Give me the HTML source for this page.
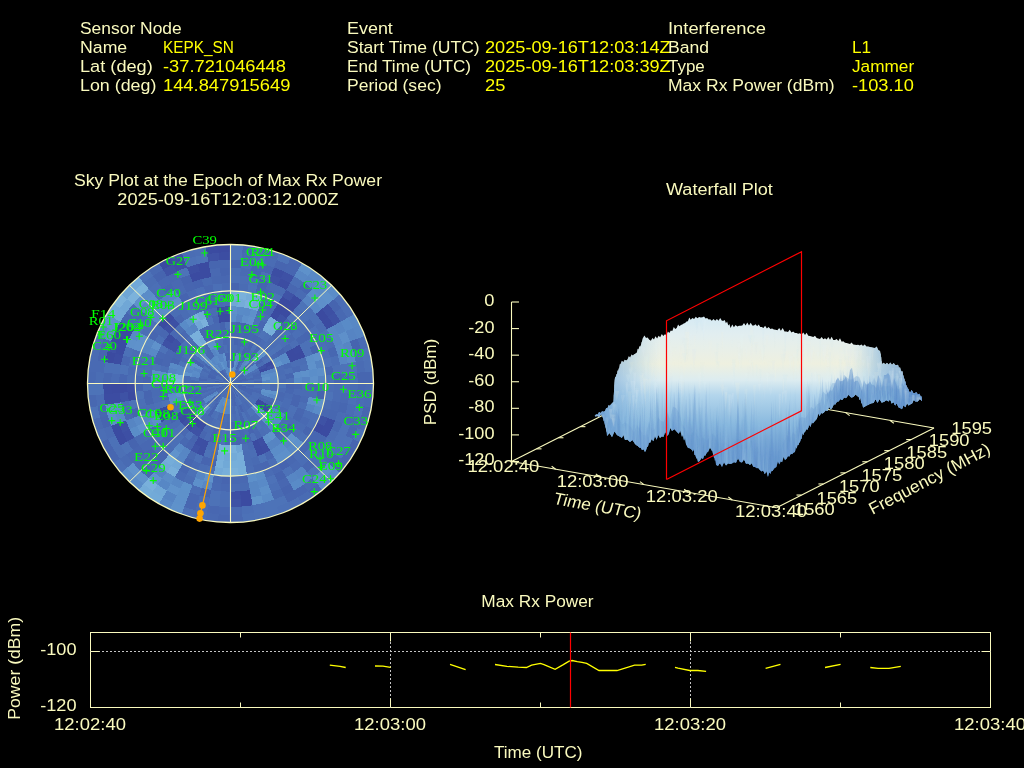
<!DOCTYPE html>
<html><head><meta charset="utf-8"><style>
html,body{margin:0;padding:0;background:#000;width:1024px;height:768px;overflow:hidden}
svg{display:block;will-change:transform}
text{font-family:"Liberation Sans",sans-serif;font-size:16.9px}
.ser{font-family:"Liberation Serif",serif;font-size:13px}
</style></head><body>
<svg width="1024" height="768" viewBox="0 0 1024 768">
<rect width="1024" height="768" fill="#000"/>
<text x="80.00" y="34.00" fill="#fafabe" textLength="101.72" lengthAdjust="spacingAndGlyphs">Sensor Node</text><text x="80.00" y="53.00" fill="#fafabe" textLength="47.22" lengthAdjust="spacingAndGlyphs">Name</text><text x="80.00" y="72.00" fill="#fafabe" textLength="72.77" lengthAdjust="spacingAndGlyphs">Lat (deg)</text><text x="80.00" y="91.00" fill="#fafabe" textLength="76.33" lengthAdjust="spacingAndGlyphs">Lon (deg)</text><text x="163.00" y="53.00" fill="#ffff00" textLength="70.89" lengthAdjust="spacingAndGlyphs">KEPK_SN</text><text x="163.00" y="72.00" fill="#ffff00" textLength="122.94" lengthAdjust="spacingAndGlyphs">-37.721046448</text><text x="163.00" y="91.00" fill="#ffff00" textLength="127.34" lengthAdjust="spacingAndGlyphs">144.847915649</text><text x="347.00" y="34.00" fill="#fafabe" textLength="45.84" lengthAdjust="spacingAndGlyphs">Event</text><text x="347.00" y="53.00" fill="#fafabe" textLength="132.72" lengthAdjust="spacingAndGlyphs">Start Time (UTC)</text><text x="347.00" y="72.00" fill="#fafabe" textLength="124.02" lengthAdjust="spacingAndGlyphs">End Time (UTC)</text><text x="347.00" y="91.00" fill="#fafabe" textLength="94.50" lengthAdjust="spacingAndGlyphs">Period (sec)</text><text x="485.00" y="53.00" fill="#ffff00" textLength="185.72" lengthAdjust="spacingAndGlyphs">2025-09-16T12:03:14Z</text><text x="485.00" y="72.00" fill="#ffff00" textLength="185.72" lengthAdjust="spacingAndGlyphs">2025-09-16T12:03:39Z</text><text x="485.00" y="91.00" fill="#ffff00" textLength="20.38" lengthAdjust="spacingAndGlyphs">25</text><text x="668.00" y="34.00" fill="#fafabe" textLength="97.91" lengthAdjust="spacingAndGlyphs">Interference</text><text x="668.00" y="53.00" fill="#fafabe" textLength="41.09" lengthAdjust="spacingAndGlyphs">Band</text><text x="668.00" y="72.00" fill="#fafabe" textLength="36.77" lengthAdjust="spacingAndGlyphs">Type</text><text x="668.00" y="91.00" fill="#fafabe" textLength="166.61" lengthAdjust="spacingAndGlyphs">Max Rx Power (dBm)</text><text x="852.00" y="53.00" fill="#ffff00" textLength="19.11" lengthAdjust="spacingAndGlyphs">L1</text><text x="852.00" y="72.00" fill="#ffff00" textLength="62.14" lengthAdjust="spacingAndGlyphs">Jammer</text><text x="852.00" y="91.00" fill="#ffff00" textLength="61.81" lengthAdjust="spacingAndGlyphs">-103.10</text><text x="73.92" y="186.00" fill="#fafabe" textLength="308.16" lengthAdjust="spacingAndGlyphs">Sky Plot at the Epoch of Max Rx Power</text><text x="117.31" y="205.00" fill="#fafabe" textLength="221.38" lengthAdjust="spacingAndGlyphs">2025-09-16T12:03:12.000Z</text><text x="665.92" y="195.00" fill="#fafabe" textLength="106.97" lengthAdjust="spacingAndGlyphs">Waterfall Plot</text><text x="481.36" y="607.00" fill="#fafabe" textLength="112.28" lengthAdjust="spacingAndGlyphs">Max Rx Power</text>
<rect x="90.5" y="632.5" width="900.0" height="75.0" fill="none" stroke="#fafabe" stroke-width="1"/><line x1="90" y1="651.5" x2="991" y2="651.5" stroke="#c4c4c4" stroke-width="1" stroke-dasharray="2 2"/><line x1="90.5" y1="651.5" x2="99.5" y2="651.5" stroke="#fafabe"/><line x1="981.5" y1="651.5" x2="990.5" y2="651.5" stroke="#fafabe"/><line x1="390.5" y1="632" x2="390.5" y2="708" stroke="#c4c4c4" stroke-width="1" stroke-dasharray="2 2" stroke-dashoffset="2"/><line x1="390.5" y1="632.5" x2="390.5" y2="641.5" stroke="#fafabe"/><line x1="390.5" y1="698.5" x2="390.5" y2="707.5" stroke="#fafabe"/><line x1="690.5" y1="632" x2="690.5" y2="708" stroke="#c4c4c4" stroke-width="1" stroke-dasharray="2 2" stroke-dashoffset="2"/><line x1="690.5" y1="632.5" x2="690.5" y2="641.5" stroke="#fafabe"/><line x1="690.5" y1="698.5" x2="690.5" y2="707.5" stroke="#fafabe"/><line x1="240.5" y1="632.5" x2="240.5" y2="637.5" stroke="#fafabe"/><line x1="240.5" y1="702.5" x2="240.5" y2="707.5" stroke="#fafabe"/><line x1="540.5" y1="632.5" x2="540.5" y2="637.5" stroke="#fafabe"/><line x1="540.5" y1="702.5" x2="540.5" y2="707.5" stroke="#fafabe"/><line x1="840.5" y1="632.5" x2="840.5" y2="637.5" stroke="#fafabe"/><line x1="840.5" y1="702.5" x2="840.5" y2="707.5" stroke="#fafabe"/><text x="40.16" y="655.00" fill="#fafabe" textLength="36.34" lengthAdjust="spacingAndGlyphs">-100</text><text x="40.16" y="711.00" fill="#fafabe" textLength="36.34" lengthAdjust="spacingAndGlyphs">-120</text><text x="54.05" y="730.00" fill="#fafabe" textLength="71.91" lengthAdjust="spacingAndGlyphs">12:02:40</text><text x="354.05" y="730.00" fill="#fafabe" textLength="71.91" lengthAdjust="spacingAndGlyphs">12:03:00</text><text x="654.05" y="730.00" fill="#fafabe" textLength="71.91" lengthAdjust="spacingAndGlyphs">12:03:20</text><text x="954.05" y="730.00" fill="#fafabe" textLength="71.91" lengthAdjust="spacingAndGlyphs">12:03:40</text><text x="494.04" y="758.00" fill="#fafabe" textLength="88.52" lengthAdjust="spacingAndGlyphs">Time (UTC)</text><text x="-31.37" y="668.30" fill="#fafabe" textLength="102.73" lengthAdjust="spacingAndGlyphs" transform="rotate(-90 20.0 668.3)">Power (dBm)</text>
<polyline points="329.8,665.1 340.0,666.3 345.7,667.5" fill="none" stroke="#ffff00" stroke-width="1.3"/><polyline points="375.0,666.0 383.0,666.2 390.5,667.3" fill="none" stroke="#ffff00" stroke-width="1.3"/><polyline points="450.0,664.3 465.6,669.6" fill="none" stroke="#ffff00" stroke-width="1.3"/><polyline points="495.0,664.5 507.0,666.4 518.2,667.2 526.4,667.5 531.6,665.2 540.4,663.4 544.0,664.6 555.1,669.3 563.3,664.6 569.1,661.1 572.1,660.5 577.3,661.7 582.0,662.3 586.7,663.4 599.0,670.5 617.0,670.5 634.6,665.2 641.6,665.2 645.7,664.3" fill="none" stroke="#ffff00" stroke-width="1.3"/><polyline points="675.0,667.3 678.0,668.2 689.7,670.5 697.9,670.5 706.1,671.4" fill="none" stroke="#ffff00" stroke-width="1.3"/><polyline points="765.6,668.4 780.5,664.4" fill="none" stroke="#ffff00" stroke-width="1.3"/><polyline points="825.0,667.5 840.6,664.4" fill="none" stroke="#ffff00" stroke-width="1.3"/><polyline points="870.3,667.5 878.1,668.4 889.0,668.4 900.8,666.3" fill="none" stroke="#ffff00" stroke-width="1.3"/><line x1="570.5" y1="632.5" x2="570.5" y2="707.5" stroke="#ff0000" stroke-width="1.2"/>
<g shape-rendering="crispEdges"><polygon points="230.5,375.8 230.7,375.8 231.0,375.8 231.2,375.8 230.5,383.5 230.5,383.5 230.5,383.5 230.5,383.5" fill="#598bc7"/><polygon points="230.5,368.1 231.0,368.1 231.4,368.1 231.9,368.1 231.2,375.8 231.0,375.8 230.7,375.8 230.5,375.8" fill="#5a8dc8"/><polygon points="230.5,360.3 231.2,360.3 231.9,360.4 232.6,360.4 231.9,368.1 231.4,368.1 231.0,368.1 230.5,368.1" fill="#4d72b8"/><polygon points="230.5,352.6 231.4,352.6 232.3,352.7 233.3,352.7 232.6,360.4 231.9,360.4 231.2,360.3 230.5,360.3" fill="#496bb3"/><polygon points="230.5,344.9 231.7,344.9 232.8,345.0 234.0,345.0 233.3,352.7 232.3,352.7 231.4,352.6 230.5,352.6" fill="#4a6cb4"/><polygon points="230.5,337.2 231.9,337.2 233.3,337.2 234.7,337.3 234.0,345.0 232.8,345.0 231.7,344.9 230.5,344.9" fill="#4a6db4"/><polygon points="230.5,329.4 232.1,329.5 233.7,329.5 235.3,329.7 234.7,337.3 233.3,337.2 231.9,337.2 230.5,337.2" fill="#4766b1"/><polygon points="230.5,321.7 232.3,321.7 234.2,321.8 236.0,322.0 235.3,329.7 233.7,329.5 232.1,329.5 230.5,329.4" fill="#4a6cb4"/><polygon points="230.5,314.0 232.6,314.0 234.7,314.1 236.7,314.3 236.0,322.0 234.2,321.8 232.3,321.7 230.5,321.7" fill="#5b8ec9"/><polygon points="230.5,306.3 232.8,306.3 235.1,306.4 237.4,306.6 236.7,314.3 234.7,314.1 232.6,314.0 230.5,314.0" fill="#5e90ca"/><polygon points="230.5,298.6 233.0,298.6 235.6,298.7 238.1,298.9 237.4,306.6 235.1,306.4 232.8,306.3 230.5,306.3" fill="#70a7d6"/><polygon points="230.5,290.8 233.3,290.9 236.0,291.0 238.8,291.2 238.1,298.9 235.6,298.7 233.0,298.6 230.5,298.6" fill="#73aad8"/><polygon points="230.5,283.1 233.5,283.2 236.5,283.3 239.5,283.5 238.8,291.2 236.0,291.0 233.3,290.9 230.5,290.8" fill="#4765b0"/><polygon points="230.5,275.4 233.7,275.4 237.0,275.6 240.2,275.8 239.5,283.5 236.5,283.3 233.5,283.2 230.5,283.1" fill="#4c70b7"/><polygon points="230.5,267.7 234.0,267.7 237.4,267.9 240.9,268.1 240.2,275.8 237.0,275.6 233.7,275.4 230.5,275.4" fill="#4b6fb5"/><polygon points="230.5,259.9 234.2,260.0 237.9,260.2 241.6,260.4 240.9,268.1 237.4,267.9 234.0,267.7 230.5,267.7" fill="#4664af"/><polygon points="230.5,252.2 234.4,252.3 238.4,252.4 242.3,252.7 241.6,260.4 237.9,260.2 234.2,260.0 230.5,259.9" fill="#4d73b8"/><polygon points="230.5,244.5 234.7,244.6 238.8,244.7 243.0,245.0 242.3,252.7 238.4,252.4 234.4,252.3 230.5,252.2" fill="#4d73b8"/><polygon points="231.2,375.8 231.4,375.8 231.7,375.9 231.9,375.9 230.5,383.5 230.5,383.5 230.5,383.5 230.5,383.5" fill="#5c8ec9"/><polygon points="231.9,368.1 232.3,368.2 232.8,368.2 233.3,368.3 231.9,375.9 231.7,375.9 231.4,375.8 231.2,375.8" fill="#5b8dc9"/><polygon points="232.6,360.4 233.3,360.5 234.0,360.6 234.6,360.7 233.3,368.3 232.8,368.2 232.3,368.2 231.9,368.1" fill="#4766b0"/><polygon points="233.3,352.7 234.2,352.8 235.1,352.9 236.0,353.1 234.6,360.7 234.0,360.6 233.3,360.5 232.6,360.4" fill="#4664af"/><polygon points="234.0,345.0 235.1,345.1 236.3,345.3 237.4,345.5 236.0,353.1 235.1,352.9 234.2,352.8 233.3,352.7" fill="#4a6cb4"/><polygon points="234.7,337.3 236.0,337.5 237.4,337.7 238.8,337.9 237.4,345.5 236.3,345.3 235.1,345.1 234.0,345.0" fill="#4664b0"/><polygon points="235.3,329.7 237.0,329.8 238.6,330.0 240.2,330.3 238.8,337.9 237.4,337.7 236.0,337.5 234.7,337.3" fill="#4767b1"/><polygon points="236.0,322.0 237.9,322.1 239.7,322.4 241.5,322.7 240.2,330.3 238.6,330.0 237.0,329.8 235.3,329.7" fill="#4867b1"/><polygon points="236.7,314.3 238.8,314.5 240.9,314.7 242.9,315.1 241.5,322.7 239.7,322.4 237.9,322.1 236.0,322.0" fill="#5684c3"/><polygon points="237.4,306.6 239.7,306.8 242.0,307.1 244.3,307.5 242.9,315.1 240.9,314.7 238.8,314.5 236.7,314.3" fill="#598bc7"/><polygon points="238.1,298.9 240.6,299.1 243.2,299.5 245.7,299.8 244.3,307.5 242.0,307.1 239.7,306.8 237.4,306.6" fill="#75acd9"/><polygon points="238.8,291.2 241.6,291.5 244.3,291.8 247.1,292.2 245.7,299.8 243.2,299.5 240.6,299.1 238.1,298.9" fill="#7ab1db"/><polygon points="239.5,283.5 242.5,283.8 245.5,284.2 248.4,284.6 247.1,292.2 244.3,291.8 241.6,291.5 238.8,291.2" fill="#4a6cb4"/><polygon points="240.2,275.8 243.4,276.1 246.6,276.5 249.8,277.0 248.4,284.6 245.5,284.2 242.5,283.8 239.5,283.5" fill="#4b6eb5"/><polygon points="240.9,268.1 244.3,268.4 247.8,268.9 251.2,269.4 249.8,277.0 246.6,276.5 243.4,276.1 240.2,275.8" fill="#496bb3"/><polygon points="241.6,260.4 245.3,260.8 248.9,261.2 252.6,261.8 251.2,269.4 247.8,268.9 244.3,268.4 240.9,268.1" fill="#4b6eb5"/><polygon points="242.3,252.7 246.2,253.1 250.1,253.6 254.0,254.2 252.6,261.8 248.9,261.2 245.3,260.8 241.6,260.4" fill="#496bb3"/><polygon points="243.0,245.0 247.1,245.4 251.2,246.0 255.3,246.6 254.0,254.2 250.1,253.6 246.2,253.1 242.3,252.7" fill="#4868b2"/><polygon points="231.9,375.9 232.1,375.9 232.3,376.0 232.6,376.0 230.5,383.5 230.5,383.5 230.5,383.5 230.5,383.5" fill="#6094cc"/><polygon points="233.3,368.3 233.7,368.4 234.2,368.5 234.6,368.6 232.6,376.0 232.3,376.0 232.1,375.9 231.9,375.9" fill="#6094cc"/><polygon points="234.6,360.7 235.3,360.8 236.0,361.0 236.7,361.1 234.6,368.6 234.2,368.5 233.7,368.4 233.3,368.3" fill="#5e91cb"/><polygon points="236.0,353.1 236.9,353.2 237.8,353.4 238.7,353.7 236.7,361.1 236.0,361.0 235.3,360.8 234.6,360.7" fill="#5c8fc9"/><polygon points="237.4,345.5 238.5,345.7 239.7,345.9 240.8,346.2 238.7,353.7 237.8,353.4 236.9,353.2 236.0,353.1" fill="#4869b2"/><polygon points="238.8,337.9 240.1,338.1 241.5,338.4 242.8,338.7 240.8,346.2 239.7,345.9 238.5,345.7 237.4,345.5" fill="#4867b1"/><polygon points="240.2,330.3 241.7,330.6 243.3,330.9 244.9,331.3 242.8,338.7 241.5,338.4 240.1,338.1 238.8,337.9" fill="#4868b2"/><polygon points="241.5,322.7 243.4,323.0 245.2,323.4 246.9,323.8 244.9,331.3 243.3,330.9 241.7,330.6 240.2,330.3" fill="#4665b0"/><polygon points="242.9,315.1 245.0,315.4 247.0,315.9 249.0,316.4 246.9,323.8 245.2,323.4 243.4,323.0 241.5,322.7" fill="#5d90ca"/><polygon points="244.3,307.5 246.6,307.9 248.8,308.4 251.1,308.9 249.0,316.4 247.0,315.9 245.0,315.4 242.9,315.1" fill="#598ac7"/><polygon points="245.7,299.8 248.2,300.3 250.7,300.8 253.1,301.4 251.1,308.9 248.8,308.4 246.6,307.9 244.3,307.5" fill="#7ab1db"/><polygon points="247.1,292.2 249.8,292.7 252.5,293.3 255.2,294.0 253.1,301.4 250.7,300.8 248.2,300.3 245.7,299.8" fill="#74acd8"/><polygon points="248.4,284.6 251.4,285.2 254.3,285.8 257.2,286.5 255.2,294.0 252.5,293.3 249.8,292.7 247.1,292.2" fill="#4d73b8"/><polygon points="249.8,277.0 253.0,277.6 256.1,278.3 259.3,279.1 257.2,286.5 254.3,285.8 251.4,285.2 248.4,284.6" fill="#4c71b7"/><polygon points="251.2,269.4 254.6,270.1 258.0,270.8 261.3,271.6 259.3,279.1 256.1,278.3 253.0,277.6 249.8,277.0" fill="#4664af"/><polygon points="252.6,261.8 256.2,262.5 259.8,263.3 263.4,264.2 261.3,271.6 258.0,270.8 254.6,270.1 251.2,269.4" fill="#4767b1"/><polygon points="254.0,254.2 257.8,254.9 261.6,255.8 265.5,256.7 263.4,264.2 259.8,263.3 256.2,262.5 252.6,261.8" fill="#4d72b8"/><polygon points="255.3,246.6 259.4,247.4 263.5,248.2 267.5,249.2 265.5,256.7 261.6,255.8 257.8,254.9 254.0,254.2" fill="#496bb3"/><polygon points="232.6,376.0 232.8,376.1 233.0,376.2 233.2,376.2 230.5,383.5 230.5,383.5 230.5,383.5 230.5,383.5" fill="#6094cc"/><polygon points="234.6,368.6 235.1,368.7 235.5,368.8 235.9,369.0 233.2,376.2 233.0,376.2 232.8,376.1 232.6,376.0" fill="#598ac6"/><polygon points="236.7,361.1 237.3,361.3 238.0,361.5 238.7,361.7 235.9,369.0 235.5,368.8 235.1,368.7 234.6,368.6" fill="#5685c3"/><polygon points="238.7,353.7 239.6,353.9 240.5,354.2 241.4,354.5 238.7,361.7 238.0,361.5 237.3,361.3 236.7,361.1" fill="#5b8ec9"/><polygon points="240.8,346.2 241.9,346.5 243.0,346.8 244.1,347.2 241.4,354.5 240.5,354.2 239.6,353.9 238.7,353.7" fill="#4c70b6"/><polygon points="242.8,338.7 244.2,339.1 245.5,339.5 246.8,340.0 244.1,347.2 243.0,346.8 241.9,346.5 240.8,346.2" fill="#4868b1"/><polygon points="244.9,331.3 246.4,331.7 248.0,332.2 249.5,332.7 246.8,340.0 245.5,339.5 244.2,339.1 242.8,338.7" fill="#4765b0"/><polygon points="246.9,323.8 248.7,324.3 250.5,324.9 252.2,325.4 249.5,332.7 248.0,332.2 246.4,331.7 244.9,331.3" fill="#4869b2"/><polygon points="249.0,316.4 251.0,316.9 253.0,317.5 255.0,318.2 252.2,325.4 250.5,324.9 248.7,324.3 246.9,323.8" fill="#6093cc"/><polygon points="251.1,308.9 253.3,309.5 255.5,310.2 257.7,310.9 255.0,318.2 253.0,317.5 251.0,316.9 249.0,316.4" fill="#5d90ca"/><polygon points="253.1,301.4 255.6,302.1 258.0,302.9 260.4,303.7 257.7,310.9 255.5,310.2 253.3,309.5 251.1,308.9" fill="#70a7d6"/><polygon points="255.2,294.0 257.8,294.7 260.5,295.5 263.1,296.4 260.4,303.7 258.0,302.9 255.6,302.1 253.1,301.4" fill="#72a9d7"/><polygon points="257.2,286.5 260.1,287.3 263.0,288.2 265.8,289.2 263.1,296.4 260.5,295.5 257.8,294.7 255.2,294.0" fill="#4765b0"/><polygon points="259.3,279.1 262.4,279.9 265.5,280.9 268.5,281.9 265.8,289.2 263.0,288.2 260.1,287.3 257.2,286.5" fill="#4664b0"/><polygon points="261.3,271.6 264.7,272.5 268.0,273.5 271.3,274.7 268.5,281.9 265.5,280.9 262.4,279.9 259.3,279.1" fill="#4c70b6"/><polygon points="263.4,264.2 267.0,265.1 270.5,266.2 274.0,267.4 271.3,274.7 268.0,273.5 264.7,272.5 261.3,271.6" fill="#4766b1"/><polygon points="265.5,256.7 269.2,257.7 273.0,258.9 276.7,260.1 274.0,267.4 270.5,266.2 267.0,265.1 263.4,264.2" fill="#4a6cb4"/><polygon points="267.5,249.2 271.5,250.3 275.5,251.6 279.4,252.9 276.7,260.1 273.0,258.9 269.2,257.7 265.5,256.7" fill="#496bb3"/><polygon points="233.2,376.2 233.4,376.3 233.6,376.4 233.9,376.5 230.5,383.5 230.5,383.5 230.5,383.5 230.5,383.5" fill="#4767b1"/><polygon points="235.9,369.0 236.4,369.1 236.8,369.3 237.2,369.5 233.9,376.5 233.6,376.4 233.4,376.3 233.2,376.2" fill="#4b6fb6"/><polygon points="238.7,361.7 239.3,362.0 239.9,362.2 240.6,362.5 237.2,369.5 236.8,369.3 236.4,369.1 235.9,369.0" fill="#4766b0"/><polygon points="241.4,354.5 242.2,354.8 243.1,355.1 243.9,355.5 240.6,362.5 239.9,362.2 239.3,362.0 238.7,361.7" fill="#4b6eb5"/><polygon points="244.1,347.2 245.2,347.6 246.2,348.0 247.3,348.5 243.9,355.5 243.1,355.1 242.2,354.8 241.4,354.5" fill="#4765b0"/><polygon points="246.8,340.0 248.1,340.4 249.4,341.0 250.6,341.5 247.3,348.5 246.2,348.0 245.2,347.6 244.1,347.2" fill="#496ab3"/><polygon points="249.5,332.7 251.0,333.3 252.5,333.9 254.0,334.5 250.6,341.5 249.4,341.0 248.1,340.4 246.8,340.0" fill="#4767b1"/><polygon points="252.2,325.4 254.0,326.1 255.7,326.8 257.4,327.5 254.0,334.5 252.5,333.9 251.0,333.3 249.5,332.7" fill="#4868b1"/><polygon points="255.0,318.2 256.9,318.9 258.8,319.7 260.7,320.5 257.4,327.5 255.7,326.8 254.0,326.1 252.2,325.4" fill="#4d73b8"/><polygon points="257.7,310.9 259.8,311.7 262.0,312.6 264.1,313.5 260.7,320.5 258.8,319.7 256.9,318.9 255.0,318.2" fill="#4c70b7"/><polygon points="260.4,303.7 262.8,304.6 265.1,305.5 267.4,306.5 264.1,313.5 262.0,312.6 259.8,311.7 257.7,310.9" fill="#4868b2"/><polygon points="263.1,296.4 265.7,297.4 268.3,298.4 270.8,299.5 267.4,306.5 265.1,305.5 262.8,304.6 260.4,303.7" fill="#4d72b7"/><polygon points="265.8,289.2 268.6,290.2 271.4,291.3 274.1,292.5 270.8,299.5 268.3,298.4 265.7,297.4 263.1,296.4" fill="#4767b1"/><polygon points="268.5,281.9 271.6,283.0 274.6,284.2 277.5,285.5 274.1,292.5 271.4,291.3 268.6,290.2 265.8,289.2" fill="#496ab3"/><polygon points="271.3,274.7 274.5,275.9 277.7,277.1 280.9,278.5 277.5,285.5 274.6,284.2 271.6,283.0 268.5,281.9" fill="#3e51a5"/><polygon points="274.0,267.4 277.4,268.7 280.8,270.0 284.2,271.5 280.9,278.5 277.7,277.1 274.5,275.9 271.3,274.7" fill="#3c4ea3"/><polygon points="276.7,260.1 280.4,261.5 284.0,263.0 287.6,264.5 284.2,271.5 280.8,270.0 277.4,268.7 274.0,267.4" fill="#4765b0"/><polygon points="279.4,252.9 283.3,254.3 287.1,255.9 290.9,257.5 287.6,264.5 284.0,263.0 280.4,261.5 276.7,260.1" fill="#4d73b8"/><polygon points="233.9,376.5 234.1,376.6 234.3,376.7 234.5,376.8 230.5,383.5 230.5,383.5 230.5,383.5 230.5,383.5" fill="#4767b1"/><polygon points="237.2,369.5 237.6,369.7 238.0,369.9 238.4,370.1 234.5,376.8 234.3,376.7 234.1,376.6 233.9,376.5" fill="#4868b1"/><polygon points="240.6,362.5 241.2,362.8 241.8,363.1 242.4,363.4 238.4,370.1 238.0,369.9 237.6,369.7 237.2,369.5" fill="#4c70b6"/><polygon points="243.9,355.5 244.8,355.9 245.6,356.3 246.4,356.7 242.4,363.4 241.8,363.1 241.2,362.8 240.6,362.5" fill="#4869b2"/><polygon points="247.3,348.5 248.3,349.0 249.4,349.5 250.4,350.1 246.4,356.7 245.6,356.3 244.8,355.9 243.9,355.5" fill="#4868b2"/><polygon points="250.6,341.5 251.9,342.1 253.1,342.7 254.3,343.4 250.4,350.1 249.4,349.5 248.3,349.0 247.3,348.5" fill="#4765b0"/><polygon points="254.0,334.5 255.5,335.2 256.9,335.9 258.3,336.7 254.3,343.4 253.1,342.7 251.9,342.1 250.6,341.5" fill="#4765b0"/><polygon points="257.4,327.5 259.0,328.3 260.7,329.1 262.3,330.0 258.3,336.7 256.9,335.9 255.5,335.2 254.0,334.5" fill="#4a6db4"/><polygon points="260.7,320.5 262.6,321.4 264.4,322.3 266.2,323.3 262.3,330.0 260.7,329.1 259.0,328.3 257.4,327.5" fill="#4867b1"/><polygon points="264.1,313.5 266.2,314.5 268.2,315.5 270.2,316.6 266.2,323.3 264.4,322.3 262.6,321.4 260.7,320.5" fill="#4a6db5"/><polygon points="267.4,306.5 269.7,307.6 272.0,308.7 274.2,309.9 270.2,316.6 268.2,315.5 266.2,314.5 264.1,313.5" fill="#4969b2"/><polygon points="270.8,299.5 273.3,300.7 275.7,301.9 278.2,303.2 274.2,309.9 272.0,308.7 269.7,307.6 267.4,306.5" fill="#496bb3"/><polygon points="274.1,292.5 276.9,293.8 279.5,295.1 282.1,296.6 278.2,303.2 275.7,301.9 273.3,300.7 270.8,299.5" fill="#4d73b8"/><polygon points="277.5,285.5 280.4,286.9 283.3,288.3 286.1,289.9 282.1,296.6 279.5,295.1 276.9,293.8 274.1,292.5" fill="#496bb3"/><polygon points="280.9,278.5 284.0,280.0 287.1,281.5 290.1,283.2 286.1,289.9 283.3,288.3 280.4,286.9 277.5,285.5" fill="#3c4da2"/><polygon points="284.2,271.5 287.5,273.1 290.8,274.7 294.1,276.5 290.1,283.2 287.1,281.5 284.0,280.0 280.9,278.5" fill="#3e51a5"/><polygon points="287.6,264.5 291.1,266.2 294.6,267.9 298.0,269.8 294.1,276.5 290.8,274.7 287.5,273.1 284.2,271.5" fill="#4766b1"/><polygon points="290.9,257.5 294.7,259.3 298.4,261.2 302.0,263.1 298.0,269.8 294.6,267.9 291.1,266.2 287.6,264.5" fill="#4766b0"/><polygon points="234.5,376.8 234.7,376.9 234.9,377.0 235.1,377.2 230.5,383.5 230.5,383.5 230.5,383.5 230.5,383.5" fill="#4d72b8"/><polygon points="238.4,370.1 238.8,370.4 239.2,370.6 239.6,370.8 235.1,377.2 234.9,377.0 234.7,376.9 234.5,376.8" fill="#4c71b7"/><polygon points="242.4,363.4 243.0,363.8 243.6,364.1 244.2,364.5 239.6,370.8 239.2,370.6 238.8,370.4 238.4,370.1" fill="#5787c5"/><polygon points="246.4,356.7 247.2,357.2 248.0,357.7 248.7,358.2 244.2,364.5 243.6,364.1 243.0,363.8 242.4,363.4" fill="#5787c4"/><polygon points="250.4,350.1 251.4,350.6 252.3,351.2 253.3,351.9 248.7,358.2 248.0,357.7 247.2,357.2 246.4,356.7" fill="#4b6fb6"/><polygon points="254.3,343.4 255.5,344.1 256.7,344.8 257.8,345.5 253.3,351.9 252.3,351.2 251.4,350.6 250.4,350.1" fill="#4d73b8"/><polygon points="258.3,336.7 259.7,337.5 261.1,338.3 262.4,339.2 257.8,345.5 256.7,344.8 255.5,344.1 254.3,343.4" fill="#4767b1"/><polygon points="262.3,330.0 263.9,330.9 265.4,331.9 267.0,332.9 262.4,339.2 261.1,338.3 259.7,337.5 258.3,336.7" fill="#4d73b8"/><polygon points="266.2,323.3 268.0,324.3 269.8,325.4 271.5,326.6 267.0,332.9 265.4,331.9 263.9,330.9 262.3,330.0" fill="#7ab1db"/><polygon points="270.2,316.6 272.2,317.8 274.2,319.0 276.1,320.2 271.5,326.6 269.8,325.4 268.0,324.3 266.2,323.3" fill="#77aeda"/><polygon points="274.2,309.9 276.4,311.2 278.5,312.5 280.6,313.9 276.1,320.2 274.2,319.0 272.2,317.8 270.2,316.6" fill="#3b4ba1"/><polygon points="278.2,303.2 280.5,304.6 282.9,306.1 285.2,307.6 280.6,313.9 278.5,312.5 276.4,311.2 274.2,309.9" fill="#3b4aa0"/><polygon points="282.1,296.6 284.7,298.1 287.3,299.6 289.7,301.3 285.2,307.6 282.9,306.1 280.5,304.6 278.2,303.2" fill="#3b4aa0"/><polygon points="286.1,289.9 288.9,291.5 291.6,293.2 294.3,294.9 289.7,301.3 287.3,299.6 284.7,298.1 282.1,296.6" fill="#3f53a6"/><polygon points="290.1,283.2 293.1,284.9 296.0,286.7 298.9,288.6 294.3,294.9 291.6,293.2 288.9,291.5 286.1,289.9" fill="#4867b1"/><polygon points="294.1,276.5 297.2,278.3 300.3,280.3 303.4,282.3 298.9,288.6 296.0,286.7 293.1,284.9 290.1,283.2" fill="#4b6fb6"/><polygon points="298.0,269.8 301.4,271.8 304.7,273.8 308.0,276.0 303.4,282.3 300.3,280.3 297.2,278.3 294.1,276.5" fill="#5888c5"/><polygon points="302.0,263.1 305.6,265.2 309.1,267.4 312.5,269.6 308.0,276.0 304.7,273.8 301.4,271.8 298.0,269.8" fill="#5e91ca"/><polygon points="235.1,377.2 235.2,377.3 235.4,377.4 235.6,377.6 230.5,383.5 230.5,383.5 230.5,383.5 230.5,383.5" fill="#4a6db4"/><polygon points="239.6,370.8 240.0,371.1 240.4,371.4 240.7,371.7 235.6,377.6 235.4,377.4 235.2,377.3 235.1,377.2" fill="#4868b2"/><polygon points="244.2,364.5 244.7,364.9 245.3,365.3 245.8,365.8 240.7,371.7 240.4,371.4 240.0,371.1 239.6,370.8" fill="#5786c4"/><polygon points="248.7,358.2 249.5,358.7 250.2,359.3 250.9,359.8 245.8,365.8 245.3,365.3 244.7,364.9 244.2,364.5" fill="#5d8fc9"/><polygon points="253.3,351.9 254.2,352.5 255.1,353.2 256.0,353.9 250.9,359.8 250.2,359.3 249.5,358.7 248.7,358.2" fill="#4665b0"/><polygon points="257.8,345.5 259.0,346.3 260.1,347.2 261.1,348.0 256.0,353.9 255.1,353.2 254.2,352.5 253.3,351.9" fill="#4867b1"/><polygon points="262.4,339.2 263.7,340.1 265.0,341.1 266.2,342.1 261.1,348.0 260.1,347.2 259.0,346.3 257.8,345.5" fill="#4a6cb4"/><polygon points="267.0,332.9 268.5,333.9 269.9,335.0 271.4,336.2 266.2,342.1 265.0,341.1 263.7,340.1 262.4,339.2" fill="#4c71b7"/><polygon points="271.5,326.6 273.2,327.8 274.8,329.0 276.5,330.3 271.4,336.2 269.9,335.0 268.5,333.9 267.0,332.9" fill="#77afda"/><polygon points="276.1,320.2 277.9,321.6 279.8,322.9 281.6,324.3 276.5,330.3 274.8,329.0 273.2,327.8 271.5,326.6" fill="#72aad8"/><polygon points="280.6,313.9 282.7,315.4 284.7,316.9 286.7,318.4 281.6,324.3 279.8,322.9 277.9,321.6 276.1,320.2" fill="#3e52a5"/><polygon points="285.2,307.6 287.4,309.2 289.6,310.8 291.8,312.5 286.7,318.4 284.7,316.9 282.7,315.4 280.6,313.9" fill="#3b4ba1"/><polygon points="289.7,301.3 292.2,303.0 294.6,304.8 296.9,306.6 291.8,312.5 289.6,310.8 287.4,309.2 285.2,307.6" fill="#3b4aa0"/><polygon points="294.3,294.9 296.9,296.8 299.5,298.7 302.0,300.7 296.9,306.6 294.6,304.8 292.2,303.0 289.7,301.3" fill="#3b4ba1"/><polygon points="298.9,288.6 301.7,290.6 304.4,292.6 307.1,294.8 302.0,300.7 299.5,298.7 296.9,296.8 294.3,294.9" fill="#496bb3"/><polygon points="303.4,282.3 306.4,284.4 309.3,286.6 312.2,288.9 307.1,294.8 304.4,292.6 301.7,290.6 298.9,288.6" fill="#4664b0"/><polygon points="308.0,276.0 311.1,278.2 314.3,280.5 317.3,282.9 312.2,288.9 309.3,286.6 306.4,284.4 303.4,282.3" fill="#5786c4"/><polygon points="312.5,269.6 315.9,272.0 319.2,274.5 322.4,277.0 317.3,282.9 314.3,280.5 311.1,278.2 308.0,276.0" fill="#5889c6"/><polygon points="235.6,377.6 235.8,377.7 236.0,377.9 236.1,378.0 230.5,383.5 230.5,383.5 230.5,383.5 230.5,383.5" fill="#4a6db4"/><polygon points="240.7,371.7 241.1,372.0 241.4,372.3 241.7,372.6 236.1,378.0 236.0,377.9 235.8,377.7 235.6,377.6" fill="#4766b0"/><polygon points="245.8,365.8 246.3,366.2 246.9,366.6 247.4,367.1 241.7,372.6 241.4,372.3 241.1,372.0 240.7,371.7" fill="#4969b2"/><polygon points="250.9,359.8 251.6,360.4 252.3,361.0 253.0,361.7 247.4,367.1 246.9,366.6 246.3,366.2 245.8,365.8" fill="#4d72b7"/><polygon points="256.0,353.9 256.9,354.7 257.8,355.4 258.6,356.2 253.0,361.7 252.3,361.0 251.6,360.4 250.9,359.8" fill="#6094cc"/><polygon points="261.1,348.0 262.2,348.9 263.2,349.8 264.2,350.7 258.6,356.2 257.8,355.4 256.9,354.7 256.0,353.9" fill="#5c8ec9"/><polygon points="266.2,342.1 267.5,343.1 268.7,344.2 269.8,345.3 264.2,350.7 263.2,349.8 262.2,348.9 261.1,348.0" fill="#4b6fb5"/><polygon points="271.4,336.2 272.8,337.4 274.1,338.6 275.4,339.8 269.8,345.3 268.7,344.2 267.5,343.1 266.2,342.1" fill="#4a6db4"/><polygon points="276.5,330.3 278.0,331.6 279.6,332.9 281.1,334.4 275.4,339.8 274.1,338.6 272.8,337.4 271.4,336.2" fill="#4766b0"/><polygon points="281.6,324.3 283.3,325.8 285.0,327.3 286.7,328.9 281.1,334.4 279.6,332.9 278.0,331.6 276.5,330.3" fill="#4664af"/><polygon points="286.7,318.4 288.6,320.0 290.5,321.7 292.3,323.4 286.7,328.9 285.0,327.3 283.3,325.8 281.6,324.3" fill="#4664af"/><polygon points="291.8,312.5 293.9,314.3 295.9,316.1 297.9,318.0 292.3,323.4 290.5,321.7 288.6,320.0 286.7,318.4" fill="#4d72b8"/><polygon points="296.9,306.6 299.2,308.5 301.4,310.5 303.5,312.5 297.9,318.0 295.9,316.1 293.9,314.3 291.8,312.5" fill="#4b6fb6"/><polygon points="302.0,300.7 304.4,302.7 306.8,304.9 309.1,307.1 303.5,312.5 301.4,310.5 299.2,308.5 296.9,306.6" fill="#4d73b8"/><polygon points="307.1,294.8 309.7,297.0 312.3,299.2 314.8,301.6 309.1,307.1 306.8,304.9 304.4,302.7 302.0,300.7" fill="#5684c3"/><polygon points="312.2,288.9 315.0,291.2 317.7,293.6 320.4,296.1 314.8,301.6 312.3,299.2 309.7,297.0 307.1,294.8" fill="#5b8ec9"/><polygon points="317.3,282.9 320.3,285.4 323.2,288.0 326.0,290.7 320.4,296.1 317.7,293.6 315.0,291.2 312.2,288.9" fill="#598bc7"/><polygon points="322.4,277.0 325.6,279.7 328.6,282.4 331.6,285.2 326.0,290.7 323.2,288.0 320.3,285.4 317.3,282.9" fill="#5d8fca"/><polygon points="236.1,378.0 236.3,378.2 236.4,378.4 236.6,378.5 230.5,383.5 230.5,383.5 230.5,383.5 230.5,383.5" fill="#4869b2"/><polygon points="241.7,372.6 242.1,372.9 242.4,373.2 242.7,373.6 236.6,378.5 236.4,378.4 236.3,378.2 236.1,378.0" fill="#4d73b8"/><polygon points="247.4,367.1 247.8,367.6 248.3,368.1 248.8,368.6 242.7,373.6 242.4,373.2 242.1,372.9 241.7,372.6" fill="#4765b0"/><polygon points="253.0,361.7 253.6,362.3 254.2,363.0 254.8,363.6 248.8,368.6 248.3,368.1 247.8,367.6 247.4,367.1" fill="#4a6cb4"/><polygon points="258.6,356.2 259.4,357.0 260.2,357.8 260.9,358.7 254.8,363.6 254.2,363.0 253.6,362.3 253.0,361.7" fill="#5d90ca"/><polygon points="264.2,350.7 265.2,351.7 266.1,352.7 267.0,353.7 260.9,358.7 260.2,357.8 259.4,357.0 258.6,356.2" fill="#5f92cb"/><polygon points="269.8,345.3 271.0,346.4 272.0,347.6 273.1,348.8 267.0,353.7 266.1,352.7 265.2,351.7 264.2,350.7" fill="#4b6fb6"/><polygon points="275.4,339.8 276.7,341.1 278.0,342.4 279.2,343.8 273.1,348.8 272.0,347.6 271.0,346.4 269.8,345.3" fill="#4b6fb6"/><polygon points="281.1,334.4 282.5,335.8 283.9,337.3 285.3,338.8 279.2,343.8 278.0,342.4 276.7,341.1 275.4,339.8" fill="#4c70b6"/><polygon points="286.7,328.9 288.3,330.5 289.8,332.2 291.4,333.9 285.3,338.8 283.9,337.3 282.5,335.8 281.1,334.4" fill="#4d72b8"/><polygon points="292.3,323.4 294.1,325.2 295.8,327.0 297.4,328.9 291.4,333.9 289.8,332.2 288.3,330.5 286.7,328.9" fill="#4869b2"/><polygon points="297.9,318.0 299.8,319.9 301.7,321.9 303.5,323.9 297.4,328.9 295.8,327.0 294.1,325.2 292.3,323.4" fill="#4b6eb5"/><polygon points="303.5,312.5 305.6,314.6 307.7,316.8 309.6,319.0 303.5,323.9 301.7,321.9 299.8,319.9 297.9,318.0" fill="#4d72b8"/><polygon points="309.1,307.1 311.4,309.3 313.6,311.6 315.7,314.0 309.6,319.0 307.7,316.8 305.6,314.6 303.5,312.5" fill="#4c71b7"/><polygon points="314.8,301.6 317.2,304.0 319.5,306.5 321.8,309.0 315.7,314.0 313.6,311.6 311.4,309.3 309.1,307.1" fill="#598ac7"/><polygon points="320.4,296.1 323.0,298.7 325.5,301.4 327.9,304.1 321.8,309.0 319.5,306.5 317.2,304.0 314.8,301.6" fill="#5e90ca"/><polygon points="326.0,290.7 328.7,293.4 331.4,296.2 334.0,299.1 327.9,304.1 325.5,301.4 323.0,298.7 320.4,296.1" fill="#5f92cb"/><polygon points="331.6,285.2 334.5,288.1 337.3,291.1 340.0,294.2 334.0,299.1 331.4,296.2 328.7,293.4 326.0,290.7" fill="#5b8dc8"/><polygon points="236.6,378.5 236.7,378.7 236.9,378.9 237.0,379.1 230.5,383.5 230.5,383.5 230.5,383.5 230.5,383.5" fill="#4a6db5"/><polygon points="242.7,373.6 243.0,373.9 243.2,374.3 243.5,374.6 237.0,379.1 236.9,378.9 236.7,378.7 236.6,378.5" fill="#496ab2"/><polygon points="248.8,368.6 249.2,369.1 249.6,369.7 250.0,370.2 243.5,374.6 243.2,374.3 243.0,373.9 242.7,373.6" fill="#5b8dc8"/><polygon points="254.8,363.6 255.4,364.3 256.0,365.1 256.5,365.8 250.0,370.2 249.6,369.7 249.2,369.1 248.8,368.6" fill="#5b8dc8"/><polygon points="260.9,358.7 261.7,359.6 262.4,360.4 263.0,361.4 256.5,365.8 256.0,365.1 255.4,364.3 254.8,363.6" fill="#4765b0"/><polygon points="267.0,353.7 267.9,354.8 268.7,355.8 269.5,356.9 263.0,361.4 262.4,360.4 261.7,359.6 260.9,358.7" fill="#4b6eb5"/><polygon points="273.1,348.8 274.1,350.0 275.1,351.2 276.1,352.5 269.5,356.9 268.7,355.8 267.9,354.8 267.0,353.7" fill="#4d73b8"/><polygon points="279.2,343.8 280.4,345.2 281.5,346.6 282.6,348.1 276.1,352.5 275.1,351.2 274.1,350.0 273.1,348.8" fill="#4d72b7"/><polygon points="285.3,338.8 286.6,340.4 287.9,342.0 289.1,343.6 282.6,348.1 281.5,346.6 280.4,345.2 279.2,343.8" fill="#4b6fb6"/><polygon points="291.4,333.9 292.8,335.6 294.2,337.4 295.6,339.2 289.1,343.6 287.9,342.0 286.6,340.4 285.3,338.8" fill="#496ab2"/><polygon points="297.4,328.9 299.0,330.8 300.6,332.8 302.1,334.8 295.6,339.2 294.2,337.4 292.8,335.6 291.4,333.9" fill="#4b6fb6"/><polygon points="303.5,323.9 305.3,326.0 307.0,328.2 308.6,330.3 302.1,334.8 300.6,332.8 299.0,330.8 297.4,328.9" fill="#4a6db4"/><polygon points="309.6,319.0 311.5,321.2 313.3,323.6 315.1,325.9 308.6,330.3 307.0,328.2 305.3,326.0 303.5,323.9" fill="#496bb3"/><polygon points="315.7,314.0 317.7,316.4 319.7,318.9 321.6,321.5 315.1,325.9 313.3,323.6 311.5,321.2 309.6,319.0" fill="#4c71b7"/><polygon points="321.8,309.0 324.0,311.7 326.1,314.3 328.1,317.1 321.6,321.5 319.7,318.9 317.7,316.4 315.7,314.0" fill="#3b4aa0"/><polygon points="327.9,304.1 330.2,306.9 332.5,309.7 334.6,312.6 328.1,317.1 326.1,314.3 324.0,311.7 321.8,309.0" fill="#3d50a4"/><polygon points="334.0,299.1 336.4,302.1 338.8,305.1 341.1,308.2 334.6,312.6 332.5,309.7 330.2,306.9 327.9,304.1" fill="#4664af"/><polygon points="340.0,294.2 342.7,297.3 345.2,300.5 347.6,303.8 341.1,308.2 338.8,305.1 336.4,302.1 334.0,299.1" fill="#4a6db5"/><polygon points="237.0,379.1 237.1,379.3 237.3,379.4 237.4,379.6 230.5,383.5 230.5,383.5 230.5,383.5 230.5,383.5" fill="#496bb3"/><polygon points="243.5,374.6 243.8,375.0 244.0,375.4 244.3,375.8 237.4,379.6 237.3,379.4 237.1,379.3 237.0,379.1" fill="#4867b1"/><polygon points="250.0,370.2 250.4,370.8 250.8,371.3 251.1,371.9 244.3,375.8 244.0,375.4 243.8,375.0 243.5,374.6" fill="#5c8fc9"/><polygon points="256.5,365.8 257.0,366.5 257.5,367.3 258.0,368.1 251.1,371.9 250.8,371.3 250.4,370.8 250.0,370.2" fill="#598bc7"/><polygon points="263.0,361.4 263.7,362.3 264.3,363.2 264.9,364.2 258.0,368.1 257.5,367.3 257.0,366.5 256.5,365.8" fill="#4a6db5"/><polygon points="269.5,356.9 270.3,358.0 271.1,359.2 271.8,360.3 264.9,364.2 264.3,363.2 263.7,362.3 263.0,361.4" fill="#4d72b8"/><polygon points="276.1,352.5 277.0,353.8 277.8,355.1 278.7,356.5 271.8,360.3 271.1,359.2 270.3,358.0 269.5,356.9" fill="#4868b1"/><polygon points="282.6,348.1 283.6,349.6 284.6,351.1 285.5,352.6 278.7,356.5 277.8,355.1 277.0,353.8 276.1,352.5" fill="#4664af"/><polygon points="289.1,343.6 290.2,345.3 291.4,347.0 292.4,348.8 285.5,352.6 284.6,351.1 283.6,349.6 282.6,348.1" fill="#4868b2"/><polygon points="295.6,339.2 296.9,341.1 298.1,343.0 299.3,344.9 292.4,348.8 291.4,347.0 290.2,345.3 289.1,343.6" fill="#4b6eb5"/><polygon points="302.1,334.8 303.5,336.8 304.9,338.9 306.2,341.0 299.3,344.9 298.1,343.0 296.9,341.1 295.6,339.2" fill="#4767b1"/><polygon points="308.6,330.3 310.1,332.6 311.6,334.9 313.1,337.2 306.2,341.0 304.9,338.9 303.5,336.8 302.1,334.8" fill="#4766b1"/><polygon points="315.1,325.9 316.8,328.3 318.4,330.8 319.9,333.3 313.1,337.2 311.6,334.9 310.1,332.6 308.6,330.3" fill="#4d72b8"/><polygon points="321.6,321.5 323.4,324.1 325.2,326.7 326.8,329.4 319.9,333.3 318.4,330.8 316.8,328.3 315.1,325.9" fill="#4b6eb5"/><polygon points="328.1,317.1 330.1,319.8 331.9,322.7 333.7,325.6 326.8,329.4 325.2,326.7 323.4,324.1 321.6,321.5" fill="#3b4ba1"/><polygon points="334.6,312.6 336.7,315.6 338.7,318.6 340.6,321.7 333.7,325.6 331.9,322.7 330.1,319.8 328.1,317.1" fill="#3e52a5"/><polygon points="341.1,308.2 343.3,311.4 345.4,314.6 347.5,317.9 340.6,321.7 338.7,318.6 336.7,315.6 334.6,312.6" fill="#4869b2"/><polygon points="347.6,303.8 350.0,307.1 352.2,310.5 354.3,314.0 347.5,317.9 345.4,314.6 343.3,311.4 341.1,308.2" fill="#4b6eb5"/><polygon points="237.4,379.6 237.5,379.8 237.6,380.0 237.7,380.2 230.5,383.5 230.5,383.5 230.5,383.5 230.5,383.5" fill="#4767b1"/><polygon points="244.3,375.8 244.5,376.2 244.7,376.6 244.9,377.0 237.7,380.2 237.6,380.0 237.5,379.8 237.4,379.6" fill="#496ab3"/><polygon points="251.1,371.9 251.5,372.5 251.8,373.1 252.1,373.7 244.9,377.0 244.7,376.6 244.5,376.2 244.3,375.8" fill="#4c70b7"/><polygon points="258.0,368.1 258.5,368.8 258.9,369.6 259.3,370.4 252.1,373.7 251.8,373.1 251.5,372.5 251.1,371.9" fill="#4d72b8"/><polygon points="264.9,364.2 265.5,365.2 266.0,366.2 266.5,367.2 259.3,370.4 258.9,369.6 258.5,368.8 258.0,368.1" fill="#3e52a5"/><polygon points="271.8,360.3 272.5,361.5 273.1,362.7 273.7,363.9 266.5,367.2 266.0,366.2 265.5,365.2 264.9,364.2" fill="#3b4ba1"/><polygon points="278.7,356.5 279.4,357.8 280.2,359.2 280.9,360.7 273.7,363.9 273.1,362.7 272.5,361.5 271.8,360.3" fill="#5b8dc8"/><polygon points="285.5,352.6 286.4,354.2 287.3,355.8 288.1,357.4 280.9,360.7 280.2,359.2 279.4,357.8 278.7,356.5" fill="#5889c6"/><polygon points="292.4,348.8 293.4,350.5 294.4,352.3 295.3,354.1 288.1,357.4 287.3,355.8 286.4,354.2 285.5,352.6" fill="#3b4aa0"/><polygon points="299.3,344.9 300.4,346.9 301.5,348.8 302.5,350.9 295.3,354.1 294.4,352.3 293.4,350.5 292.4,348.8" fill="#3b4ba1"/><polygon points="306.2,341.0 307.4,343.2 308.6,345.4 309.7,347.6 302.5,350.9 301.5,348.8 300.4,346.9 299.3,344.9" fill="#4c71b7"/><polygon points="313.1,337.2 314.4,339.5 315.7,341.9 316.9,344.3 309.7,347.6 308.6,345.4 307.4,343.2 306.2,341.0" fill="#4c71b7"/><polygon points="319.9,333.3 321.4,335.9 322.8,338.4 324.1,341.1 316.9,344.3 315.7,341.9 314.4,339.5 313.1,337.2" fill="#4b6fb6"/><polygon points="326.8,329.4 328.4,332.2 329.9,335.0 331.3,337.8 324.1,341.1 322.8,338.4 321.4,335.9 319.9,333.3" fill="#4d73b8"/><polygon points="333.7,325.6 335.4,328.5 337.0,331.5 338.5,334.5 331.3,337.8 329.9,335.0 328.4,332.2 326.8,329.4" fill="#5888c5"/><polygon points="340.6,321.7 342.4,324.9 344.1,328.0 345.7,331.3 338.5,334.5 337.0,331.5 335.4,328.5 333.7,325.6" fill="#5786c4"/><polygon points="347.5,317.9 349.4,321.2 351.2,324.6 352.9,328.0 345.7,331.3 344.1,328.0 342.4,324.9 340.6,321.7" fill="#598bc7"/><polygon points="354.3,314.0 356.4,317.5 358.3,321.1 360.1,324.8 352.9,328.0 351.2,324.6 349.4,321.2 347.5,317.9" fill="#5888c5"/><polygon points="237.7,380.2 237.8,380.4 237.9,380.6 238.0,380.9 230.5,383.5 230.5,383.5 230.5,383.5 230.5,383.5" fill="#4767b1"/><polygon points="244.9,377.0 245.1,377.4 245.3,377.8 245.4,378.2 238.0,380.9 237.9,380.6 237.8,380.4 237.7,380.2" fill="#496ab3"/><polygon points="252.1,373.7 252.4,374.3 252.6,374.9 252.9,375.6 245.4,378.2 245.3,377.8 245.1,377.4 244.9,377.0" fill="#4b6eb5"/><polygon points="259.3,370.4 259.7,371.3 260.0,372.1 260.4,372.9 252.9,375.6 252.6,374.9 252.4,374.3 252.1,373.7" fill="#496bb3"/><polygon points="266.5,367.2 267.0,368.2 267.4,369.2 267.8,370.3 260.4,372.9 260.0,372.1 259.7,371.3 259.3,370.4" fill="#3b4ba1"/><polygon points="273.7,363.9 274.3,365.1 274.8,366.4 275.3,367.7 267.8,370.3 267.4,369.2 267.0,368.2 266.5,367.2" fill="#3e51a5"/><polygon points="280.9,360.7 281.6,362.1 282.2,363.5 282.8,365.0 275.3,367.7 274.8,366.4 274.3,365.1 273.7,363.9" fill="#6094cc"/><polygon points="288.1,357.4 288.9,359.0 289.6,360.7 290.2,362.4 282.8,365.0 282.2,363.5 281.6,362.1 280.9,360.7" fill="#598bc7"/><polygon points="295.3,354.1 296.2,356.0 296.9,357.8 297.7,359.7 290.2,362.4 289.6,360.7 288.9,359.0 288.1,357.4" fill="#3b4aa0"/><polygon points="302.5,350.9 303.4,352.9 304.3,355.0 305.2,357.1 297.7,359.7 296.9,357.8 296.2,356.0 295.3,354.1" fill="#3b4aa0"/><polygon points="309.7,347.6 310.7,349.9 311.7,352.1 312.6,354.4 305.2,357.1 304.3,355.0 303.4,352.9 302.5,350.9" fill="#4c71b7"/><polygon points="316.9,344.3 318.0,346.8 319.1,349.3 320.1,351.8 312.6,354.4 311.7,352.1 310.7,349.9 309.7,347.6" fill="#4664af"/><polygon points="324.1,341.1 325.3,343.7 326.5,346.4 327.5,349.2 320.1,351.8 319.1,349.3 318.0,346.8 316.9,344.3" fill="#4b6fb6"/><polygon points="331.3,337.8 332.6,340.7 333.9,343.6 335.0,346.5 327.5,349.2 326.5,346.4 325.3,343.7 324.1,341.1" fill="#4a6db4"/><polygon points="338.5,334.5 339.9,337.6 341.2,340.7 342.5,343.9 335.0,346.5 333.9,343.6 332.6,340.7 331.3,337.8" fill="#5888c6"/><polygon points="345.7,331.3 347.2,334.6 348.6,337.9 349.9,341.2 342.5,343.9 341.2,340.7 339.9,337.6 338.5,334.5" fill="#5e90ca"/><polygon points="352.9,328.0 354.5,331.5 356.0,335.0 357.4,338.6 349.9,341.2 348.6,337.9 347.2,334.6 345.7,331.3" fill="#5684c3"/><polygon points="360.1,324.8 361.8,328.4 363.4,332.2 364.9,336.0 357.4,338.6 356.0,335.0 354.5,331.5 352.9,328.0" fill="#5786c4"/><polygon points="238.0,380.9 238.0,381.1 238.1,381.3 238.2,381.5 230.5,383.5 230.5,383.5 230.5,383.5 230.5,383.5" fill="#496bb3"/><polygon points="245.4,378.2 245.6,378.6 245.7,379.1 245.8,379.5 238.2,381.5 238.1,381.3 238.0,381.1 238.0,380.9" fill="#4664af"/><polygon points="252.9,375.6 253.1,376.2 253.3,376.9 253.5,377.5 245.8,379.5 245.7,379.1 245.6,378.6 245.4,378.2" fill="#4c71b7"/><polygon points="260.4,372.9 260.7,373.8 260.9,374.6 261.2,375.5 253.5,377.5 253.3,376.9 253.1,376.2 252.9,375.6" fill="#4867b1"/><polygon points="267.8,370.3 268.2,371.4 268.6,372.4 268.9,373.5 261.2,375.5 260.9,374.6 260.7,373.8 260.4,372.9" fill="#5786c4"/><polygon points="275.3,367.7 275.7,368.9 276.2,370.2 276.5,371.5 268.9,373.5 268.6,372.4 268.2,371.4 267.8,370.3" fill="#5684c3"/><polygon points="282.8,365.0 283.3,366.5 283.8,368.0 284.2,369.5 276.5,371.5 276.2,370.2 275.7,368.9 275.3,367.7" fill="#4b6eb5"/><polygon points="290.2,362.4 290.8,364.1 291.4,365.8 291.9,367.5 284.2,369.5 283.8,368.0 283.3,366.5 282.8,365.0" fill="#496bb3"/><polygon points="297.7,359.7 298.4,361.6 299.0,363.6 299.6,365.5 291.9,367.5 291.4,365.8 290.8,364.1 290.2,362.4" fill="#4b6eb5"/><polygon points="305.2,357.1 305.9,359.2 306.6,361.4 307.2,363.5 299.6,365.5 299.0,363.6 298.4,361.6 297.7,359.7" fill="#4b6eb5"/><polygon points="312.6,354.4 313.5,356.8 314.2,359.1 314.9,361.5 307.2,363.5 306.6,361.4 305.9,359.2 305.2,357.1" fill="#5e91ca"/><polygon points="320.1,351.8 321.0,354.4 321.8,356.9 322.6,359.5 314.9,361.5 314.2,359.1 313.5,356.8 312.6,354.4" fill="#6093cc"/><polygon points="327.5,349.2 328.5,351.9 329.4,354.7 330.3,357.5 322.6,359.5 321.8,356.9 321.0,354.4 320.1,351.8" fill="#4b6eb5"/><polygon points="335.0,346.5 336.1,349.5 337.0,352.5 337.9,355.5 330.3,357.5 329.4,354.7 328.5,351.9 327.5,349.2" fill="#4767b1"/><polygon points="342.5,343.9 343.6,347.1 344.7,350.3 345.6,353.5 337.9,355.5 337.0,352.5 336.1,349.5 335.0,346.5" fill="#598bc7"/><polygon points="349.9,341.2 351.2,344.6 352.3,348.1 353.3,351.5 345.6,353.5 344.7,350.3 343.6,347.1 342.5,343.9" fill="#5786c4"/><polygon points="357.4,338.6 358.7,342.2 359.9,345.8 361.0,349.5 353.3,351.5 352.3,348.1 351.2,344.6 349.9,341.2" fill="#4664af"/><polygon points="364.9,336.0 366.2,339.8 367.5,343.6 368.6,347.5 361.0,349.5 359.9,345.8 358.7,342.2 357.4,338.6" fill="#496bb3"/><polygon points="238.2,381.5 238.2,381.7 238.3,381.9 238.3,382.2 230.5,383.5 230.5,383.5 230.5,383.5 230.5,383.5" fill="#4b6fb6"/><polygon points="245.8,379.5 246.0,379.9 246.1,380.4 246.1,380.8 238.3,382.2 238.3,381.9 238.2,381.7 238.2,381.5" fill="#4766b1"/><polygon points="253.5,377.5 253.7,378.2 253.8,378.8 254.0,379.5 246.1,380.8 246.1,380.4 246.0,379.9 245.8,379.5" fill="#4868b1"/><polygon points="261.2,375.5 261.4,376.4 261.6,377.3 261.8,378.1 254.0,379.5 253.8,378.8 253.7,378.2 253.5,377.5" fill="#4869b2"/><polygon points="268.9,373.5 269.2,374.6 269.4,375.7 269.6,376.8 261.8,378.1 261.6,377.3 261.4,376.4 261.2,375.5" fill="#5c8fc9"/><polygon points="276.5,371.5 276.9,372.8 277.2,374.1 277.4,375.5 269.6,376.8 269.4,375.7 269.2,374.6 268.9,373.5" fill="#5a8cc8"/><polygon points="284.2,369.5 284.6,371.0 285.0,372.6 285.3,374.1 277.4,375.5 277.2,374.1 276.9,372.8 276.5,371.5" fill="#4a6db5"/><polygon points="291.9,367.5 292.3,369.3 292.7,371.0 293.1,372.8 285.3,374.1 285.0,372.6 284.6,371.0 284.2,369.5" fill="#4c70b6"/><polygon points="299.6,365.5 300.1,367.5 300.5,369.4 300.9,371.4 293.1,372.8 292.7,371.0 292.3,369.3 291.9,367.5" fill="#496ab3"/><polygon points="307.2,363.5 307.8,365.7 308.3,367.9 308.7,370.1 300.9,371.4 300.5,369.4 300.1,367.5 299.6,365.5" fill="#4c70b6"/><polygon points="314.9,361.5 315.5,363.9 316.1,366.3 316.6,368.7 308.7,370.1 308.3,367.9 307.8,365.7 307.2,363.5" fill="#5f92cb"/><polygon points="322.6,359.5 323.3,362.1 323.9,364.8 324.4,367.4 316.6,368.7 316.1,366.3 315.5,363.9 314.9,361.5" fill="#5685c3"/><polygon points="330.3,357.5 331.0,360.3 331.6,363.2 332.2,366.1 324.4,367.4 323.9,364.8 323.3,362.1 322.6,359.5" fill="#4d72b8"/><polygon points="337.9,355.5 338.7,358.6 339.4,361.6 340.0,364.7 332.2,366.1 331.6,363.2 331.0,360.3 330.3,357.5" fill="#4b6fb6"/><polygon points="345.6,353.5 346.5,356.8 347.2,360.1 347.9,363.4 340.0,364.7 339.4,361.6 338.7,358.6 337.9,355.5" fill="#5786c4"/><polygon points="353.3,351.5 354.2,355.0 355.0,358.5 355.7,362.0 347.9,363.4 347.2,360.1 346.5,356.8 345.6,353.5" fill="#598bc7"/><polygon points="361.0,349.5 361.9,353.2 362.8,357.0 363.5,360.7 355.7,362.0 355.0,358.5 354.2,355.0 353.3,351.5" fill="#4b6eb5"/><polygon points="368.6,347.5 369.6,351.4 370.5,355.4 371.3,359.4 363.5,360.7 362.8,357.0 361.9,353.2 361.0,349.5" fill="#4d72b8"/><polygon points="238.3,382.2 238.4,382.4 238.4,382.6 238.4,382.8 230.5,383.5 230.5,383.5 230.5,383.5 230.5,383.5" fill="#496ab2"/><polygon points="246.1,380.8 246.2,381.3 246.3,381.7 246.3,382.2 238.4,382.8 238.4,382.6 238.4,382.4 238.3,382.2" fill="#4a6db4"/><polygon points="254.0,379.5 254.1,380.1 254.2,380.8 254.2,381.5 246.3,382.2 246.3,381.7 246.2,381.3 246.1,380.8" fill="#4d72b7"/><polygon points="261.8,378.1 261.9,379.0 262.1,379.9 262.2,380.8 254.2,381.5 254.2,380.8 254.1,380.1 254.0,379.5" fill="#4c70b6"/><polygon points="269.6,376.8 269.8,377.9 270.0,379.0 270.1,380.1 262.2,380.8 262.1,379.9 261.9,379.0 261.8,378.1" fill="#6093cb"/><polygon points="277.4,375.5 277.7,376.8 277.8,378.1 278.0,379.5 270.1,380.1 270.0,379.0 269.8,377.9 269.6,376.8" fill="#598bc7"/><polygon points="285.3,374.1 285.5,375.7 285.7,377.2 285.9,378.8 278.0,379.5 277.8,378.1 277.7,376.8 277.4,375.5" fill="#4b6eb5"/><polygon points="293.1,372.8 293.4,374.5 293.6,376.3 293.8,378.1 285.9,378.8 285.7,377.2 285.5,375.7 285.3,374.1" fill="#4767b1"/><polygon points="300.9,371.4 301.2,373.4 301.5,375.4 301.7,377.4 293.8,378.1 293.6,376.3 293.4,374.5 293.1,372.8" fill="#5d8fc9"/><polygon points="308.7,370.1 309.1,372.3 309.4,374.5 309.6,376.8 301.7,377.4 301.5,375.4 301.2,373.4 300.9,371.4" fill="#5e91ca"/><polygon points="316.6,368.7 317.0,371.2 317.3,373.6 317.6,376.1 309.6,376.8 309.4,374.5 309.1,372.3 308.7,370.1" fill="#5b8ec9"/><polygon points="324.4,367.4 324.8,370.1 325.2,372.7 325.5,375.4 317.6,376.1 317.3,373.6 317.0,371.2 316.6,368.7" fill="#5d8fc9"/><polygon points="332.2,366.1 332.7,369.0 333.1,371.8 333.4,374.8 325.5,375.4 325.2,372.7 324.8,370.1 324.4,367.4" fill="#4767b1"/><polygon points="340.0,364.7 340.5,367.8 341.0,370.9 341.3,374.1 333.4,374.8 333.1,371.8 332.7,369.0 332.2,366.1" fill="#4d72b7"/><polygon points="347.9,363.4 348.4,366.7 348.9,370.1 349.2,373.4 341.3,374.1 341.0,370.9 340.5,367.8 340.0,364.7" fill="#4d73b8"/><polygon points="355.7,362.0 356.3,365.6 356.8,369.2 357.1,372.7 349.2,373.4 348.9,370.1 348.4,366.7 347.9,363.4" fill="#4d73b8"/><polygon points="363.5,360.7 364.1,364.5 364.6,368.3 365.0,372.1 357.1,372.7 356.8,369.2 356.3,365.6 355.7,362.0" fill="#4a6cb4"/><polygon points="371.3,359.4 372.0,363.4 372.5,367.4 373.0,371.4 365.0,372.1 364.6,368.3 364.1,364.5 363.5,360.7" fill="#4c70b6"/><polygon points="238.4,382.8 238.4,383.1 238.4,383.3 238.4,383.5 230.5,383.5 230.5,383.5 230.5,383.5 230.5,383.5" fill="#4869b2"/><polygon points="246.3,382.2 246.4,382.6 246.4,383.1 246.4,383.5 238.4,383.5 238.4,383.3 238.4,383.1 238.4,382.8" fill="#4d72b8"/><polygon points="254.2,381.5 254.3,382.2 254.3,382.8 254.3,383.5 246.4,383.5 246.4,383.1 246.4,382.6 246.3,382.2" fill="#4c71b7"/><polygon points="262.2,380.8 262.2,381.7 262.3,382.6 262.3,383.5 254.3,383.5 254.3,382.8 254.3,382.2 254.2,381.5" fill="#4869b2"/><polygon points="270.1,380.1 270.2,381.3 270.2,382.4 270.2,383.5 262.3,383.5 262.3,382.6 262.2,381.7 262.2,380.8" fill="#5685c3"/><polygon points="278.0,379.5 278.1,380.8 278.1,382.2 278.2,383.5 270.2,383.5 270.2,382.4 270.2,381.3 270.1,380.1" fill="#598bc7"/><polygon points="285.9,378.8 286.0,380.4 286.1,381.9 286.1,383.5 278.2,383.5 278.1,382.2 278.1,380.8 278.0,379.5" fill="#4a6cb4"/><polygon points="293.8,378.1 293.9,379.9 294.0,381.7 294.1,383.5 286.1,383.5 286.1,381.9 286.0,380.4 285.9,378.8" fill="#4c70b6"/><polygon points="301.7,377.4 301.9,379.5 302.0,381.5 302.0,383.5 294.1,383.5 294.0,381.7 293.9,379.9 293.8,378.1" fill="#598bc7"/><polygon points="309.6,376.8 309.8,379.0 309.9,381.3 309.9,383.5 302.0,383.5 302.0,381.5 301.9,379.5 301.7,377.4" fill="#5684c3"/><polygon points="317.6,376.1 317.7,378.6 317.9,381.0 317.9,383.5 309.9,383.5 309.9,381.3 309.8,379.0 309.6,376.8" fill="#5e91ca"/><polygon points="325.5,375.4 325.7,378.1 325.8,380.8 325.8,383.5 317.9,383.5 317.9,381.0 317.7,378.6 317.6,376.1" fill="#5685c3"/><polygon points="333.4,374.8 333.6,377.7 333.7,380.6 333.8,383.5 325.8,383.5 325.8,380.8 325.7,378.1 325.5,375.4" fill="#4c70b6"/><polygon points="341.3,374.1 341.5,377.2 341.7,380.4 341.7,383.5 333.8,383.5 333.7,380.6 333.6,377.7 333.4,374.8" fill="#4766b1"/><polygon points="349.2,373.4 349.5,376.8 349.6,380.1 349.7,383.5 341.7,383.5 341.7,380.4 341.5,377.2 341.3,374.1" fill="#4869b2"/><polygon points="357.1,372.7 357.4,376.3 357.6,379.9 357.6,383.5 349.7,383.5 349.6,380.1 349.5,376.8 349.2,373.4" fill="#4c70b6"/><polygon points="365.0,372.1 365.3,375.9 365.5,379.7 365.6,383.5 357.6,383.5 357.6,379.9 357.4,376.3 357.1,372.7" fill="#4766b0"/><polygon points="373.0,371.4 373.3,375.4 373.4,379.5 373.5,383.5 365.6,383.5 365.5,379.7 365.3,375.9 365.0,372.1" fill="#4766b0"/><polygon points="238.4,383.5 238.4,383.7 238.4,383.9 238.4,384.2 230.5,383.5 230.5,383.5 230.5,383.5 230.5,383.5" fill="#4a6cb4"/><polygon points="246.4,383.5 246.4,383.9 246.4,384.4 246.3,384.8 238.4,384.2 238.4,383.9 238.4,383.7 238.4,383.5" fill="#4b6fb6"/><polygon points="254.3,383.5 254.3,384.2 254.3,384.8 254.2,385.5 246.3,384.8 246.4,384.4 246.4,383.9 246.4,383.5" fill="#4c71b7"/><polygon points="262.3,383.5 262.3,384.4 262.2,385.3 262.2,386.2 254.2,385.5 254.3,384.8 254.3,384.2 254.3,383.5" fill="#4b6fb5"/><polygon points="270.2,383.5 270.2,384.6 270.2,385.7 270.1,386.9 262.2,386.2 262.2,385.3 262.3,384.4 262.3,383.5" fill="#4d73b8"/><polygon points="278.2,383.5 278.1,384.8 278.1,386.2 278.0,387.5 270.1,386.9 270.2,385.7 270.2,384.6 270.2,383.5" fill="#496bb3"/><polygon points="286.1,383.5 286.1,385.1 286.0,386.6 285.9,388.2 278.0,387.5 278.1,386.2 278.1,384.8 278.2,383.5" fill="#4d73b8"/><polygon points="294.1,383.5 294.0,385.3 293.9,387.1 293.8,388.9 285.9,388.2 286.0,386.6 286.1,385.1 286.1,383.5" fill="#4765b0"/><polygon points="302.0,383.5 302.0,385.5 301.9,387.5 301.7,389.6 293.8,388.9 293.9,387.1 294.0,385.3 294.1,383.5" fill="#4867b1"/><polygon points="309.9,383.5 309.9,385.7 309.8,388.0 309.6,390.2 301.7,389.6 301.9,387.5 302.0,385.5 302.0,383.5" fill="#4a6cb4"/><polygon points="317.9,383.5 317.9,386.0 317.7,388.4 317.6,390.9 309.6,390.2 309.8,388.0 309.9,385.7 309.9,383.5" fill="#4868b2"/><polygon points="325.8,383.5 325.8,386.2 325.7,388.9 325.5,391.6 317.6,390.9 317.7,388.4 317.9,386.0 317.9,383.5" fill="#4b6fb6"/><polygon points="333.8,383.5 333.7,386.4 333.6,389.3 333.4,392.2 325.5,391.6 325.7,388.9 325.8,386.2 325.8,383.5" fill="#4b6eb5"/><polygon points="341.7,383.5 341.7,386.6 341.5,389.8 341.3,392.9 333.4,392.2 333.6,389.3 333.7,386.4 333.8,383.5" fill="#4a6cb4"/><polygon points="349.7,383.5 349.6,386.9 349.5,390.2 349.2,393.6 341.3,392.9 341.5,389.8 341.7,386.6 341.7,383.5" fill="#4c71b7"/><polygon points="357.6,383.5 357.6,387.1 357.4,390.7 357.1,394.3 349.2,393.6 349.5,390.2 349.6,386.9 349.7,383.5" fill="#4a6cb4"/><polygon points="365.6,383.5 365.5,387.3 365.3,391.1 365.0,394.9 357.1,394.3 357.4,390.7 357.6,387.1 357.6,383.5" fill="#4868b2"/><polygon points="373.5,383.5 373.4,387.5 373.3,391.6 373.0,395.6 365.0,394.9 365.3,391.1 365.5,387.3 365.6,383.5" fill="#496ab2"/><polygon points="238.4,384.2 238.4,384.4 238.4,384.6 238.3,384.8 230.5,383.5 230.5,383.5 230.5,383.5 230.5,383.5" fill="#4c71b7"/><polygon points="246.3,384.8 246.3,385.3 246.2,385.7 246.1,386.2 238.3,384.8 238.4,384.6 238.4,384.4 238.4,384.2" fill="#4d72b8"/><polygon points="254.2,385.5 254.2,386.2 254.1,386.9 254.0,387.5 246.1,386.2 246.2,385.7 246.3,385.3 246.3,384.8" fill="#4767b1"/><polygon points="262.2,386.2 262.1,387.1 261.9,388.0 261.8,388.9 254.0,387.5 254.1,386.9 254.2,386.2 254.2,385.5" fill="#4c71b7"/><polygon points="270.1,386.9 270.0,388.0 269.8,389.1 269.6,390.2 261.8,388.9 261.9,388.0 262.1,387.1 262.2,386.2" fill="#4d73b8"/><polygon points="278.0,387.5 277.8,388.9 277.7,390.2 277.4,391.5 269.6,390.2 269.8,389.1 270.0,388.0 270.1,386.9" fill="#4a6cb4"/><polygon points="285.9,388.2 285.7,389.8 285.5,391.3 285.3,392.9 277.4,391.5 277.7,390.2 277.8,388.9 278.0,387.5" fill="#4a6db4"/><polygon points="293.8,388.9 293.6,390.7 293.4,392.5 293.1,394.2 285.3,392.9 285.5,391.3 285.7,389.8 285.9,388.2" fill="#4767b1"/><polygon points="301.7,389.6 301.5,391.6 301.2,393.6 300.9,395.6 293.1,394.2 293.4,392.5 293.6,390.7 293.8,388.9" fill="#4a6cb4"/><polygon points="309.6,390.2 309.4,392.5 309.1,394.7 308.7,396.9 300.9,395.6 301.2,393.6 301.5,391.6 301.7,389.6" fill="#4a6cb4"/><polygon points="317.6,390.9 317.3,393.4 317.0,395.8 316.6,398.3 308.7,396.9 309.1,394.7 309.4,392.5 309.6,390.2" fill="#4a6db5"/><polygon points="325.5,391.6 325.2,394.3 324.8,396.9 324.4,399.6 316.6,398.3 317.0,395.8 317.3,393.4 317.6,390.9" fill="#4664af"/><polygon points="333.4,392.2 333.1,395.2 332.7,398.0 332.2,400.9 324.4,399.6 324.8,396.9 325.2,394.3 325.5,391.6" fill="#4d73b8"/><polygon points="341.3,392.9 341.0,396.1 340.5,399.2 340.0,402.3 332.2,400.9 332.7,398.0 333.1,395.2 333.4,392.2" fill="#4a6cb4"/><polygon points="349.2,393.6 348.9,396.9 348.4,400.3 347.9,403.6 340.0,402.3 340.5,399.2 341.0,396.1 341.3,392.9" fill="#496ab3"/><polygon points="357.1,394.3 356.8,397.8 356.3,401.4 355.7,405.0 347.9,403.6 348.4,400.3 348.9,396.9 349.2,393.6" fill="#4c70b7"/><polygon points="365.0,394.9 364.6,398.7 364.1,402.5 363.5,406.3 355.7,405.0 356.3,401.4 356.8,397.8 357.1,394.3" fill="#4a6db4"/><polygon points="373.0,395.6 372.5,399.6 372.0,403.6 371.3,407.6 363.5,406.3 364.1,402.5 364.6,398.7 365.0,394.9" fill="#496bb3"/><polygon points="238.3,384.8 238.3,385.1 238.2,385.3 238.2,385.5 230.5,383.5 230.5,383.5 230.5,383.5 230.5,383.5" fill="#4b6fb5"/><polygon points="246.1,386.2 246.1,386.6 246.0,387.1 245.8,387.5 238.2,385.5 238.2,385.3 238.3,385.1 238.3,384.8" fill="#4665b0"/><polygon points="254.0,387.5 253.8,388.2 253.7,388.8 253.5,389.5 245.8,387.5 246.0,387.1 246.1,386.6 246.1,386.2" fill="#4a6cb4"/><polygon points="261.8,388.9 261.6,389.7 261.4,390.6 261.2,391.5 253.5,389.5 253.7,388.8 253.8,388.2 254.0,387.5" fill="#496ab3"/><polygon points="269.6,390.2 269.4,391.3 269.2,392.4 268.9,393.5 261.2,391.5 261.4,390.6 261.6,389.7 261.8,388.9" fill="#6093cc"/><polygon points="277.4,391.5 277.2,392.9 276.9,394.2 276.5,395.5 268.9,393.5 269.2,392.4 269.4,391.3 269.6,390.2" fill="#5f93cb"/><polygon points="285.3,392.9 285.0,394.4 284.6,396.0 284.2,397.5 276.5,395.5 276.9,394.2 277.2,392.9 277.4,391.5" fill="#4868b1"/><polygon points="293.1,394.2 292.7,396.0 292.3,397.7 291.9,399.5 284.2,397.5 284.6,396.0 285.0,394.4 285.3,392.9" fill="#496bb3"/><polygon points="300.9,395.6 300.5,397.6 300.1,399.5 299.6,401.5 291.9,399.5 292.3,397.7 292.7,396.0 293.1,394.2" fill="#4766b0"/><polygon points="308.7,396.9 308.3,399.1 307.8,401.3 307.2,403.5 299.6,401.5 300.1,399.5 300.5,397.6 300.9,395.6" fill="#496ab3"/><polygon points="316.6,398.3 316.1,400.7 315.5,403.1 314.9,405.5 307.2,403.5 307.8,401.3 308.3,399.1 308.7,396.9" fill="#5e91ca"/><polygon points="324.4,399.6 323.9,402.2 323.3,404.9 322.6,407.5 314.9,405.5 315.5,403.1 316.1,400.7 316.6,398.3" fill="#5f92cb"/><polygon points="332.2,400.9 331.6,403.8 331.0,406.7 330.3,409.5 322.6,407.5 323.3,404.9 323.9,402.2 324.4,399.6" fill="#496bb3"/><polygon points="340.0,402.3 339.4,405.4 338.7,408.4 337.9,411.5 330.3,409.5 331.0,406.7 331.6,403.8 332.2,400.9" fill="#4869b2"/><polygon points="347.9,403.6 347.2,406.9 346.5,410.2 345.6,413.5 337.9,411.5 338.7,408.4 339.4,405.4 340.0,402.3" fill="#4767b1"/><polygon points="355.7,405.0 355.0,408.5 354.2,412.0 353.3,415.5 345.6,413.5 346.5,410.2 347.2,406.9 347.9,403.6" fill="#4a6db5"/><polygon points="363.5,406.3 362.8,410.0 361.9,413.8 361.0,417.5 353.3,415.5 354.2,412.0 355.0,408.5 355.7,405.0" fill="#4d72b8"/><polygon points="371.3,407.6 370.5,411.6 369.6,415.6 368.6,419.5 361.0,417.5 361.9,413.8 362.8,410.0 363.5,406.3" fill="#4766b0"/><polygon points="238.2,385.5 238.1,385.7 238.0,385.9 238.0,386.1 230.5,383.5 230.5,383.5 230.5,383.5 230.5,383.5" fill="#4c70b6"/><polygon points="245.8,387.5 245.7,387.9 245.6,388.4 245.4,388.8 238.0,386.1 238.0,385.9 238.1,385.7 238.2,385.5" fill="#4664af"/><polygon points="253.5,389.5 253.3,390.1 253.1,390.8 252.9,391.4 245.4,388.8 245.6,388.4 245.7,387.9 245.8,387.5" fill="#4767b1"/><polygon points="261.2,391.5 260.9,392.4 260.7,393.2 260.4,394.1 252.9,391.4 253.1,390.8 253.3,390.1 253.5,389.5" fill="#4867b1"/><polygon points="268.9,393.5 268.6,394.6 268.2,395.6 267.8,396.7 260.4,394.1 260.7,393.2 260.9,392.4 261.2,391.5" fill="#5c8fc9"/><polygon points="276.5,395.5 276.2,396.8 275.7,398.1 275.3,399.3 267.8,396.7 268.2,395.6 268.6,394.6 268.9,393.5" fill="#5889c6"/><polygon points="284.2,397.5 283.8,399.0 283.3,400.5 282.8,402.0 275.3,399.3 275.7,398.1 276.2,396.8 276.5,395.5" fill="#4869b2"/><polygon points="291.9,399.5 291.4,401.2 290.8,402.9 290.2,404.6 282.8,402.0 283.3,400.5 283.8,399.0 284.2,397.5" fill="#4a6db5"/><polygon points="299.6,401.5 299.0,403.4 298.4,405.4 297.7,407.3 290.2,404.6 290.8,402.9 291.4,401.2 291.9,399.5" fill="#4765b0"/><polygon points="307.2,403.5 306.6,405.6 305.9,407.8 305.2,409.9 297.7,407.3 298.4,405.4 299.0,403.4 299.6,401.5" fill="#4b6fb6"/><polygon points="314.9,405.5 314.2,407.9 313.5,410.2 312.6,412.6 305.2,409.9 305.9,407.8 306.6,405.6 307.2,403.5" fill="#5685c4"/><polygon points="322.6,407.5 321.8,410.1 321.0,412.6 320.1,415.2 312.6,412.6 313.5,410.2 314.2,407.9 314.9,405.5" fill="#5a8cc8"/><polygon points="330.3,409.5 329.4,412.3 328.5,415.1 327.5,417.8 320.1,415.2 321.0,412.6 321.8,410.1 322.6,407.5" fill="#4868b1"/><polygon points="337.9,411.5 337.0,414.5 336.1,417.5 335.0,420.5 327.5,417.8 328.5,415.1 329.4,412.3 330.3,409.5" fill="#4767b1"/><polygon points="345.6,413.5 344.7,416.7 343.6,419.9 342.5,423.1 335.0,420.5 336.1,417.5 337.0,414.5 337.9,411.5" fill="#4a6cb4"/><polygon points="353.3,415.5 352.3,418.9 351.2,422.4 349.9,425.8 342.5,423.1 343.6,419.9 344.7,416.7 345.6,413.5" fill="#496ab3"/><polygon points="361.0,417.5 359.9,421.2 358.7,424.8 357.4,428.4 349.9,425.8 351.2,422.4 352.3,418.9 353.3,415.5" fill="#496ab2"/><polygon points="368.6,419.5 367.5,423.4 366.2,427.2 364.9,431.0 357.4,428.4 358.7,424.8 359.9,421.2 361.0,417.5" fill="#496ab3"/><polygon points="238.0,386.1 237.9,386.4 237.8,386.6 237.7,386.8 230.5,383.5 230.5,383.5 230.5,383.5 230.5,383.5" fill="#4a6cb4"/><polygon points="245.4,388.8 245.3,389.2 245.1,389.6 244.9,390.0 237.7,386.8 237.8,386.6 237.9,386.4 238.0,386.1" fill="#4766b0"/><polygon points="252.9,391.4 252.6,392.1 252.4,392.7 252.1,393.3 244.9,390.0 245.1,389.6 245.3,389.2 245.4,388.8" fill="#4767b1"/><polygon points="260.4,394.1 260.0,394.9 259.7,395.7 259.3,396.6 252.1,393.3 252.4,392.7 252.6,392.1 252.9,391.4" fill="#4b6eb5"/><polygon points="267.8,396.7 267.4,397.8 267.0,398.8 266.5,399.8 259.3,396.6 259.7,395.7 260.0,394.9 260.4,394.1" fill="#4b6eb5"/><polygon points="275.3,399.3 274.8,400.6 274.3,401.9 273.7,403.1 266.5,399.8 267.0,398.8 267.4,397.8 267.8,396.7" fill="#4a6cb4"/><polygon points="282.8,402.0 282.2,403.5 281.6,404.9 280.9,406.3 273.7,403.1 274.3,401.9 274.8,400.6 275.3,399.3" fill="#4c71b7"/><polygon points="290.2,404.6 289.6,406.3 288.9,408.0 288.1,409.6 280.9,406.3 281.6,404.9 282.2,403.5 282.8,402.0" fill="#4a6db5"/><polygon points="297.7,407.3 296.9,409.2 296.2,411.0 295.3,412.9 288.1,409.6 288.9,408.0 289.6,406.3 290.2,404.6" fill="#4c71b7"/><polygon points="305.2,409.9 304.3,412.0 303.4,414.1 302.5,416.1 295.3,412.9 296.2,411.0 296.9,409.2 297.7,407.3" fill="#4867b1"/><polygon points="312.6,412.6 311.7,414.9 310.7,417.1 309.7,419.4 302.5,416.1 303.4,414.1 304.3,412.0 305.2,409.9" fill="#4b6fb6"/><polygon points="320.1,415.2 319.1,417.7 318.0,420.2 316.9,422.7 309.7,419.4 310.7,417.1 311.7,414.9 312.6,412.6" fill="#4c70b7"/><polygon points="327.5,417.8 326.5,420.6 325.3,423.3 324.1,425.9 316.9,422.7 318.0,420.2 319.1,417.7 320.1,415.2" fill="#3e52a5"/><polygon points="335.0,420.5 333.9,423.4 332.6,426.3 331.3,429.2 324.1,425.9 325.3,423.3 326.5,420.6 327.5,417.8" fill="#3b4ba1"/><polygon points="342.5,423.1 341.2,426.3 339.9,429.4 338.5,432.5 331.3,429.2 332.6,426.3 333.9,423.4 335.0,420.5" fill="#4869b2"/><polygon points="349.9,425.8 348.6,429.1 347.2,432.4 345.7,435.7 338.5,432.5 339.9,429.4 341.2,426.3 342.5,423.1" fill="#4d72b8"/><polygon points="357.4,428.4 356.0,432.0 354.5,435.5 352.9,439.0 345.7,435.7 347.2,432.4 348.6,429.1 349.9,425.8" fill="#4867b1"/><polygon points="364.9,431.0 363.4,434.8 361.8,438.6 360.1,442.2 352.9,439.0 354.5,435.5 356.0,432.0 357.4,428.4" fill="#4d73b8"/><polygon points="237.7,386.8 237.6,387.0 237.5,387.2 237.4,387.4 230.5,383.5 230.5,383.5 230.5,383.5 230.5,383.5" fill="#4d72b7"/><polygon points="244.9,390.0 244.7,390.4 244.5,390.8 244.3,391.2 237.4,387.4 237.5,387.2 237.6,387.0 237.7,386.8" fill="#4766b0"/><polygon points="252.1,393.3 251.8,393.9 251.5,394.5 251.1,395.1 244.3,391.2 244.5,390.8 244.7,390.4 244.9,390.0" fill="#4867b1"/><polygon points="259.3,396.6 258.9,397.4 258.5,398.2 258.0,398.9 251.1,395.1 251.5,394.5 251.8,393.9 252.1,393.3" fill="#4b6fb6"/><polygon points="266.5,399.8 266.0,400.8 265.5,401.8 264.9,402.8 258.0,398.9 258.5,398.2 258.9,397.4 259.3,396.6" fill="#4868b1"/><polygon points="273.7,403.1 273.1,404.3 272.5,405.5 271.8,406.7 264.9,402.8 265.5,401.8 266.0,400.8 266.5,399.8" fill="#4765b0"/><polygon points="280.9,406.3 280.2,407.8 279.4,409.2 278.7,410.5 271.8,406.7 272.5,405.5 273.1,404.3 273.7,403.1" fill="#4c71b7"/><polygon points="288.1,409.6 287.3,411.2 286.4,412.8 285.5,414.4 278.7,410.5 279.4,409.2 280.2,407.8 280.9,406.3" fill="#496ab3"/><polygon points="295.3,412.9 294.4,414.7 293.4,416.5 292.4,418.2 285.5,414.4 286.4,412.8 287.3,411.2 288.1,409.6" fill="#4c70b6"/><polygon points="302.5,416.1 301.5,418.2 300.4,420.1 299.3,422.1 292.4,418.2 293.4,416.5 294.4,414.7 295.3,412.9" fill="#4766b0"/><polygon points="309.7,419.4 308.6,421.6 307.4,423.8 306.2,426.0 299.3,422.1 300.4,420.1 301.5,418.2 302.5,416.1" fill="#496ab3"/><polygon points="316.9,422.7 315.7,425.1 314.4,427.5 313.1,429.8 306.2,426.0 307.4,423.8 308.6,421.6 309.7,419.4" fill="#4b6eb5"/><polygon points="324.1,425.9 322.8,428.6 321.4,431.1 319.9,433.7 313.1,429.8 314.4,427.5 315.7,425.1 316.9,422.7" fill="#3b4aa0"/><polygon points="331.3,429.2 329.9,432.0 328.4,434.8 326.8,437.6 319.9,433.7 321.4,431.1 322.8,428.6 324.1,425.9" fill="#3b4ba1"/><polygon points="338.5,432.5 337.0,435.5 335.4,438.5 333.7,441.4 326.8,437.6 328.4,434.8 329.9,432.0 331.3,429.2" fill="#4b6eb5"/><polygon points="345.7,435.7 344.1,439.0 342.4,442.1 340.6,445.3 333.7,441.4 335.4,438.5 337.0,435.5 338.5,432.5" fill="#4d72b8"/><polygon points="352.9,439.0 351.2,442.4 349.4,445.8 347.5,449.1 340.6,445.3 342.4,442.1 344.1,439.0 345.7,435.7" fill="#4d73b8"/><polygon points="360.1,442.2 358.3,445.9 356.4,449.5 354.3,453.0 347.5,449.1 349.4,445.8 351.2,442.4 352.9,439.0" fill="#4765b0"/><polygon points="237.4,387.4 237.3,387.6 237.1,387.7 237.0,387.9 230.5,383.5 230.5,383.5 230.5,383.5 230.5,383.5" fill="#4a6cb4"/><polygon points="244.3,391.2 244.0,391.6 243.8,392.0 243.5,392.4 237.0,387.9 237.1,387.7 237.3,387.6 237.4,387.4" fill="#4c70b6"/><polygon points="251.1,395.1 250.8,395.7 250.4,396.2 250.0,396.8 243.5,392.4 243.8,392.0 244.0,391.6 244.3,391.2" fill="#4a6cb4"/><polygon points="258.0,398.9 257.5,399.7 257.0,400.5 256.5,401.2 250.0,396.8 250.4,396.2 250.8,395.7 251.1,395.1" fill="#4b6eb5"/><polygon points="264.9,402.8 264.3,403.8 263.7,404.7 263.0,405.6 256.5,401.2 257.0,400.5 257.5,399.7 258.0,398.9" fill="#3b4ba1"/><polygon points="271.8,406.7 271.1,407.8 270.3,409.0 269.5,410.1 263.0,405.6 263.7,404.7 264.3,403.8 264.9,402.8" fill="#3b4aa0"/><polygon points="278.7,410.5 277.8,411.9 277.0,413.2 276.1,414.5 269.5,410.1 270.3,409.0 271.1,407.8 271.8,406.7" fill="#5685c4"/><polygon points="285.5,414.4 284.6,415.9 283.6,417.4 282.6,418.9 276.1,414.5 277.0,413.2 277.8,411.9 278.7,410.5" fill="#5684c3"/><polygon points="292.4,418.2 291.4,420.0 290.2,421.7 289.1,423.4 282.6,418.9 283.6,417.4 284.6,415.9 285.5,414.4" fill="#4a6cb4"/><polygon points="299.3,422.1 298.1,424.0 296.9,425.9 295.6,427.8 289.1,423.4 290.2,421.7 291.4,420.0 292.4,418.2" fill="#4a6cb4"/><polygon points="306.2,426.0 304.9,428.1 303.5,430.2 302.1,432.2 295.6,427.8 296.9,425.9 298.1,424.0 299.3,422.1" fill="#4a6db4"/><polygon points="313.1,429.8 311.6,432.1 310.1,434.4 308.6,436.7 302.1,432.2 303.5,430.2 304.9,428.1 306.2,426.0" fill="#4766b0"/><polygon points="319.9,433.7 318.4,436.2 316.8,438.7 315.1,441.1 308.6,436.7 310.1,434.4 311.6,432.1 313.1,429.8" fill="#4766b1"/><polygon points="326.8,437.6 325.2,440.3 323.4,442.9 321.6,445.5 315.1,441.1 316.8,438.7 318.4,436.2 319.9,433.7" fill="#4767b1"/><polygon points="333.7,441.4 331.9,444.3 330.1,447.2 328.1,449.9 321.6,445.5 323.4,442.9 325.2,440.3 326.8,437.6" fill="#4c71b7"/><polygon points="340.6,445.3 338.7,448.4 336.7,451.4 334.6,454.4 328.1,449.9 330.1,447.2 331.9,444.3 333.7,441.4" fill="#4d73b8"/><polygon points="347.5,449.1 345.4,452.4 343.3,455.6 341.1,458.8 334.6,454.4 336.7,451.4 338.7,448.4 340.6,445.3" fill="#4d72b8"/><polygon points="354.3,453.0 352.2,456.5 350.0,459.9 347.6,463.2 341.1,458.8 343.3,455.6 345.4,452.4 347.5,449.1" fill="#4765b0"/><polygon points="237.0,387.9 236.9,388.1 236.7,388.3 236.6,388.5 230.5,383.5 230.5,383.5 230.5,383.5 230.5,383.5" fill="#4664b0"/><polygon points="243.5,392.4 243.2,392.7 243.0,393.1 242.7,393.4 236.6,388.5 236.7,388.3 236.9,388.1 237.0,387.9" fill="#4d73b8"/><polygon points="250.0,396.8 249.6,397.3 249.2,397.9 248.8,398.4 242.7,393.4 243.0,393.1 243.2,392.7 243.5,392.4" fill="#496bb3"/><polygon points="256.5,401.2 256.0,401.9 255.4,402.7 254.8,403.4 248.8,398.4 249.2,397.9 249.6,397.3 250.0,396.8" fill="#4c70b6"/><polygon points="263.0,405.6 262.4,406.6 261.7,407.4 260.9,408.3 254.8,403.4 255.4,402.7 256.0,401.9 256.5,401.2" fill="#3b4ba1"/><polygon points="269.5,410.1 268.7,411.2 267.9,412.2 267.0,413.3 260.9,408.3 261.7,407.4 262.4,406.6 263.0,405.6" fill="#3b4ba1"/><polygon points="276.1,414.5 275.1,415.8 274.1,417.0 273.1,418.2 267.0,413.3 267.9,412.2 268.7,411.2 269.5,410.1" fill="#5a8cc8"/><polygon points="282.6,418.9 281.5,420.4 280.4,421.8 279.2,423.2 273.1,418.2 274.1,417.0 275.1,415.8 276.1,414.5" fill="#598ac7"/><polygon points="289.1,423.4 287.9,425.0 286.6,426.6 285.3,428.2 279.2,423.2 280.4,421.8 281.5,420.4 282.6,418.9" fill="#4a6db5"/><polygon points="295.6,427.8 294.2,429.6 292.8,431.4 291.4,433.1 285.3,428.2 286.6,426.6 287.9,425.0 289.1,423.4" fill="#4664af"/><polygon points="302.1,432.2 300.6,434.2 299.0,436.2 297.4,438.1 291.4,433.1 292.8,431.4 294.2,429.6 295.6,427.8" fill="#4b6fb6"/><polygon points="308.6,436.7 307.0,438.8 305.3,441.0 303.5,443.1 297.4,438.1 299.0,436.2 300.6,434.2 302.1,432.2" fill="#4c71b7"/><polygon points="315.1,441.1 313.3,443.4 311.5,445.8 309.6,448.0 303.5,443.1 305.3,441.0 307.0,438.8 308.6,436.7" fill="#4766b1"/><polygon points="321.6,445.5 319.7,448.1 317.7,450.6 315.7,453.0 309.6,448.0 311.5,445.8 313.3,443.4 315.1,441.1" fill="#496bb3"/><polygon points="328.1,449.9 326.1,452.7 324.0,455.3 321.8,458.0 315.7,453.0 317.7,450.6 319.7,448.1 321.6,445.5" fill="#4b6fb6"/><polygon points="334.6,454.4 332.5,457.3 330.2,460.1 327.9,462.9 321.8,458.0 324.0,455.3 326.1,452.7 328.1,449.9" fill="#496ab3"/><polygon points="341.1,458.8 338.8,461.9 336.4,464.9 334.0,467.9 327.9,462.9 330.2,460.1 332.5,457.3 334.6,454.4" fill="#4767b1"/><polygon points="347.6,463.2 345.2,466.5 342.7,469.7 340.0,472.8 334.0,467.9 336.4,464.9 338.8,461.9 341.1,458.8" fill="#4766b0"/><polygon points="236.6,388.5 236.4,388.6 236.3,388.8 236.1,389.0 230.5,383.5 230.5,383.5 230.5,383.5 230.5,383.5" fill="#4a6cb4"/><polygon points="242.7,393.4 242.4,393.8 242.1,394.1 241.7,394.4 236.1,389.0 236.3,388.8 236.4,388.6 236.6,388.5" fill="#4664af"/><polygon points="248.8,398.4 248.3,398.9 247.8,399.4 247.4,399.9 241.7,394.4 242.1,394.1 242.4,393.8 242.7,393.4" fill="#4d72b7"/><polygon points="254.8,403.4 254.2,404.0 253.6,404.7 253.0,405.3 247.4,399.9 247.8,399.4 248.3,398.9 248.8,398.4" fill="#4c70b7"/><polygon points="260.9,408.3 260.2,409.2 259.4,410.0 258.6,410.8 253.0,405.3 253.6,404.7 254.2,404.0 254.8,403.4" fill="#5c8fc9"/><polygon points="267.0,413.3 266.1,414.3 265.2,415.3 264.2,416.3 258.6,410.8 259.4,410.0 260.2,409.2 260.9,408.3" fill="#5f92cb"/><polygon points="273.1,418.2 272.0,419.4 271.0,420.6 269.8,421.7 264.2,416.3 265.2,415.3 266.1,414.3 267.0,413.3" fill="#5b8ec9"/><polygon points="279.2,423.2 278.0,424.6 276.7,425.9 275.4,427.2 269.8,421.7 271.0,420.6 272.0,419.4 273.1,418.2" fill="#598ac7"/><polygon points="285.3,428.2 283.9,429.7 282.5,431.2 281.1,432.6 275.4,427.2 276.7,425.9 278.0,424.6 279.2,423.2" fill="#4a6db4"/><polygon points="291.4,433.1 289.8,434.8 288.3,436.5 286.7,438.1 281.1,432.6 282.5,431.2 283.9,429.7 285.3,428.2" fill="#4a6cb4"/><polygon points="297.4,438.1 295.8,440.0 294.1,441.8 292.3,443.6 286.7,438.1 288.3,436.5 289.8,434.8 291.4,433.1" fill="#6094cc"/><polygon points="303.5,443.1 301.7,445.1 299.8,447.1 297.9,449.0 292.3,443.6 294.1,441.8 295.8,440.0 297.4,438.1" fill="#5e91ca"/><polygon points="309.6,448.0 307.7,450.2 305.6,452.4 303.5,454.5 297.9,449.0 299.8,447.1 301.7,445.1 303.5,443.1" fill="#4868b1"/><polygon points="315.7,453.0 313.6,455.4 311.4,457.7 309.1,459.9 303.5,454.5 305.6,452.4 307.7,450.2 309.6,448.0" fill="#4d72b8"/><polygon points="321.8,458.0 319.5,460.5 317.2,463.0 314.8,465.4 309.1,459.9 311.4,457.7 313.6,455.4 315.7,453.0" fill="#4b6fb6"/><polygon points="327.9,462.9 325.5,465.6 323.0,468.3 320.4,470.9 314.8,465.4 317.2,463.0 319.5,460.5 321.8,458.0" fill="#4c70b6"/><polygon points="334.0,467.9 331.4,470.8 328.7,473.6 326.0,476.3 320.4,470.9 323.0,468.3 325.5,465.6 327.9,462.9" fill="#5e91ca"/><polygon points="340.0,472.8 337.3,475.9 334.5,478.9 331.6,481.8 326.0,476.3 328.7,473.6 331.4,470.8 334.0,467.9" fill="#598ac7"/><polygon points="236.1,389.0 236.0,389.1 235.8,389.3 235.6,389.4 230.5,383.5 230.5,383.5 230.5,383.5 230.5,383.5" fill="#4d72b7"/><polygon points="241.7,394.4 241.4,394.7 241.1,395.0 240.7,395.3 235.6,389.4 235.8,389.3 236.0,389.1 236.1,389.0" fill="#4d72b7"/><polygon points="247.4,399.9 246.9,400.4 246.3,400.8 245.8,401.2 240.7,395.3 241.1,395.0 241.4,394.7 241.7,394.4" fill="#4b6fb5"/><polygon points="253.0,405.3 252.3,406.0 251.6,406.6 250.9,407.2 245.8,401.2 246.3,400.8 246.9,400.4 247.4,399.9" fill="#4c70b6"/><polygon points="258.6,410.8 257.8,411.6 256.9,412.3 256.0,413.1 250.9,407.2 251.6,406.6 252.3,406.0 253.0,405.3" fill="#5d90ca"/><polygon points="264.2,416.3 263.2,417.2 262.2,418.1 261.1,419.0 256.0,413.1 256.9,412.3 257.8,411.6 258.6,410.8" fill="#598ac7"/><polygon points="269.8,421.7 268.7,422.8 267.5,423.9 266.2,424.9 261.1,419.0 262.2,418.1 263.2,417.2 264.2,416.3" fill="#5d8fca"/><polygon points="275.4,427.2 274.1,428.4 272.8,429.6 271.4,430.8 266.2,424.9 267.5,423.9 268.7,422.8 269.8,421.7" fill="#5685c3"/><polygon points="281.1,432.6 279.6,434.1 278.0,435.4 276.5,436.7 271.4,430.8 272.8,429.6 274.1,428.4 275.4,427.2" fill="#4869b2"/><polygon points="286.7,438.1 285.0,439.7 283.3,441.2 281.6,442.7 276.5,436.7 278.0,435.4 279.6,434.1 281.1,432.6" fill="#496bb3"/><polygon points="292.3,443.6 290.5,445.3 288.6,447.0 286.7,448.6 281.6,442.7 283.3,441.2 285.0,439.7 286.7,438.1" fill="#5684c3"/><polygon points="297.9,449.0 295.9,450.9 293.9,452.7 291.8,454.5 286.7,448.6 288.6,447.0 290.5,445.3 292.3,443.6" fill="#5889c6"/><polygon points="303.5,454.5 301.4,456.5 299.2,458.5 296.9,460.4 291.8,454.5 293.9,452.7 295.9,450.9 297.9,449.0" fill="#4b6eb5"/><polygon points="309.1,459.9 306.8,462.1 304.4,464.3 302.0,466.3 296.9,460.4 299.2,458.5 301.4,456.5 303.5,454.5" fill="#4a6db5"/><polygon points="314.8,465.4 312.3,467.8 309.7,470.0 307.1,472.2 302.0,466.3 304.4,464.3 306.8,462.1 309.1,459.9" fill="#4867b1"/><polygon points="320.4,470.9 317.7,473.4 315.0,475.8 312.2,478.1 307.1,472.2 309.7,470.0 312.3,467.8 314.8,465.4" fill="#4d73b8"/><polygon points="326.0,476.3 323.2,479.0 320.3,481.6 317.3,484.1 312.2,478.1 315.0,475.8 317.7,473.4 320.4,470.9" fill="#5c8ec9"/><polygon points="331.6,481.8 328.6,484.6 325.6,487.3 322.4,490.0 317.3,484.1 320.3,481.6 323.2,479.0 326.0,476.3" fill="#5889c6"/><polygon points="235.6,389.4 235.4,389.6 235.2,389.7 235.1,389.8 230.5,383.5 230.5,383.5 230.5,383.5 230.5,383.5" fill="#4b6eb5"/><polygon points="240.7,395.3 240.4,395.6 240.0,395.9 239.6,396.2 235.1,389.8 235.2,389.7 235.4,389.6 235.6,389.4" fill="#4a6db4"/><polygon points="245.8,401.2 245.3,401.7 244.7,402.1 244.2,402.5 239.6,396.2 240.0,395.9 240.4,395.6 240.7,395.3" fill="#4a6cb4"/><polygon points="250.9,407.2 250.2,407.7 249.5,408.3 248.7,408.8 244.2,402.5 244.7,402.1 245.3,401.7 245.8,401.2" fill="#496ab3"/><polygon points="256.0,413.1 255.1,413.8 254.2,414.5 253.3,415.1 248.7,408.8 249.5,408.3 250.2,407.7 250.9,407.2" fill="#4d73b8"/><polygon points="261.1,419.0 260.1,419.8 259.0,420.7 257.8,421.5 253.3,415.1 254.2,414.5 255.1,413.8 256.0,413.1" fill="#4b6eb5"/><polygon points="266.2,424.9 265.0,425.9 263.7,426.9 262.4,427.8 257.8,421.5 259.0,420.7 260.1,419.8 261.1,419.0" fill="#4b6fb6"/><polygon points="271.4,430.8 269.9,432.0 268.5,433.1 267.0,434.1 262.4,427.8 263.7,426.9 265.0,425.9 266.2,424.9" fill="#4c70b6"/><polygon points="276.5,436.7 274.8,438.0 273.2,439.2 271.5,440.4 267.0,434.1 268.5,433.1 269.9,432.0 271.4,430.8" fill="#6094cc"/><polygon points="281.6,442.7 279.8,444.1 277.9,445.4 276.1,446.8 271.5,440.4 273.2,439.2 274.8,438.0 276.5,436.7" fill="#5684c3"/><polygon points="286.7,448.6 284.7,450.1 282.7,451.6 280.6,453.1 276.1,446.8 277.9,445.4 279.8,444.1 281.6,442.7" fill="#5b8dc9"/><polygon points="291.8,454.5 289.6,456.2 287.4,457.8 285.2,459.4 280.6,453.1 282.7,451.6 284.7,450.1 286.7,448.6" fill="#5d90ca"/><polygon points="296.9,460.4 294.6,462.2 292.2,464.0 289.7,465.7 285.2,459.4 287.4,457.8 289.6,456.2 291.8,454.5" fill="#4868b1"/><polygon points="302.0,466.3 299.5,468.3 296.9,470.2 294.3,472.1 289.7,465.7 292.2,464.0 294.6,462.2 296.9,460.4" fill="#496ab3"/><polygon points="307.1,472.2 304.4,474.4 301.7,476.4 298.9,478.4 294.3,472.1 296.9,470.2 299.5,468.3 302.0,466.3" fill="#5684c3"/><polygon points="312.2,478.1 309.3,480.4 306.4,482.6 303.4,484.7 298.9,478.4 301.7,476.4 304.4,474.4 307.1,472.2" fill="#5787c4"/><polygon points="317.3,484.1 314.3,486.5 311.1,488.8 308.0,491.0 303.4,484.7 306.4,482.6 309.3,480.4 312.2,478.1" fill="#496ab2"/><polygon points="322.4,490.0 319.2,492.5 315.9,495.0 312.5,497.4 308.0,491.0 311.1,488.8 314.3,486.5 317.3,484.1" fill="#4765b0"/><polygon points="235.1,389.8 234.9,390.0 234.7,390.1 234.5,390.2 230.5,383.5 230.5,383.5 230.5,383.5 230.5,383.5" fill="#4868b1"/><polygon points="239.6,396.2 239.2,396.4 238.8,396.6 238.4,396.9 234.5,390.2 234.7,390.1 234.9,390.0 235.1,389.8" fill="#4d72b8"/><polygon points="244.2,402.5 243.6,402.9 243.0,403.2 242.4,403.6 238.4,396.9 238.8,396.6 239.2,396.4 239.6,396.2" fill="#4a6cb4"/><polygon points="248.7,408.8 248.0,409.3 247.2,409.8 246.4,410.3 242.4,403.6 243.0,403.2 243.6,402.9 244.2,402.5" fill="#4a6cb4"/><polygon points="253.3,415.1 252.3,415.8 251.4,416.4 250.4,416.9 246.4,410.3 247.2,409.8 248.0,409.3 248.7,408.8" fill="#4d73b8"/><polygon points="257.8,421.5 256.7,422.2 255.5,422.9 254.3,423.6 250.4,416.9 251.4,416.4 252.3,415.8 253.3,415.1" fill="#4a6db4"/><polygon points="262.4,427.8 261.1,428.7 259.7,429.5 258.3,430.3 254.3,423.6 255.5,422.9 256.7,422.2 257.8,421.5" fill="#4d73b8"/><polygon points="267.0,434.1 265.4,435.1 263.9,436.1 262.3,437.0 258.3,430.3 259.7,429.5 261.1,428.7 262.4,427.8" fill="#4b6eb5"/><polygon points="271.5,440.4 269.8,441.6 268.0,442.7 266.2,443.7 262.3,437.0 263.9,436.1 265.4,435.1 267.0,434.1" fill="#5e91ca"/><polygon points="276.1,446.8 274.2,448.0 272.2,449.2 270.2,450.4 266.2,443.7 268.0,442.7 269.8,441.6 271.5,440.4" fill="#5685c3"/><polygon points="280.6,453.1 278.5,454.5 276.4,455.8 274.2,457.1 270.2,450.4 272.2,449.2 274.2,448.0 276.1,446.8" fill="#5b8dc8"/><polygon points="285.2,459.4 282.9,460.9 280.5,462.4 278.2,463.8 274.2,457.1 276.4,455.8 278.5,454.5 280.6,453.1" fill="#5d90ca"/><polygon points="289.7,465.7 287.3,467.4 284.7,468.9 282.1,470.4 278.2,463.8 280.5,462.4 282.9,460.9 285.2,459.4" fill="#4664af"/><polygon points="294.3,472.1 291.6,473.8 288.9,475.5 286.1,477.1 282.1,470.4 284.7,468.9 287.3,467.4 289.7,465.7" fill="#4d72b8"/><polygon points="298.9,478.4 296.0,480.3 293.1,482.1 290.1,483.8 286.1,477.1 288.9,475.5 291.6,473.8 294.3,472.1" fill="#5786c4"/><polygon points="303.4,484.7 300.3,486.7 297.2,488.7 294.1,490.5 290.1,483.8 293.1,482.1 296.0,480.3 298.9,478.4" fill="#598bc7"/><polygon points="308.0,491.0 304.7,493.2 301.4,495.2 298.0,497.2 294.1,490.5 297.2,488.7 300.3,486.7 303.4,484.7" fill="#4766b1"/><polygon points="312.5,497.4 309.1,499.6 305.6,501.8 302.0,503.9 298.0,497.2 301.4,495.2 304.7,493.2 308.0,491.0" fill="#496bb3"/><polygon points="234.5,390.2 234.3,390.3 234.1,390.4 233.9,390.5 230.5,383.5 230.5,383.5 230.5,383.5 230.5,383.5" fill="#4a6db5"/><polygon points="238.4,396.9 238.0,397.1 237.6,397.3 237.2,397.5 233.9,390.5 234.1,390.4 234.3,390.3 234.5,390.2" fill="#4664b0"/><polygon points="242.4,403.6 241.8,403.9 241.2,404.2 240.6,404.5 237.2,397.5 237.6,397.3 238.0,397.1 238.4,396.9" fill="#4d73b8"/><polygon points="246.4,410.3 245.6,410.7 244.8,411.1 243.9,411.5 240.6,404.5 241.2,404.2 241.8,403.9 242.4,403.6" fill="#496ab3"/><polygon points="250.4,416.9 249.4,417.5 248.3,418.0 247.3,418.5 243.9,411.5 244.8,411.1 245.6,410.7 246.4,410.3" fill="#4a6cb4"/><polygon points="254.3,423.6 253.1,424.3 251.9,424.9 250.6,425.5 247.3,418.5 248.3,418.0 249.4,417.5 250.4,416.9" fill="#4a6db4"/><polygon points="258.3,430.3 256.9,431.1 255.5,431.8 254.0,432.5 250.6,425.5 251.9,424.9 253.1,424.3 254.3,423.6" fill="#4969b2"/><polygon points="262.3,437.0 260.7,437.9 259.0,438.7 257.4,439.5 254.0,432.5 255.5,431.8 256.9,431.1 258.3,430.3" fill="#4868b2"/><polygon points="266.2,443.7 264.4,444.7 262.6,445.6 260.7,446.5 257.4,439.5 259.0,438.7 260.7,437.9 262.3,437.0" fill="#3d4ea3"/><polygon points="270.2,450.4 268.2,451.5 266.2,452.5 264.1,453.5 260.7,446.5 262.6,445.6 264.4,444.7 266.2,443.7" fill="#3c4ca2"/><polygon points="274.2,457.1 272.0,458.3 269.7,459.4 267.4,460.5 264.1,453.5 266.2,452.5 268.2,451.5 270.2,450.4" fill="#4868b2"/><polygon points="278.2,463.8 275.7,465.1 273.3,466.3 270.8,467.5 267.4,460.5 269.7,459.4 272.0,458.3 274.2,457.1" fill="#4b6fb6"/><polygon points="282.1,470.4 279.5,471.9 276.9,473.2 274.1,474.5 270.8,467.5 273.3,466.3 275.7,465.1 278.2,463.8" fill="#4868b2"/><polygon points="286.1,477.1 283.3,478.7 280.4,480.1 277.5,481.5 274.1,474.5 276.9,473.2 279.5,471.9 282.1,470.4" fill="#4664af"/><polygon points="290.1,483.8 287.1,485.5 284.0,487.0 280.9,488.5 277.5,481.5 280.4,480.1 283.3,478.7 286.1,477.1" fill="#4867b1"/><polygon points="294.1,490.5 290.8,492.3 287.5,493.9 284.2,495.5 280.9,488.5 284.0,487.0 287.1,485.5 290.1,483.8" fill="#4664af"/><polygon points="298.0,497.2 294.6,499.1 291.1,500.8 287.6,502.5 284.2,495.5 287.5,493.9 290.8,492.3 294.1,490.5" fill="#4766b0"/><polygon points="302.0,503.9 298.4,505.8 294.7,507.7 290.9,509.5 287.6,502.5 291.1,500.8 294.6,499.1 298.0,497.2" fill="#4c70b6"/><polygon points="233.9,390.5 233.6,390.6 233.4,390.7 233.2,390.8 230.5,383.5 230.5,383.5 230.5,383.5 230.5,383.5" fill="#496ab3"/><polygon points="237.2,397.5 236.8,397.7 236.4,397.9 235.9,398.0 233.2,390.8 233.4,390.7 233.6,390.6 233.9,390.5" fill="#4d72b7"/><polygon points="240.6,404.5 239.9,404.8 239.3,405.0 238.7,405.3 235.9,398.0 236.4,397.9 236.8,397.7 237.2,397.5" fill="#4b6fb6"/><polygon points="243.9,411.5 243.1,411.9 242.2,412.2 241.4,412.5 238.7,405.3 239.3,405.0 239.9,404.8 240.6,404.5" fill="#4664af"/><polygon points="247.3,418.5 246.2,419.0 245.2,419.4 244.1,419.8 241.4,412.5 242.2,412.2 243.1,411.9 243.9,411.5" fill="#4d73b8"/><polygon points="250.6,425.5 249.4,426.0 248.1,426.6 246.8,427.0 244.1,419.8 245.2,419.4 246.2,419.0 247.3,418.5" fill="#4d73b8"/><polygon points="254.0,432.5 252.5,433.1 251.0,433.7 249.5,434.3 246.8,427.0 248.1,426.6 249.4,426.0 250.6,425.5" fill="#4765b0"/><polygon points="257.4,439.5 255.7,440.2 254.0,440.9 252.2,441.6 249.5,434.3 251.0,433.7 252.5,433.1 254.0,432.5" fill="#4d72b8"/><polygon points="260.7,446.5 258.8,447.3 256.9,448.1 255.0,448.8 252.2,441.6 254.0,440.9 255.7,440.2 257.4,439.5" fill="#3b4ba1"/><polygon points="264.1,453.5 262.0,454.4 259.8,455.3 257.7,456.1 255.0,448.8 256.9,448.1 258.8,447.3 260.7,446.5" fill="#3b4ba1"/><polygon points="267.4,460.5 265.1,461.5 262.8,462.4 260.4,463.3 257.7,456.1 259.8,455.3 262.0,454.4 264.1,453.5" fill="#4d73b8"/><polygon points="270.8,467.5 268.3,468.6 265.7,469.6 263.1,470.6 260.4,463.3 262.8,462.4 265.1,461.5 267.4,460.5" fill="#4867b1"/><polygon points="274.1,474.5 271.4,475.7 268.6,476.8 265.8,477.8 263.1,470.6 265.7,469.6 268.3,468.6 270.8,467.5" fill="#4a6cb4"/><polygon points="277.5,481.5 274.6,482.8 271.6,484.0 268.5,485.1 265.8,477.8 268.6,476.8 271.4,475.7 274.1,474.5" fill="#4d72b8"/><polygon points="280.9,488.5 277.7,489.9 274.5,491.1 271.3,492.3 268.5,485.1 271.6,484.0 274.6,482.8 277.5,481.5" fill="#4b6fb6"/><polygon points="284.2,495.5 280.8,497.0 277.4,498.3 274.0,499.6 271.3,492.3 274.5,491.1 277.7,489.9 280.9,488.5" fill="#496bb3"/><polygon points="287.6,502.5 284.0,504.0 280.4,505.5 276.7,506.9 274.0,499.6 277.4,498.3 280.8,497.0 284.2,495.5" fill="#4d73b8"/><polygon points="290.9,509.5 287.1,511.1 283.3,512.7 279.4,514.1 276.7,506.9 280.4,505.5 284.0,504.0 287.6,502.5" fill="#4c71b7"/><polygon points="233.2,390.8 233.0,390.8 232.8,390.9 232.6,391.0 230.5,383.5 230.5,383.5 230.5,383.5 230.5,383.5" fill="#4a6db5"/><polygon points="235.9,398.0 235.5,398.2 235.1,398.3 234.6,398.4 232.6,391.0 232.8,390.9 233.0,390.8 233.2,390.8" fill="#4765b0"/><polygon points="238.7,405.3 238.0,405.5 237.3,405.7 236.7,405.9 234.6,398.4 235.1,398.3 235.5,398.2 235.9,398.0" fill="#4a6db5"/><polygon points="241.4,412.5 240.5,412.8 239.6,413.1 238.7,413.3 236.7,405.9 237.3,405.7 238.0,405.5 238.7,405.3" fill="#496bb3"/><polygon points="244.1,419.8 243.0,420.2 241.9,420.5 240.8,420.8 238.7,413.3 239.6,413.1 240.5,412.8 241.4,412.5" fill="#4767b1"/><polygon points="246.8,427.0 245.5,427.5 244.2,427.9 242.8,428.3 240.8,420.8 241.9,420.5 243.0,420.2 244.1,419.8" fill="#4664af"/><polygon points="249.5,434.3 248.0,434.8 246.4,435.3 244.9,435.7 242.8,428.3 244.2,427.9 245.5,427.5 246.8,427.0" fill="#4a6cb4"/><polygon points="252.2,441.6 250.5,442.1 248.7,442.7 246.9,443.2 244.9,435.7 246.4,435.3 248.0,434.8 249.5,434.3" fill="#4765b0"/><polygon points="255.0,448.8 253.0,449.5 251.0,450.1 249.0,450.6 246.9,443.2 248.7,442.7 250.5,442.1 252.2,441.6" fill="#496bb3"/><polygon points="257.7,456.1 255.5,456.8 253.3,457.5 251.1,458.1 249.0,450.6 251.0,450.1 253.0,449.5 255.0,448.8" fill="#4b6eb5"/><polygon points="260.4,463.3 258.0,464.1 255.6,464.9 253.1,465.6 251.1,458.1 253.3,457.5 255.5,456.8 257.7,456.1" fill="#496bb3"/><polygon points="263.1,470.6 260.5,471.5 257.8,472.3 255.2,473.0 253.1,465.6 255.6,464.9 258.0,464.1 260.4,463.3" fill="#4868b1"/><polygon points="265.8,477.8 263.0,478.8 260.1,479.7 257.2,480.5 255.2,473.0 257.8,472.3 260.5,471.5 263.1,470.6" fill="#5b8dc8"/><polygon points="268.5,485.1 265.5,486.1 262.4,487.1 259.3,487.9 257.2,480.5 260.1,479.7 263.0,478.8 265.8,477.8" fill="#598ac7"/><polygon points="271.3,492.3 268.0,493.5 264.7,494.5 261.3,495.4 259.3,487.9 262.4,487.1 265.5,486.1 268.5,485.1" fill="#5d90ca"/><polygon points="274.0,499.6 270.5,500.8 267.0,501.9 263.4,502.8 261.3,495.4 264.7,494.5 268.0,493.5 271.3,492.3" fill="#5a8cc8"/><polygon points="276.7,506.9 273.0,508.1 269.2,509.3 265.5,510.3 263.4,502.8 267.0,501.9 270.5,500.8 274.0,499.6" fill="#4d73b8"/><polygon points="279.4,514.1 275.5,515.4 271.5,516.7 267.5,517.8 265.5,510.3 269.2,509.3 273.0,508.1 276.7,506.9" fill="#4d73b8"/><polygon points="232.6,391.0 232.3,391.0 232.1,391.1 231.9,391.1 230.5,383.5 230.5,383.5 230.5,383.5 230.5,383.5" fill="#4b6fb6"/><polygon points="234.6,398.4 234.2,398.5 233.7,398.6 233.3,398.7 231.9,391.1 232.1,391.1 232.3,391.0 232.6,391.0" fill="#4867b1"/><polygon points="236.7,405.9 236.0,406.0 235.3,406.2 234.6,406.3 233.3,398.7 233.7,398.6 234.2,398.5 234.6,398.4" fill="#4765b0"/><polygon points="238.7,413.3 237.8,413.6 236.9,413.8 236.0,413.9 234.6,406.3 235.3,406.2 236.0,406.0 236.7,405.9" fill="#4d72b7"/><polygon points="240.8,420.8 239.7,421.1 238.5,421.3 237.4,421.5 236.0,413.9 236.9,413.8 237.8,413.6 238.7,413.3" fill="#4c70b6"/><polygon points="242.8,428.3 241.5,428.6 240.1,428.9 238.8,429.1 237.4,421.5 238.5,421.3 239.7,421.1 240.8,420.8" fill="#4a6db5"/><polygon points="244.9,435.7 243.3,436.1 241.7,436.4 240.2,436.7 238.8,429.1 240.1,428.9 241.5,428.6 242.8,428.3" fill="#4969b2"/><polygon points="246.9,443.2 245.2,443.6 243.4,444.0 241.5,444.3 240.2,436.7 241.7,436.4 243.3,436.1 244.9,435.7" fill="#4868b1"/><polygon points="249.0,450.6 247.0,451.1 245.0,451.6 242.9,451.9 241.5,444.3 243.4,444.0 245.2,443.6 246.9,443.2" fill="#4b6eb5"/><polygon points="251.1,458.1 248.8,458.6 246.6,459.1 244.3,459.5 242.9,451.9 245.0,451.6 247.0,451.1 249.0,450.6" fill="#4a6db4"/><polygon points="253.1,465.6 250.7,466.2 248.2,466.7 245.7,467.2 244.3,459.5 246.6,459.1 248.8,458.6 251.1,458.1" fill="#4a6db4"/><polygon points="255.2,473.0 252.5,473.7 249.8,474.3 247.1,474.8 245.7,467.2 248.2,466.7 250.7,466.2 253.1,465.6" fill="#4b6eb5"/><polygon points="257.2,480.5 254.3,481.2 251.4,481.8 248.4,482.4 247.1,474.8 249.8,474.3 252.5,473.7 255.2,473.0" fill="#5d90ca"/><polygon points="259.3,487.9 256.1,488.7 253.0,489.4 249.8,490.0 248.4,482.4 251.4,481.8 254.3,481.2 257.2,480.5" fill="#5787c4"/><polygon points="261.3,495.4 258.0,496.2 254.6,496.9 251.2,497.6 249.8,490.0 253.0,489.4 256.1,488.7 259.3,487.9" fill="#5787c5"/><polygon points="263.4,502.8 259.8,503.7 256.2,504.5 252.6,505.2 251.2,497.6 254.6,496.9 258.0,496.2 261.3,495.4" fill="#6094cc"/><polygon points="265.5,510.3 261.6,511.2 257.8,512.1 254.0,512.8 252.6,505.2 256.2,504.5 259.8,503.7 263.4,502.8" fill="#4d72b8"/><polygon points="267.5,517.8 263.5,518.8 259.4,519.6 255.3,520.4 254.0,512.8 257.8,512.1 261.6,511.2 265.5,510.3" fill="#4d72b7"/><polygon points="231.9,391.1 231.7,391.1 231.4,391.2 231.2,391.2 230.5,383.5 230.5,383.5 230.5,383.5 230.5,383.5" fill="#4664af"/><polygon points="233.3,398.7 232.8,398.8 232.3,398.8 231.9,398.9 231.2,391.2 231.4,391.2 231.7,391.1 231.9,391.1" fill="#4664b0"/><polygon points="234.6,406.3 234.0,406.4 233.3,406.5 232.6,406.6 231.9,398.9 232.3,398.8 232.8,398.8 233.3,398.7" fill="#4868b1"/><polygon points="236.0,413.9 235.1,414.1 234.2,414.2 233.3,414.3 232.6,406.6 233.3,406.5 234.0,406.4 234.6,406.3" fill="#496ab3"/><polygon points="237.4,421.5 236.3,421.7 235.1,421.9 234.0,422.0 233.3,414.3 234.2,414.2 235.1,414.1 236.0,413.9" fill="#4a6db5"/><polygon points="238.8,429.1 237.4,429.3 236.0,429.5 234.7,429.7 234.0,422.0 235.1,421.9 236.3,421.7 237.4,421.5" fill="#4765b0"/><polygon points="240.2,436.7 238.6,437.0 237.0,437.2 235.3,437.3 234.7,429.7 236.0,429.5 237.4,429.3 238.8,429.1" fill="#4a6cb4"/><polygon points="241.5,444.3 239.7,444.6 237.9,444.9 236.0,445.0 235.3,437.3 237.0,437.2 238.6,437.0 240.2,436.7" fill="#4765b0"/><polygon points="242.9,451.9 240.9,452.3 238.8,452.5 236.7,452.7 236.0,445.0 237.9,444.9 239.7,444.6 241.5,444.3" fill="#70a6d6"/><polygon points="244.3,459.5 242.0,459.9 239.7,460.2 237.4,460.4 236.7,452.7 238.8,452.5 240.9,452.3 242.9,451.9" fill="#78afda"/><polygon points="245.7,467.2 243.2,467.5 240.6,467.9 238.1,468.1 237.4,460.4 239.7,460.2 242.0,459.9 244.3,459.5" fill="#76aeda"/><polygon points="247.1,474.8 244.3,475.2 241.6,475.5 238.8,475.8 238.1,468.1 240.6,467.9 243.2,467.5 245.7,467.2" fill="#77afda"/><polygon points="248.4,482.4 245.5,482.8 242.5,483.2 239.5,483.5 238.8,475.8 241.6,475.5 244.3,475.2 247.1,474.8" fill="#4969b2"/><polygon points="249.8,490.0 246.6,490.5 243.4,490.9 240.2,491.2 239.5,483.5 242.5,483.2 245.5,482.8 248.4,482.4" fill="#496bb3"/><polygon points="251.2,497.6 247.8,498.1 244.3,498.6 240.9,498.9 240.2,491.2 243.4,490.9 246.6,490.5 249.8,490.0" fill="#3b4ba1"/><polygon points="252.6,505.2 248.9,505.8 245.3,506.2 241.6,506.6 240.9,498.9 244.3,498.6 247.8,498.1 251.2,497.6" fill="#3b4ba1"/><polygon points="254.0,512.8 250.1,513.4 246.2,513.9 242.3,514.3 241.6,506.6 245.3,506.2 248.9,505.8 252.6,505.2" fill="#4b6fb6"/><polygon points="255.3,520.4 251.2,521.0 247.1,521.6 243.0,522.0 242.3,514.3 246.2,513.9 250.1,513.4 254.0,512.8" fill="#4c71b7"/><polygon points="231.2,391.2 231.0,391.2 230.7,391.2 230.5,391.2 230.5,383.5 230.5,383.5 230.5,383.5 230.5,383.5" fill="#4765b0"/><polygon points="231.9,398.9 231.4,398.9 231.0,398.9 230.5,398.9 230.5,391.2 230.7,391.2 231.0,391.2 231.2,391.2" fill="#4765b0"/><polygon points="232.6,406.6 231.9,406.6 231.2,406.7 230.5,406.7 230.5,398.9 231.0,398.9 231.4,398.9 231.9,398.9" fill="#4c70b7"/><polygon points="233.3,414.3 232.3,414.3 231.4,414.4 230.5,414.4 230.5,406.7 231.2,406.7 231.9,406.6 232.6,406.6" fill="#4a6db5"/><polygon points="234.0,422.0 232.8,422.0 231.7,422.1 230.5,422.1 230.5,414.4 231.4,414.4 232.3,414.3 233.3,414.3" fill="#4c70b6"/><polygon points="234.7,429.7 233.3,429.8 231.9,429.8 230.5,429.8 230.5,422.1 231.7,422.1 232.8,422.0 234.0,422.0" fill="#4767b1"/><polygon points="235.3,437.3 233.7,437.5 232.1,437.5 230.5,437.6 230.5,429.8 231.9,429.8 233.3,429.8 234.7,429.7" fill="#496ab3"/><polygon points="236.0,445.0 234.2,445.2 232.3,445.3 230.5,445.3 230.5,437.6 232.1,437.5 233.7,437.5 235.3,437.3" fill="#4868b1"/><polygon points="236.7,452.7 234.7,452.9 232.6,453.0 230.5,453.0 230.5,445.3 232.3,445.3 234.2,445.2 236.0,445.0" fill="#7ab0db"/><polygon points="237.4,460.4 235.1,460.6 232.8,460.7 230.5,460.7 230.5,453.0 232.6,453.0 234.7,452.9 236.7,452.7" fill="#74abd8"/><polygon points="238.1,468.1 235.6,468.3 233.0,468.4 230.5,468.4 230.5,460.7 232.8,460.7 235.1,460.6 237.4,460.4" fill="#77afda"/><polygon points="238.8,475.8 236.0,476.0 233.3,476.1 230.5,476.2 230.5,468.4 233.0,468.4 235.6,468.3 238.1,468.1" fill="#7cb2db"/><polygon points="239.5,483.5 236.5,483.7 233.5,483.8 230.5,483.9 230.5,476.2 233.3,476.1 236.0,476.0 238.8,475.8" fill="#4869b2"/><polygon points="240.2,491.2 237.0,491.4 233.7,491.6 230.5,491.6 230.5,483.9 233.5,483.8 236.5,483.7 239.5,483.5" fill="#4a6cb4"/><polygon points="240.9,498.9 237.4,499.1 234.0,499.3 230.5,499.3 230.5,491.6 233.7,491.6 237.0,491.4 240.2,491.2" fill="#3d4fa4"/><polygon points="241.6,506.6 237.9,506.8 234.2,507.0 230.5,507.1 230.5,499.3 234.0,499.3 237.4,499.1 240.9,498.9" fill="#3e52a5"/><polygon points="242.3,514.3 238.4,514.6 234.4,514.7 230.5,514.8 230.5,507.1 234.2,507.0 237.9,506.8 241.6,506.6" fill="#496ab3"/><polygon points="243.0,522.0 238.8,522.3 234.7,522.4 230.5,522.5 230.5,514.8 234.4,514.7 238.4,514.6 242.3,514.3" fill="#4969b2"/><polygon points="230.5,391.2 230.3,391.2 230.0,391.2 229.8,391.2 230.5,383.5 230.5,383.5 230.5,383.5 230.5,383.5" fill="#4765b0"/><polygon points="230.5,398.9 230.0,398.9 229.6,398.9 229.1,398.9 229.8,391.2 230.0,391.2 230.3,391.2 230.5,391.2" fill="#4d72b7"/><polygon points="230.5,406.7 229.8,406.7 229.1,406.6 228.4,406.6 229.1,398.9 229.6,398.9 230.0,398.9 230.5,398.9" fill="#5685c3"/><polygon points="230.5,414.4 229.6,414.4 228.7,414.3 227.7,414.3 228.4,406.6 229.1,406.6 229.8,406.7 230.5,406.7" fill="#5685c3"/><polygon points="230.5,422.1 229.3,422.1 228.2,422.0 227.0,422.0 227.7,414.3 228.7,414.3 229.6,414.4 230.5,414.4" fill="#4a6db4"/><polygon points="230.5,429.8 229.1,429.8 227.7,429.8 226.3,429.7 227.0,422.0 228.2,422.0 229.3,422.1 230.5,422.1" fill="#496bb3"/><polygon points="230.5,437.6 228.9,437.5 227.3,437.5 225.7,437.3 226.3,429.7 227.7,429.8 229.1,429.8 230.5,429.8" fill="#4b6eb5"/><polygon points="230.5,445.3 228.7,445.3 226.8,445.2 225.0,445.0 225.7,437.3 227.3,437.5 228.9,437.5 230.5,437.6" fill="#4868b2"/><polygon points="230.5,453.0 228.4,453.0 226.3,452.9 224.3,452.7 225.0,445.0 226.8,445.2 228.7,445.3 230.5,445.3" fill="#79b0db"/><polygon points="230.5,460.7 228.2,460.7 225.9,460.6 223.6,460.4 224.3,452.7 226.3,452.9 228.4,453.0 230.5,453.0" fill="#70a6d6"/><polygon points="230.5,468.4 228.0,468.4 225.4,468.3 222.9,468.1 223.6,460.4 225.9,460.6 228.2,460.7 230.5,460.7" fill="#71a9d7"/><polygon points="230.5,476.2 227.7,476.1 225.0,476.0 222.2,475.8 222.9,468.1 225.4,468.3 228.0,468.4 230.5,468.4" fill="#78afda"/><polygon points="230.5,483.9 227.5,483.8 224.5,483.7 221.5,483.5 222.2,475.8 225.0,476.0 227.7,476.1 230.5,476.2" fill="#4765b0"/><polygon points="230.5,491.6 227.3,491.6 224.0,491.4 220.8,491.2 221.5,483.5 224.5,483.7 227.5,483.8 230.5,483.9" fill="#4868b2"/><polygon points="230.5,499.3 227.0,499.3 223.6,499.1 220.1,498.9 220.8,491.2 224.0,491.4 227.3,491.6 230.5,491.6" fill="#4b6fb6"/><polygon points="230.5,507.1 226.8,507.0 223.1,506.8 219.4,506.6 220.1,498.9 223.6,499.1 227.0,499.3 230.5,499.3" fill="#4b6fb5"/><polygon points="230.5,514.8 226.6,514.7 222.6,514.6 218.7,514.3 219.4,506.6 223.1,506.8 226.8,507.0 230.5,507.1" fill="#4868b2"/><polygon points="230.5,522.5 226.3,522.4 222.2,522.3 218.0,522.0 218.7,514.3 222.6,514.6 226.6,514.7 230.5,514.8" fill="#4766b0"/><polygon points="229.8,391.2 229.6,391.2 229.3,391.1 229.1,391.1 230.5,383.5 230.5,383.5 230.5,383.5 230.5,383.5" fill="#4969b2"/><polygon points="229.1,398.9 228.7,398.8 228.2,398.8 227.7,398.7 229.1,391.1 229.3,391.1 229.6,391.2 229.8,391.2" fill="#4b6fb6"/><polygon points="228.4,406.6 227.7,406.5 227.0,406.4 226.4,406.3 227.7,398.7 228.2,398.8 228.7,398.8 229.1,398.9" fill="#5889c6"/><polygon points="227.7,414.3 226.8,414.2 225.9,414.1 225.0,413.9 226.4,406.3 227.0,406.4 227.7,406.5 228.4,406.6" fill="#5685c4"/><polygon points="227.0,422.0 225.9,421.9 224.7,421.7 223.6,421.5 225.0,413.9 225.9,414.1 226.8,414.2 227.7,414.3" fill="#4b6fb6"/><polygon points="226.3,429.7 225.0,429.5 223.6,429.3 222.2,429.1 223.6,421.5 224.7,421.7 225.9,421.9 227.0,422.0" fill="#4a6db4"/><polygon points="225.7,437.3 224.0,437.2 222.4,437.0 220.8,436.7 222.2,429.1 223.6,429.3 225.0,429.5 226.3,429.7" fill="#4d72b8"/><polygon points="225.0,445.0 223.1,444.9 221.3,444.6 219.5,444.3 220.8,436.7 222.4,437.0 224.0,437.2 225.7,437.3" fill="#4d73b8"/><polygon points="224.3,452.7 222.2,452.5 220.1,452.3 218.1,451.9 219.5,444.3 221.3,444.6 223.1,444.9 225.0,445.0" fill="#7bb1db"/><polygon points="223.6,460.4 221.3,460.2 219.0,459.9 216.7,459.5 218.1,451.9 220.1,452.3 222.2,452.5 224.3,452.7" fill="#75acd9"/><polygon points="222.9,468.1 220.4,467.9 217.8,467.5 215.3,467.2 216.7,459.5 219.0,459.9 221.3,460.2 223.6,460.4" fill="#79b0db"/><polygon points="222.2,475.8 219.4,475.5 216.7,475.2 213.9,474.8 215.3,467.2 217.8,467.5 220.4,467.9 222.9,468.1" fill="#73aad8"/><polygon points="221.5,483.5 218.5,483.2 215.5,482.8 212.6,482.4 213.9,474.8 216.7,475.2 219.4,475.5 222.2,475.8" fill="#4869b2"/><polygon points="220.8,491.2 217.6,490.9 214.4,490.5 211.2,490.0 212.6,482.4 215.5,482.8 218.5,483.2 221.5,483.5" fill="#496ab3"/><polygon points="220.1,498.9 216.7,498.6 213.2,498.1 209.8,497.6 211.2,490.0 214.4,490.5 217.6,490.9 220.8,491.2" fill="#4d72b8"/><polygon points="219.4,506.6 215.7,506.2 212.1,505.8 208.4,505.2 209.8,497.6 213.2,498.1 216.7,498.6 220.1,498.9" fill="#4d72b7"/><polygon points="218.7,514.3 214.8,513.9 210.9,513.4 207.0,512.8 208.4,505.2 212.1,505.8 215.7,506.2 219.4,506.6" fill="#4867b1"/><polygon points="218.0,522.0 213.9,521.6 209.8,521.0 205.7,520.4 207.0,512.8 210.9,513.4 214.8,513.9 218.7,514.3" fill="#4969b2"/><polygon points="229.1,391.1 228.9,391.1 228.7,391.0 228.4,391.0 230.5,383.5 230.5,383.5 230.5,383.5 230.5,383.5" fill="#4969b2"/><polygon points="227.7,398.7 227.3,398.6 226.8,398.5 226.4,398.4 228.4,391.0 228.7,391.0 228.9,391.1 229.1,391.1" fill="#4969b2"/><polygon points="226.4,406.3 225.7,406.2 225.0,406.0 224.3,405.9 226.4,398.4 226.8,398.5 227.3,398.6 227.7,398.7" fill="#598ac6"/><polygon points="225.0,413.9 224.1,413.8 223.2,413.6 222.3,413.3 224.3,405.9 225.0,406.0 225.7,406.2 226.4,406.3" fill="#598ac6"/><polygon points="223.6,421.5 222.5,421.3 221.3,421.1 220.2,420.8 222.3,413.3 223.2,413.6 224.1,413.8 225.0,413.9" fill="#4767b1"/><polygon points="222.2,429.1 220.9,428.9 219.5,428.6 218.2,428.3 220.2,420.8 221.3,421.1 222.5,421.3 223.6,421.5" fill="#4a6db4"/><polygon points="220.8,436.7 219.3,436.4 217.7,436.1 216.1,435.7 218.2,428.3 219.5,428.6 220.9,428.9 222.2,429.1" fill="#4c70b6"/><polygon points="219.5,444.3 217.6,444.0 215.8,443.6 214.1,443.2 216.1,435.7 217.7,436.1 219.3,436.4 220.8,436.7" fill="#4a6cb4"/><polygon points="218.1,451.9 216.0,451.6 214.0,451.1 212.0,450.6 214.1,443.2 215.8,443.6 217.6,444.0 219.5,444.3" fill="#4c71b7"/><polygon points="216.7,459.5 214.4,459.1 212.2,458.6 209.9,458.1 212.0,450.6 214.0,451.1 216.0,451.6 218.1,451.9" fill="#4a6db4"/><polygon points="215.3,467.2 212.8,466.7 210.3,466.2 207.9,465.6 209.9,458.1 212.2,458.6 214.4,459.1 216.7,459.5" fill="#4766b1"/><polygon points="213.9,474.8 211.2,474.3 208.5,473.7 205.8,473.0 207.9,465.6 210.3,466.2 212.8,466.7 215.3,467.2" fill="#4c70b6"/><polygon points="212.6,482.4 209.6,481.8 206.7,481.2 203.8,480.5 205.8,473.0 208.5,473.7 211.2,474.3 213.9,474.8" fill="#5f92cb"/><polygon points="211.2,490.0 208.0,489.4 204.9,488.7 201.7,487.9 203.8,480.5 206.7,481.2 209.6,481.8 212.6,482.4" fill="#5888c5"/><polygon points="209.8,497.6 206.4,496.9 203.0,496.2 199.7,495.4 201.7,487.9 204.9,488.7 208.0,489.4 211.2,490.0" fill="#4664af"/><polygon points="208.4,505.2 204.8,504.5 201.2,503.7 197.6,502.8 199.7,495.4 203.0,496.2 206.4,496.9 209.8,497.6" fill="#4a6cb4"/><polygon points="207.0,512.8 203.2,512.1 199.4,511.2 195.5,510.3 197.6,502.8 201.2,503.7 204.8,504.5 208.4,505.2" fill="#4a6cb4"/><polygon points="205.7,520.4 201.6,519.6 197.5,518.8 193.5,517.8 195.5,510.3 199.4,511.2 203.2,512.1 207.0,512.8" fill="#4a6db4"/><polygon points="228.4,391.0 228.2,390.9 228.0,390.8 227.8,390.8 230.5,383.5 230.5,383.5 230.5,383.5 230.5,383.5" fill="#4d73b8"/><polygon points="226.4,398.4 225.9,398.3 225.5,398.2 225.1,398.0 227.8,390.8 228.0,390.8 228.2,390.9 228.4,391.0" fill="#4b6eb5"/><polygon points="224.3,405.9 223.7,405.7 223.0,405.5 222.3,405.3 225.1,398.0 225.5,398.2 225.9,398.3 226.4,398.4" fill="#5e91ca"/><polygon points="222.3,413.3 221.4,413.1 220.5,412.8 219.6,412.5 222.3,405.3 223.0,405.5 223.7,405.7 224.3,405.9" fill="#5685c3"/><polygon points="220.2,420.8 219.1,420.5 218.0,420.2 216.9,419.8 219.6,412.5 220.5,412.8 221.4,413.1 222.3,413.3" fill="#4a6cb4"/><polygon points="218.2,428.3 216.8,427.9 215.5,427.5 214.2,427.0 216.9,419.8 218.0,420.2 219.1,420.5 220.2,420.8" fill="#4c70b6"/><polygon points="216.1,435.7 214.6,435.3 213.0,434.8 211.5,434.3 214.2,427.0 215.5,427.5 216.8,427.9 218.2,428.3" fill="#4765b0"/><polygon points="214.1,443.2 212.3,442.7 210.5,442.1 208.8,441.6 211.5,434.3 213.0,434.8 214.6,435.3 216.1,435.7" fill="#4765b0"/><polygon points="212.0,450.6 210.0,450.1 208.0,449.5 206.0,448.8 208.8,441.6 210.5,442.1 212.3,442.7 214.1,443.2" fill="#4b6fb6"/><polygon points="209.9,458.1 207.7,457.5 205.5,456.8 203.3,456.1 206.0,448.8 208.0,449.5 210.0,450.1 212.0,450.6" fill="#4d72b7"/><polygon points="207.9,465.6 205.4,464.9 203.0,464.1 200.6,463.3 203.3,456.1 205.5,456.8 207.7,457.5 209.9,458.1" fill="#4765b0"/><polygon points="205.8,473.0 203.2,472.3 200.5,471.5 197.9,470.6 200.6,463.3 203.0,464.1 205.4,464.9 207.9,465.6" fill="#4b6eb5"/><polygon points="203.8,480.5 200.9,479.7 198.0,478.8 195.2,477.8 197.9,470.6 200.5,471.5 203.2,472.3 205.8,473.0" fill="#5786c4"/><polygon points="201.7,487.9 198.6,487.1 195.5,486.1 192.5,485.1 195.2,477.8 198.0,478.8 200.9,479.7 203.8,480.5" fill="#5d90ca"/><polygon points="199.7,495.4 196.3,494.5 193.0,493.5 189.7,492.3 192.5,485.1 195.5,486.1 198.6,487.1 201.7,487.9" fill="#4b6eb5"/><polygon points="197.6,502.8 194.0,501.9 190.5,500.8 187.0,499.6 189.7,492.3 193.0,493.5 196.3,494.5 199.7,495.4" fill="#4867b1"/><polygon points="195.5,510.3 191.8,509.3 188.0,508.1 184.3,506.9 187.0,499.6 190.5,500.8 194.0,501.9 197.6,502.8" fill="#4867b1"/><polygon points="193.5,517.8 189.5,516.7 185.5,515.4 181.6,514.1 184.3,506.9 188.0,508.1 191.8,509.3 195.5,510.3" fill="#4c70b6"/><polygon points="227.8,390.8 227.6,390.7 227.4,390.6 227.1,390.5 230.5,383.5 230.5,383.5 230.5,383.5 230.5,383.5" fill="#4a6cb4"/><polygon points="225.1,398.0 224.6,397.9 224.2,397.7 223.8,397.5 227.1,390.5 227.4,390.6 227.6,390.7 227.8,390.8" fill="#4c70b6"/><polygon points="222.3,405.3 221.7,405.0 221.1,404.8 220.4,404.5 223.8,397.5 224.2,397.7 224.6,397.9 225.1,398.0" fill="#598ac6"/><polygon points="219.6,412.5 218.8,412.2 217.9,411.9 217.1,411.5 220.4,404.5 221.1,404.8 221.7,405.0 222.3,405.3" fill="#5889c6"/><polygon points="216.9,419.8 215.8,419.4 214.8,419.0 213.7,418.5 217.1,411.5 217.9,411.9 218.8,412.2 219.6,412.5" fill="#4d73b8"/><polygon points="214.2,427.0 212.9,426.6 211.6,426.0 210.4,425.5 213.7,418.5 214.8,419.0 215.8,419.4 216.9,419.8" fill="#4b6eb5"/><polygon points="211.5,434.3 210.0,433.7 208.5,433.1 207.0,432.5 210.4,425.5 211.6,426.0 212.9,426.6 214.2,427.0" fill="#496bb3"/><polygon points="208.8,441.6 207.0,440.9 205.3,440.2 203.6,439.5 207.0,432.5 208.5,433.1 210.0,433.7 211.5,434.3" fill="#4a6cb4"/><polygon points="206.0,448.8 204.1,448.1 202.2,447.3 200.3,446.5 203.6,439.5 205.3,440.2 207.0,440.9 208.8,441.6" fill="#3d4fa3"/><polygon points="203.3,456.1 201.2,455.3 199.0,454.4 196.9,453.5 200.3,446.5 202.2,447.3 204.1,448.1 206.0,448.8" fill="#3d4fa3"/><polygon points="200.6,463.3 198.2,462.4 195.9,461.5 193.6,460.5 196.9,453.5 199.0,454.4 201.2,455.3 203.3,456.1" fill="#4d72b8"/><polygon points="197.9,470.6 195.3,469.6 192.7,468.6 190.2,467.5 193.6,460.5 195.9,461.5 198.2,462.4 200.6,463.3" fill="#496ab3"/><polygon points="195.2,477.8 192.4,476.8 189.6,475.7 186.9,474.5 190.2,467.5 192.7,468.6 195.3,469.6 197.9,470.6" fill="#4c71b7"/><polygon points="192.5,485.1 189.4,484.0 186.4,482.8 183.5,481.5 186.9,474.5 189.6,475.7 192.4,476.8 195.2,477.8" fill="#4b6eb5"/><polygon points="189.7,492.3 186.5,491.1 183.3,489.9 180.1,488.5 183.5,481.5 186.4,482.8 189.4,484.0 192.5,485.1" fill="#5e92cb"/><polygon points="187.0,499.6 183.6,498.3 180.2,497.0 176.8,495.5 180.1,488.5 183.3,489.9 186.5,491.1 189.7,492.3" fill="#5e91ca"/><polygon points="184.3,506.9 180.6,505.5 177.0,504.0 173.4,502.5 176.8,495.5 180.2,497.0 183.6,498.3 187.0,499.6" fill="#5e91cb"/><polygon points="181.6,514.1 177.7,512.7 173.9,511.1 170.1,509.5 173.4,502.5 177.0,504.0 180.6,505.5 184.3,506.9" fill="#5f92cb"/><polygon points="227.1,390.5 226.9,390.4 226.7,390.3 226.5,390.2 230.5,383.5 230.5,383.5 230.5,383.5 230.5,383.5" fill="#4d73b8"/><polygon points="223.8,397.5 223.4,397.3 223.0,397.1 222.6,396.9 226.5,390.2 226.7,390.3 226.9,390.4 227.1,390.5" fill="#4b6eb5"/><polygon points="220.4,404.5 219.8,404.2 219.2,403.9 218.6,403.6 222.6,396.9 223.0,397.1 223.4,397.3 223.8,397.5" fill="#5a8cc8"/><polygon points="217.1,411.5 216.2,411.1 215.4,410.7 214.6,410.3 218.6,403.6 219.2,403.9 219.8,404.2 220.4,404.5" fill="#5c8fc9"/><polygon points="213.7,418.5 212.7,418.0 211.6,417.5 210.6,416.9 214.6,410.3 215.4,410.7 216.2,411.1 217.1,411.5" fill="#4c70b7"/><polygon points="210.4,425.5 209.1,424.9 207.9,424.3 206.7,423.6 210.6,416.9 211.6,417.5 212.7,418.0 213.7,418.5" fill="#496ab3"/><polygon points="207.0,432.5 205.5,431.8 204.1,431.1 202.7,430.3 206.7,423.6 207.9,424.3 209.1,424.9 210.4,425.5" fill="#496ab3"/><polygon points="203.6,439.5 202.0,438.7 200.3,437.9 198.7,437.0 202.7,430.3 204.1,431.1 205.5,431.8 207.0,432.5" fill="#4766b0"/><polygon points="200.3,446.5 198.4,445.6 196.6,444.7 194.8,443.7 198.7,437.0 200.3,437.9 202.0,438.7 203.6,439.5" fill="#3d4fa4"/><polygon points="196.9,453.5 194.8,452.5 192.8,451.5 190.8,450.4 194.8,443.7 196.6,444.7 198.4,445.6 200.3,446.5" fill="#3f53a6"/><polygon points="193.6,460.5 191.3,459.4 189.0,458.3 186.8,457.1 190.8,450.4 192.8,451.5 194.8,452.5 196.9,453.5" fill="#496ab2"/><polygon points="190.2,467.5 187.7,466.3 185.3,465.1 182.8,463.8 186.8,457.1 189.0,458.3 191.3,459.4 193.6,460.5" fill="#4766b1"/><polygon points="186.9,474.5 184.1,473.2 181.5,471.9 178.9,470.4 182.8,463.8 185.3,465.1 187.7,466.3 190.2,467.5" fill="#4767b1"/><polygon points="183.5,481.5 180.6,480.1 177.7,478.7 174.9,477.1 178.9,470.4 181.5,471.9 184.1,473.2 186.9,474.5" fill="#496ab3"/><polygon points="180.1,488.5 177.0,487.0 173.9,485.5 170.9,483.8 174.9,477.1 177.7,478.7 180.6,480.1 183.5,481.5" fill="#5888c5"/><polygon points="176.8,495.5 173.5,493.9 170.2,492.3 166.9,490.5 170.9,483.8 173.9,485.5 177.0,487.0 180.1,488.5" fill="#6093cc"/><polygon points="173.4,502.5 169.9,500.8 166.4,499.1 163.0,497.2 166.9,490.5 170.2,492.3 173.5,493.9 176.8,495.5" fill="#5684c3"/><polygon points="170.1,509.5 166.3,507.7 162.6,505.8 159.0,503.9 163.0,497.2 166.4,499.1 169.9,500.8 173.4,502.5" fill="#5888c6"/><polygon points="226.5,390.2 226.3,390.1 226.1,390.0 225.9,389.8 230.5,383.5 230.5,383.5 230.5,383.5 230.5,383.5" fill="#4765b0"/><polygon points="222.6,396.9 222.2,396.6 221.8,396.4 221.4,396.2 225.9,389.8 226.1,390.0 226.3,390.1 226.5,390.2" fill="#4b6eb5"/><polygon points="218.6,403.6 218.0,403.2 217.4,402.9 216.8,402.5 221.4,396.2 221.8,396.4 222.2,396.6 222.6,396.9" fill="#4c70b6"/><polygon points="214.6,410.3 213.8,409.8 213.0,409.3 212.3,408.8 216.8,402.5 217.4,402.9 218.0,403.2 218.6,403.6" fill="#4766b1"/><polygon points="210.6,416.9 209.6,416.4 208.7,415.8 207.7,415.1 212.3,408.8 213.0,409.3 213.8,409.8 214.6,410.3" fill="#4664b0"/><polygon points="206.7,423.6 205.5,422.9 204.3,422.2 203.2,421.5 207.7,415.1 208.7,415.8 209.6,416.4 210.6,416.9" fill="#496bb3"/><polygon points="202.7,430.3 201.3,429.5 199.9,428.7 198.6,427.8 203.2,421.5 204.3,422.2 205.5,422.9 206.7,423.6" fill="#3c4da2"/><polygon points="198.7,437.0 197.1,436.1 195.6,435.1 194.0,434.1 198.6,427.8 199.9,428.7 201.3,429.5 202.7,430.3" fill="#3e52a5"/><polygon points="194.8,443.7 193.0,442.7 191.2,441.6 189.5,440.4 194.0,434.1 195.6,435.1 197.1,436.1 198.7,437.0" fill="#4664af"/><polygon points="190.8,450.4 188.8,449.2 186.8,448.0 184.9,446.8 189.5,440.4 191.2,441.6 193.0,442.7 194.8,443.7" fill="#4765b0"/><polygon points="186.8,457.1 184.6,455.8 182.5,454.5 180.4,453.1 184.9,446.8 186.8,448.0 188.8,449.2 190.8,450.4" fill="#5786c4"/><polygon points="182.8,463.8 180.5,462.4 178.1,460.9 175.8,459.4 180.4,453.1 182.5,454.5 184.6,455.8 186.8,457.1" fill="#5787c5"/><polygon points="178.9,470.4 176.3,468.9 173.7,467.4 171.3,465.7 175.8,459.4 178.1,460.9 180.5,462.4 182.8,463.8" fill="#72a9d7"/><polygon points="174.9,477.1 172.1,475.5 169.4,473.8 166.7,472.1 171.3,465.7 173.7,467.4 176.3,468.9 178.9,470.4" fill="#78afda"/><polygon points="170.9,483.8 167.9,482.1 165.0,480.3 162.1,478.4 166.7,472.1 169.4,473.8 172.1,475.5 174.9,477.1" fill="#5b8dc8"/><polygon points="166.9,490.5 163.8,488.7 160.7,486.7 157.6,484.7 162.1,478.4 165.0,480.3 167.9,482.1 170.9,483.8" fill="#5787c5"/><polygon points="163.0,497.2 159.6,495.2 156.3,493.2 153.0,491.0 157.6,484.7 160.7,486.7 163.8,488.7 166.9,490.5" fill="#71a8d7"/><polygon points="159.0,503.9 155.4,501.8 151.9,499.6 148.5,497.4 153.0,491.0 156.3,493.2 159.6,495.2 163.0,497.2" fill="#72aad8"/><polygon points="225.9,389.8 225.8,389.7 225.6,389.6 225.4,389.4 230.5,383.5 230.5,383.5 230.5,383.5 230.5,383.5" fill="#4766b1"/><polygon points="221.4,396.2 221.0,395.9 220.6,395.6 220.3,395.3 225.4,389.4 225.6,389.6 225.8,389.7 225.9,389.8" fill="#4c70b6"/><polygon points="216.8,402.5 216.3,402.1 215.7,401.7 215.2,401.2 220.3,395.3 220.6,395.6 221.0,395.9 221.4,396.2" fill="#4868b2"/><polygon points="212.3,408.8 211.5,408.3 210.8,407.7 210.1,407.2 215.2,401.2 215.7,401.7 216.3,402.1 216.8,402.5" fill="#4a6cb4"/><polygon points="207.7,415.1 206.8,414.5 205.9,413.8 205.0,413.1 210.1,407.2 210.8,407.7 211.5,408.3 212.3,408.8" fill="#4c71b7"/><polygon points="203.2,421.5 202.0,420.7 200.9,419.8 199.9,419.0 205.0,413.1 205.9,413.8 206.8,414.5 207.7,415.1" fill="#496bb3"/><polygon points="198.6,427.8 197.3,426.9 196.0,425.9 194.8,424.9 199.9,419.0 200.9,419.8 202.0,420.7 203.2,421.5" fill="#3b4ba1"/><polygon points="194.0,434.1 192.5,433.1 191.1,432.0 189.6,430.8 194.8,424.9 196.0,425.9 197.3,426.9 198.6,427.8" fill="#3e52a5"/><polygon points="189.5,440.4 187.8,439.2 186.2,438.0 184.5,436.7 189.6,430.8 191.1,432.0 192.5,433.1 194.0,434.1" fill="#4d72b8"/><polygon points="184.9,446.8 183.1,445.4 181.2,444.1 179.4,442.7 184.5,436.7 186.2,438.0 187.8,439.2 189.5,440.4" fill="#4869b2"/><polygon points="180.4,453.1 178.3,451.6 176.3,450.1 174.3,448.6 179.4,442.7 181.2,444.1 183.1,445.4 184.9,446.8" fill="#5a8cc8"/><polygon points="175.8,459.4 173.6,457.8 171.4,456.2 169.2,454.5 174.3,448.6 176.3,450.1 178.3,451.6 180.4,453.1" fill="#6093cc"/><polygon points="171.3,465.7 168.8,464.0 166.4,462.2 164.1,460.4 169.2,454.5 171.4,456.2 173.6,457.8 175.8,459.4" fill="#75add9"/><polygon points="166.7,472.1 164.1,470.2 161.5,468.3 159.0,466.3 164.1,460.4 166.4,462.2 168.8,464.0 171.3,465.7" fill="#72a9d7"/><polygon points="162.1,478.4 159.3,476.4 156.6,474.4 153.9,472.2 159.0,466.3 161.5,468.3 164.1,470.2 166.7,472.1" fill="#5684c3"/><polygon points="157.6,484.7 154.6,482.6 151.7,480.4 148.8,478.1 153.9,472.2 156.6,474.4 159.3,476.4 162.1,478.4" fill="#6093cc"/><polygon points="153.0,491.0 149.9,488.8 146.7,486.5 143.7,484.1 148.8,478.1 151.7,480.4 154.6,482.6 157.6,484.7" fill="#79b0db"/><polygon points="148.5,497.4 145.1,495.0 141.8,492.5 138.6,490.0 143.7,484.1 146.7,486.5 149.9,488.8 153.0,491.0" fill="#74acd8"/><polygon points="225.4,389.4 225.2,389.3 225.0,389.1 224.9,389.0 230.5,383.5 230.5,383.5 230.5,383.5 230.5,383.5" fill="#4a6cb4"/><polygon points="220.3,395.3 219.9,395.0 219.6,394.7 219.3,394.4 224.9,389.0 225.0,389.1 225.2,389.3 225.4,389.4" fill="#4a6cb4"/><polygon points="215.2,401.2 214.7,400.8 214.1,400.4 213.6,399.9 219.3,394.4 219.6,394.7 219.9,395.0 220.3,395.3" fill="#4868b1"/><polygon points="210.1,407.2 209.4,406.6 208.7,406.0 208.0,405.3 213.6,399.9 214.1,400.4 214.7,400.8 215.2,401.2" fill="#4d73b8"/><polygon points="205.0,413.1 204.1,412.3 203.2,411.6 202.4,410.8 208.0,405.3 208.7,406.0 209.4,406.6 210.1,407.2" fill="#5c8ec9"/><polygon points="199.9,419.0 198.8,418.1 197.8,417.2 196.8,416.3 202.4,410.8 203.2,411.6 204.1,412.3 205.0,413.1" fill="#5787c5"/><polygon points="194.8,424.9 193.5,423.9 192.3,422.8 191.2,421.7 196.8,416.3 197.8,417.2 198.8,418.1 199.9,419.0" fill="#3b4aa0"/><polygon points="189.6,430.8 188.2,429.6 186.9,428.4 185.6,427.2 191.2,421.7 192.3,422.8 193.5,423.9 194.8,424.9" fill="#3b4ba1"/><polygon points="184.5,436.7 183.0,435.4 181.4,434.1 179.9,432.6 185.6,427.2 186.9,428.4 188.2,429.6 189.6,430.8" fill="#4969b2"/><polygon points="179.4,442.7 177.7,441.2 176.0,439.7 174.3,438.1 179.9,432.6 181.4,434.1 183.0,435.4 184.5,436.7" fill="#4c70b6"/><polygon points="174.3,448.6 172.4,447.0 170.5,445.3 168.7,443.6 174.3,438.1 176.0,439.7 177.7,441.2 179.4,442.7" fill="#4b6fb6"/><polygon points="169.2,454.5 167.1,452.7 165.1,450.9 163.1,449.0 168.7,443.6 170.5,445.3 172.4,447.0 174.3,448.6" fill="#4a6db5"/><polygon points="164.1,460.4 161.8,458.5 159.6,456.5 157.5,454.5 163.1,449.0 165.1,450.9 167.1,452.7 169.2,454.5" fill="#4766b0"/><polygon points="159.0,466.3 156.6,464.3 154.2,462.1 151.9,459.9 157.5,454.5 159.6,456.5 161.8,458.5 164.1,460.4" fill="#4766b0"/><polygon points="153.9,472.2 151.3,470.0 148.7,467.8 146.2,465.4 151.9,459.9 154.2,462.1 156.6,464.3 159.0,466.3" fill="#4869b2"/><polygon points="148.8,478.1 146.0,475.8 143.3,473.4 140.6,470.9 146.2,465.4 148.7,467.8 151.3,470.0 153.9,472.2" fill="#4868b1"/><polygon points="143.7,484.1 140.7,481.6 137.8,479.0 135.0,476.3 140.6,470.9 143.3,473.4 146.0,475.8 148.8,478.1" fill="#5f92cb"/><polygon points="138.6,490.0 135.4,487.3 132.4,484.6 129.4,481.8 135.0,476.3 137.8,479.0 140.7,481.6 143.7,484.1" fill="#5a8cc8"/><polygon points="224.9,389.0 224.7,388.8 224.6,388.6 224.4,388.5 230.5,383.5 230.5,383.5 230.5,383.5 230.5,383.5" fill="#4b6eb5"/><polygon points="219.3,394.4 218.9,394.1 218.6,393.8 218.3,393.4 224.4,388.5 224.6,388.6 224.7,388.8 224.9,389.0" fill="#4d73b8"/><polygon points="213.6,399.9 213.2,399.4 212.7,398.9 212.2,398.4 218.3,393.4 218.6,393.8 218.9,394.1 219.3,394.4" fill="#4868b1"/><polygon points="208.0,405.3 207.4,404.7 206.8,404.0 206.2,403.4 212.2,398.4 212.7,398.9 213.2,399.4 213.6,399.9" fill="#4a6cb4"/><polygon points="202.4,410.8 201.6,410.0 200.8,409.2 200.1,408.3 206.2,403.4 206.8,404.0 207.4,404.7 208.0,405.3" fill="#5786c4"/><polygon points="196.8,416.3 195.8,415.3 194.9,414.3 194.0,413.3 200.1,408.3 200.8,409.2 201.6,410.0 202.4,410.8" fill="#5d90ca"/><polygon points="191.2,421.7 190.0,420.6 189.0,419.4 187.9,418.2 194.0,413.3 194.9,414.3 195.8,415.3 196.8,416.3" fill="#3b4aa0"/><polygon points="185.6,427.2 184.3,425.9 183.0,424.6 181.8,423.2 187.9,418.2 189.0,419.4 190.0,420.6 191.2,421.7" fill="#3e51a4"/><polygon points="179.9,432.6 178.5,431.2 177.1,429.7 175.7,428.2 181.8,423.2 183.0,424.6 184.3,425.9 185.6,427.2" fill="#4c71b7"/><polygon points="174.3,438.1 172.7,436.5 171.2,434.8 169.6,433.1 175.7,428.2 177.1,429.7 178.5,431.2 179.9,432.6" fill="#4c71b7"/><polygon points="168.7,443.6 166.9,441.8 165.2,440.0 163.6,438.1 169.6,433.1 171.2,434.8 172.7,436.5 174.3,438.1" fill="#4765b0"/><polygon points="163.1,449.0 161.2,447.1 159.3,445.1 157.5,443.1 163.6,438.1 165.2,440.0 166.9,441.8 168.7,443.6" fill="#4868b1"/><polygon points="157.5,454.5 155.4,452.4 153.3,450.2 151.4,448.0 157.5,443.1 159.3,445.1 161.2,447.1 163.1,449.0" fill="#4b6fb6"/><polygon points="151.9,459.9 149.6,457.7 147.4,455.4 145.3,453.0 151.4,448.0 153.3,450.2 155.4,452.4 157.5,454.5" fill="#4765b0"/><polygon points="146.2,465.4 143.8,463.0 141.5,460.5 139.2,458.0 145.3,453.0 147.4,455.4 149.6,457.7 151.9,459.9" fill="#496bb3"/><polygon points="140.6,470.9 138.0,468.3 135.5,465.6 133.1,462.9 139.2,458.0 141.5,460.5 143.8,463.0 146.2,465.4" fill="#496bb3"/><polygon points="135.0,476.3 132.3,473.6 129.6,470.8 127.0,467.9 133.1,462.9 135.5,465.6 138.0,468.3 140.6,470.9" fill="#6093cc"/><polygon points="129.4,481.8 126.5,478.9 123.7,475.9 121.0,472.8 127.0,467.9 129.6,470.8 132.3,473.6 135.0,476.3" fill="#5b8dc8"/><polygon points="224.4,388.5 224.3,388.3 224.1,388.1 224.0,387.9 230.5,383.5 230.5,383.5 230.5,383.5 230.5,383.5" fill="#4c71b7"/><polygon points="218.3,393.4 218.0,393.1 217.8,392.7 217.5,392.4 224.0,387.9 224.1,388.1 224.3,388.3 224.4,388.5" fill="#4868b2"/><polygon points="212.2,398.4 211.8,397.9 211.4,397.3 211.0,396.8 217.5,392.4 217.8,392.7 218.0,393.1 218.3,393.4" fill="#5e90ca"/><polygon points="206.2,403.4 205.6,402.7 205.0,401.9 204.5,401.2 211.0,396.8 211.4,397.3 211.8,397.9 212.2,398.4" fill="#598ac7"/><polygon points="200.1,408.3 199.3,407.4 198.6,406.6 198.0,405.6 204.5,401.2 205.0,401.9 205.6,402.7 206.2,403.4" fill="#4d72b8"/><polygon points="194.0,413.3 193.1,412.2 192.3,411.2 191.5,410.1 198.0,405.6 198.6,406.6 199.3,407.4 200.1,408.3" fill="#4765b0"/><polygon points="187.9,418.2 186.9,417.0 185.9,415.8 184.9,414.5 191.5,410.1 192.3,411.2 193.1,412.2 194.0,413.3" fill="#3e51a4"/><polygon points="181.8,423.2 180.6,421.8 179.5,420.4 178.4,418.9 184.9,414.5 185.9,415.8 186.9,417.0 187.9,418.2" fill="#3b4ba1"/><polygon points="175.7,428.2 174.4,426.6 173.1,425.0 171.9,423.4 178.4,418.9 179.5,420.4 180.6,421.8 181.8,423.2" fill="#4a6cb4"/><polygon points="169.6,433.1 168.2,431.4 166.8,429.6 165.4,427.8 171.9,423.4 173.1,425.0 174.4,426.6 175.7,428.2" fill="#4a6cb4"/><polygon points="163.6,438.1 162.0,436.2 160.4,434.2 158.9,432.2 165.4,427.8 166.8,429.6 168.2,431.4 169.6,433.1" fill="#4766b0"/><polygon points="157.5,443.1 155.7,441.0 154.0,438.8 152.4,436.7 158.9,432.2 160.4,434.2 162.0,436.2 163.6,438.1" fill="#4c71b7"/><polygon points="151.4,448.0 149.5,445.8 147.7,443.4 145.9,441.1 152.4,436.7 154.0,438.8 155.7,441.0 157.5,443.1" fill="#4868b2"/><polygon points="145.3,453.0 143.3,450.6 141.3,448.1 139.4,445.5 145.9,441.1 147.7,443.4 149.5,445.8 151.4,448.0" fill="#4868b2"/><polygon points="139.2,458.0 137.0,455.3 134.9,452.7 132.9,449.9 139.4,445.5 141.3,448.1 143.3,450.6 145.3,453.0" fill="#4765b0"/><polygon points="133.1,462.9 130.8,460.1 128.5,457.3 126.4,454.4 132.9,449.9 134.9,452.7 137.0,455.3 139.2,458.0" fill="#4868b2"/><polygon points="127.0,467.9 124.6,464.9 122.2,461.9 119.9,458.8 126.4,454.4 128.5,457.3 130.8,460.1 133.1,462.9" fill="#496bb3"/><polygon points="121.0,472.8 118.3,469.7 115.8,466.5 113.4,463.2 119.9,458.8 122.2,461.9 124.6,464.9 127.0,467.9" fill="#4b6fb6"/><polygon points="224.0,387.9 223.9,387.7 223.7,387.6 223.6,387.4 230.5,383.5 230.5,383.5 230.5,383.5 230.5,383.5" fill="#4969b2"/><polygon points="217.5,392.4 217.2,392.0 217.0,391.6 216.7,391.2 223.6,387.4 223.7,387.6 223.9,387.7 224.0,387.9" fill="#4b6eb5"/><polygon points="211.0,396.8 210.6,396.2 210.2,395.7 209.9,395.1 216.7,391.2 217.0,391.6 217.2,392.0 217.5,392.4" fill="#5685c4"/><polygon points="204.5,401.2 204.0,400.5 203.5,399.7 203.0,398.9 209.9,395.1 210.2,395.7 210.6,396.2 211.0,396.8" fill="#598ac6"/><polygon points="198.0,405.6 197.3,404.7 196.7,403.8 196.1,402.8 203.0,398.9 203.5,399.7 204.0,400.5 204.5,401.2" fill="#496bb3"/><polygon points="191.5,410.1 190.7,409.0 189.9,407.8 189.2,406.7 196.1,402.8 196.7,403.8 197.3,404.7 198.0,405.6" fill="#4d73b8"/><polygon points="184.9,414.5 184.0,413.2 183.2,411.9 182.3,410.5 189.2,406.7 189.9,407.8 190.7,409.0 191.5,410.1" fill="#3e51a4"/><polygon points="178.4,418.9 177.4,417.4 176.4,415.9 175.5,414.4 182.3,410.5 183.2,411.9 184.0,413.2 184.9,414.5" fill="#3d4ea3"/><polygon points="171.9,423.4 170.8,421.7 169.6,420.0 168.6,418.2 175.5,414.4 176.4,415.9 177.4,417.4 178.4,418.9" fill="#4664af"/><polygon points="165.4,427.8 164.1,425.9 162.9,424.0 161.7,422.1 168.6,418.2 169.6,420.0 170.8,421.7 171.9,423.4" fill="#496ab2"/><polygon points="158.9,432.2 157.5,430.2 156.1,428.1 154.8,426.0 161.7,422.1 162.9,424.0 164.1,425.9 165.4,427.8" fill="#4b6fb6"/><polygon points="152.4,436.7 150.9,434.4 149.4,432.1 147.9,429.8 154.8,426.0 156.1,428.1 157.5,430.2 158.9,432.2" fill="#4867b1"/><polygon points="145.9,441.1 144.2,438.7 142.6,436.2 141.1,433.7 147.9,429.8 149.4,432.1 150.9,434.4 152.4,436.7" fill="#4a6db4"/><polygon points="139.4,445.5 137.6,442.9 135.8,440.3 134.2,437.6 141.1,433.7 142.6,436.2 144.2,438.7 145.9,441.1" fill="#496bb3"/><polygon points="132.9,449.9 130.9,447.2 129.1,444.3 127.3,441.4 134.2,437.6 135.8,440.3 137.6,442.9 139.4,445.5" fill="#4664af"/><polygon points="126.4,454.4 124.3,451.4 122.3,448.4 120.4,445.3 127.3,441.4 129.1,444.3 130.9,447.2 132.9,449.9" fill="#4d73b8"/><polygon points="119.9,458.8 117.7,455.6 115.6,452.4 113.5,449.1 120.4,445.3 122.3,448.4 124.3,451.4 126.4,454.4" fill="#4c70b6"/><polygon points="113.4,463.2 111.0,459.9 108.8,456.5 106.7,453.0 113.5,449.1 115.6,452.4 117.7,455.6 119.9,458.8" fill="#4767b1"/><polygon points="223.6,387.4 223.5,387.2 223.4,387.0 223.3,386.8 230.5,383.5 230.5,383.5 230.5,383.5 230.5,383.5" fill="#4a6db5"/><polygon points="216.7,391.2 216.5,390.8 216.3,390.4 216.1,390.0 223.3,386.8 223.4,387.0 223.5,387.2 223.6,387.4" fill="#4868b2"/><polygon points="209.9,395.1 209.5,394.5 209.2,393.9 208.9,393.3 216.1,390.0 216.3,390.4 216.5,390.8 216.7,391.2" fill="#496ab2"/><polygon points="203.0,398.9 202.5,398.2 202.1,397.4 201.7,396.6 208.9,393.3 209.2,393.9 209.5,394.5 209.9,395.1" fill="#4a6cb4"/><polygon points="196.1,402.8 195.5,401.8 195.0,400.8 194.5,399.8 201.7,396.6 202.1,397.4 202.5,398.2 203.0,398.9" fill="#4868b2"/><polygon points="189.2,406.7 188.5,405.5 187.9,404.3 187.3,403.1 194.5,399.8 195.0,400.8 195.5,401.8 196.1,402.8" fill="#4869b2"/><polygon points="182.3,410.5 181.6,409.2 180.8,407.8 180.1,406.3 187.3,403.1 187.9,404.3 188.5,405.5 189.2,406.7" fill="#496ab3"/><polygon points="175.5,414.4 174.6,412.8 173.7,411.2 172.9,409.6 180.1,406.3 180.8,407.8 181.6,409.2 182.3,410.5" fill="#4b6eb5"/><polygon points="168.6,418.2 167.6,416.5 166.6,414.7 165.7,412.9 172.9,409.6 173.7,411.2 174.6,412.8 175.5,414.4" fill="#3b4ba1"/><polygon points="161.7,422.1 160.6,420.1 159.5,418.2 158.5,416.1 165.7,412.9 166.6,414.7 167.6,416.5 168.6,418.2" fill="#3b4ba1"/><polygon points="154.8,426.0 153.6,423.8 152.4,421.6 151.3,419.4 158.5,416.1 159.5,418.2 160.6,420.1 161.7,422.1" fill="#5d8fca"/><polygon points="147.9,429.8 146.6,427.5 145.3,425.1 144.1,422.7 151.3,419.4 152.4,421.6 153.6,423.8 154.8,426.0" fill="#5889c6"/><polygon points="141.1,433.7 139.6,431.1 138.2,428.6 136.9,425.9 144.1,422.7 145.3,425.1 146.6,427.5 147.9,429.8" fill="#6093cc"/><polygon points="134.2,437.6 132.6,434.8 131.1,432.0 129.7,429.2 136.9,425.9 138.2,428.6 139.6,431.1 141.1,433.7" fill="#5a8dc8"/><polygon points="127.3,441.4 125.6,438.5 124.0,435.5 122.5,432.5 129.7,429.2 131.1,432.0 132.6,434.8 134.2,437.6" fill="#3d4fa4"/><polygon points="120.4,445.3 118.6,442.1 116.9,439.0 115.3,435.7 122.5,432.5 124.0,435.5 125.6,438.5 127.3,441.4" fill="#3b4ba1"/><polygon points="113.5,449.1 111.6,445.8 109.8,442.4 108.1,439.0 115.3,435.7 116.9,439.0 118.6,442.1 120.4,445.3" fill="#4c71b7"/><polygon points="106.7,453.0 104.6,449.5 102.7,445.9 100.9,442.2 108.1,439.0 109.8,442.4 111.6,445.8 113.5,449.1" fill="#4765b0"/><polygon points="223.3,386.8 223.2,386.6 223.1,386.4 223.0,386.1 230.5,383.5 230.5,383.5 230.5,383.5 230.5,383.5" fill="#4766b0"/><polygon points="216.1,390.0 215.9,389.6 215.7,389.2 215.6,388.8 223.0,386.1 223.1,386.4 223.2,386.6 223.3,386.8" fill="#4765b0"/><polygon points="208.9,393.3 208.6,392.7 208.4,392.1 208.1,391.4 215.6,388.8 215.7,389.2 215.9,389.6 216.1,390.0" fill="#4b6eb5"/><polygon points="201.7,396.6 201.3,395.7 201.0,394.9 200.6,394.1 208.1,391.4 208.4,392.1 208.6,392.7 208.9,393.3" fill="#4b6fb6"/><polygon points="194.5,399.8 194.0,398.8 193.6,397.8 193.2,396.7 200.6,394.1 201.0,394.9 201.3,395.7 201.7,396.6" fill="#4766b1"/><polygon points="187.3,403.1 186.7,401.9 186.2,400.6 185.7,399.3 193.2,396.7 193.6,397.8 194.0,398.8 194.5,399.8" fill="#496ab3"/><polygon points="180.1,406.3 179.4,404.9 178.8,403.5 178.2,402.0 185.7,399.3 186.2,400.6 186.7,401.9 187.3,403.1" fill="#4c71b7"/><polygon points="172.9,409.6 172.1,408.0 171.4,406.3 170.8,404.6 178.2,402.0 178.8,403.5 179.4,404.9 180.1,406.3" fill="#4a6db4"/><polygon points="165.7,412.9 164.8,411.0 164.1,409.2 163.3,407.3 170.8,404.6 171.4,406.3 172.1,408.0 172.9,409.6" fill="#3b4aa0"/><polygon points="158.5,416.1 157.6,414.1 156.7,412.0 155.8,409.9 163.3,407.3 164.1,409.2 164.8,411.0 165.7,412.9" fill="#3b4ba1"/><polygon points="151.3,419.4 150.3,417.1 149.3,414.9 148.4,412.6 155.8,409.9 156.7,412.0 157.6,414.1 158.5,416.1" fill="#5786c4"/><polygon points="144.1,422.7 143.0,420.2 141.9,417.7 140.9,415.2 148.4,412.6 149.3,414.9 150.3,417.1 151.3,419.4" fill="#5685c4"/><polygon points="136.9,425.9 135.7,423.3 134.5,420.6 133.5,417.8 140.9,415.2 141.9,417.7 143.0,420.2 144.1,422.7" fill="#598ac7"/><polygon points="129.7,429.2 128.4,426.3 127.1,423.4 126.0,420.5 133.5,417.8 134.5,420.6 135.7,423.3 136.9,425.9" fill="#5685c3"/><polygon points="122.5,432.5 121.1,429.4 119.8,426.3 118.5,423.1 126.0,420.5 127.1,423.4 128.4,426.3 129.7,429.2" fill="#3e52a5"/><polygon points="115.3,435.7 113.8,432.4 112.4,429.1 111.1,425.8 118.5,423.1 119.8,426.3 121.1,429.4 122.5,432.5" fill="#3b4ba1"/><polygon points="108.1,439.0 106.5,435.5 105.0,432.0 103.6,428.4 111.1,425.8 112.4,429.1 113.8,432.4 115.3,435.7" fill="#4a6cb4"/><polygon points="100.9,442.2 99.2,438.6 97.6,434.8 96.1,431.0 103.6,428.4 105.0,432.0 106.5,435.5 108.1,439.0" fill="#4b6eb5"/><polygon points="223.0,386.1 223.0,385.9 222.9,385.7 222.8,385.5 230.5,383.5 230.5,383.5 230.5,383.5 230.5,383.5" fill="#4c70b6"/><polygon points="215.6,388.8 215.4,388.4 215.3,387.9 215.2,387.5 222.8,385.5 222.9,385.7 223.0,385.9 223.0,386.1" fill="#4c71b7"/><polygon points="208.1,391.4 207.9,390.8 207.7,390.1 207.5,389.5 215.2,387.5 215.3,387.9 215.4,388.4 215.6,388.8" fill="#496ab2"/><polygon points="200.6,394.1 200.3,393.2 200.1,392.4 199.8,391.5 207.5,389.5 207.7,390.1 207.9,390.8 208.1,391.4" fill="#4869b2"/><polygon points="193.2,396.7 192.8,395.6 192.4,394.6 192.1,393.5 199.8,391.5 200.1,392.4 200.3,393.2 200.6,394.1" fill="#496ab3"/><polygon points="185.7,399.3 185.3,398.1 184.8,396.8 184.5,395.5 192.1,393.5 192.4,394.6 192.8,395.6 193.2,396.7" fill="#4664af"/><polygon points="178.2,402.0 177.7,400.5 177.2,399.0 176.8,397.5 184.5,395.5 184.8,396.8 185.3,398.1 185.7,399.3" fill="#598ac7"/><polygon points="170.8,404.6 170.2,402.9 169.6,401.2 169.1,399.5 176.8,397.5 177.2,399.0 177.7,400.5 178.2,402.0" fill="#5c8fc9"/><polygon points="163.3,407.3 162.6,405.4 162.0,403.4 161.4,401.5 169.1,399.5 169.6,401.2 170.2,402.9 170.8,404.6" fill="#4d73b8"/><polygon points="155.8,409.9 155.1,407.8 154.4,405.6 153.8,403.5 161.4,401.5 162.0,403.4 162.6,405.4 163.3,407.3" fill="#4c70b6"/><polygon points="148.4,412.6 147.5,410.2 146.8,407.9 146.1,405.5 153.8,403.5 154.4,405.6 155.1,407.8 155.8,409.9" fill="#4b6eb5"/><polygon points="140.9,415.2 140.0,412.6 139.2,410.1 138.4,407.5 146.1,405.5 146.8,407.9 147.5,410.2 148.4,412.6" fill="#4a6db5"/><polygon points="133.5,417.8 132.5,415.1 131.6,412.3 130.7,409.5 138.4,407.5 139.2,410.1 140.0,412.6 140.9,415.2" fill="#4664af"/><polygon points="126.0,420.5 124.9,417.5 124.0,414.5 123.1,411.5 130.7,409.5 131.6,412.3 132.5,415.1 133.5,417.8" fill="#4869b2"/><polygon points="118.5,423.1 117.4,419.9 116.3,416.7 115.4,413.5 123.1,411.5 124.0,414.5 124.9,417.5 126.0,420.5" fill="#5889c6"/><polygon points="111.1,425.8 109.8,422.4 108.7,418.9 107.7,415.5 115.4,413.5 116.3,416.7 117.4,419.9 118.5,423.1" fill="#5c8ec9"/><polygon points="103.6,428.4 102.3,424.8 101.1,421.2 100.0,417.5 107.7,415.5 108.7,418.9 109.8,422.4 111.1,425.8" fill="#4765b0"/><polygon points="96.1,431.0 94.8,427.2 93.5,423.4 92.4,419.5 100.0,417.5 101.1,421.2 102.3,424.8 103.6,428.4" fill="#496ab2"/><polygon points="222.8,385.5 222.8,385.3 222.7,385.1 222.7,384.8 230.5,383.5 230.5,383.5 230.5,383.5 230.5,383.5" fill="#4a6cb4"/><polygon points="215.2,387.5 215.0,387.1 214.9,386.6 214.9,386.2 222.7,384.8 222.7,385.1 222.8,385.3 222.8,385.5" fill="#4c70b6"/><polygon points="207.5,389.5 207.3,388.8 207.2,388.2 207.0,387.5 214.9,386.2 214.9,386.6 215.0,387.1 215.2,387.5" fill="#4c71b7"/><polygon points="199.8,391.5 199.6,390.6 199.4,389.7 199.2,388.9 207.0,387.5 207.2,388.2 207.3,388.8 207.5,389.5" fill="#4a6db5"/><polygon points="192.1,393.5 191.8,392.4 191.6,391.3 191.4,390.2 199.2,388.9 199.4,389.7 199.6,390.6 199.8,391.5" fill="#4766b0"/><polygon points="184.5,395.5 184.1,394.2 183.8,392.9 183.6,391.5 191.4,390.2 191.6,391.3 191.8,392.4 192.1,393.5" fill="#4c70b6"/><polygon points="176.8,397.5 176.4,396.0 176.0,394.4 175.7,392.9 183.6,391.5 183.8,392.9 184.1,394.2 184.5,395.5" fill="#5f92cb"/><polygon points="169.1,399.5 168.7,397.7 168.3,396.0 167.9,394.2 175.7,392.9 176.0,394.4 176.4,396.0 176.8,397.5" fill="#5a8cc8"/><polygon points="161.4,401.5 160.9,399.5 160.5,397.6 160.1,395.6 167.9,394.2 168.3,396.0 168.7,397.7 169.1,399.5" fill="#4869b2"/><polygon points="153.8,403.5 153.2,401.3 152.7,399.1 152.3,396.9 160.1,395.6 160.5,397.6 160.9,399.5 161.4,401.5" fill="#4a6cb4"/><polygon points="146.1,405.5 145.5,403.1 144.9,400.7 144.4,398.3 152.3,396.9 152.7,399.1 153.2,401.3 153.8,403.5" fill="#4766b0"/><polygon points="138.4,407.5 137.7,404.9 137.1,402.2 136.6,399.6 144.4,398.3 144.9,400.7 145.5,403.1 146.1,405.5" fill="#4b6fb6"/><polygon points="130.7,409.5 130.0,406.7 129.4,403.8 128.8,400.9 136.6,399.6 137.1,402.2 137.7,404.9 138.4,407.5" fill="#4d73b8"/><polygon points="123.1,411.5 122.3,408.4 121.6,405.4 121.0,402.3 128.8,400.9 129.4,403.8 130.0,406.7 130.7,409.5" fill="#4a6cb4"/><polygon points="115.4,413.5 114.5,410.2 113.8,406.9 113.1,403.6 121.0,402.3 121.6,405.4 122.3,408.4 123.1,411.5" fill="#5d8fc9"/><polygon points="107.7,415.5 106.8,412.0 106.0,408.5 105.3,405.0 113.1,403.6 113.8,406.9 114.5,410.2 115.4,413.5" fill="#5e91cb"/><polygon points="100.0,417.5 99.1,413.8 98.2,410.0 97.5,406.3 105.3,405.0 106.0,408.5 106.8,412.0 107.7,415.5" fill="#4767b1"/><polygon points="92.4,419.5 91.4,415.6 90.5,411.6 89.7,407.6 97.5,406.3 98.2,410.0 99.1,413.8 100.0,417.5" fill="#4d73b8"/><polygon points="222.7,384.8 222.6,384.6 222.6,384.4 222.6,384.2 230.5,383.5 230.5,383.5 230.5,383.5 230.5,383.5" fill="#4b6eb5"/><polygon points="214.9,386.2 214.8,385.7 214.7,385.3 214.7,384.8 222.6,384.2 222.6,384.4 222.6,384.6 222.7,384.8" fill="#4767b1"/><polygon points="207.0,387.5 206.9,386.9 206.8,386.2 206.8,385.5 214.7,384.8 214.7,385.3 214.8,385.7 214.9,386.2" fill="#4765b0"/><polygon points="199.2,388.9 199.1,388.0 198.9,387.1 198.8,386.2 206.8,385.5 206.8,386.2 206.9,386.9 207.0,387.5" fill="#4867b1"/><polygon points="191.4,390.2 191.2,389.1 191.0,388.0 190.9,386.9 198.8,386.2 198.9,387.1 199.1,388.0 199.2,388.9" fill="#4a6db4"/><polygon points="183.6,391.5 183.3,390.2 183.2,388.9 183.0,387.5 190.9,386.9 191.0,388.0 191.2,389.1 191.4,390.2" fill="#4b6fb5"/><polygon points="175.7,392.9 175.5,391.3 175.3,389.8 175.1,388.2 183.0,387.5 183.2,388.9 183.3,390.2 183.6,391.5" fill="#4869b2"/><polygon points="167.9,394.2 167.6,392.5 167.4,390.7 167.2,388.9 175.1,388.2 175.3,389.8 175.5,391.3 175.7,392.9" fill="#4d72b8"/><polygon points="160.1,395.6 159.8,393.6 159.5,391.6 159.3,389.6 167.2,388.9 167.4,390.7 167.6,392.5 167.9,394.2" fill="#4969b2"/><polygon points="152.3,396.9 151.9,394.7 151.6,392.5 151.4,390.2 159.3,389.6 159.5,391.6 159.8,393.6 160.1,395.6" fill="#496bb3"/><polygon points="144.4,398.3 144.0,395.8 143.7,393.4 143.4,390.9 151.4,390.2 151.6,392.5 151.9,394.7 152.3,396.9" fill="#4765b0"/><polygon points="136.6,399.6 136.2,396.9 135.8,394.3 135.5,391.6 143.4,390.9 143.7,393.4 144.0,395.8 144.4,398.3" fill="#4d73b8"/><polygon points="128.8,400.9 128.3,398.0 127.9,395.2 127.6,392.2 135.5,391.6 135.8,394.3 136.2,396.9 136.6,399.6" fill="#3b4aa0"/><polygon points="121.0,402.3 120.5,399.2 120.0,396.1 119.7,392.9 127.6,392.2 127.9,395.2 128.3,398.0 128.8,400.9" fill="#3e52a5"/><polygon points="113.1,403.6 112.6,400.3 112.1,396.9 111.8,393.6 119.7,392.9 120.0,396.1 120.5,399.2 121.0,402.3" fill="#3c4ca2"/><polygon points="105.3,405.0 104.7,401.4 104.2,397.8 103.9,394.3 111.8,393.6 112.1,396.9 112.6,400.3 113.1,403.6" fill="#3c4ca2"/><polygon points="97.5,406.3 96.9,402.5 96.4,398.7 96.0,394.9 103.9,394.3 104.2,397.8 104.7,401.4 105.3,405.0" fill="#4a6cb4"/><polygon points="89.7,407.6 89.0,403.6 88.5,399.6 88.0,395.6 96.0,394.9 96.4,398.7 96.9,402.5 97.5,406.3" fill="#4868b1"/><polygon points="222.6,384.2 222.6,383.9 222.6,383.7 222.6,383.5 230.5,383.5 230.5,383.5 230.5,383.5 230.5,383.5" fill="#4d72b8"/><polygon points="214.7,384.8 214.6,384.4 214.6,383.9 214.6,383.5 222.6,383.5 222.6,383.7 222.6,383.9 222.6,384.2" fill="#4d73b8"/><polygon points="206.8,385.5 206.7,384.8 206.7,384.2 206.7,383.5 214.6,383.5 214.6,383.9 214.6,384.4 214.7,384.8" fill="#4c71b7"/><polygon points="198.8,386.2 198.8,385.3 198.7,384.4 198.7,383.5 206.7,383.5 206.7,384.2 206.7,384.8 206.8,385.5" fill="#4a6db5"/><polygon points="190.9,386.9 190.8,385.7 190.8,384.6 190.8,383.5 198.7,383.5 198.7,384.4 198.8,385.3 198.8,386.2" fill="#4765b0"/><polygon points="183.0,387.5 182.9,386.2 182.9,384.8 182.8,383.5 190.8,383.5 190.8,384.6 190.8,385.7 190.9,386.9" fill="#4c71b7"/><polygon points="175.1,388.2 175.0,386.6 174.9,385.1 174.9,383.5 182.8,383.5 182.9,384.8 182.9,386.2 183.0,387.5" fill="#4868b2"/><polygon points="167.2,388.9 167.1,387.1 167.0,385.3 166.9,383.5 174.9,383.5 174.9,385.1 175.0,386.6 175.1,388.2" fill="#4d72b7"/><polygon points="159.3,389.6 159.1,387.5 159.0,385.5 159.0,383.5 166.9,383.5 167.0,385.3 167.1,387.1 167.2,388.9" fill="#4867b1"/><polygon points="151.4,390.2 151.2,388.0 151.1,385.7 151.1,383.5 159.0,383.5 159.0,385.5 159.1,387.5 159.3,389.6" fill="#4a6db4"/><polygon points="143.4,390.9 143.3,388.4 143.1,386.0 143.1,383.5 151.1,383.5 151.1,385.7 151.2,388.0 151.4,390.2" fill="#4c71b7"/><polygon points="135.5,391.6 135.3,388.9 135.2,386.2 135.2,383.5 143.1,383.5 143.1,386.0 143.3,388.4 143.4,390.9" fill="#4766b1"/><polygon points="127.6,392.2 127.4,389.3 127.3,386.4 127.2,383.5 135.2,383.5 135.2,386.2 135.3,388.9 135.5,391.6" fill="#3c4ca2"/><polygon points="119.7,392.9 119.5,389.8 119.3,386.6 119.3,383.5 127.2,383.5 127.3,386.4 127.4,389.3 127.6,392.2" fill="#3b4aa0"/><polygon points="111.8,393.6 111.5,390.2 111.4,386.9 111.3,383.5 119.3,383.5 119.3,386.6 119.5,389.8 119.7,392.9" fill="#3b4aa0"/><polygon points="103.9,394.3 103.6,390.7 103.4,387.1 103.4,383.5 111.3,383.5 111.4,386.9 111.5,390.2 111.8,393.6" fill="#3b4ba1"/><polygon points="96.0,394.9 95.7,391.1 95.5,387.3 95.4,383.5 103.4,383.5 103.4,387.1 103.6,390.7 103.9,394.3" fill="#4d73b8"/><polygon points="88.0,395.6 87.7,391.6 87.6,387.5 87.5,383.5 95.4,383.5 95.5,387.3 95.7,391.1 96.0,394.9" fill="#4d73b8"/><polygon points="222.6,383.5 222.6,383.3 222.6,383.1 222.6,382.8 230.5,383.5 230.5,383.5 230.5,383.5 230.5,383.5" fill="#4b6eb5"/><polygon points="214.6,383.5 214.6,383.1 214.6,382.6 214.7,382.2 222.6,382.8 222.6,383.1 222.6,383.3 222.6,383.5" fill="#4868b2"/><polygon points="206.7,383.5 206.7,382.8 206.7,382.2 206.8,381.5 214.7,382.2 214.6,382.6 214.6,383.1 214.6,383.5" fill="#4b6eb5"/><polygon points="198.7,383.5 198.7,382.6 198.8,381.7 198.8,380.8 206.8,381.5 206.7,382.2 206.7,382.8 206.7,383.5" fill="#4b6fb6"/><polygon points="190.8,383.5 190.8,382.4 190.8,381.3 190.9,380.1 198.8,380.8 198.8,381.7 198.7,382.6 198.7,383.5" fill="#496ab2"/><polygon points="182.8,383.5 182.9,382.2 182.9,380.8 183.0,379.5 190.9,380.1 190.8,381.3 190.8,382.4 190.8,383.5" fill="#4a6db4"/><polygon points="174.9,383.5 174.9,381.9 175.0,380.4 175.1,378.8 183.0,379.5 182.9,380.8 182.9,382.2 182.8,383.5" fill="#79b0db"/><polygon points="166.9,383.5 167.0,381.7 167.1,379.9 167.2,378.1 175.1,378.8 175.0,380.4 174.9,381.9 174.9,383.5" fill="#6fa5d5"/><polygon points="159.0,383.5 159.0,381.5 159.1,379.5 159.3,377.4 167.2,378.1 167.1,379.9 167.0,381.7 166.9,383.5" fill="#5787c4"/><polygon points="151.1,383.5 151.1,381.3 151.2,379.0 151.4,376.8 159.3,377.4 159.1,379.5 159.0,381.5 159.0,383.5" fill="#598bc7"/><polygon points="143.1,383.5 143.1,381.0 143.3,378.6 143.4,376.1 151.4,376.8 151.2,379.0 151.1,381.3 151.1,383.5" fill="#4766b0"/><polygon points="135.2,383.5 135.2,380.8 135.3,378.1 135.5,375.4 143.4,376.1 143.3,378.6 143.1,381.0 143.1,383.5" fill="#496ab2"/><polygon points="127.2,383.5 127.3,380.6 127.4,377.7 127.6,374.8 135.5,375.4 135.3,378.1 135.2,380.8 135.2,383.5" fill="#4a6db4"/><polygon points="119.3,383.5 119.3,380.4 119.5,377.2 119.7,374.1 127.6,374.8 127.4,377.7 127.3,380.6 127.2,383.5" fill="#4766b1"/><polygon points="111.3,383.5 111.4,380.1 111.5,376.8 111.8,373.4 119.7,374.1 119.5,377.2 119.3,380.4 119.3,383.5" fill="#4a6cb4"/><polygon points="103.4,383.5 103.4,379.9 103.6,376.3 103.9,372.7 111.8,373.4 111.5,376.8 111.4,380.1 111.3,383.5" fill="#4868b1"/><polygon points="95.4,383.5 95.5,379.7 95.7,375.9 96.0,372.1 103.9,372.7 103.6,376.3 103.4,379.9 103.4,383.5" fill="#4a6db4"/><polygon points="87.5,383.5 87.6,379.5 87.7,375.4 88.0,371.4 96.0,372.1 95.7,375.9 95.5,379.7 95.4,383.5" fill="#4869b2"/><polygon points="222.6,382.8 222.6,382.6 222.6,382.4 222.7,382.2 230.5,383.5 230.5,383.5 230.5,383.5 230.5,383.5" fill="#4b6eb5"/><polygon points="214.7,382.2 214.7,381.7 214.8,381.3 214.9,380.8 222.7,382.2 222.6,382.4 222.6,382.6 222.6,382.8" fill="#4664af"/><polygon points="206.8,381.5 206.8,380.8 206.9,380.1 207.0,379.5 214.9,380.8 214.8,381.3 214.7,381.7 214.7,382.2" fill="#4b6eb5"/><polygon points="198.8,380.8 198.9,379.9 199.1,379.0 199.2,378.1 207.0,379.5 206.9,380.1 206.8,380.8 206.8,381.5" fill="#4766b0"/><polygon points="190.9,380.1 191.0,379.0 191.2,377.9 191.4,376.8 199.2,378.1 199.1,379.0 198.9,379.9 198.8,380.8" fill="#4d73b8"/><polygon points="183.0,379.5 183.2,378.1 183.3,376.8 183.6,375.5 191.4,376.8 191.2,377.9 191.0,379.0 190.9,380.1" fill="#4a6db5"/><polygon points="175.1,378.8 175.3,377.2 175.5,375.7 175.7,374.1 183.6,375.5 183.3,376.8 183.2,378.1 183.0,379.5" fill="#75add9"/><polygon points="167.2,378.1 167.4,376.3 167.6,374.5 167.9,372.8 175.7,374.1 175.5,375.7 175.3,377.2 175.1,378.8" fill="#74acd9"/><polygon points="159.3,377.4 159.5,375.4 159.8,373.4 160.1,371.4 167.9,372.8 167.6,374.5 167.4,376.3 167.2,378.1" fill="#5b8ec9"/><polygon points="151.4,376.8 151.6,374.5 151.9,372.3 152.3,370.1 160.1,371.4 159.8,373.4 159.5,375.4 159.3,377.4" fill="#5c8fc9"/><polygon points="143.4,376.1 143.7,373.6 144.0,371.2 144.4,368.7 152.3,370.1 151.9,372.3 151.6,374.5 151.4,376.8" fill="#4c70b6"/><polygon points="135.5,375.4 135.8,372.7 136.2,370.1 136.6,367.4 144.4,368.7 144.0,371.2 143.7,373.6 143.4,376.1" fill="#4c70b6"/><polygon points="127.6,374.8 127.9,371.8 128.3,369.0 128.8,366.1 136.6,367.4 136.2,370.1 135.8,372.7 135.5,375.4" fill="#496bb3"/><polygon points="119.7,374.1 120.0,370.9 120.5,367.8 121.0,364.7 128.8,366.1 128.3,369.0 127.9,371.8 127.6,374.8" fill="#4d73b8"/><polygon points="111.8,373.4 112.1,370.1 112.6,366.7 113.1,363.4 121.0,364.7 120.5,367.8 120.0,370.9 119.7,374.1" fill="#4c71b7"/><polygon points="103.9,372.7 104.2,369.2 104.7,365.6 105.3,362.0 113.1,363.4 112.6,366.7 112.1,370.1 111.8,373.4" fill="#4c71b7"/><polygon points="96.0,372.1 96.4,368.3 96.9,364.5 97.5,360.7 105.3,362.0 104.7,365.6 104.2,369.2 103.9,372.7" fill="#496ab3"/><polygon points="88.0,371.4 88.5,367.4 89.0,363.4 89.7,359.4 97.5,360.7 96.9,364.5 96.4,368.3 96.0,372.1" fill="#496ab3"/><polygon points="222.7,382.2 222.7,381.9 222.8,381.7 222.8,381.5 230.5,383.5 230.5,383.5 230.5,383.5 230.5,383.5" fill="#4a6db4"/><polygon points="214.9,380.8 214.9,380.4 215.0,379.9 215.2,379.5 222.8,381.5 222.8,381.7 222.7,381.9 222.7,382.2" fill="#4d72b8"/><polygon points="207.0,379.5 207.2,378.8 207.3,378.2 207.5,377.5 215.2,379.5 215.0,379.9 214.9,380.4 214.9,380.8" fill="#4a6cb4"/><polygon points="199.2,378.1 199.4,377.3 199.6,376.4 199.8,375.5 207.5,377.5 207.3,378.2 207.2,378.8 207.0,379.5" fill="#4a6cb4"/><polygon points="191.4,376.8 191.6,375.7 191.8,374.6 192.1,373.5 199.8,375.5 199.6,376.4 199.4,377.3 199.2,378.1" fill="#598ac7"/><polygon points="183.6,375.5 183.8,374.1 184.1,372.8 184.5,371.5 192.1,373.5 191.8,374.6 191.6,375.7 191.4,376.8" fill="#5f92cb"/><polygon points="175.7,374.1 176.0,372.6 176.4,371.0 176.8,369.5 184.5,371.5 184.1,372.8 183.8,374.1 183.6,375.5" fill="#5889c6"/><polygon points="167.9,372.8 168.3,371.0 168.7,369.3 169.1,367.5 176.8,369.5 176.4,371.0 176.0,372.6 175.7,374.1" fill="#5684c3"/><polygon points="160.1,371.4 160.5,369.4 160.9,367.5 161.4,365.5 169.1,367.5 168.7,369.3 168.3,371.0 167.9,372.8" fill="#4b6fb6"/><polygon points="152.3,370.1 152.7,367.9 153.2,365.7 153.8,363.5 161.4,365.5 160.9,367.5 160.5,369.4 160.1,371.4" fill="#4d72b8"/><polygon points="144.4,368.7 144.9,366.3 145.5,363.9 146.1,361.5 153.8,363.5 153.2,365.7 152.7,367.9 152.3,370.1" fill="#4b6fb6"/><polygon points="136.6,367.4 137.1,364.8 137.7,362.1 138.4,359.5 146.1,361.5 145.5,363.9 144.9,366.3 144.4,368.7" fill="#4a6db4"/><polygon points="128.8,366.1 129.4,363.2 130.0,360.3 130.7,357.5 138.4,359.5 137.7,362.1 137.1,364.8 136.6,367.4" fill="#4c70b6"/><polygon points="121.0,364.7 121.6,361.6 122.3,358.6 123.1,355.5 130.7,357.5 130.0,360.3 129.4,363.2 128.8,366.1" fill="#4868b2"/><polygon points="113.1,363.4 113.8,360.1 114.5,356.8 115.4,353.5 123.1,355.5 122.3,358.6 121.6,361.6 121.0,364.7" fill="#3c4da2"/><polygon points="105.3,362.0 106.0,358.5 106.8,355.0 107.7,351.5 115.4,353.5 114.5,356.8 113.8,360.1 113.1,363.4" fill="#3b4aa0"/><polygon points="97.5,360.7 98.2,357.0 99.1,353.2 100.0,349.5 107.7,351.5 106.8,355.0 106.0,358.5 105.3,362.0" fill="#4765b0"/><polygon points="89.7,359.4 90.5,355.4 91.4,351.4 92.4,347.5 100.0,349.5 99.1,353.2 98.2,357.0 97.5,360.7" fill="#496bb3"/><polygon points="222.8,381.5 222.9,381.3 223.0,381.1 223.0,380.9 230.5,383.5 230.5,383.5 230.5,383.5 230.5,383.5" fill="#4a6cb4"/><polygon points="215.2,379.5 215.3,379.1 215.4,378.6 215.6,378.2 223.0,380.9 223.0,381.1 222.9,381.3 222.8,381.5" fill="#496ab3"/><polygon points="207.5,377.5 207.7,376.9 207.9,376.2 208.1,375.6 215.6,378.2 215.4,378.6 215.3,379.1 215.2,379.5" fill="#4664af"/><polygon points="199.8,375.5 200.1,374.6 200.3,373.8 200.6,372.9 208.1,375.6 207.9,376.2 207.7,376.9 207.5,377.5" fill="#4b6fb5"/><polygon points="192.1,373.5 192.4,372.4 192.8,371.4 193.2,370.3 200.6,372.9 200.3,373.8 200.1,374.6 199.8,375.5" fill="#5a8cc8"/><polygon points="184.5,371.5 184.8,370.2 185.3,368.9 185.7,367.7 193.2,370.3 192.8,371.4 192.4,372.4 192.1,373.5" fill="#5787c5"/><polygon points="176.8,369.5 177.2,368.0 177.7,366.5 178.2,365.0 185.7,367.7 185.3,368.9 184.8,370.2 184.5,371.5" fill="#5888c6"/><polygon points="169.1,367.5 169.6,365.8 170.2,364.1 170.8,362.4 178.2,365.0 177.7,366.5 177.2,368.0 176.8,369.5" fill="#598ac6"/><polygon points="161.4,365.5 162.0,363.6 162.6,361.6 163.3,359.7 170.8,362.4 170.2,364.1 169.6,365.8 169.1,367.5" fill="#4867b1"/><polygon points="153.8,363.5 154.4,361.4 155.1,359.2 155.8,357.1 163.3,359.7 162.6,361.6 162.0,363.6 161.4,365.5" fill="#4665b0"/><polygon points="146.1,361.5 146.8,359.1 147.5,356.8 148.4,354.4 155.8,357.1 155.1,359.2 154.4,361.4 153.8,363.5" fill="#4d72b8"/><polygon points="138.4,359.5 139.2,356.9 140.0,354.4 140.9,351.8 148.4,354.4 147.5,356.8 146.8,359.1 146.1,361.5" fill="#4d73b8"/><polygon points="130.7,357.5 131.6,354.7 132.5,351.9 133.5,349.2 140.9,351.8 140.0,354.4 139.2,356.9 138.4,359.5" fill="#4b6eb5"/><polygon points="123.1,355.5 124.0,352.5 124.9,349.5 126.0,346.5 133.5,349.2 132.5,351.9 131.6,354.7 130.7,357.5" fill="#4c71b7"/><polygon points="115.4,353.5 116.3,350.3 117.4,347.1 118.5,343.9 126.0,346.5 124.9,349.5 124.0,352.5 123.1,355.5" fill="#3b4ba1"/><polygon points="107.7,351.5 108.7,348.1 109.8,344.6 111.1,341.2 118.5,343.9 117.4,347.1 116.3,350.3 115.4,353.5" fill="#3e50a4"/><polygon points="100.0,349.5 101.1,345.8 102.3,342.2 103.6,338.6 111.1,341.2 109.8,344.6 108.7,348.1 107.7,351.5" fill="#4867b1"/><polygon points="92.4,347.5 93.5,343.6 94.8,339.8 96.1,336.0 103.6,338.6 102.3,342.2 101.1,345.8 100.0,349.5" fill="#4b6fb6"/><polygon points="223.0,380.9 223.1,380.6 223.2,380.4 223.3,380.2 230.5,383.5 230.5,383.5 230.5,383.5 230.5,383.5" fill="#4a6db4"/><polygon points="215.6,378.2 215.7,377.8 215.9,377.4 216.1,377.0 223.3,380.2 223.2,380.4 223.1,380.6 223.0,380.9" fill="#4d72b8"/><polygon points="208.1,375.6 208.4,374.9 208.6,374.3 208.9,373.7 216.1,377.0 215.9,377.4 215.7,377.8 215.6,378.2" fill="#4765b0"/><polygon points="200.6,372.9 201.0,372.1 201.3,371.3 201.7,370.4 208.9,373.7 208.6,374.3 208.4,374.9 208.1,375.6" fill="#4c70b6"/><polygon points="193.2,370.3 193.6,369.2 194.0,368.2 194.5,367.2 201.7,370.4 201.3,371.3 201.0,372.1 200.6,372.9" fill="#5685c4"/><polygon points="185.7,367.7 186.2,366.4 186.7,365.1 187.3,363.9 194.5,367.2 194.0,368.2 193.6,369.2 193.2,370.3" fill="#5a8cc8"/><polygon points="178.2,365.0 178.8,363.5 179.4,362.1 180.1,360.7 187.3,363.9 186.7,365.1 186.2,366.4 185.7,367.7" fill="#4d73b8"/><polygon points="170.8,362.4 171.4,360.7 172.1,359.0 172.9,357.4 180.1,360.7 179.4,362.1 178.8,363.5 178.2,365.0" fill="#4664af"/><polygon points="163.3,359.7 164.1,357.8 164.8,356.0 165.7,354.1 172.9,357.4 172.1,359.0 171.4,360.7 170.8,362.4" fill="#4867b1"/><polygon points="155.8,357.1 156.7,355.0 157.6,352.9 158.5,350.9 165.7,354.1 164.8,356.0 164.1,357.8 163.3,359.7" fill="#4868b2"/><polygon points="148.4,354.4 149.3,352.1 150.3,349.9 151.3,347.6 158.5,350.9 157.6,352.9 156.7,355.0 155.8,357.1" fill="#5889c6"/><polygon points="140.9,351.8 141.9,349.3 143.0,346.8 144.1,344.3 151.3,347.6 150.3,349.9 149.3,352.1 148.4,354.4" fill="#5685c3"/><polygon points="133.5,349.2 134.5,346.4 135.7,343.7 136.9,341.1 144.1,344.3 143.0,346.8 141.9,349.3 140.9,351.8" fill="#5f92cb"/><polygon points="126.0,346.5 127.1,343.6 128.4,340.7 129.7,337.8 136.9,341.1 135.7,343.7 134.5,346.4 133.5,349.2" fill="#5e91ca"/><polygon points="118.5,343.9 119.8,340.7 121.1,337.6 122.5,334.5 129.7,337.8 128.4,340.7 127.1,343.6 126.0,346.5" fill="#3b4ba1"/><polygon points="111.1,341.2 112.4,337.9 113.8,334.6 115.3,331.3 122.5,334.5 121.1,337.6 119.8,340.7 118.5,343.9" fill="#3b4ba1"/><polygon points="103.6,338.6 105.0,335.0 106.5,331.5 108.1,328.0 115.3,331.3 113.8,334.6 112.4,337.9 111.1,341.2" fill="#5b8dc8"/><polygon points="96.1,336.0 97.6,332.2 99.2,328.4 100.9,324.8 108.1,328.0 106.5,331.5 105.0,335.0 103.6,338.6" fill="#5684c3"/><polygon points="223.3,380.2 223.4,380.0 223.5,379.8 223.6,379.6 230.5,383.5 230.5,383.5 230.5,383.5 230.5,383.5" fill="#4664af"/><polygon points="216.1,377.0 216.3,376.6 216.5,376.2 216.7,375.8 223.6,379.6 223.5,379.8 223.4,380.0 223.3,380.2" fill="#4d72b7"/><polygon points="208.9,373.7 209.2,373.1 209.5,372.5 209.9,371.9 216.7,375.8 216.5,376.2 216.3,376.6 216.1,377.0" fill="#4868b2"/><polygon points="201.7,370.4 202.1,369.6 202.5,368.8 203.0,368.1 209.9,371.9 209.5,372.5 209.2,373.1 208.9,373.7" fill="#496bb3"/><polygon points="194.5,367.2 195.0,366.2 195.5,365.2 196.1,364.2 203.0,368.1 202.5,368.8 202.1,369.6 201.7,370.4" fill="#6093cb"/><polygon points="187.3,363.9 187.9,362.7 188.5,361.5 189.2,360.3 196.1,364.2 195.5,365.2 195.0,366.2 194.5,367.2" fill="#6094cc"/><polygon points="180.1,360.7 180.8,359.2 181.6,357.8 182.3,356.5 189.2,360.3 188.5,361.5 187.9,362.7 187.3,363.9" fill="#496bb3"/><polygon points="172.9,357.4 173.7,355.8 174.6,354.2 175.5,352.6 182.3,356.5 181.6,357.8 180.8,359.2 180.1,360.7" fill="#4767b1"/><polygon points="165.7,354.1 166.6,352.3 167.6,350.5 168.6,348.8 175.5,352.6 174.6,354.2 173.7,355.8 172.9,357.4" fill="#4868b2"/><polygon points="158.5,350.9 159.5,348.8 160.6,346.9 161.7,344.9 168.6,348.8 167.6,350.5 166.6,352.3 165.7,354.1" fill="#4d72b8"/><polygon points="151.3,347.6 152.4,345.4 153.6,343.2 154.8,341.0 161.7,344.9 160.6,346.9 159.5,348.8 158.5,350.9" fill="#5f92cb"/><polygon points="144.1,344.3 145.3,341.9 146.6,339.5 147.9,337.2 154.8,341.0 153.6,343.2 152.4,345.4 151.3,347.6" fill="#5787c4"/><polygon points="136.9,341.1 138.2,338.4 139.6,335.9 141.1,333.3 147.9,337.2 146.6,339.5 145.3,341.9 144.1,344.3" fill="#5e91cb"/><polygon points="129.7,337.8 131.1,335.0 132.6,332.2 134.2,329.4 141.1,333.3 139.6,335.9 138.2,338.4 136.9,341.1" fill="#5889c6"/><polygon points="122.5,334.5 124.0,331.5 125.6,328.5 127.3,325.6 134.2,329.4 132.6,332.2 131.1,335.0 129.7,337.8" fill="#3b4ba1"/><polygon points="115.3,331.3 116.9,328.0 118.6,324.9 120.4,321.7 127.3,325.6 125.6,328.5 124.0,331.5 122.5,334.5" fill="#3b4ba1"/><polygon points="108.1,328.0 109.8,324.6 111.6,321.2 113.5,317.9 120.4,321.7 118.6,324.9 116.9,328.0 115.3,331.3" fill="#5f92cb"/><polygon points="100.9,324.8 102.7,321.1 104.6,317.5 106.7,314.0 113.5,317.9 111.6,321.2 109.8,324.6 108.1,328.0" fill="#6094cc"/><polygon points="223.6,379.6 223.7,379.4 223.9,379.3 224.0,379.1 230.5,383.5 230.5,383.5 230.5,383.5 230.5,383.5" fill="#4767b1"/><polygon points="216.7,375.8 217.0,375.4 217.2,375.0 217.5,374.6 224.0,379.1 223.9,379.3 223.7,379.4 223.6,379.6" fill="#4b6eb5"/><polygon points="209.9,371.9 210.2,371.3 210.6,370.8 211.0,370.2 217.5,374.6 217.2,375.0 217.0,375.4 216.7,375.8" fill="#4767b1"/><polygon points="203.0,368.1 203.5,367.3 204.0,366.5 204.5,365.8 211.0,370.2 210.6,370.8 210.2,371.3 209.9,371.9" fill="#4d72b7"/><polygon points="196.1,364.2 196.7,363.2 197.3,362.3 198.0,361.4 204.5,365.8 204.0,366.5 203.5,367.3 203.0,368.1" fill="#4664af"/><polygon points="189.2,360.3 189.9,359.2 190.7,358.0 191.5,356.9 198.0,361.4 197.3,362.3 196.7,363.2 196.1,364.2" fill="#4765b0"/><polygon points="182.3,356.5 183.2,355.1 184.0,353.8 184.9,352.5 191.5,356.9 190.7,358.0 189.9,359.2 189.2,360.3" fill="#4b6fb6"/><polygon points="175.5,352.6 176.4,351.1 177.4,349.6 178.4,348.1 184.9,352.5 184.0,353.8 183.2,355.1 182.3,356.5" fill="#4869b2"/><polygon points="168.6,348.8 169.6,347.0 170.8,345.3 171.9,343.6 178.4,348.1 177.4,349.6 176.4,351.1 175.5,352.6" fill="#3e52a5"/><polygon points="161.7,344.9 162.9,343.0 164.1,341.1 165.4,339.2 171.9,343.6 170.8,345.3 169.6,347.0 168.6,348.8" fill="#3e51a5"/><polygon points="154.8,341.0 156.1,338.9 157.5,336.8 158.9,334.8 165.4,339.2 164.1,341.1 162.9,343.0 161.7,344.9" fill="#4b6fb6"/><polygon points="147.9,337.2 149.4,334.9 150.9,332.6 152.4,330.3 158.9,334.8 157.5,336.8 156.1,338.9 154.8,341.0" fill="#4766b0"/><polygon points="141.1,333.3 142.6,330.8 144.2,328.3 145.9,325.9 152.4,330.3 150.9,332.6 149.4,334.9 147.9,337.2" fill="#4b6fb5"/><polygon points="134.2,329.4 135.8,326.7 137.6,324.1 139.4,321.5 145.9,325.9 144.2,328.3 142.6,330.8 141.1,333.3" fill="#4d73b8"/><polygon points="127.3,325.6 129.1,322.7 130.9,319.8 132.9,317.1 139.4,321.5 137.6,324.1 135.8,326.7 134.2,329.4" fill="#496bb3"/><polygon points="120.4,321.7 122.3,318.6 124.3,315.6 126.4,312.6 132.9,317.1 130.9,319.8 129.1,322.7 127.3,325.6" fill="#4765b0"/><polygon points="113.5,317.9 115.6,314.6 117.7,311.4 119.9,308.2 126.4,312.6 124.3,315.6 122.3,318.6 120.4,321.7" fill="#72a9d7"/><polygon points="106.7,314.0 108.8,310.5 111.0,307.1 113.4,303.8 119.9,308.2 117.7,311.4 115.6,314.6 113.5,317.9" fill="#73aad8"/><polygon points="224.0,379.1 224.1,378.9 224.3,378.7 224.4,378.5 230.5,383.5 230.5,383.5 230.5,383.5 230.5,383.5" fill="#4b6fb6"/><polygon points="217.5,374.6 217.8,374.3 218.0,373.9 218.3,373.6 224.4,378.5 224.3,378.7 224.1,378.9 224.0,379.1" fill="#4767b1"/><polygon points="211.0,370.2 211.4,369.7 211.8,369.1 212.2,368.6 218.3,373.6 218.0,373.9 217.8,374.3 217.5,374.6" fill="#4766b1"/><polygon points="204.5,365.8 205.0,365.1 205.6,364.3 206.2,363.6 212.2,368.6 211.8,369.1 211.4,369.7 211.0,370.2" fill="#4867b1"/><polygon points="198.0,361.4 198.6,360.4 199.3,359.6 200.1,358.7 206.2,363.6 205.6,364.3 205.0,365.1 204.5,365.8" fill="#4b6eb5"/><polygon points="191.5,356.9 192.3,355.8 193.1,354.8 194.0,353.7 200.1,358.7 199.3,359.6 198.6,360.4 198.0,361.4" fill="#4c70b6"/><polygon points="184.9,352.5 185.9,351.2 186.9,350.0 187.9,348.8 194.0,353.7 193.1,354.8 192.3,355.8 191.5,356.9" fill="#4969b2"/><polygon points="178.4,348.1 179.5,346.6 180.6,345.2 181.8,343.8 187.9,348.8 186.9,350.0 185.9,351.2 184.9,352.5" fill="#4b6eb5"/><polygon points="171.9,343.6 173.1,342.0 174.4,340.4 175.7,338.8 181.8,343.8 180.6,345.2 179.5,346.6 178.4,348.1" fill="#3e52a5"/><polygon points="165.4,339.2 166.8,337.4 168.2,335.6 169.6,333.9 175.7,338.8 174.4,340.4 173.1,342.0 171.9,343.6" fill="#3c4da2"/><polygon points="158.9,334.8 160.4,332.8 162.0,330.8 163.6,328.9 169.6,333.9 168.2,335.6 166.8,337.4 165.4,339.2" fill="#4867b1"/><polygon points="152.4,330.3 154.0,328.2 155.7,326.0 157.5,323.9 163.6,328.9 162.0,330.8 160.4,332.8 158.9,334.8" fill="#4868b2"/><polygon points="145.9,325.9 147.7,323.6 149.5,321.2 151.4,319.0 157.5,323.9 155.7,326.0 154.0,328.2 152.4,330.3" fill="#4d72b8"/><polygon points="139.4,321.5 141.3,318.9 143.3,316.4 145.3,314.0 151.4,319.0 149.5,321.2 147.7,323.6 145.9,325.9" fill="#4b6eb5"/><polygon points="132.9,317.1 134.9,314.3 137.0,311.7 139.2,309.0 145.3,314.0 143.3,316.4 141.3,318.9 139.4,321.5" fill="#4868b1"/><polygon points="126.4,312.6 128.5,309.7 130.8,306.9 133.1,304.1 139.2,309.0 137.0,311.7 134.9,314.3 132.9,317.1" fill="#4b6eb5"/><polygon points="119.9,308.2 122.2,305.1 124.6,302.1 127.0,299.1 133.1,304.1 130.8,306.9 128.5,309.7 126.4,312.6" fill="#70a7d6"/><polygon points="113.4,303.8 115.8,300.5 118.3,297.3 121.0,294.2 127.0,299.1 124.6,302.1 122.2,305.1 119.9,308.2" fill="#7cb2db"/><polygon points="224.4,378.5 224.6,378.4 224.7,378.2 224.9,378.0 230.5,383.5 230.5,383.5 230.5,383.5 230.5,383.5" fill="#496bb3"/><polygon points="218.3,373.6 218.6,373.2 218.9,372.9 219.3,372.6 224.9,378.0 224.7,378.2 224.6,378.4 224.4,378.5" fill="#4a6cb4"/><polygon points="212.2,368.6 212.7,368.1 213.2,367.6 213.6,367.1 219.3,372.6 218.9,372.9 218.6,373.2 218.3,373.6" fill="#5a8cc8"/><polygon points="206.2,363.6 206.8,363.0 207.4,362.3 208.0,361.7 213.6,367.1 213.2,367.6 212.7,368.1 212.2,368.6" fill="#5684c3"/><polygon points="200.1,358.7 200.8,357.8 201.6,357.0 202.4,356.2 208.0,361.7 207.4,362.3 206.8,363.0 206.2,363.6" fill="#5b8dc8"/><polygon points="194.0,353.7 194.9,352.7 195.8,351.7 196.8,350.7 202.4,356.2 201.6,357.0 200.8,357.8 200.1,358.7" fill="#5888c5"/><polygon points="187.9,348.8 189.0,347.6 190.0,346.4 191.2,345.3 196.8,350.7 195.8,351.7 194.9,352.7 194.0,353.7" fill="#4868b1"/><polygon points="181.8,343.8 183.0,342.4 184.3,341.1 185.6,339.8 191.2,345.3 190.0,346.4 189.0,347.6 187.9,348.8" fill="#4c70b7"/><polygon points="175.7,338.8 177.1,337.3 178.5,335.8 179.9,334.4 185.6,339.8 184.3,341.1 183.0,342.4 181.8,343.8" fill="#4765b0"/><polygon points="169.6,333.9 171.2,332.2 172.7,330.5 174.3,328.9 179.9,334.4 178.5,335.8 177.1,337.3 175.7,338.8" fill="#4868b2"/><polygon points="163.6,328.9 165.2,327.0 166.9,325.2 168.7,323.4 174.3,328.9 172.7,330.5 171.2,332.2 169.6,333.9" fill="#3d50a4"/><polygon points="157.5,323.9 159.3,321.9 161.2,319.9 163.1,318.0 168.7,323.4 166.9,325.2 165.2,327.0 163.6,328.9" fill="#3b4ba1"/><polygon points="151.4,319.0 153.3,316.8 155.4,314.6 157.5,312.5 163.1,318.0 161.2,319.9 159.3,321.9 157.5,323.9" fill="#5888c5"/><polygon points="145.3,314.0 147.4,311.6 149.6,309.3 151.9,307.1 157.5,312.5 155.4,314.6 153.3,316.8 151.4,319.0" fill="#5a8cc8"/><polygon points="139.2,309.0 141.5,306.5 143.8,304.0 146.2,301.6 151.9,307.1 149.6,309.3 147.4,311.6 145.3,314.0" fill="#5786c4"/><polygon points="133.1,304.1 135.5,301.4 138.0,298.7 140.6,296.1 146.2,301.6 143.8,304.0 141.5,306.5 139.2,309.0" fill="#5f92cb"/><polygon points="127.0,299.1 129.6,296.2 132.3,293.4 135.0,290.7 140.6,296.1 138.0,298.7 135.5,301.4 133.1,304.1" fill="#7cb2db"/><polygon points="121.0,294.2 123.7,291.1 126.5,288.1 129.4,285.2 135.0,290.7 132.3,293.4 129.6,296.2 127.0,299.1" fill="#6fa6d5"/><polygon points="224.9,378.0 225.0,377.9 225.2,377.7 225.4,377.6 230.5,383.5 230.5,383.5 230.5,383.5 230.5,383.5" fill="#496bb3"/><polygon points="219.3,372.6 219.6,372.3 219.9,372.0 220.3,371.7 225.4,377.6 225.2,377.7 225.0,377.9 224.9,378.0" fill="#4c70b6"/><polygon points="213.6,367.1 214.1,366.6 214.7,366.2 215.2,365.8 220.3,371.7 219.9,372.0 219.6,372.3 219.3,372.6" fill="#598ac6"/><polygon points="208.0,361.7 208.7,361.0 209.4,360.4 210.1,359.8 215.2,365.8 214.7,366.2 214.1,366.6 213.6,367.1" fill="#6093cb"/><polygon points="202.4,356.2 203.2,355.4 204.1,354.7 205.0,353.9 210.1,359.8 209.4,360.4 208.7,361.0 208.0,361.7" fill="#598bc7"/><polygon points="196.8,350.7 197.8,349.8 198.8,348.9 199.9,348.0 205.0,353.9 204.1,354.7 203.2,355.4 202.4,356.2" fill="#5786c4"/><polygon points="191.2,345.3 192.3,344.2 193.5,343.1 194.8,342.1 199.9,348.0 198.8,348.9 197.8,349.8 196.8,350.7" fill="#4a6cb4"/><polygon points="185.6,339.8 186.9,338.6 188.2,337.4 189.6,336.2 194.8,342.1 193.5,343.1 192.3,344.2 191.2,345.3" fill="#4b6eb5"/><polygon points="179.9,334.4 181.4,332.9 183.0,331.6 184.5,330.3 189.6,336.2 188.2,337.4 186.9,338.6 185.6,339.8" fill="#4969b2"/><polygon points="174.3,328.9 176.0,327.3 177.7,325.8 179.4,324.3 184.5,330.3 183.0,331.6 181.4,332.9 179.9,334.4" fill="#4b6eb5"/><polygon points="168.7,323.4 170.5,321.7 172.4,320.0 174.3,318.4 179.4,324.3 177.7,325.8 176.0,327.3 174.3,328.9" fill="#3d50a4"/><polygon points="163.1,318.0 165.1,316.1 167.1,314.3 169.2,312.5 174.3,318.4 172.4,320.0 170.5,321.7 168.7,323.4" fill="#3c4ca2"/><polygon points="157.5,312.5 159.6,310.5 161.8,308.5 164.1,306.6 169.2,312.5 167.1,314.3 165.1,316.1 163.1,318.0" fill="#5a8cc8"/><polygon points="151.9,307.1 154.2,304.9 156.6,302.7 159.0,300.7 164.1,306.6 161.8,308.5 159.6,310.5 157.5,312.5" fill="#5e91cb"/><polygon points="146.2,301.6 148.7,299.2 151.3,297.0 153.9,294.8 159.0,300.7 156.6,302.7 154.2,304.9 151.9,307.1" fill="#5c8fc9"/><polygon points="140.6,296.1 143.3,293.6 146.0,291.2 148.8,288.9 153.9,294.8 151.3,297.0 148.7,299.2 146.2,301.6" fill="#5a8cc8"/><polygon points="135.0,290.7 137.8,288.0 140.7,285.4 143.7,282.9 148.8,288.9 146.0,291.2 143.3,293.6 140.6,296.1" fill="#7bb2db"/><polygon points="129.4,285.2 132.4,282.4 135.4,279.7 138.6,277.0 143.7,282.9 140.7,285.4 137.8,288.0 135.0,290.7" fill="#71a8d7"/><polygon points="225.4,377.6 225.6,377.4 225.8,377.3 225.9,377.2 230.5,383.5 230.5,383.5 230.5,383.5 230.5,383.5" fill="#4c70b6"/><polygon points="220.3,371.7 220.6,371.4 221.0,371.1 221.4,370.8 225.9,377.2 225.8,377.3 225.6,377.4 225.4,377.6" fill="#4766b0"/><polygon points="215.2,365.8 215.7,365.3 216.3,364.9 216.8,364.5 221.4,370.8 221.0,371.1 220.6,371.4 220.3,371.7" fill="#5b8dc8"/><polygon points="210.1,359.8 210.8,359.3 211.5,358.7 212.3,358.2 216.8,364.5 216.3,364.9 215.7,365.3 215.2,365.8" fill="#5787c5"/><polygon points="205.0,353.9 205.9,353.2 206.8,352.5 207.7,351.9 212.3,358.2 211.5,358.7 210.8,359.3 210.1,359.8" fill="#496bb3"/><polygon points="199.9,348.0 200.9,347.2 202.0,346.3 203.2,345.5 207.7,351.9 206.8,352.5 205.9,353.2 205.0,353.9" fill="#4c70b6"/><polygon points="194.8,342.1 196.0,341.1 197.3,340.1 198.6,339.2 203.2,345.5 202.0,346.3 200.9,347.2 199.9,348.0" fill="#79b0db"/><polygon points="189.6,336.2 191.1,335.0 192.5,333.9 194.0,332.9 198.6,339.2 197.3,340.1 196.0,341.1 194.8,342.1" fill="#79b0db"/><polygon points="184.5,330.3 186.2,329.0 187.8,327.8 189.5,326.6 194.0,332.9 192.5,333.9 191.1,335.0 189.6,336.2" fill="#5787c5"/><polygon points="179.4,324.3 181.2,322.9 183.1,321.6 184.9,320.2 189.5,326.6 187.8,327.8 186.2,329.0 184.5,330.3" fill="#598bc7"/><polygon points="174.3,318.4 176.3,316.9 178.3,315.4 180.4,313.9 184.9,320.2 183.1,321.6 181.2,322.9 179.4,324.3" fill="#4867b1"/><polygon points="169.2,312.5 171.4,310.8 173.6,309.2 175.8,307.6 180.4,313.9 178.3,315.4 176.3,316.9 174.3,318.4" fill="#4a6db4"/><polygon points="164.1,306.6 166.4,304.8 168.8,303.0 171.3,301.3 175.8,307.6 173.6,309.2 171.4,310.8 169.2,312.5" fill="#598bc7"/><polygon points="159.0,300.7 161.5,298.7 164.1,296.8 166.7,294.9 171.3,301.3 168.8,303.0 166.4,304.8 164.1,306.6" fill="#5684c3"/><polygon points="153.9,294.8 156.6,292.6 159.3,290.6 162.1,288.6 166.7,294.9 164.1,296.8 161.5,298.7 159.0,300.7" fill="#4a6db4"/><polygon points="148.8,288.9 151.7,286.6 154.6,284.4 157.6,282.3 162.1,288.6 159.3,290.6 156.6,292.6 153.9,294.8" fill="#4b6fb6"/><polygon points="143.7,282.9 146.7,280.5 149.9,278.2 153.0,276.0 157.6,282.3 154.6,284.4 151.7,286.6 148.8,288.9" fill="#4a6db4"/><polygon points="138.6,277.0 141.8,274.5 145.1,272.0 148.5,269.6 153.0,276.0 149.9,278.2 146.7,280.5 143.7,282.9" fill="#4c71b7"/><polygon points="225.9,377.2 226.1,377.0 226.3,376.9 226.5,376.8 230.5,383.5 230.5,383.5 230.5,383.5 230.5,383.5" fill="#4766b1"/><polygon points="221.4,370.8 221.8,370.6 222.2,370.4 222.6,370.1 226.5,376.8 226.3,376.9 226.1,377.0 225.9,377.2" fill="#4766b0"/><polygon points="216.8,364.5 217.4,364.1 218.0,363.8 218.6,363.4 222.6,370.1 222.2,370.4 221.8,370.6 221.4,370.8" fill="#5684c3"/><polygon points="212.3,358.2 213.0,357.7 213.8,357.2 214.6,356.7 218.6,363.4 218.0,363.8 217.4,364.1 216.8,364.5" fill="#598bc7"/><polygon points="207.7,351.9 208.7,351.2 209.6,350.6 210.6,350.1 214.6,356.7 213.8,357.2 213.0,357.7 212.3,358.2" fill="#496ab3"/><polygon points="203.2,345.5 204.3,344.8 205.5,344.1 206.7,343.4 210.6,350.1 209.6,350.6 208.7,351.2 207.7,351.9" fill="#496bb3"/><polygon points="198.6,339.2 199.9,338.3 201.3,337.5 202.7,336.7 206.7,343.4 205.5,344.1 204.3,344.8 203.2,345.5" fill="#72a9d7"/><polygon points="194.0,332.9 195.6,331.9 197.1,330.9 198.7,330.0 202.7,336.7 201.3,337.5 199.9,338.3 198.6,339.2" fill="#79b0db"/><polygon points="189.5,326.6 191.2,325.4 193.0,324.3 194.7,323.3 198.7,330.0 197.1,330.9 195.6,331.9 194.0,332.9" fill="#5685c3"/><polygon points="184.9,320.2 186.8,319.0 188.8,317.8 190.8,316.6 194.7,323.3 193.0,324.3 191.2,325.4 189.5,326.6" fill="#5f92cb"/><polygon points="180.4,313.9 182.5,312.5 184.6,311.2 186.8,309.9 190.8,316.6 188.8,317.8 186.8,319.0 184.9,320.2" fill="#4a6db4"/><polygon points="175.8,307.6 178.1,306.1 180.5,304.6 182.8,303.2 186.8,309.9 184.6,311.2 182.5,312.5 180.4,313.9" fill="#4a6cb4"/><polygon points="171.3,301.3 173.7,299.6 176.3,298.1 178.9,296.6 182.8,303.2 180.5,304.6 178.1,306.1 175.8,307.6" fill="#5e90ca"/><polygon points="166.7,294.9 169.4,293.2 172.1,291.5 174.9,289.9 178.9,296.6 176.3,298.1 173.7,299.6 171.3,301.3" fill="#5787c5"/><polygon points="162.1,288.6 165.0,286.7 167.9,284.9 170.9,283.2 174.9,289.9 172.1,291.5 169.4,293.2 166.7,294.9" fill="#4766b0"/><polygon points="157.6,282.3 160.7,280.3 163.8,278.3 166.9,276.5 170.9,283.2 167.9,284.9 165.0,286.7 162.1,288.6" fill="#4868b2"/><polygon points="153.0,276.0 156.3,273.8 159.6,271.8 163.0,269.8 166.9,276.5 163.8,278.3 160.7,280.3 157.6,282.3" fill="#4664af"/><polygon points="148.5,269.6 151.9,267.4 155.4,265.2 159.0,263.1 163.0,269.8 159.6,271.8 156.3,273.8 153.0,276.0" fill="#4869b2"/><polygon points="226.5,376.8 226.7,376.7 226.9,376.6 227.1,376.5 230.5,383.5 230.5,383.5 230.5,383.5 230.5,383.5" fill="#4a6db5"/><polygon points="222.6,370.1 223.0,369.9 223.4,369.7 223.8,369.5 227.1,376.5 226.9,376.6 226.7,376.7 226.5,376.8" fill="#4a6cb4"/><polygon points="218.6,363.4 219.2,363.1 219.8,362.8 220.4,362.5 223.8,369.5 223.4,369.7 223.0,369.9 222.6,370.1" fill="#5888c5"/><polygon points="214.6,356.7 215.4,356.3 216.2,355.9 217.1,355.5 220.4,362.5 219.8,362.8 219.2,363.1 218.6,363.4" fill="#5b8dc8"/><polygon points="210.6,350.1 211.6,349.5 212.7,349.0 213.7,348.5 217.1,355.5 216.2,355.9 215.4,356.3 214.6,356.7" fill="#5685c3"/><polygon points="206.7,343.4 207.9,342.7 209.1,342.1 210.4,341.5 213.7,348.5 212.7,349.0 211.6,349.5 210.6,350.1" fill="#5e91ca"/><polygon points="202.7,336.7 204.1,335.9 205.5,335.2 207.0,334.5 210.4,341.5 209.1,342.1 207.9,342.7 206.7,343.4" fill="#4766b1"/><polygon points="198.7,330.0 200.3,329.1 202.0,328.3 203.6,327.5 207.0,334.5 205.5,335.2 204.1,335.9 202.7,336.7" fill="#4868b1"/><polygon points="194.7,323.3 196.6,322.3 198.4,321.4 200.3,320.5 203.6,327.5 202.0,328.3 200.3,329.1 198.7,330.0" fill="#71a8d6"/><polygon points="190.8,316.6 192.8,315.5 194.8,314.5 196.9,313.5 200.3,320.5 198.4,321.4 196.6,322.3 194.7,323.3" fill="#78afda"/><polygon points="186.8,309.9 189.0,308.7 191.3,307.6 193.6,306.5 196.9,313.5 194.8,314.5 192.8,315.5 190.8,316.6" fill="#4c71b7"/><polygon points="182.8,303.2 185.3,301.9 187.7,300.7 190.2,299.5 193.6,306.5 191.3,307.6 189.0,308.7 186.8,309.9" fill="#4c70b6"/><polygon points="178.9,296.6 181.5,295.1 184.1,293.8 186.9,292.5 190.2,299.5 187.7,300.7 185.3,301.9 182.8,303.2" fill="#4664b0"/><polygon points="174.9,289.9 177.7,288.3 180.6,286.9 183.5,285.5 186.9,292.5 184.1,293.8 181.5,295.1 178.9,296.6" fill="#496ab3"/><polygon points="170.9,283.2 173.9,281.5 177.0,280.0 180.1,278.5 183.5,285.5 180.6,286.9 177.7,288.3 174.9,289.9" fill="#4969b2"/><polygon points="166.9,276.5 170.2,274.7 173.5,273.1 176.8,271.5 180.1,278.5 177.0,280.0 173.9,281.5 170.9,283.2" fill="#4867b1"/><polygon points="163.0,269.8 166.4,267.9 169.9,266.2 173.4,264.5 176.8,271.5 173.5,273.1 170.2,274.7 166.9,276.5" fill="#3f53a6"/><polygon points="159.0,263.1 162.6,261.2 166.3,259.3 170.1,257.5 173.4,264.5 169.9,266.2 166.4,267.9 163.0,269.8" fill="#3b4aa0"/><polygon points="227.1,376.5 227.4,376.4 227.6,376.3 227.8,376.2 230.5,383.5 230.5,383.5 230.5,383.5 230.5,383.5" fill="#496bb3"/><polygon points="223.8,369.5 224.2,369.3 224.6,369.1 225.1,369.0 227.8,376.2 227.6,376.3 227.4,376.4 227.1,376.5" fill="#4c70b6"/><polygon points="220.4,362.5 221.1,362.2 221.7,362.0 222.3,361.7 225.1,369.0 224.6,369.1 224.2,369.3 223.8,369.5" fill="#6094cc"/><polygon points="217.1,355.5 217.9,355.1 218.8,354.8 219.6,354.5 222.3,361.7 221.7,362.0 221.1,362.2 220.4,362.5" fill="#5786c4"/><polygon points="213.7,348.5 214.8,348.0 215.8,347.6 216.9,347.2 219.6,354.5 218.8,354.8 217.9,355.1 217.1,355.5" fill="#598bc7"/><polygon points="210.4,341.5 211.6,341.0 212.9,340.4 214.2,340.0 216.9,347.2 215.8,347.6 214.8,348.0 213.7,348.5" fill="#5d90ca"/><polygon points="207.0,334.5 208.5,333.9 210.0,333.3 211.5,332.7 214.2,340.0 212.9,340.4 211.6,341.0 210.4,341.5" fill="#4664af"/><polygon points="203.6,327.5 205.3,326.8 207.0,326.1 208.8,325.4 211.5,332.7 210.0,333.3 208.5,333.9 207.0,334.5" fill="#4867b1"/><polygon points="200.3,320.5 202.2,319.7 204.1,318.9 206.0,318.2 208.8,325.4 207.0,326.1 205.3,326.8 203.6,327.5" fill="#7bb1db"/><polygon points="196.9,313.5 199.0,312.6 201.2,311.7 203.3,310.9 206.0,318.2 204.1,318.9 202.2,319.7 200.3,320.5" fill="#70a7d6"/><polygon points="193.6,306.5 195.9,305.5 198.2,304.6 200.6,303.7 203.3,310.9 201.2,311.7 199.0,312.6 196.9,313.5" fill="#496ab3"/><polygon points="190.2,299.5 192.7,298.4 195.3,297.4 197.9,296.4 200.6,303.7 198.2,304.6 195.9,305.5 193.6,306.5" fill="#4868b2"/><polygon points="186.9,292.5 189.6,291.3 192.4,290.2 195.2,289.2 197.9,296.4 195.3,297.4 192.7,298.4 190.2,299.5" fill="#496ab3"/><polygon points="183.5,285.5 186.4,284.2 189.4,283.0 192.5,281.9 195.2,289.2 192.4,290.2 189.6,291.3 186.9,292.5" fill="#4765b0"/><polygon points="180.1,278.5 183.3,277.1 186.5,275.9 189.7,274.7 192.5,281.9 189.4,283.0 186.4,284.2 183.5,285.5" fill="#4664af"/><polygon points="176.8,271.5 180.2,270.0 183.6,268.7 187.0,267.4 189.7,274.7 186.5,275.9 183.3,277.1 180.1,278.5" fill="#4d73b8"/><polygon points="173.4,264.5 177.0,263.0 180.6,261.5 184.3,260.1 187.0,267.4 183.6,268.7 180.2,270.0 176.8,271.5" fill="#3d50a4"/><polygon points="170.1,257.5 173.9,255.9 177.7,254.3 181.6,252.9 184.3,260.1 180.6,261.5 177.0,263.0 173.4,264.5" fill="#3d4fa4"/><polygon points="227.8,376.2 228.0,376.2 228.2,376.1 228.4,376.0 230.5,383.5 230.5,383.5 230.5,383.5 230.5,383.5" fill="#5787c5"/><polygon points="225.1,369.0 225.5,368.8 225.9,368.7 226.4,368.6 228.4,376.0 228.2,376.1 228.0,376.2 227.8,376.2" fill="#5888c5"/><polygon points="222.3,361.7 223.0,361.5 223.7,361.3 224.3,361.1 226.4,368.6 225.9,368.7 225.5,368.8 225.1,369.0" fill="#5a8cc8"/><polygon points="219.6,354.5 220.5,354.2 221.4,353.9 222.3,353.7 224.3,361.1 223.7,361.3 223.0,361.5 222.3,361.7" fill="#5787c5"/><polygon points="216.9,347.2 218.0,346.8 219.1,346.5 220.2,346.2 222.3,353.7 221.4,353.9 220.5,354.2 219.6,354.5" fill="#496bb3"/><polygon points="214.2,340.0 215.5,339.5 216.8,339.1 218.2,338.7 220.2,346.2 219.1,346.5 218.0,346.8 216.9,347.2" fill="#4d72b8"/><polygon points="211.5,332.7 213.0,332.2 214.6,331.7 216.1,331.3 218.2,338.7 216.8,339.1 215.5,339.5 214.2,340.0" fill="#4969b2"/><polygon points="208.8,325.4 210.5,324.9 212.3,324.3 214.1,323.8 216.1,331.3 214.6,331.7 213.0,332.2 211.5,332.7" fill="#4869b2"/><polygon points="206.0,318.2 208.0,317.5 210.0,316.9 212.0,316.4 214.1,323.8 212.3,324.3 210.5,324.9 208.8,325.4" fill="#4d73b8"/><polygon points="203.3,310.9 205.5,310.2 207.7,309.5 209.9,308.9 212.0,316.4 210.0,316.9 208.0,317.5 206.0,318.2" fill="#4a6db5"/><polygon points="200.6,303.7 203.0,302.9 205.4,302.1 207.9,301.4 209.9,308.9 207.7,309.5 205.5,310.2 203.3,310.9" fill="#4664af"/><polygon points="197.9,296.4 200.5,295.5 203.2,294.7 205.8,294.0 207.9,301.4 205.4,302.1 203.0,302.9 200.6,303.7" fill="#496ab3"/><polygon points="195.2,289.2 198.0,288.2 200.9,287.3 203.8,286.5 205.8,294.0 203.2,294.7 200.5,295.5 197.9,296.4" fill="#4b6eb5"/><polygon points="192.5,281.9 195.5,280.9 198.6,279.9 201.7,279.1 203.8,286.5 200.9,287.3 198.0,288.2 195.2,289.2" fill="#4664b0"/><polygon points="189.7,274.7 193.0,273.5 196.3,272.5 199.7,271.6 201.7,279.1 198.6,279.9 195.5,280.9 192.5,281.9" fill="#3b4ba1"/><polygon points="187.0,267.4 190.5,266.2 194.0,265.1 197.6,264.2 199.7,271.6 196.3,272.5 193.0,273.5 189.7,274.7" fill="#3d4fa3"/><polygon points="184.3,260.1 188.0,258.9 191.8,257.7 195.5,256.7 197.6,264.2 194.0,265.1 190.5,266.2 187.0,267.4" fill="#4c71b7"/><polygon points="181.6,252.9 185.5,251.6 189.5,250.3 193.5,249.2 195.5,256.7 191.8,257.7 188.0,258.9 184.3,260.1" fill="#4a6db4"/><polygon points="228.4,376.0 228.7,376.0 228.9,375.9 229.1,375.9 230.5,383.5 230.5,383.5 230.5,383.5 230.5,383.5" fill="#5f92cb"/><polygon points="226.4,368.6 226.8,368.5 227.3,368.4 227.7,368.3 229.1,375.9 228.9,375.9 228.7,376.0 228.4,376.0" fill="#598bc7"/><polygon points="224.3,361.1 225.0,361.0 225.7,360.8 226.4,360.7 227.7,368.3 227.3,368.4 226.8,368.5 226.4,368.6" fill="#598ac6"/><polygon points="222.3,353.7 223.2,353.4 224.1,353.2 225.0,353.1 226.4,360.7 225.7,360.8 225.0,361.0 224.3,361.1" fill="#5e91cb"/><polygon points="220.2,346.2 221.3,345.9 222.5,345.7 223.6,345.5 225.0,353.1 224.1,353.2 223.2,353.4 222.3,353.7" fill="#496ab2"/><polygon points="218.2,338.7 219.5,338.4 220.9,338.1 222.2,337.9 223.6,345.5 222.5,345.7 221.3,345.9 220.2,346.2" fill="#4c70b6"/><polygon points="216.1,331.3 217.7,330.9 219.3,330.6 220.8,330.3 222.2,337.9 220.9,338.1 219.5,338.4 218.2,338.7" fill="#4867b1"/><polygon points="214.1,323.8 215.8,323.4 217.6,323.0 219.5,322.7 220.8,330.3 219.3,330.6 217.7,330.9 216.1,331.3" fill="#4869b2"/><polygon points="212.0,316.4 214.0,315.9 216.0,315.4 218.1,315.1 219.5,322.7 217.6,323.0 215.8,323.4 214.1,323.8" fill="#4766b1"/><polygon points="209.9,308.9 212.2,308.4 214.4,307.9 216.7,307.5 218.1,315.1 216.0,315.4 214.0,315.9 212.0,316.4" fill="#4a6cb4"/><polygon points="207.9,301.4 210.3,300.8 212.8,300.3 215.3,299.8 216.7,307.5 214.4,307.9 212.2,308.4 209.9,308.9" fill="#4766b0"/><polygon points="205.8,294.0 208.5,293.3 211.2,292.7 213.9,292.2 215.3,299.8 212.8,300.3 210.3,300.8 207.9,301.4" fill="#4767b1"/><polygon points="203.8,286.5 206.7,285.8 209.6,285.2 212.6,284.6 213.9,292.2 211.2,292.7 208.5,293.3 205.8,294.0" fill="#4867b1"/><polygon points="201.7,279.1 204.9,278.3 208.0,277.6 211.2,277.0 212.6,284.6 209.6,285.2 206.7,285.8 203.8,286.5" fill="#496bb3"/><polygon points="199.7,271.6 203.0,270.8 206.4,270.1 209.8,269.4 211.2,277.0 208.0,277.6 204.9,278.3 201.7,279.1" fill="#3b4ba1"/><polygon points="197.6,264.2 201.2,263.3 204.8,262.5 208.4,261.8 209.8,269.4 206.4,270.1 203.0,270.8 199.7,271.6" fill="#3b4ba1"/><polygon points="195.5,256.7 199.4,255.8 203.2,254.9 207.0,254.2 208.4,261.8 204.8,262.5 201.2,263.3 197.6,264.2" fill="#4d73b8"/><polygon points="193.5,249.2 197.5,248.2 201.6,247.4 205.7,246.6 207.0,254.2 203.2,254.9 199.4,255.8 195.5,256.7" fill="#4b6eb5"/><polygon points="229.1,375.9 229.3,375.9 229.6,375.8 229.8,375.8 230.5,383.5 230.5,383.5 230.5,383.5 230.5,383.5" fill="#5f92cb"/><polygon points="227.7,368.3 228.2,368.2 228.7,368.2 229.1,368.1 229.8,375.8 229.6,375.8 229.3,375.9 229.1,375.9" fill="#5787c5"/><polygon points="226.4,360.7 227.0,360.6 227.7,360.5 228.4,360.4 229.1,368.1 228.7,368.2 228.2,368.2 227.7,368.3" fill="#496ab2"/><polygon points="225.0,353.1 225.9,352.9 226.8,352.8 227.7,352.7 228.4,360.4 227.7,360.5 227.0,360.6 226.4,360.7" fill="#4765b0"/><polygon points="223.6,345.5 224.7,345.3 225.9,345.1 227.0,345.0 227.7,352.7 226.8,352.8 225.9,352.9 225.0,353.1" fill="#4b6fb5"/><polygon points="222.2,337.9 223.6,337.7 225.0,337.5 226.3,337.3 227.0,345.0 225.9,345.1 224.7,345.3 223.6,345.5" fill="#4969b2"/><polygon points="220.8,330.3 222.4,330.0 224.0,329.8 225.7,329.7 226.3,337.3 225.0,337.5 223.6,337.7 222.2,337.9" fill="#4868b1"/><polygon points="219.5,322.7 221.3,322.4 223.1,322.1 225.0,322.0 225.7,329.7 224.0,329.8 222.4,330.0 220.8,330.3" fill="#4664af"/><polygon points="218.1,315.1 220.1,314.7 222.2,314.5 224.3,314.3 225.0,322.0 223.1,322.1 221.3,322.4 219.5,322.7" fill="#3b4ba1"/><polygon points="216.7,307.5 219.0,307.1 221.3,306.8 223.6,306.6 224.3,314.3 222.2,314.5 220.1,314.7 218.1,315.1" fill="#3b4ba1"/><polygon points="215.3,299.8 217.8,299.5 220.4,299.1 222.9,298.9 223.6,306.6 221.3,306.8 219.0,307.1 216.7,307.5" fill="#496ab3"/><polygon points="213.9,292.2 216.7,291.8 219.4,291.5 222.2,291.2 222.9,298.9 220.4,299.1 217.8,299.5 215.3,299.8" fill="#4d72b8"/><polygon points="212.6,284.6 215.5,284.2 218.5,283.8 221.5,283.5 222.2,291.2 219.4,291.5 216.7,291.8 213.9,292.2" fill="#4b6fb6"/><polygon points="211.2,277.0 214.4,276.5 217.6,276.1 220.8,275.8 221.5,283.5 218.5,283.8 215.5,284.2 212.6,284.6" fill="#4868b1"/><polygon points="209.8,269.4 213.2,268.9 216.7,268.4 220.1,268.1 220.8,275.8 217.6,276.1 214.4,276.5 211.2,277.0" fill="#4969b2"/><polygon points="208.4,261.8 212.1,261.2 215.7,260.8 219.4,260.4 220.1,268.1 216.7,268.4 213.2,268.9 209.8,269.4" fill="#4766b0"/><polygon points="207.0,254.2 210.9,253.6 214.8,253.1 218.7,252.7 219.4,260.4 215.7,260.8 212.1,261.2 208.4,261.8" fill="#3f52a5"/><polygon points="205.7,246.6 209.8,246.0 213.9,245.4 218.0,245.0 218.7,252.7 214.8,253.1 210.9,253.6 207.0,254.2" fill="#3b4ba1"/><polygon points="229.8,375.8 230.0,375.8 230.3,375.8 230.5,375.8 230.5,383.5 230.5,383.5 230.5,383.5 230.5,383.5" fill="#5d90ca"/><polygon points="229.1,368.1 229.6,368.1 230.0,368.1 230.5,368.1 230.5,375.8 230.3,375.8 230.0,375.8 229.8,375.8" fill="#5d8fca"/><polygon points="228.4,360.4 229.1,360.4 229.8,360.3 230.5,360.3 230.5,368.1 230.0,368.1 229.6,368.1 229.1,368.1" fill="#4d72b8"/><polygon points="227.7,352.7 228.7,352.7 229.6,352.6 230.5,352.6 230.5,360.3 229.8,360.3 229.1,360.4 228.4,360.4" fill="#4664af"/><polygon points="227.0,345.0 228.2,345.0 229.3,344.9 230.5,344.9 230.5,352.6 229.6,352.6 228.7,352.7 227.7,352.7" fill="#4869b2"/><polygon points="226.3,337.3 227.7,337.2 229.1,337.2 230.5,337.2 230.5,344.9 229.3,344.9 228.2,345.0 227.0,345.0" fill="#496ab2"/><polygon points="225.7,329.7 227.3,329.5 228.9,329.5 230.5,329.4 230.5,337.2 229.1,337.2 227.7,337.2 226.3,337.3" fill="#4765b0"/><polygon points="225.0,322.0 226.8,321.8 228.7,321.7 230.5,321.7 230.5,329.4 228.9,329.5 227.3,329.5 225.7,329.7" fill="#4d72b7"/><polygon points="224.3,314.3 226.3,314.1 228.4,314.0 230.5,314.0 230.5,321.7 228.7,321.7 226.8,321.8 225.0,322.0" fill="#3b4ba1"/><polygon points="223.6,306.6 225.9,306.4 228.2,306.3 230.5,306.3 230.5,314.0 228.4,314.0 226.3,314.1 224.3,314.3" fill="#3d50a4"/><polygon points="222.9,298.9 225.4,298.7 228.0,298.6 230.5,298.6 230.5,306.3 228.2,306.3 225.9,306.4 223.6,306.6" fill="#4a6cb4"/><polygon points="222.2,291.2 225.0,291.0 227.7,290.9 230.5,290.8 230.5,298.6 228.0,298.6 225.4,298.7 222.9,298.9" fill="#4664af"/><polygon points="221.5,283.5 224.5,283.3 227.5,283.2 230.5,283.1 230.5,290.8 227.7,290.9 225.0,291.0 222.2,291.2" fill="#496ab3"/><polygon points="220.8,275.8 224.0,275.6 227.3,275.4 230.5,275.4 230.5,283.1 227.5,283.2 224.5,283.3 221.5,283.5" fill="#4867b1"/><polygon points="220.1,268.1 223.6,267.9 227.0,267.7 230.5,267.7 230.5,275.4 227.3,275.4 224.0,275.6 220.8,275.8" fill="#4664af"/><polygon points="219.4,260.4 223.1,260.2 226.8,260.0 230.5,259.9 230.5,267.7 227.0,267.7 223.6,267.9 220.1,268.1" fill="#4766b0"/><polygon points="218.7,252.7 222.6,252.4 226.6,252.3 230.5,252.2 230.5,259.9 226.8,260.0 223.1,260.2 219.4,260.4" fill="#3c4da2"/><polygon points="218.0,245.0 222.2,244.7 226.3,244.6 230.5,244.5 230.5,252.2 226.6,252.3 222.6,252.4 218.7,252.7" fill="#3b4aa0"/></g>
<ellipse cx="230.5" cy="383.5" rx="143" ry="139" fill="none" stroke="#fafabe" stroke-width="1.3"/><ellipse cx="230.5" cy="383.5" rx="47.67" ry="46.33" fill="none" stroke="#fafabe" stroke-width="1.1"/><ellipse cx="230.5" cy="383.5" rx="95.33" ry="92.67" fill="none" stroke="#fafabe" stroke-width="1.1"/><line x1="87.5" y1="383.5" x2="373.5" y2="383.5" stroke="#fafabe" stroke-width="1.1"/><line x1="230.5" y1="244.5" x2="230.5" y2="522.5" stroke="#fafabe" stroke-width="1.1"/><line x1="129.38" y1="285.21" x2="331.62" y2="481.79" stroke="#fafabe" stroke-width="1"/><line x1="129.38" y1="481.79" x2="331.62" y2="285.21" stroke="#fafabe" stroke-width="1"/>
<path d="M201.2 253.0h7M204.7 249.5v7M174.4 274.4h7M177.9 270.9v7M254.6 265.0h7M258.1 261.5v7M259.2 265.0h7M262.8 261.5v7M248.4 274.6h7M251.9 271.1v7M257.1 292.0h7M260.6 288.5v7M259.1 310.0h7M262.6 306.5v7M257.1 316.8h7M260.6 313.3v7M311.4 298.0h7M314.9 294.5v7M281.6 338.5h7M285.1 335.0v7M317.8 350.6h7M321.2 347.1v7M348.6 365.8h7M352.1 362.3v7M339.9 389.2h7M343.4 385.7v7M313.4 400.0h7M316.9 396.5v7M355.9 407.4h7M359.4 403.9v7M352.2 434.4h7M355.8 430.9v7M240.9 342.0h7M244.4 338.5v7M240.9 370.2h7M244.4 366.7v7M213.8 346.6h7M217.3 343.1v7M187.2 362.6h7M190.7 359.1v7M189.7 319.2h7M193.2 315.7v7M216.6 311.3h7M220.1 307.8v7M225.8 310.5h7M229.2 307.0v7M203.8 314.4h7M207.2 310.9v7M159.2 318.2h7M162.7 314.7v7M147.4 317.4h7M150.9 313.9v7M165.1 305.8h7M168.6 302.3v7M138.7 325.3h7M142.2 321.8v7M135.8 336.3h7M139.2 332.8v7M123.0 339.5h7M126.5 336.0v7M124.0 339.5h7M127.5 336.0v7M99.7 327.0h7M103.2 323.5v7M97.5 334.3h7M101.0 330.8v7M105.5 347.5h7M109.0 344.0v7M101.0 359.3h7M104.5 355.8v7M140.6 373.5h7M144.1 370.0v7M160.3 390.6h7M163.8 387.1v7M159.7 396.5h7M163.2 393.0v7M172.8 402.0h7M176.3 398.5v7M186.4 402.5h7M189.9 399.0v7M186.8 417.7h7M190.2 414.2v7M188.9 423.6h7M192.4 420.1v7M108.3 420.6h7M111.8 417.1v7M116.8 422.6h7M120.2 419.1v7M145.8 425.7h7M149.2 422.2v7M153.8 426.5h7M157.2 423.0v7M162.8 428.6h7M166.2 425.1v7M151.7 446.3h7M155.2 442.8v7M159.7 446.3h7M163.2 442.8v7M142.8 470.4h7M146.3 466.9v7M149.8 480.6h7M153.2 477.1v7M221.1 450.9h7M224.6 447.4v7M242.2 438.3h7M245.8 434.8v7M265.1 422.0h7M268.6 418.5v7M274.4 428.6h7M277.9 425.1v7M280.1 440.9h7M283.6 437.4v7M316.6 458.8h7M320.1 455.3v7M317.9 467.4h7M321.4 463.9v7M335.1 463.5h7M338.6 460.0v7M327.1 478.7h7M330.6 475.2v7M310.8 491.6h7M314.2 488.1v7" stroke="#00ff00" stroke-width="1.1" fill="none"/><text class="ser" x="192.4" y="244.0" fill="#00ff00" textLength="24.5" lengthAdjust="spacingAndGlyphs">C39</text><text class="ser" x="165.7" y="265.4" fill="#00ff00" textLength="24.5" lengthAdjust="spacingAndGlyphs">G27</text><text class="ser" x="245.9" y="256.0" fill="#00ff00" textLength="24.5" lengthAdjust="spacingAndGlyphs">C22</text><text class="ser" x="250.5" y="256.0" fill="#00ff00" textLength="24.5" lengthAdjust="spacingAndGlyphs">R21</text><text class="ser" x="239.7" y="265.6" fill="#00ff00" textLength="24.5" lengthAdjust="spacingAndGlyphs">E04</text><text class="ser" x="248.4" y="283.0" fill="#00ff00" textLength="24.5" lengthAdjust="spacingAndGlyphs">G31</text><text class="ser" x="250.4" y="301.0" fill="#00ff00" textLength="24.5" lengthAdjust="spacingAndGlyphs">E02</text><text class="ser" x="248.4" y="307.8" fill="#00ff00" textLength="24.5" lengthAdjust="spacingAndGlyphs">C04</text><text class="ser" x="302.7" y="289.0" fill="#00ff00" textLength="24.5" lengthAdjust="spacingAndGlyphs">C23</text><text class="ser" x="272.9" y="329.5" fill="#00ff00" textLength="24.5" lengthAdjust="spacingAndGlyphs">G28</text><text class="ser" x="309.0" y="341.6" fill="#00ff00" textLength="24.5" lengthAdjust="spacingAndGlyphs">E05</text><text class="ser" x="339.9" y="356.8" fill="#00ff00" textLength="24.5" lengthAdjust="spacingAndGlyphs">R09</text><text class="ser" x="331.1" y="380.2" fill="#00ff00" textLength="24.5" lengthAdjust="spacingAndGlyphs">C25</text><text class="ser" x="304.7" y="391.0" fill="#00ff00" textLength="24.5" lengthAdjust="spacingAndGlyphs">G10</text><text class="ser" x="347.2" y="398.4" fill="#00ff00" textLength="24.5" lengthAdjust="spacingAndGlyphs">E36</text><text class="ser" x="343.5" y="425.4" fill="#00ff00" textLength="24.5" lengthAdjust="spacingAndGlyphs">C33</text><text class="ser" x="229.9" y="333.0" fill="#00ff00" textLength="29.0" lengthAdjust="spacingAndGlyphs">J195</text><text class="ser" x="229.9" y="361.2" fill="#00ff00" textLength="29.0" lengthAdjust="spacingAndGlyphs">J193</text><text class="ser" x="205.1" y="337.6" fill="#00ff00" textLength="24.5" lengthAdjust="spacingAndGlyphs">R22</text><text class="ser" x="176.2" y="353.6" fill="#00ff00" textLength="29.0" lengthAdjust="spacingAndGlyphs">J196</text><text class="ser" x="178.7" y="310.2" fill="#00ff00" textLength="29.0" lengthAdjust="spacingAndGlyphs">J199</text><text class="ser" x="207.8" y="302.3" fill="#00ff00" textLength="24.5" lengthAdjust="spacingAndGlyphs">C60</text><text class="ser" x="217.0" y="301.5" fill="#00ff00" textLength="24.5" lengthAdjust="spacingAndGlyphs">G01</text><text class="ser" x="195.0" y="305.4" fill="#00ff00" textLength="24.5" lengthAdjust="spacingAndGlyphs">C61</text><text class="ser" x="150.4" y="309.2" fill="#00ff00" textLength="24.5" lengthAdjust="spacingAndGlyphs">E03</text><text class="ser" x="138.7" y="308.4" fill="#00ff00" textLength="24.5" lengthAdjust="spacingAndGlyphs">C08</text><text class="ser" x="156.3" y="296.8" fill="#00ff00" textLength="24.5" lengthAdjust="spacingAndGlyphs">C40</text><text class="ser" x="129.9" y="316.3" fill="#00ff00" textLength="24.5" lengthAdjust="spacingAndGlyphs">G08</text><text class="ser" x="127.0" y="327.3" fill="#00ff00" textLength="24.5" lengthAdjust="spacingAndGlyphs">C10</text><text class="ser" x="112.0" y="330.5" fill="#00ff00" textLength="29.0" lengthAdjust="spacingAndGlyphs">J202</text><text class="ser" x="113.0" y="330.5" fill="#00ff00" textLength="29.0" lengthAdjust="spacingAndGlyphs">J204</text><text class="ser" x="90.9" y="318.0" fill="#00ff00" textLength="24.5" lengthAdjust="spacingAndGlyphs">F14</text><text class="ser" x="88.7" y="325.3" fill="#00ff00" textLength="24.5" lengthAdjust="spacingAndGlyphs">R01</text><text class="ser" x="96.7" y="338.5" fill="#00ff00" textLength="24.5" lengthAdjust="spacingAndGlyphs">E60</text><text class="ser" x="92.3" y="350.3" fill="#00ff00" textLength="24.5" lengthAdjust="spacingAndGlyphs">C20</text><text class="ser" x="131.8" y="364.5" fill="#00ff00" textLength="24.5" lengthAdjust="spacingAndGlyphs">E21</text><text class="ser" x="151.6" y="381.6" fill="#00ff00" textLength="24.5" lengthAdjust="spacingAndGlyphs">R08</text><text class="ser" x="150.9" y="387.5" fill="#00ff00" textLength="24.5" lengthAdjust="spacingAndGlyphs">C02</text><text class="ser" x="164.1" y="393.0" fill="#00ff00" textLength="24.5" lengthAdjust="spacingAndGlyphs">R02</text><text class="ser" x="177.7" y="393.5" fill="#00ff00" textLength="24.5" lengthAdjust="spacingAndGlyphs">C22</text><text class="ser" x="178.0" y="408.7" fill="#00ff00" textLength="24.5" lengthAdjust="spacingAndGlyphs">E33</text><text class="ser" x="180.2" y="414.6" fill="#00ff00" textLength="24.5" lengthAdjust="spacingAndGlyphs">C38</text><text class="ser" x="99.6" y="411.6" fill="#00ff00" textLength="24.5" lengthAdjust="spacingAndGlyphs">G25</text><text class="ser" x="108.0" y="413.6" fill="#00ff00" textLength="24.5" lengthAdjust="spacingAndGlyphs">G33</text><text class="ser" x="137.0" y="416.7" fill="#00ff00" textLength="24.5" lengthAdjust="spacingAndGlyphs">C10</text><text class="ser" x="145.0" y="417.5" fill="#00ff00" textLength="24.5" lengthAdjust="spacingAndGlyphs">C08</text><text class="ser" x="154.0" y="419.6" fill="#00ff00" textLength="24.5" lengthAdjust="spacingAndGlyphs">E08</text><text class="ser" x="142.9" y="437.3" fill="#00ff00" textLength="24.5" lengthAdjust="spacingAndGlyphs">C41</text><text class="ser" x="150.9" y="437.3" fill="#00ff00" textLength="24.5" lengthAdjust="spacingAndGlyphs">C01</text><text class="ser" x="134.1" y="461.4" fill="#00ff00" textLength="24.5" lengthAdjust="spacingAndGlyphs">E22</text><text class="ser" x="141.0" y="471.6" fill="#00ff00" textLength="24.5" lengthAdjust="spacingAndGlyphs">C29</text><text class="ser" x="212.3" y="441.9" fill="#00ff00" textLength="24.5" lengthAdjust="spacingAndGlyphs">E15</text><text class="ser" x="233.5" y="429.3" fill="#00ff00" textLength="24.5" lengthAdjust="spacingAndGlyphs">R07</text><text class="ser" x="256.3" y="413.0" fill="#00ff00" textLength="24.5" lengthAdjust="spacingAndGlyphs">E33</text><text class="ser" x="265.6" y="419.6" fill="#00ff00" textLength="24.5" lengthAdjust="spacingAndGlyphs">E41</text><text class="ser" x="271.3" y="431.9" fill="#00ff00" textLength="24.5" lengthAdjust="spacingAndGlyphs">E34</text><text class="ser" x="307.9" y="449.8" fill="#00ff00" textLength="24.5" lengthAdjust="spacingAndGlyphs">R08</text><text class="ser" x="309.1" y="458.4" fill="#00ff00" textLength="24.5" lengthAdjust="spacingAndGlyphs">R10</text><text class="ser" x="326.3" y="454.5" fill="#00ff00" textLength="24.5" lengthAdjust="spacingAndGlyphs">C27</text><text class="ser" x="318.4" y="469.7" fill="#00ff00" textLength="24.5" lengthAdjust="spacingAndGlyphs">E09</text><text class="ser" x="302.0" y="482.6" fill="#00ff00" textLength="24.5" lengthAdjust="spacingAndGlyphs">C24</text>
<polyline points="230.5,383.5 202.4,505.4 200.4,513.2 199.6,518.6" fill="none" stroke="#ffa500" stroke-width="1.2"/><circle cx="170.5" cy="407.3" r="3.3" fill="#ffa500"/><circle cx="232.3" cy="374.5" r="3.3" fill="#ffa500"/><circle cx="202.4" cy="505.4" r="3.3" fill="#ffa500"/><circle cx="200.4" cy="513.2" r="3.3" fill="#ffa500"/><circle cx="199.6" cy="518.6" r="3.3" fill="#ffa500"/>
<line x1="511.50" y1="461.50" x2="776.50" y2="507.70" stroke="#fafabe" stroke-width="1.1"/><line x1="776.50" y1="507.70" x2="934.00" y2="428.00" stroke="#fafabe" stroke-width="1.1"/><line x1="934.00" y1="428.00" x2="669.00" y2="381.80" stroke="#fafabe" stroke-width="1.1"/><line x1="511.50" y1="461.50" x2="669.00" y2="381.80" stroke="#fafabe" stroke-width="1.1"/><line x1="511.50" y1="302.00" x2="511.50" y2="461.50" stroke="#fafabe" stroke-width="1.1"/><line x1="511.50" y1="302.00" x2="519.00" y2="302.00" stroke="#fafabe" stroke-width="1.1"/><line x1="511.50" y1="328.58" x2="519.00" y2="328.58" stroke="#fafabe" stroke-width="1.1"/><line x1="511.50" y1="355.16" x2="519.00" y2="355.16" stroke="#fafabe" stroke-width="1.1"/><line x1="511.50" y1="381.74" x2="519.00" y2="381.74" stroke="#fafabe" stroke-width="1.1"/><line x1="511.50" y1="408.32" x2="519.00" y2="408.32" stroke="#fafabe" stroke-width="1.1"/><line x1="511.50" y1="434.90" x2="519.00" y2="434.90" stroke="#fafabe" stroke-width="1.1"/><line x1="511.50" y1="461.48" x2="519.00" y2="461.48" stroke="#fafabe" stroke-width="1.1"/><line x1="555.67" y1="469.20" x2="551.67" y2="466.20" stroke="#fafabe" stroke-width="1.1"/><line x1="713.17" y1="389.50" x2="717.17" y2="392.50" stroke="#fafabe" stroke-width="1.1"/><line x1="599.83" y1="476.90" x2="595.83" y2="473.90" stroke="#fafabe" stroke-width="1.1"/><line x1="757.33" y1="397.20" x2="761.33" y2="400.20" stroke="#fafabe" stroke-width="1.1"/><line x1="644.00" y1="484.60" x2="640.00" y2="481.60" stroke="#fafabe" stroke-width="1.1"/><line x1="801.50" y1="404.90" x2="805.50" y2="407.90" stroke="#fafabe" stroke-width="1.1"/><line x1="688.17" y1="492.30" x2="684.17" y2="489.30" stroke="#fafabe" stroke-width="1.1"/><line x1="845.67" y1="412.60" x2="849.67" y2="415.60" stroke="#fafabe" stroke-width="1.1"/><line x1="732.33" y1="500.00" x2="728.33" y2="497.00" stroke="#fafabe" stroke-width="1.1"/><line x1="889.83" y1="420.30" x2="893.83" y2="423.30" stroke="#fafabe" stroke-width="1.1"/><line x1="801.51" y1="495.05" x2="796.51" y2="495.05" stroke="#fafabe" stroke-width="1.1"/><line x1="536.51" y1="448.85" x2="541.51" y2="448.85" stroke="#fafabe" stroke-width="1.1"/><line x1="823.44" y1="483.95" x2="818.44" y2="483.95" stroke="#fafabe" stroke-width="1.1"/><line x1="558.44" y1="437.75" x2="563.44" y2="437.75" stroke="#fafabe" stroke-width="1.1"/><line x1="845.38" y1="472.85" x2="840.38" y2="472.85" stroke="#fafabe" stroke-width="1.1"/><line x1="580.38" y1="426.65" x2="585.38" y2="426.65" stroke="#fafabe" stroke-width="1.1"/><line x1="867.31" y1="461.74" x2="862.31" y2="461.74" stroke="#fafabe" stroke-width="1.1"/><line x1="602.31" y1="415.54" x2="607.31" y2="415.54" stroke="#fafabe" stroke-width="1.1"/><line x1="889.25" y1="450.64" x2="884.25" y2="450.64" stroke="#fafabe" stroke-width="1.1"/><line x1="624.25" y1="404.44" x2="629.25" y2="404.44" stroke="#fafabe" stroke-width="1.1"/><line x1="911.19" y1="439.54" x2="906.19" y2="439.54" stroke="#fafabe" stroke-width="1.1"/><line x1="646.19" y1="393.34" x2="651.19" y2="393.34" stroke="#fafabe" stroke-width="1.1"/>
<defs><linearGradient id="sg" x1="0" y1="315" x2="0" y2="478" gradientUnits="userSpaceOnUse"><stop offset="0" stop-color="#d4eaf4"/><stop offset="0.12" stop-color="#e2eef0"/><stop offset="0.3" stop-color="#eef0e0"/><stop offset="0.4" stop-color="#dcecf0"/><stop offset="0.49" stop-color="#b4d6ec"/><stop offset="0.675" stop-color="#88b8de"/><stop offset="0.86" stop-color="#6696ce"/><stop offset="1" stop-color="#5080c0"/></linearGradient><linearGradient id="lg" x1="594" y1="0" x2="660" y2="0" gradientUnits="userSpaceOnUse"><stop offset="0" stop-color="#5f92cc" stop-opacity="0.75"/><stop offset="0.5" stop-color="#80b2dc" stop-opacity="0.45"/><stop offset="1" stop-color="#a8d0ea" stop-opacity="0"/></linearGradient><linearGradient id="rg" x1="850" y1="0" x2="922" y2="0" gradientUnits="userSpaceOnUse"><stop offset="0" stop-color="#a8d0ea" stop-opacity="0"/><stop offset="0.4" stop-color="#80b2dc" stop-opacity="0.55"/><stop offset="1" stop-color="#5a8cc8" stop-opacity="0.85"/></linearGradient><clipPath id="sc"><polygon points="594.7,415.7 596.2,414.3 597.6,414.4 599.1,412.1 600.6,413.0 602.1,411.2 603.5,411.7 605.0,411.0 606.2,407.9 607.4,408.3 608.6,405.1 609.8,405.7 611.0,404.2 612.2,403.0 613.4,401.7 613.5,400.0 613.6,398.5 613.7,394.3 613.8,395.2 613.9,392.8 614.0,392.0 614.0,389.6 614.1,388.7 614.2,384.1 614.3,385.5 614.4,382.4 614.5,382.2 614.6,380.6 615.2,376.5 615.8,377.3 616.4,374.3 617.0,374.0 617.5,370.5 618.1,370.8 618.7,368.7 619.3,367.5 619.9,363.9 620.5,364.2 621.9,360.7 623.3,362.3 624.7,359.8 626.1,360.4 627.5,359.5 628.8,356.3 630.2,357.5 631.5,354.5 632.9,355.5 634.2,354.3 635.6,353.5 636.9,352.5 637.7,348.7 638.5,349.5 639.4,346.2 640.2,346.5 641.0,345.0 641.4,342.4 641.9,341.7 642.3,340.0 642.7,338.4 644.4,335.6 646.0,338.0 647.6,337.5 649.3,339.8 650.9,340.7 652.4,338.0 654.0,339.5 655.5,336.3 657.1,338.4 658.6,335.7 660.2,337.2 661.8,333.9 663.3,336.1 664.9,334.3 666.4,334.9 667.9,331.5 669.3,332.9 670.8,330.6 672.3,330.9 673.8,327.1 675.2,328.9 676.7,327.9 678.1,324.4 679.5,326.3 680.9,325.1 682.3,324.6 683.7,323.4 685.1,323.0 686.5,321.5 687.9,321.3 689.3,317.6 690.7,319.7 692.4,318.0 694.1,319.0 695.8,316.8 697.4,318.3 699.1,317.1 700.8,317.6 702.5,317.3 704.0,316.4 705.6,318.5 707.1,317.9 708.7,319.6 710.2,319.2 711.8,320.8 713.5,319.0 715.2,320.8 716.9,319.0 718.5,320.8 720.2,318.1 721.9,320.8 723.6,320.8 724.8,319.9 725.9,323.2 727.1,321.6 728.3,325.5 729.4,324.1 730.6,327.9 732.3,324.6 733.9,327.2 735.6,324.9 737.3,326.5 739.0,325.7 740.6,325.8 742.3,325.5 744.0,322.9 745.6,325.5 747.3,322.6 749.0,325.5 750.7,322.8 752.3,325.5 754.0,325.5 755.6,324.2 757.1,326.3 758.7,324.6 760.3,327.1 761.8,326.9 763.4,327.9 765.1,325.7 766.9,328.5 768.6,327.0 770.4,329.0 772.1,328.5 773.9,329.6 775.6,329.7 777.4,330.2 779.2,327.9 780.9,330.8 782.7,328.1 784.5,331.4 786.2,331.4 788.0,331.9 789.7,329.8 791.5,332.5 793.2,331.6 794.9,333.1 796.5,333.0 798.2,333.8 799.9,333.2 801.6,334.4 803.3,332.4 805.0,335.0 806.6,332.7 808.3,335.7 810.0,336.0 811.7,336.4 813.3,337.0 815.0,335.7 816.7,338.0 818.3,338.4 820.0,339.0 821.7,337.0 823.3,339.2 825.0,338.3 826.7,339.4 828.3,336.9 830.0,339.7 831.7,336.8 833.3,339.9 835.0,340.0 836.7,338.9 838.3,340.9 840.0,338.3 841.7,341.8 843.3,341.3 845.0,342.7 846.7,342.9 848.3,343.6 850.0,344.0 851.6,342.5 853.2,344.5 854.9,344.7 856.5,345.0 858.1,344.7 859.8,345.5 861.4,344.5 863.0,346.0 864.7,344.5 866.4,346.6 868.1,346.4 869.9,347.1 871.6,347.3 873.3,347.7 875.0,348.0 876.7,346.4 878.3,350.0 880.0,351.0 880.2,351.7 880.5,354.2 880.8,353.0 881.0,357.5 881.2,356.4 881.5,360.8 881.8,361.2 882.0,364.0 883.7,362.7 885.3,364.2 887.0,362.8 888.7,364.4 890.3,362.6 892.0,364.7 893.7,363.0 895.3,364.9 897.0,365.0 898.0,364.7 899.0,367.8 900.0,367.3 901.0,370.6 902.0,372.0 902.5,370.8 903.0,375.2 903.5,375.4 904.0,378.5 904.5,378.8 905.0,381.8 905.5,381.2 906.0,385.0 906.8,385.9 907.6,388.2 908.4,388.9 909.2,391.4 910.0,393.0 911.7,390.1 913.3,393.0 915.0,393.0 916.4,392.2 917.8,394.6 919.2,393.8 920.6,396.2 922.0,397.0 922.0,399.0 922.0,401.0 922.0,401.0 919.8,399.1 917.7,401.4 915.5,401.6 913.8,399.7 912.1,403.5 910.4,404.3 908.7,405.4 907.0,403.3 905.3,407.3 903.6,405.1 901.9,409.2 900.2,407.9 898.5,407.3 896.8,403.2 895.1,405.4 893.5,402.1 891.8,403.5 890.1,399.2 888.4,401.6 886.1,400.1 883.9,402.1 881.6,402.4 879.6,399.0 877.5,402.8 875.5,399.2 873.4,403.1 871.4,403.3 869.7,404.0 868.0,405.0 866.4,405.5 864.7,406.7 863.0,407.5 862.1,402.3 861.3,403.8 860.5,397.2 859.6,400.2 858.8,397.1 857.9,396.5 855.6,394.5 853.4,397.1 851.1,397.4 848.5,394.8 846.0,398.2 844.1,397.4 842.2,399.9 840.3,398.9 838.4,401.6 836.9,401.6 835.4,404.6 833.8,404.3 832.3,407.7 830.8,409.2 829.1,407.1 827.4,410.9 825.7,410.2 824.0,412.6 822.3,413.4 821.0,412.9 819.6,416.1 818.3,413.6 816.9,418.8 815.6,420.2 814.3,421.8 813.0,423.6 811.8,422.5 810.5,427.0 809.1,424.6 807.8,429.5 806.4,429.2 805.0,432.0 804.2,432.6 803.3,435.3 802.5,433.0 801.7,438.7 800.8,439.1 800.0,442.0 799.2,442.7 798.3,445.3 797.5,444.8 796.7,448.7 795.8,446.8 795.0,452.0 793.6,452.6 792.1,454.3 790.7,453.8 789.3,456.6 787.9,456.0 786.4,458.9 785.0,460.0 783.6,457.0 782.1,462.3 780.7,461.2 779.3,464.6 777.9,461.4 776.4,466.9 775.0,468.0 773.8,468.7 772.7,471.0 771.5,470.8 770.3,474.0 769.2,472.2 768.0,477.0 766.4,471.2 764.8,474.2 763.2,470.5 761.6,471.4 760.0,470.0 758.3,468.0 756.7,468.3 755.0,466.9 753.3,466.7 751.7,463.2 750.0,465.0 748.0,463.4 746.0,463.8 744.0,459.2 742.0,462.6 740.0,462.0 738.0,458.2 736.0,462.8 734.0,462.3 732.0,463.6 730.0,464.0 728.0,463.4 726.0,465.5 724.0,462.2 722.0,467.0 720.0,463.1 718.0,465.7 716.0,465.0 715.5,459.2 715.0,461.5 714.5,458.0 714.0,458.0 713.5,455.6 713.0,454.5 712.5,451.3 712.0,451.0 710.0,447.5 708.0,452.0 706.8,452.4 705.5,455.5 704.2,455.5 703.0,459.0 701.3,457.9 699.7,461.0 698.0,462.0 697.1,458.2 696.3,458.6 695.4,454.8 694.6,455.1 693.7,448.8 692.9,451.7 692.0,450.0 690.0,448.2 688.0,448.0 687.0,446.1 686.0,444.3 685.0,437.8 684.0,440.7 683.0,434.4 682.0,437.0 680.3,430.4 678.7,433.7 677.0,432.0 674.5,429.3 672.0,431.0 670.3,427.9 668.7,434.3 667.0,436.0 665.2,431.9 663.5,437.0 661.8,436.4 660.0,438.0 658.3,435.1 656.7,439.7 655.0,436.3 653.3,441.3 651.7,438.9 650.0,443.0 649.0,442.2 648.0,446.6 647.0,447.0 646.0,450.2 645.0,452.0 643.5,449.3 642.0,450.0 640.6,447.7 639.2,447.6 637.8,446.1 636.4,445.2 635.0,444.0 632.5,440.1 630.0,442.0 627.5,439.6 625.0,440.0 623.4,434.9 621.8,438.0 620.2,436.8 618.6,436.0 617.0,435.0 614.5,431.5 612.0,437.0 609.5,433.0 607.0,436.0 606.6,429.6 606.2,432.4 605.8,426.1 605.4,428.8 605.0,422.5 604.6,425.2 604.2,420.5 603.8,421.6 603.4,419.7 603.0,418.0 601.1,413.9 599.2,417.2 597.3,416.0 595.4,416.5"/></clipPath></defs><polygon points="594.7,415.7 596.2,414.3 597.6,414.4 599.1,412.1 600.6,413.0 602.1,411.2 603.5,411.7 605.0,411.0 606.2,407.9 607.4,408.3 608.6,405.1 609.8,405.7 611.0,404.2 612.2,403.0 613.4,401.7 613.5,400.0 613.6,398.5 613.7,394.3 613.8,395.2 613.9,392.8 614.0,392.0 614.0,389.6 614.1,388.7 614.2,384.1 614.3,385.5 614.4,382.4 614.5,382.2 614.6,380.6 615.2,376.5 615.8,377.3 616.4,374.3 617.0,374.0 617.5,370.5 618.1,370.8 618.7,368.7 619.3,367.5 619.9,363.9 620.5,364.2 621.9,360.7 623.3,362.3 624.7,359.8 626.1,360.4 627.5,359.5 628.8,356.3 630.2,357.5 631.5,354.5 632.9,355.5 634.2,354.3 635.6,353.5 636.9,352.5 637.7,348.7 638.5,349.5 639.4,346.2 640.2,346.5 641.0,345.0 641.4,342.4 641.9,341.7 642.3,340.0 642.7,338.4 644.4,335.6 646.0,338.0 647.6,337.5 649.3,339.8 650.9,340.7 652.4,338.0 654.0,339.5 655.5,336.3 657.1,338.4 658.6,335.7 660.2,337.2 661.8,333.9 663.3,336.1 664.9,334.3 666.4,334.9 667.9,331.5 669.3,332.9 670.8,330.6 672.3,330.9 673.8,327.1 675.2,328.9 676.7,327.9 678.1,324.4 679.5,326.3 680.9,325.1 682.3,324.6 683.7,323.4 685.1,323.0 686.5,321.5 687.9,321.3 689.3,317.6 690.7,319.7 692.4,318.0 694.1,319.0 695.8,316.8 697.4,318.3 699.1,317.1 700.8,317.6 702.5,317.3 704.0,316.4 705.6,318.5 707.1,317.9 708.7,319.6 710.2,319.2 711.8,320.8 713.5,319.0 715.2,320.8 716.9,319.0 718.5,320.8 720.2,318.1 721.9,320.8 723.6,320.8 724.8,319.9 725.9,323.2 727.1,321.6 728.3,325.5 729.4,324.1 730.6,327.9 732.3,324.6 733.9,327.2 735.6,324.9 737.3,326.5 739.0,325.7 740.6,325.8 742.3,325.5 744.0,322.9 745.6,325.5 747.3,322.6 749.0,325.5 750.7,322.8 752.3,325.5 754.0,325.5 755.6,324.2 757.1,326.3 758.7,324.6 760.3,327.1 761.8,326.9 763.4,327.9 765.1,325.7 766.9,328.5 768.6,327.0 770.4,329.0 772.1,328.5 773.9,329.6 775.6,329.7 777.4,330.2 779.2,327.9 780.9,330.8 782.7,328.1 784.5,331.4 786.2,331.4 788.0,331.9 789.7,329.8 791.5,332.5 793.2,331.6 794.9,333.1 796.5,333.0 798.2,333.8 799.9,333.2 801.6,334.4 803.3,332.4 805.0,335.0 806.6,332.7 808.3,335.7 810.0,336.0 811.7,336.4 813.3,337.0 815.0,335.7 816.7,338.0 818.3,338.4 820.0,339.0 821.7,337.0 823.3,339.2 825.0,338.3 826.7,339.4 828.3,336.9 830.0,339.7 831.7,336.8 833.3,339.9 835.0,340.0 836.7,338.9 838.3,340.9 840.0,338.3 841.7,341.8 843.3,341.3 845.0,342.7 846.7,342.9 848.3,343.6 850.0,344.0 851.6,342.5 853.2,344.5 854.9,344.7 856.5,345.0 858.1,344.7 859.8,345.5 861.4,344.5 863.0,346.0 864.7,344.5 866.4,346.6 868.1,346.4 869.9,347.1 871.6,347.3 873.3,347.7 875.0,348.0 876.7,346.4 878.3,350.0 880.0,351.0 880.2,351.7 880.5,354.2 880.8,353.0 881.0,357.5 881.2,356.4 881.5,360.8 881.8,361.2 882.0,364.0 883.7,362.7 885.3,364.2 887.0,362.8 888.7,364.4 890.3,362.6 892.0,364.7 893.7,363.0 895.3,364.9 897.0,365.0 898.0,364.7 899.0,367.8 900.0,367.3 901.0,370.6 902.0,372.0 902.5,370.8 903.0,375.2 903.5,375.4 904.0,378.5 904.5,378.8 905.0,381.8 905.5,381.2 906.0,385.0 906.8,385.9 907.6,388.2 908.4,388.9 909.2,391.4 910.0,393.0 911.7,390.1 913.3,393.0 915.0,393.0 916.4,392.2 917.8,394.6 919.2,393.8 920.6,396.2 922.0,397.0 922.0,399.0 922.0,401.0 922.0,401.0 919.8,399.1 917.7,401.4 915.5,401.6 913.8,399.7 912.1,403.5 910.4,404.3 908.7,405.4 907.0,403.3 905.3,407.3 903.6,405.1 901.9,409.2 900.2,407.9 898.5,407.3 896.8,403.2 895.1,405.4 893.5,402.1 891.8,403.5 890.1,399.2 888.4,401.6 886.1,400.1 883.9,402.1 881.6,402.4 879.6,399.0 877.5,402.8 875.5,399.2 873.4,403.1 871.4,403.3 869.7,404.0 868.0,405.0 866.4,405.5 864.7,406.7 863.0,407.5 862.1,402.3 861.3,403.8 860.5,397.2 859.6,400.2 858.8,397.1 857.9,396.5 855.6,394.5 853.4,397.1 851.1,397.4 848.5,394.8 846.0,398.2 844.1,397.4 842.2,399.9 840.3,398.9 838.4,401.6 836.9,401.6 835.4,404.6 833.8,404.3 832.3,407.7 830.8,409.2 829.1,407.1 827.4,410.9 825.7,410.2 824.0,412.6 822.3,413.4 821.0,412.9 819.6,416.1 818.3,413.6 816.9,418.8 815.6,420.2 814.3,421.8 813.0,423.6 811.8,422.5 810.5,427.0 809.1,424.6 807.8,429.5 806.4,429.2 805.0,432.0 804.2,432.6 803.3,435.3 802.5,433.0 801.7,438.7 800.8,439.1 800.0,442.0 799.2,442.7 798.3,445.3 797.5,444.8 796.7,448.7 795.8,446.8 795.0,452.0 793.6,452.6 792.1,454.3 790.7,453.8 789.3,456.6 787.9,456.0 786.4,458.9 785.0,460.0 783.6,457.0 782.1,462.3 780.7,461.2 779.3,464.6 777.9,461.4 776.4,466.9 775.0,468.0 773.8,468.7 772.7,471.0 771.5,470.8 770.3,474.0 769.2,472.2 768.0,477.0 766.4,471.2 764.8,474.2 763.2,470.5 761.6,471.4 760.0,470.0 758.3,468.0 756.7,468.3 755.0,466.9 753.3,466.7 751.7,463.2 750.0,465.0 748.0,463.4 746.0,463.8 744.0,459.2 742.0,462.6 740.0,462.0 738.0,458.2 736.0,462.8 734.0,462.3 732.0,463.6 730.0,464.0 728.0,463.4 726.0,465.5 724.0,462.2 722.0,467.0 720.0,463.1 718.0,465.7 716.0,465.0 715.5,459.2 715.0,461.5 714.5,458.0 714.0,458.0 713.5,455.6 713.0,454.5 712.5,451.3 712.0,451.0 710.0,447.5 708.0,452.0 706.8,452.4 705.5,455.5 704.2,455.5 703.0,459.0 701.3,457.9 699.7,461.0 698.0,462.0 697.1,458.2 696.3,458.6 695.4,454.8 694.6,455.1 693.7,448.8 692.9,451.7 692.0,450.0 690.0,448.2 688.0,448.0 687.0,446.1 686.0,444.3 685.0,437.8 684.0,440.7 683.0,434.4 682.0,437.0 680.3,430.4 678.7,433.7 677.0,432.0 674.5,429.3 672.0,431.0 670.3,427.9 668.7,434.3 667.0,436.0 665.2,431.9 663.5,437.0 661.8,436.4 660.0,438.0 658.3,435.1 656.7,439.7 655.0,436.3 653.3,441.3 651.7,438.9 650.0,443.0 649.0,442.2 648.0,446.6 647.0,447.0 646.0,450.2 645.0,452.0 643.5,449.3 642.0,450.0 640.6,447.7 639.2,447.6 637.8,446.1 636.4,445.2 635.0,444.0 632.5,440.1 630.0,442.0 627.5,439.6 625.0,440.0 623.4,434.9 621.8,438.0 620.2,436.8 618.6,436.0 617.0,435.0 614.5,431.5 612.0,437.0 609.5,433.0 607.0,436.0 606.6,429.6 606.2,432.4 605.8,426.1 605.4,428.8 605.0,422.5 604.6,425.2 604.2,420.5 603.8,421.6 603.4,419.7 603.0,418.0 601.1,413.9 599.2,417.2 597.3,416.0 595.4,416.5" fill="url(#sg)"/><g clip-path="url(#sc)"><rect x="590" y="300" width="75" height="190" fill="url(#lg)"/><rect x="850" y="300" width="80" height="190" fill="url(#rg)"/><polygon points="830.8,409.2 838.4,401.6 846.0,398.2 851.1,397.4 857.9,396.5 863.0,407.5 871.4,403.3 881.6,402.4 888.4,401.6 901.9,409.2 915.5,401.6 922.0,401.0 922.0,382.2 920.0,376.6 918.0,379.0 916.0,380.9 914.0,373.4 912.0,379.8 910.0,385.2 908.0,387.8 906.0,379.1 904.0,386.4 902.0,382.6 900.0,388.5 898.0,389.8 896.0,383.3 894.0,377.7 892.0,386.9 890.0,375.8 888.0,372.9 886.0,375.0 884.0,374.9 882.0,388.2 880.0,378.5 878.0,374.9 876.0,388.1 874.0,384.7 872.0,384.9 870.0,381.6 868.0,384.2 866.0,384.4 864.0,380.6 862.0,391.3 860.0,386.2 858.0,380.7 856.0,380.8 854.0,381.9 852.0,367.7 850.0,369.9 848.0,382.5 846.0,376.2 844.0,380.0 842.0,381.0 840.0,381.3 838.0,377.6 836.0,380.6 834.0,386.2 832.0,390.9 830.0,390.3 828.0,394.6 826.0,388.7" fill="#5f90cc" opacity="0.55"/><polygon points="826.5,412.6 829.5,412.6 827.8,387.7" fill="#4a7cc0" opacity="0.35"/><polygon points="829.5,411.0 832.5,411.0 830.4,397.6" fill="#4a7cc0" opacity="0.35"/><polygon points="832.5,408.0 835.5,408.0 834.2,389.3" fill="#4a7cc0" opacity="0.35"/><polygon points="835.5,405.0 838.5,405.0 836.8,378.9" fill="#4a7cc0" opacity="0.35"/><polygon points="838.5,402.9 841.5,402.9 840.2,376.5" fill="#4a7cc0" opacity="0.35"/><polygon points="841.5,401.5 844.5,401.5 842.7,381.8" fill="#4a7cc0" opacity="0.35"/><polygon points="844.5,400.2 847.5,400.2 846.4,379.3" fill="#4a7cc0" opacity="0.35"/><polygon points="847.5,399.7 850.5,399.7 849.4,380.2" fill="#4a7cc0" opacity="0.35"/><polygon points="850.5,399.3 853.5,399.3 851.5,379.0" fill="#4a7cc0" opacity="0.35"/><polygon points="853.5,398.9 856.5,398.9 855.4,377.2" fill="#4a7cc0" opacity="0.35"/><polygon points="856.5,398.7 859.5,398.7 857.8,385.4" fill="#4a7cc0" opacity="0.35"/><polygon points="859.5,405.2 862.5,405.2 861.8,385.5" fill="#4a7cc0" opacity="0.35"/><polygon points="862.5,409.0 865.5,409.0 863.7,380.1" fill="#4a7cc0" opacity="0.35"/><polygon points="865.5,407.5 868.5,407.5 867.6,379.3" fill="#4a7cc0" opacity="0.35"/><polygon points="868.5,406.0 871.5,406.0 869.9,389.3" fill="#4a7cc0" opacity="0.35"/><polygon points="871.5,405.2 874.5,405.2 873.6,390.9" fill="#4a7cc0" opacity="0.35"/><polygon points="874.5,404.9 877.5,404.9 876.8,381.0" fill="#4a7cc0" opacity="0.35"/><polygon points="877.5,404.6 880.5,404.6 879.3,378.4" fill="#4a7cc0" opacity="0.35"/><polygon points="880.5,404.4 883.5,404.4 882.1,379.1" fill="#4a7cc0" opacity="0.35"/><polygon points="883.5,404.0 886.5,404.0 885.2,390.1" fill="#4a7cc0" opacity="0.35"/><polygon points="886.5,403.6 889.5,403.6 887.3,391.6" fill="#4a7cc0" opacity="0.35"/><polygon points="889.5,405.1 892.5,405.1 890.1,379.1" fill="#4a7cc0" opacity="0.35"/><polygon points="892.5,406.8 895.5,406.8 893.2,393.1" fill="#4a7cc0" opacity="0.35"/><polygon points="895.5,408.4 898.5,408.4 896.4,380.6" fill="#4a7cc0" opacity="0.35"/><polygon points="898.5,410.1 901.5,410.1 900.7,397.7" fill="#4a7cc0" opacity="0.35"/><polygon points="901.5,410.6 904.5,410.6 903.7,396.4" fill="#4a7cc0" opacity="0.35"/><polygon points="904.5,408.9 907.5,408.9 906.7,384.8" fill="#4a7cc0" opacity="0.35"/><polygon points="907.5,407.2 910.5,407.2 909.2,378.1" fill="#4a7cc0" opacity="0.35"/><polygon points="910.5,405.6 913.5,405.6 911.1,379.2" fill="#4a7cc0" opacity="0.35"/><polygon points="913.5,403.9 916.5,403.9 915.0,378.1" fill="#4a7cc0" opacity="0.35"/><polygon points="916.5,403.4 919.5,403.4 917.2,378.5" fill="#4a7cc0" opacity="0.35"/><polygon points="919.5,403.1 922.5,403.1 921.9,377.6" fill="#4a7cc0" opacity="0.35"/><polygon points="595.4,416.5 603.0,418.0 607.0,436.0 612.0,437.0 617.0,435.0 625.0,440.0 630.0,442.0 635.0,444.0 642.0,450.0 645.0,452.0 650.0,443.0 660.0,438.0 667.0,436.0 672.0,431.0 677.0,432.0 682.0,437.0 688.0,448.0 692.0,450.0 698.0,462.0 703.0,459.0 708.0,452.0 712.0,451.0 716.0,465.0 722.0,467.0 730.0,464.0 740.0,462.0 750.0,465.0 760.0,470.0 768.0,477.0 775.0,468.0 785.0,460.0 795.0,452.0 805.0,432.0 810.5,427.0 815.6,420.2 822.3,413.4 830.8,409.2 838.4,401.6 846.0,398.2 851.1,397.4 857.9,396.5 863.0,407.5 871.4,403.3 881.6,402.4 888.4,401.6 901.9,409.2 915.5,401.6 922.0,401.0 922.0,390.0 919.0,386.1 916.0,382.5 913.0,379.7 910.0,390.8 907.0,393.5 904.0,394.0 901.0,388.8 898.0,384.9 895.0,389.0 892.0,387.7 889.0,385.6 886.0,386.3 883.0,385.5 880.0,391.2 877.0,384.8 874.0,377.5 871.0,386.9 868.0,383.0 865.0,393.9 862.0,384.3 859.0,376.8 856.0,376.0 853.0,378.9 850.0,379.8 847.0,377.8 844.0,374.7 841.0,388.0 838.0,390.5 835.0,383.0 832.0,383.3 829.0,391.8 826.0,394.5 823.0,391.6 820.0,402.8 817.0,404.5 814.0,409.1 811.0,407.0 808.0,414.2 805.0,418.3 802.0,416.9 799.0,418.7 796.0,435.3 793.0,432.3 790.0,439.4 787.0,434.7 784.0,441.4 781.0,448.9 778.0,452.1 775.0,457.6 772.0,454.2 769.0,459.6 766.0,462.5 763.0,456.9 760.0,454.8 757.0,446.1 754.0,454.7 751.0,439.6 748.0,446.7 745.0,443.9 742.0,445.1 739.0,438.8 736.0,439.7 733.0,444.5 730.0,446.3 727.0,443.6 724.0,442.5 721.0,450.3 718.0,443.9 715.0,436.1 712.0,433.5 709.0,438.1 706.0,441.0 703.0,437.5 700.0,440.0 697.0,434.7 694.0,430.3 691.0,435.6 688.0,435.0 685.0,428.4 682.0,424.0 679.0,412.7 676.0,408.1 673.0,406.8 670.0,418.9 667.0,412.2 664.0,421.8 661.0,420.9 658.0,417.3 655.0,429.1 652.0,430.5 649.0,421.5 646.0,435.5 643.0,435.0 640.0,429.0 637.0,424.9 634.0,433.5 631.0,427.0 628.0,424.2 625.0,422.2 622.0,424.8 619.0,416.9 616.0,410.1 613.0,420.3 610.0,417.9 607.0,424.1 604.0,408.1 601.0,397.0 598.0,405.2" fill="#6496ce" opacity="0.3"/><polygon points="883.4,404.1 885.3,404.1 883.9,382.8" fill="#80b0da" opacity="0.24"/><polygon points="740.4,464.7 744.3,464.7 743.7,408.1" fill="#80b0da" opacity="0.12"/><polygon points="704.3,456.8 707.7,456.8 704.7,406.5" fill="#98c4e4" opacity="0.20"/><polygon points="689.6,451.8 693.7,451.8 692.9,394.1" fill="#6a9ad2" opacity="0.14"/><polygon points="806.6,430.4 811.4,430.4 809.4,414.0" fill="#6a9ad2" opacity="0.28"/><polygon points="805.8,432.1 808.4,432.1 806.6,402.7" fill="#6a9ad2" opacity="0.19"/><polygon points="651.3,443.3 655.3,443.3 652.6,428.0" fill="#98c4e4" opacity="0.17"/><polygon points="719.7,468.5 721.5,468.5 721.4,394.7" fill="#80b0da" opacity="0.15"/><polygon points="709.6,453.2 712.6,453.2 712.1,418.6" fill="#5f90cc" opacity="0.17"/><polygon points="631.5,445.0 633.4,445.0 633.7,423.7" fill="#5f90cc" opacity="0.21"/><polygon points="630.7,445.0 634.2,445.0 633.2,406.9" fill="#98c4e4" opacity="0.26"/><polygon points="786.9,459.3 789.9,459.3 787.4,436.5" fill="#6a9ad2" opacity="0.21"/><polygon points="652.7,442.9 655.6,442.9 655.0,391.1" fill="#80b0da" opacity="0.11"/><polygon points="884.2,403.9 887.1,403.9 887.1,382.1" fill="#80b0da" opacity="0.23"/><polygon points="816.9,418.6 821.4,418.6 818.2,398.3" fill="#98c4e4" opacity="0.11"/><polygon points="800.0,439.9 804.1,439.9 802.1,422.5" fill="#6a9ad2" opacity="0.20"/><polygon points="744.0,465.7 747.4,465.7 747.0,437.9" fill="#5f90cc" opacity="0.26"/><polygon points="902.4,410.2 905.0,410.2 904.6,403.6" fill="#6a9ad2" opacity="0.13"/><polygon points="797.2,446.9 800.0,446.9 798.6,431.2" fill="#6a9ad2" opacity="0.20"/><polygon points="600.8,419.8 603.5,419.8 601.0,416.4" fill="#80b0da" opacity="0.24"/><polygon points="872.6,405.0 877.3,405.0 874.5,382.6" fill="#5f90cc" opacity="0.25"/><polygon points="855.9,399.1 860.4,399.1 857.3,370.2" fill="#98c4e4" opacity="0.24"/><polygon points="697.1,463.6 700.1,463.6 698.3,396.4" fill="#6a9ad2" opacity="0.24"/><polygon points="747.6,466.9 752.1,466.9 749.2,446.7" fill="#6a9ad2" opacity="0.23"/><polygon points="745.4,466.1 748.4,466.1 745.5,403.0" fill="#6a9ad2" opacity="0.19"/><polygon points="677.8,436.4 681.0,436.4 678.6,382.3" fill="#80b0da" opacity="0.22"/><polygon points="594.7,418.8 599.0,418.8 597.0,416.4" fill="#6a9ad2" opacity="0.27"/><polygon points="645.9,449.1 649.5,449.1 646.6,435.2" fill="#6a9ad2" opacity="0.23"/><polygon points="792.7,454.9 794.9,454.9 793.3,417.0" fill="#5f90cc" opacity="0.18"/><polygon points="605.5,436.5 607.9,436.5 605.3,423.8" fill="#5f90cc" opacity="0.18"/><polygon points="908.8,406.8 910.8,406.8 909.3,402.4" fill="#98c4e4" opacity="0.14"/><polygon points="631.9,445.5 635.6,445.5 634.6,398.2" fill="#80b0da" opacity="0.16"/><polygon points="745.9,466.2 748.6,466.2 745.8,392.1" fill="#6a9ad2" opacity="0.21"/><polygon points="704.2,457.5 706.9,457.5 706.9,380.5" fill="#5f90cc" opacity="0.24"/><polygon points="787.6,459.2 789.3,459.2 788.5,444.5" fill="#5f90cc" opacity="0.10"/><polygon points="750.9,468.3 754.3,468.3 754.0,440.2" fill="#80b0da" opacity="0.14"/><polygon points="748.6,467.5 753.3,467.5 751.7,400.9" fill="#5f90cc" opacity="0.18"/><polygon points="798.8,441.5 803.6,441.5 800.1,410.3" fill="#6a9ad2" opacity="0.27"/><polygon points="720.7,468.7 724.7,468.7 723.4,430.2" fill="#98c4e4" opacity="0.13"/><polygon points="832.8,407.5 836.3,407.5 834.3,374.3" fill="#6a9ad2" opacity="0.17"/><polygon points="668.9,434.4 672.2,434.4 670.6,387.2" fill="#80b0da" opacity="0.26"/><polygon points="838.7,402.6 842.6,402.6 839.7,370.4" fill="#98c4e4" opacity="0.11"/><polygon points="839.3,402.8 841.2,402.8 840.6,372.8" fill="#5f90cc" opacity="0.16"/><polygon points="854.6,398.7 858.3,398.7 857.6,390.2" fill="#5f90cc" opacity="0.19"/><polygon points="832.7,407.8 835.6,407.8 835.0,389.3" fill="#5f90cc" opacity="0.14"/><polygon points="892.3,406.5 894.9,406.5 894.1,394.5" fill="#98c4e4" opacity="0.12"/><polygon points="673.2,433.4 675.3,433.4 672.8,419.0" fill="#6a9ad2" opacity="0.22"/><polygon points="669.6,434.3 671.9,434.3 671.9,378.6" fill="#98c4e4" opacity="0.20"/><polygon points="697.5,463.0 701.8,463.0 698.4,389.8" fill="#98c4e4" opacity="0.14"/><polygon points="863.5,408.9 865.1,408.9 865.5,397.7" fill="#5f90cc" opacity="0.14"/><polygon points="622.7,441.3 625.1,441.3 624.7,415.4" fill="#5f90cc" opacity="0.23"/><polygon points="877.5,404.6 881.1,404.6 878.7,389.3" fill="#98c4e4" opacity="0.26"/><polygon points="901.7,410.5 904.6,410.5 903.0,398.7" fill="#5f90cc" opacity="0.21"/><polygon points="831.2,409.4 834.0,409.4 833.9,398.3" fill="#98c4e4" opacity="0.25"/><polygon points="816.9,418.7 821.2,418.7 818.2,396.1" fill="#5f90cc" opacity="0.22"/><polygon points="708.6,453.5 711.3,453.5 709.2,379.5" fill="#98c4e4" opacity="0.19"/><polygon points="699.9,462.2 702.2,462.2 702.5,397.8" fill="#6a9ad2" opacity="0.27"/><polygon points="793.2,454.0 796.7,454.0 794.0,390.3" fill="#98c4e4" opacity="0.17"/><polygon points="796.4,446.5 801.0,446.5 799.0,413.1" fill="#98c4e4" opacity="0.19"/><polygon points="606.5,438.1 608.2,438.1 606.3,421.4" fill="#5f90cc" opacity="0.11"/><polygon points="758.0,471.8 761.2,471.8 759.0,451.6" fill="#6a9ad2" opacity="0.25"/><polygon points="734.5,464.7 738.6,464.7 736.4,428.0" fill="#80b0da" opacity="0.13"/><polygon points="890.1,405.2 892.4,405.2 891.9,391.6" fill="#98c4e4" opacity="0.25"/><polygon points="911.0,404.8 915.6,404.8 913.1,397.5" fill="#80b0da" opacity="0.29"/><polygon points="899.0,411.0 904.0,411.0 902.6,397.2" fill="#6a9ad2" opacity="0.17"/><polygon points="686.4,450.3 691.0,450.3 690.0,409.0" fill="#80b0da" opacity="0.25"/><polygon points="763.0,476.3 766.7,476.3 763.9,458.7" fill="#6a9ad2" opacity="0.21"/><polygon points="610.2,438.9 614.4,438.9 613.7,430.3" fill="#98c4e4" opacity="0.17"/><polygon points="712.3,459.7 715.6,459.7 713.7,410.0" fill="#6a9ad2" opacity="0.10"/><polygon points="704.2,456.9 707.7,456.9 705.2,438.1" fill="#5f90cc" opacity="0.19"/><polygon points="812.4,423.8 816.4,423.8 814.2,394.4" fill="#80b0da" opacity="0.11"/><polygon points="797.6,444.1 802.3,444.1 800.7,398.5" fill="#6a9ad2" opacity="0.29"/><polygon points="867.4,406.3 871.5,406.3 868.8,387.9" fill="#80b0da" opacity="0.21"/><polygon points="648.9,444.6 652.7,444.6 651.3,431.6" fill="#98c4e4" opacity="0.19"/><polygon points="896.0,408.9 899.6,408.9 898.2,387.9" fill="#98c4e4" opacity="0.17"/><polygon points="690.4,451.7 692.5,451.7 691.0,432.4" fill="#5f90cc" opacity="0.18"/><polygon points="742.3,465.2 745.4,465.2 742.8,399.6" fill="#6a9ad2" opacity="0.22"/><polygon points="607.1,438.3 609.5,438.3 608.6,427.1" fill="#98c4e4" opacity="0.29"/><polygon points="604.2,433.2 607.7,433.2 606.8,423.6" fill="#98c4e4" opacity="0.13"/><polygon points="839.4,402.5 842.5,402.5 841.0,387.5" fill="#5f90cc" opacity="0.17"/><polygon points="885.2,403.8 889.0,403.8 886.6,381.8" fill="#6a9ad2" opacity="0.16"/><polygon points="807.0,430.8 810.0,430.8 809.9,380.1" fill="#5f90cc" opacity="0.15"/><polygon points="901.3,410.7 904.2,410.7 902.5,400.4" fill="#80b0da" opacity="0.11"/><polygon points="728.7,465.9 732.0,465.9 730.9,395.1" fill="#6a9ad2" opacity="0.25"/><polygon points="632.4,445.4 634.4,445.4 634.8,409.4" fill="#5f90cc" opacity="0.29"/><polygon points="818.4,416.8 823.4,416.8 821.1,392.5" fill="#98c4e4" opacity="0.15"/><polygon points="608.9,438.9 613.7,438.9 611.9,430.1" fill="#6a9ad2" opacity="0.13"/><polygon points="818.8,417.5 821.7,417.5 818.9,391.8" fill="#5f90cc" opacity="0.13"/><polygon points="841.7,401.6 843.9,401.6 841.5,389.3" fill="#6a9ad2" opacity="0.27"/><polygon points="906.8,407.7 909.7,407.7 907.3,400.1" fill="#5f90cc" opacity="0.19"/><polygon points="603.6,427.0 605.5,427.0 604.1,422.9" fill="#80b0da" opacity="0.13"/><polygon points="892.2,406.4 894.5,406.4 894.8,399.1" fill="#80b0da" opacity="0.30"/><polygon points="673.5,433.8 678.3,433.8 677.0,405.0" fill="#98c4e4" opacity="0.12"/><polygon points="747.9,466.9 751.3,466.9 749.5,404.6" fill="#98c4e4" opacity="0.21"/><polygon points="769.2,475.3 772.6,475.3 771.2,430.2" fill="#98c4e4" opacity="0.14"/><polygon points="898.1,409.7 900.3,409.7 900.2,388.6" fill="#6a9ad2" opacity="0.16"/><polygon points="637.5,448.9 639.3,448.9 636.9,410.8" fill="#6a9ad2" opacity="0.12"/><polygon points="876.2,404.7 881.2,404.7 879.5,378.7" fill="#80b0da" opacity="0.21"/><polygon points="624.5,442.4 627.6,442.4 625.2,413.0" fill="#6a9ad2" opacity="0.22"/><polygon points="742.4,465.3 746.2,465.3 745.1,414.6" fill="#80b0da" opacity="0.24"/><polygon points="829.0,411.0 833.0,411.0 832.5,391.3" fill="#80b0da" opacity="0.16"/><polygon points="682.0,442.1 685.3,442.1 682.9,422.0" fill="#80b0da" opacity="0.25"/><polygon points="736.3,464.5 738.3,464.5 738.4,432.6" fill="#80b0da" opacity="0.21"/><polygon points="915.1,403.5 918.2,403.5 916.4,398.9" fill="#5f90cc" opacity="0.11"/><polygon points="870.5,405.3 872.3,405.3 872.9,378.2" fill="#98c4e4" opacity="0.18"/><polygon points="713.4,464.0 716.9,464.0 716.3,434.3" fill="#5f90cc" opacity="0.19"/><polygon points="825.9,413.0 828.5,413.0 826.8,392.2" fill="#80b0da" opacity="0.18"/><polygon points="806.0,431.4 809.6,431.4 806.3,383.1" fill="#6a9ad2" opacity="0.16"/><polygon points="614.6,437.0 619.2,437.0 616.2,429.0" fill="#6a9ad2" opacity="0.16"/><polygon points="603.2,431.6 608.0,431.6 606.6,423.0" fill="#98c4e4" opacity="0.25"/><polygon points="866.7,406.9 869.8,406.9 869.5,375.2" fill="#5f90cc" opacity="0.20"/><polygon points="667.8,435.9 670.4,435.9 668.1,417.5" fill="#6a9ad2" opacity="0.12"/><polygon points="880.7,404.3 885.0,404.3 883.8,391.0" fill="#98c4e4" opacity="0.10"/><polygon points="654.2,442.2 657.2,442.2 657.0,417.5" fill="#98c4e4" opacity="0.22"/><polygon points="690.9,453.6 694.7,453.6 694.0,421.3" fill="#5f90cc" opacity="0.11"/><polygon points="836.2,403.6 840.7,403.6 838.2,386.7" fill="#80b0da" opacity="0.20"/><polygon points="885.3,403.8 888.0,403.8 885.9,384.1" fill="#98c4e4" opacity="0.28"/><polygon points="698.4,462.3 703.3,462.3 699.5,404.4" fill="#5f90cc" opacity="0.23"/><polygon points="898.1,410.1 901.7,410.1 900.9,395.0" fill="#5f90cc" opacity="0.14"/><polygon points="862.4,409.0 865.4,409.0 864.4,375.8" fill="#80b0da" opacity="0.30"/><polygon points="766.4,478.8 769.0,478.8 767.3,448.5" fill="#6a9ad2" opacity="0.22"/><polygon points="762.1,475.8 766.6,475.8 765.0,438.6" fill="#6a9ad2" opacity="0.19"/><polygon points="873.1,405.0 876.4,405.0 873.6,381.9" fill="#6a9ad2" opacity="0.14"/><polygon points="742.8,465.3 746.1,465.3 745.2,392.0" fill="#6a9ad2" opacity="0.16"/><polygon points="700.0,461.4 704.6,461.4 701.9,429.4" fill="#5f90cc" opacity="0.15"/><polygon points="667.2,436.4 670.0,436.4 668.1,411.3" fill="#5f90cc" opacity="0.24"/><polygon points="630.6,444.9 633.7,444.9 632.7,425.6" fill="#6a9ad2" opacity="0.15"/><polygon points="664.2,438.3 667.8,438.3 666.1,395.6" fill="#6a9ad2" opacity="0.24"/><polygon points="789.4,457.6 791.6,457.6 789.2,419.7" fill="#80b0da" opacity="0.19"/><polygon points="850.0,399.3 853.3,399.3 852.9,371.5" fill="#6a9ad2" opacity="0.15"/><polygon points="816.7,418.9 821.0,418.9 820.3,401.3" fill="#98c4e4" opacity="0.17"/><polygon points="751.0,468.5 755.0,468.5 751.9,441.1" fill="#80b0da" opacity="0.27"/><polygon points="699.4,462.5 701.5,462.5 700.6,423.8" fill="#80b0da" opacity="0.20"/><polygon points="874.9,404.8 878.2,404.8 875.6,386.6" fill="#80b0da" opacity="0.26"/><polygon points="624.7,442.6 628.1,442.6 626.9,405.0" fill="#80b0da" opacity="0.22"/><polygon points="688.3,450.9 691.3,450.9 689.5,417.3" fill="#80b0da" opacity="0.28"/><polygon points="776.0,467.9 779.1,467.9 776.8,405.7" fill="#80b0da" opacity="0.21"/><polygon points="821.3,415.2 824.2,415.2 821.7,387.1" fill="#5f90cc" opacity="0.16"/><polygon points="891.7,406.4 895.2,406.4 893.2,391.8" fill="#98c4e4" opacity="0.14"/><polygon points="782.4,463.3 784.2,463.3 782.3,442.1" fill="#98c4e4" opacity="0.24"/><polygon points="810.6,426.6 814.0,426.6 813.4,411.1" fill="#5f90cc" opacity="0.28"/><polygon points="762.6,475.1 764.5,475.1 762.7,432.6" fill="#80b0da" opacity="0.24"/><polygon points="679.8,437.8 681.8,437.8 680.1,414.2" fill="#80b0da" opacity="0.19"/><polygon points="907.1,407.3 910.6,407.3 908.1,402.6" fill="#6a9ad2" opacity="0.23"/><polygon points="678.6,437.0 681.4,437.0 680.6,407.0" fill="#5f90cc" opacity="0.12"/><polygon points="838.3,402.9 841.5,402.9 840.7,388.9" fill="#5f90cc" opacity="0.17"/><polygon points="648.5,445.5 651.0,445.5 650.8,402.1" fill="#6a9ad2" opacity="0.17"/><polygon points="836.1,403.9 840.0,403.9 837.9,381.9" fill="#98c4e4" opacity="0.30"/><polygon points="689.7,452.0 694.3,452.0 691.0,420.9" fill="#6a9ad2" opacity="0.11"/><polygon points="802.1,435.7 806.2,435.7 804.8,414.4" fill="#6a9ad2" opacity="0.27"/><polygon points="715.3,467.4 718.8,467.4 716.0,448.1" fill="#80b0da" opacity="0.14"/><polygon points="913.0,404.1 916.3,404.1 914.8,398.1" fill="#80b0da" opacity="0.13"/><polygon points="812.2,425.3 814.4,425.3 812.0,391.2" fill="#6a9ad2" opacity="0.12"/><polygon points="815.2,420.6 819.2,420.6 817.3,407.1" fill="#98c4e4" opacity="0.24"/><polygon points="810.5,427.6 812.7,427.6 812.1,398.9" fill="#5f90cc" opacity="0.11"/><polygon points="729.6,465.8 732.3,465.8 730.6,449.8" fill="#80b0da" opacity="0.27"/><polygon points="609.6,438.7 611.2,438.7 611.1,430.5" fill="#98c4e4" opacity="0.29"/><polygon points="798.7,444.3 801.1,444.3 799.0,410.0" fill="#5f90cc" opacity="0.17"/><polygon points="729.8,465.8 732.5,465.8 731.4,444.3" fill="#5f90cc" opacity="0.21"/><polygon points="689.4,451.1 691.1,451.1 690.1,434.8" fill="#80b0da" opacity="0.14"/><polygon points="759.5,473.7 764.4,473.7 762.6,415.8" fill="#98c4e4" opacity="0.23"/><polygon points="764.2,476.8 766.8,476.8 765.4,432.0" fill="#5f90cc" opacity="0.14"/><polygon points="766.0,478.5 770.8,478.5 767.3,442.8" fill="#6a9ad2" opacity="0.19"/><polygon points="919.4,403.1 922.3,403.1 920.8,400.3" fill="#80b0da" opacity="0.12"/><polygon points="749.5,467.9 754.3,467.9 750.5,436.2" fill="#98c4e4" opacity="0.10"/><polygon points="796.3,448.0 799.7,448.0 796.6,431.9" fill="#98c4e4" opacity="0.28"/><polygon points="813.8,422.4 817.1,422.4 816.4,400.8" fill="#80b0da" opacity="0.26"/><polygon points="694.9,460.9 697.9,460.9 697.0,409.3" fill="#5f90cc" opacity="0.12"/><polygon points="671.7,433.2 674.6,433.2 671.9,413.9" fill="#6a9ad2" opacity="0.23"/><polygon points="812.6,423.0 817.4,423.0 814.6,393.4" fill="#5f90cc" opacity="0.20"/><polygon points="756.5,471.2 760.4,471.2 758.1,449.5" fill="#80b0da" opacity="0.21"/><polygon points="746.4,466.2 748.1,466.2 747.7,412.8" fill="#80b0da" opacity="0.20"/><polygon points="850.5,399.3 852.8,399.3 852.4,374.2" fill="#5f90cc" opacity="0.23"/><polygon points="905.8,408.4 908.1,408.4 907.5,400.3" fill="#80b0da" opacity="0.22"/><polygon points="918.9,403.2 921.8,403.2 919.1,400.5" fill="#98c4e4" opacity="0.14"/><polygon points="652.8,443.0 655.3,443.0 653.6,407.9" fill="#98c4e4" opacity="0.21"/><polygon points="734.1,464.8 738.1,464.8 736.8,446.7" fill="#98c4e4" opacity="0.17"/><polygon points="683.4,443.7 685.7,443.7 683.1,418.2" fill="#6a9ad2" opacity="0.25"/><polygon points="728.5,465.9 732.1,465.9 730.0,398.5" fill="#98c4e4" opacity="0.20"/><polygon points="758.4,471.7 760.6,471.7 759.7,427.6" fill="#98c4e4" opacity="0.11"/><polygon points="646.7,447.7 650.2,447.7 647.4,434.0" fill="#5f90cc" opacity="0.30"/><polygon points="847.4,399.8 849.4,399.8 847.8,370.4" fill="#6a9ad2" opacity="0.29"/><polygon points="872.4,405.1 875.5,405.1 874.5,375.0" fill="#6a9ad2" opacity="0.13"/><polygon points="797.8,444.7 801.5,444.7 798.2,407.5" fill="#5f90cc" opacity="0.15"/><polygon points="903.0,409.8 905.9,409.8 903.2,401.0" fill="#5f90cc" opacity="0.16"/><polygon points="883.3,404.1 885.7,404.1 885.7,394.1" fill="#80b0da" opacity="0.15"/><polygon points="703.1,459.2 705.4,459.2 704.0,424.3" fill="#6a9ad2" opacity="0.21"/><polygon points="758.7,472.8 763.1,472.8 761.9,437.2" fill="#6a9ad2" opacity="0.25"/><polygon points="617.8,438.2 620.1,438.2 618.1,421.8" fill="#6a9ad2" opacity="0.17"/><polygon points="658.9,439.7 663.1,439.7 659.7,399.3" fill="#98c4e4" opacity="0.19"/><polygon points="888.7,404.5 891.3,404.5 889.1,394.2" fill="#6a9ad2" opacity="0.19"/><polygon points="708.0,453.6 711.1,453.6 710.4,433.2" fill="#98c4e4" opacity="0.24"/><polygon points="847.0,399.7 851.1,399.7 850.2,386.5" fill="#5f90cc" opacity="0.10"/><polygon points="706.4,454.4 709.1,454.4 708.0,428.9" fill="#5f90cc" opacity="0.26"/><polygon points="616.4,437.7 619.9,437.7 619.0,403.2" fill="#5f90cc" opacity="0.20"/><polygon points="736.6,464.3 739.9,464.3 737.9,401.7" fill="#5f90cc" opacity="0.26"/><polygon points="871.3,405.1 875.8,405.1 873.2,390.6" fill="#6a9ad2" opacity="0.27"/><polygon points="712.7,458.3 714.3,458.3 713.5,420.4" fill="#80b0da" opacity="0.20"/><polygon points="740.8,464.8 744.8,464.8 742.9,419.9" fill="#6a9ad2" opacity="0.15"/><polygon points="808.3,429.1 812.4,429.1 810.0,410.9" fill="#80b0da" opacity="0.16"/><polygon points="596.1,418.9 598.8,418.9 596.1,416.4" fill="#5f90cc" opacity="0.30"/><polygon points="717.1,468.1 721.3,468.1 719.1,444.5" fill="#98c4e4" opacity="0.17"/><polygon points="597.2,419.2 600.3,419.2 599.6,416.1" fill="#5f90cc" opacity="0.12"/><polygon points="811.4,426.5 813.3,426.5 811.0,407.8" fill="#5f90cc" opacity="0.23"/><polygon points="663.6,438.7 665.4,438.7 664.3,394.0" fill="#6a9ad2" opacity="0.17"/><polygon points="912.9,404.3 915.6,404.3 914.9,400.1" fill="#5f90cc" opacity="0.27"/><polygon points="803.8,433.2 808.0,433.2 807.0,420.9" fill="#98c4e4" opacity="0.13"/><polygon points="738.7,464.2 742.6,464.2 741.9,416.5" fill="#6a9ad2" opacity="0.22"/><polygon points="693.5,456.9 695.4,456.9 694.0,402.8" fill="#6a9ad2" opacity="0.21"/><polygon points="855.8,399.0 860.5,399.0 857.7,386.2" fill="#80b0da" opacity="0.16"/><polygon points="838.6,402.9 841.5,402.9 840.8,390.3" fill="#6a9ad2" opacity="0.29"/><polygon points="786.7,458.7 791.6,458.7 790.4,421.6" fill="#98c4e4" opacity="0.26"/><polygon points="797.4,445.2 801.5,445.2 799.9,431.9" fill="#98c4e4" opacity="0.29"/><polygon points="743.1,465.5 746.7,465.5 745.6,408.7" fill="#98c4e4" opacity="0.21"/><polygon points="846.3,399.8 850.8,399.8 849.1,374.3" fill="#80b0da" opacity="0.12"/><polygon points="858.8,403.5 861.7,403.5 859.5,376.2" fill="#6a9ad2" opacity="0.14"/><polygon points="637.4,449.6 641.0,449.6 640.5,412.6" fill="#5f90cc" opacity="0.30"/><polygon points="797.2,445.7 801.1,445.7 799.6,421.0" fill="#5f90cc" opacity="0.16"/><polygon points="859.4,403.5 861.0,403.5 860.5,379.0" fill="#98c4e4" opacity="0.16"/><polygon points="890.4,405.9 894.7,405.9 892.8,388.8" fill="#6a9ad2" opacity="0.23"/><polygon points="755.7,470.7 759.0,470.7 756.4,399.4" fill="#80b0da" opacity="0.15"/><polygon points="606.5,438.1 608.4,438.1 607.4,422.3" fill="#5f90cc" opacity="0.14"/><polygon points="700.7,461.5 703.6,461.5 702.2,434.4" fill="#6a9ad2" opacity="0.20"/><polygon points="769.1,475.3 772.6,475.3 770.2,458.2" fill="#80b0da" opacity="0.13"/><polygon points="674.8,434.0 679.2,434.0 676.8,381.1" fill="#98c4e4" opacity="0.13"/><polygon points="821.8,414.5 826.5,414.5 824.7,403.3" fill="#5f90cc" opacity="0.29"/><polygon points="795.5,450.5 798.0,450.5 795.3,386.6" fill="#80b0da" opacity="0.17"/><polygon points="907.5,407.2 910.5,407.2 910.2,398.7" fill="#5f90cc" opacity="0.18"/><polygon points="840.6,401.6 845.1,401.6 844.2,376.1" fill="#5f90cc" opacity="0.29"/><polygon points="654.3,442.1 657.1,442.1 657.0,388.7" fill="#98c4e4" opacity="0.25"/><polygon points="820.5,415.5 823.9,415.5 821.8,394.1" fill="#98c4e4" opacity="0.17"/><polygon points="793.4,452.6 798.0,452.6 794.7,426.8" fill="#5f90cc" opacity="0.15"/><polygon points="679.2,438.5 683.8,438.5 680.5,418.5" fill="#98c4e4" opacity="0.28"/><polygon points="862.4,408.6 867.4,408.6 864.5,377.9" fill="#98c4e4" opacity="0.12"/><polygon points="628.5,444.2 632.4,444.2 630.0,400.4" fill="#80b0da" opacity="0.27"/><polygon points="692.5,456.9 696.4,456.9 695.3,386.0" fill="#98c4e4" opacity="0.23"/><polygon points="645.1,452.2 646.9,452.2 646.8,421.6" fill="#80b0da" opacity="0.28"/><polygon points="684.4,447.1 688.5,447.1 685.6,422.1" fill="#98c4e4" opacity="0.23"/><polygon points="828.7,411.5 831.6,411.5 830.6,386.1" fill="#80b0da" opacity="0.19"/><polygon points="839.3,402.8 841.3,402.8 840.5,368.6" fill="#5f90cc" opacity="0.23"/><polygon points="871.1,405.1 875.4,405.1 872.8,396.8" fill="#80b0da" opacity="0.16"/><polygon points="835.2,404.5 839.9,404.5 837.5,392.6" fill="#6a9ad2" opacity="0.26"/><polygon points="839.7,402.3 843.1,402.3 841.6,384.3" fill="#6a9ad2" opacity="0.24"/><polygon points="849.5,399.5 851.7,399.5 850.8,380.6" fill="#80b0da" opacity="0.10"/><polygon points="753.0,469.3 756.1,469.3 754.0,449.3" fill="#5f90cc" opacity="0.22"/><polygon points="858.3,404.5 863.0,404.5 860.6,387.7" fill="#98c4e4" opacity="0.27"/><polygon points="657.7,440.4 660.8,440.4 657.9,397.4" fill="#5f90cc" opacity="0.15"/><polygon points="671.0,433.1 673.6,433.1 672.7,396.7" fill="#6a9ad2" opacity="0.22"/><polygon points="698.3,462.3 703.3,462.3 701.1,419.9" fill="#5f90cc" opacity="0.13"/><polygon points="807.2,430.7 810.0,430.7 810.1,415.0" fill="#5f90cc" opacity="0.13"/><polygon points="741.8,465.2 746.2,465.2 745.2,393.7" fill="#6a9ad2" opacity="0.18"/><polygon points="848.7,399.6 850.6,399.6 849.0,389.6" fill="#5f90cc" opacity="0.21"/><polygon points="865.1,407.7 868.2,407.7 865.4,394.5" fill="#5f90cc" opacity="0.24"/><polygon points="752.9,469.0 755.0,469.0 753.3,410.9" fill="#6a9ad2" opacity="0.23"/><polygon points="882.1,404.1 886.6,404.1 883.9,397.3" fill="#80b0da" opacity="0.26"/><polygon points="616.6,437.9 620.3,437.9 619.3,424.2" fill="#5f90cc" opacity="0.19"/><polygon points="671.7,433.2 673.9,433.2 673.9,416.2" fill="#6a9ad2" opacity="0.21"/><polygon points="821.2,415.2 824.2,415.2 822.5,387.2" fill="#5f90cc" opacity="0.16"/><polygon points="757.7,471.6 760.7,471.6 760.4,440.1" fill="#6a9ad2" opacity="0.15"/><polygon points="906.4,408.1 908.4,408.1 907.0,402.1" fill="#98c4e4" opacity="0.11"/><polygon points="864.2,407.8 868.8,407.8 867.8,385.4" fill="#6a9ad2" opacity="0.12"/><polygon points="604.5,432.1 606.9,432.1 606.3,419.5" fill="#80b0da" opacity="0.19"/><polygon points="689.9,451.5 691.9,451.5 689.6,387.8" fill="#80b0da" opacity="0.22"/><polygon points="901.0,411.2 902.8,411.2 903.0,400.2" fill="#80b0da" opacity="0.12"/><polygon points="817.7,418.5 820.9,418.5 820.2,387.0" fill="#5f90cc" opacity="0.27"/><polygon points="827.1,412.4 829.5,412.4 827.8,391.1" fill="#6a9ad2" opacity="0.27"/><polygon points="805.0,432.1 809.3,432.1 807.5,417.7" fill="#80b0da" opacity="0.21"/><polygon points="644.5,451.3 648.4,451.3 646.5,425.4" fill="#6a9ad2" opacity="0.20"/><polygon points="624.3,442.1 626.1,442.1 624.3,421.3" fill="#80b0da" opacity="0.24"/><polygon points="762.7,475.8 765.9,475.8 765.3,421.1" fill="#80b0da" opacity="0.26"/><polygon points="640.8,452.4 644.5,452.4 642.6,403.9" fill="#5f90cc" opacity="0.15"/><polygon points="741.8,465.0 744.8,465.0 743.4,403.6" fill="#98c4e4" opacity="0.25"/><polygon points="692.6,456.1 695.5,456.1 695.0,416.0" fill="#80b0da" opacity="0.12"/><polygon points="795.5,451.0 797.5,451.0 795.8,421.1" fill="#98c4e4" opacity="0.22"/><polygon points="745.7,466.1 748.1,466.1 745.7,444.2" fill="#98c4e4" opacity="0.13"/><polygon points="717.3,468.1 721.3,468.1 720.4,419.2" fill="#80b0da" opacity="0.10"/><polygon points="914.4,403.6 917.0,403.6 914.7,398.3" fill="#6a9ad2" opacity="0.22"/><polygon points="608.2,438.6 611.5,438.6 609.6,426.8" fill="#98c4e4" opacity="0.27"/><polygon points="599.2,419.5 602.1,419.5 599.9,415.5" fill="#98c4e4" opacity="0.19"/><polygon points="865.7,407.2 869.5,407.2 867.1,381.4" fill="#5f90cc" opacity="0.24"/><polygon points="806.2,430.9 810.5,430.9 807.8,379.8" fill="#80b0da" opacity="0.23"/><polygon points="802.3,435.7 805.9,435.7 802.6,395.0" fill="#98c4e4" opacity="0.17"/><polygon points="716.8,468.0 721.4,468.0 717.6,404.8" fill="#80b0da" opacity="0.29"/><polygon points="675.3,434.0 678.5,434.0 675.5,406.5" fill="#98c4e4" opacity="0.23"/><polygon points="869.7,405.2 874.4,405.2 871.3,390.1" fill="#6a9ad2" opacity="0.23"/><polygon points="736.5,464.5 738.3,464.5 735.9,418.3" fill="#5f90cc" opacity="0.15"/><polygon points="818.5,417.1 822.7,417.1 821.9,396.8" fill="#5f90cc" opacity="0.18"/><polygon points="704.4,455.8 709.0,455.8 707.7,411.4" fill="#6a9ad2" opacity="0.18"/><polygon points="862.8,408.4 867.6,408.4 864.7,395.8" fill="#80b0da" opacity="0.17"/><polygon points="627.4,443.6 630.5,443.6 628.5,400.6" fill="#80b0da" opacity="0.27"/><polygon points="624.8,442.6 628.0,442.6 626.5,397.9" fill="#80b0da" opacity="0.22"/><polygon points="758.1,471.6 760.4,471.6 759.5,429.8" fill="#5f90cc" opacity="0.28"/><polygon points="676.6,434.8 678.9,434.8 678.5,378.9" fill="#6a9ad2" opacity="0.30"/><polygon points="849.8,399.3 853.8,399.3 852.2,379.5" fill="#6a9ad2" opacity="0.14"/><polygon points="699.6,462.3 702.0,462.3 699.3,386.4" fill="#6a9ad2" opacity="0.18"/><polygon points="851.6,399.2 853.3,399.2 852.1,369.8" fill="#98c4e4" opacity="0.30"/><polygon points="768.9,475.6 772.4,475.6 771.3,437.3" fill="#5f90cc" opacity="0.27"/><polygon points="657.5,440.3 661.1,440.3 659.2,397.1" fill="#98c4e4" opacity="0.15"/><polygon points="824.6,413.0 829.5,413.0 825.9,381.6" fill="#5f90cc" opacity="0.20"/><polygon points="755.8,470.9 759.7,470.9 758.7,442.9" fill="#5f90cc" opacity="0.17"/><polygon points="683.7,444.5 686.3,444.5 684.8,381.5" fill="#80b0da" opacity="0.14"/><polygon points="636.2,448.5 639.6,448.5 637.9,430.5" fill="#80b0da" opacity="0.22"/><polygon points="821.7,414.9 824.8,414.9 822.4,376.5" fill="#5f90cc" opacity="0.26"/><polygon points="912.5,404.3 916.1,404.3 914.3,400.8" fill="#5f90cc" opacity="0.27"/><polygon points="753.2,469.3 755.9,469.3 755.5,436.6" fill="#6a9ad2" opacity="0.16"/><polygon points="619.3,439.6 623.1,439.6 622.5,429.7" fill="#5f90cc" opacity="0.26"/><polygon points="829.0,411.3 832.3,411.3 831.0,397.3" fill="#6a9ad2" opacity="0.15"/><polygon points="822.3,414.8 824.8,414.8 823.7,403.5" fill="#98c4e4" opacity="0.27"/><polygon points="686.9,449.9 689.0,449.9 688.6,381.0" fill="#80b0da" opacity="0.10"/><polygon points="650.4,443.9 654.1,443.9 652.1,395.6" fill="#5f90cc" opacity="0.18"/><polygon points="905.8,407.8 910.0,407.8 908.7,396.7" fill="#6a9ad2" opacity="0.12"/><polygon points="802.6,437.2 804.3,437.2 804.4,401.9" fill="#6a9ad2" opacity="0.21"/><polygon points="787.0,458.9 790.8,458.9 788.9,410.6" fill="#5f90cc" opacity="0.25"/><polygon points="816.9,419.4 819.7,419.4 816.9,403.6" fill="#5f90cc" opacity="0.17"/><polygon points="736.7,464.4 739.5,464.4 738.2,421.9" fill="#5f90cc" opacity="0.11"/><polygon points="641.6,452.4 643.5,452.4 642.4,391.8" fill="#98c4e4" opacity="0.27"/><polygon points="622.5,441.0 624.3,441.0 622.6,421.7" fill="#98c4e4" opacity="0.16"/><polygon points="915.6,403.4 920.2,403.4 917.5,399.7" fill="#98c4e4" opacity="0.14"/><polygon points="801.8,437.2 805.0,437.2 803.7,424.1" fill="#98c4e4" opacity="0.16"/><polygon points="828.4,411.7 831.3,411.7 830.3,380.7" fill="#80b0da" opacity="0.19"/><polygon points="611.3,438.6 614.6,438.6 612.0,425.2" fill="#6a9ad2" opacity="0.22"/><polygon points="695.4,463.8 700.4,463.8 699.2,443.3" fill="#98c4e4" opacity="0.15"/><polygon points="824.0,414.2 825.6,414.2 825.1,404.6" fill="#98c4e4" opacity="0.12"/><polygon points="693.6,460.0 698.4,460.0 694.9,382.7" fill="#6a9ad2" opacity="0.22"/><polygon points="863.0,409.0 865.0,409.0 864.5,396.1" fill="#6a9ad2" opacity="0.21"/><polygon points="805.9,431.2 810.4,431.2 808.6,383.6" fill="#80b0da" opacity="0.28"/><polygon points="697.3,463.3 701.0,463.3 699.3,427.2" fill="#80b0da" opacity="0.24"/><polygon points="819.8,415.7 824.2,415.7 823.2,399.7" fill="#6a9ad2" opacity="0.16"/><polygon points="891.6,406.3 894.7,406.3 893.7,387.3" fill="#80b0da" opacity="0.19"/><polygon points="626.3,443.1 629.3,443.1 628.8,400.7" fill="#98c4e4" opacity="0.19"/><polygon points="764.3,477.9 769.1,477.9 766.0,437.5" fill="#80b0da" opacity="0.11"/><polygon points="863.4,408.8 865.3,408.8 864.5,397.5" fill="#80b0da" opacity="0.17"/><polygon points="785.6,460.5 788.3,460.5 786.0,404.9" fill="#5f90cc" opacity="0.27"/><polygon points="782.2,462.4 786.9,462.4 785.4,421.1" fill="#98c4e4" opacity="0.15"/><polygon points="723.3,467.7 727.7,467.7 724.7,428.3" fill="#98c4e4" opacity="0.29"/><polygon points="655.5,441.0 660.3,441.0 656.6,386.6" fill="#6a9ad2" opacity="0.30"/><polygon points="827.3,412.1 830.5,412.1 828.8,379.8" fill="#6a9ad2" opacity="0.20"/><polygon points="634.5,447.3 638.5,447.3 636.5,408.9" fill="#80b0da" opacity="0.15"/><polygon points="884.3,403.9 886.8,403.9 886.3,396.9" fill="#98c4e4" opacity="0.28"/><polygon points="637.0,449.8 641.8,449.8 640.1,420.5" fill="#5f90cc" opacity="0.26"/><polygon points="842.5,401.1 845.6,401.1 842.9,370.1" fill="#5f90cc" opacity="0.22"/><polygon points="791.8,455.5 794.6,455.5 793.3,407.3" fill="#6a9ad2" opacity="0.24"/><polygon points="874.9,404.8 879.5,404.8 877.4,380.4" fill="#5f90cc" opacity="0.20"/><polygon points="716.7,467.8 719.8,467.8 716.8,416.3" fill="#5f90cc" opacity="0.26"/><polygon points="887.7,404.3 891.5,404.3 888.5,392.8" fill="#98c4e4" opacity="0.22"/><polygon points="712.7,463.2 717.2,463.2 715.0,408.7" fill="#98c4e4" opacity="0.12"/><polygon points="858.4,404.3 862.8,404.3 861.0,390.3" fill="#5f90cc" opacity="0.27"/><polygon points="854.1,398.7 858.7,398.7 855.0,384.5" fill="#6a9ad2" opacity="0.21"/><polygon points="621.7,441.3 626.2,441.3 622.8,405.2" fill="#98c4e4" opacity="0.21"/><polygon points="789.3,457.6 791.6,457.6 790.9,387.8" fill="#98c4e4" opacity="0.27"/><polygon points="707.9,453.5 712.0,453.5 711.3,424.3" fill="#98c4e4" opacity="0.11"/><polygon points="727.3,466.6 729.7,466.6 727.0,438.4" fill="#98c4e4" opacity="0.14"/><polygon points="830.6,410.5 832.4,410.5 830.3,378.4" fill="#5f90cc" opacity="0.17"/><polygon points="765.1,477.6 767.6,477.6 765.9,430.0" fill="#80b0da" opacity="0.21"/><polygon points="872.1,405.1 875.5,405.1 873.4,386.7" fill="#98c4e4" opacity="0.29"/><polygon points="678.4,436.8 681.3,436.8 679.7,387.5" fill="#80b0da" opacity="0.10"/><polygon points="772.6,471.9 774.5,471.9 772.8,449.5" fill="#80b0da" opacity="0.20"/><polygon points="786.7,459.2 790.2,459.2 789.4,399.0" fill="#5f90cc" opacity="0.30"/><polygon points="783.8,461.3 788.0,461.3 785.9,415.3" fill="#80b0da" opacity="0.24"/><polygon points="875.3,404.8 879.9,404.8 877.4,396.9" fill="#6a9ad2" opacity="0.23"/><polygon points="892.3,406.9 896.3,406.9 893.6,389.3" fill="#6a9ad2" opacity="0.16"/><polygon points="716.2,467.4 718.4,467.4 718.8,438.1" fill="#5f90cc" opacity="0.20"/><polygon points="624.2,442.1 626.4,442.1 626.2,429.7" fill="#80b0da" opacity="0.15"/><polygon points="723.2,468.1 725.7,468.1 725.5,449.2" fill="#6a9ad2" opacity="0.24"/><polygon points="859.5,406.8 864.0,406.8 862.1,382.6" fill="#5f90cc" opacity="0.12"/><polygon points="835.3,404.3 840.2,404.3 837.6,390.2" fill="#5f90cc" opacity="0.26"/><polygon points="759.9,472.9 762.2,472.9 761.4,451.6" fill="#6a9ad2" opacity="0.14"/><polygon points="723.3,467.8 727.1,467.8 723.8,387.5" fill="#5f90cc" opacity="0.18"/><polygon points="748.0,467.2 752.8,467.2 751.4,442.1" fill="#80b0da" opacity="0.23"/><polygon points="812.7,423.4 816.8,423.4 815.3,395.7" fill="#80b0da" opacity="0.30"/><polygon points="610.3,438.7 615.1,438.7 611.3,426.3" fill="#80b0da" opacity="0.29"/><polygon points="859.6,404.2 861.5,404.2 859.5,391.4" fill="#80b0da" opacity="0.29"/><polygon points="751.2,468.5 754.8,468.5 753.5,390.0" fill="#80b0da" opacity="0.12"/><polygon points="648.8,444.7 652.5,444.7 650.6,395.0" fill="#5f90cc" opacity="0.22"/><polygon points="891.0,406.0 894.3,406.0 892.0,396.5" fill="#98c4e4" opacity="0.25"/><polygon points="620.0,439.7 622.6,439.7 622.8,397.0" fill="#80b0da" opacity="0.30"/><polygon points="664.5,438.0 669.3,438.0 666.9,408.9" fill="#5f90cc" opacity="0.25"/><polygon points="660.9,439.2 664.6,439.2 662.0,386.6" fill="#5f90cc" opacity="0.14"/><polygon points="795.4,448.6 799.9,448.6 796.7,426.2" fill="#6a9ad2" opacity="0.16"/><polygon points="693.3,457.5 696.2,457.5 693.8,432.6" fill="#5f90cc" opacity="0.30"/><polygon points="828.7,411.3 832.4,411.3 831.6,372.9" fill="#98c4e4" opacity="0.17"/><polygon points="796.8,448.7 798.5,448.7 796.2,416.2" fill="#5f90cc" opacity="0.17"/><polygon points="726.2,467.0 728.4,467.0 726.6,395.1" fill="#6a9ad2" opacity="0.13"/><polygon points="797.5,445.9 800.6,445.9 800.1,427.9" fill="#98c4e4" opacity="0.12"/><polygon points="606.3,438.4 611.2,438.4 609.0,430.7" fill="#98c4e4" opacity="0.22"/><polygon points="778.5,465.6 782.5,465.6 781.2,406.1" fill="#80b0da" opacity="0.23"/><polygon points="743.9,465.5 746.1,465.5 745.3,401.9" fill="#6a9ad2" opacity="0.21"/><polygon points="654.8,442.1 656.8,442.1 654.8,399.5" fill="#98c4e4" opacity="0.16"/><polygon points="838.1,402.7 842.9,402.7 839.6,388.9" fill="#98c4e4" opacity="0.29"/><polygon points="784.7,461.1 787.6,461.1 785.3,435.7" fill="#80b0da" opacity="0.16"/><polygon points="688.2,451.0 691.6,451.0 690.0,419.4" fill="#80b0da" opacity="0.20"/><polygon points="884.7,403.8 888.1,403.8 887.1,390.9" fill="#80b0da" opacity="0.25"/><polygon points="723.7,467.6 727.8,467.6 726.2,439.0" fill="#6a9ad2" opacity="0.17"/><polygon points="615.5,437.5 620.2,437.5 619.3,406.6" fill="#5f90cc" opacity="0.12"/><polygon points="665.0,438.2 667.8,438.2 666.8,397.5" fill="#6a9ad2" opacity="0.24"/><polygon points="694.7,459.8 697.0,459.8 694.8,394.1" fill="#5f90cc" opacity="0.29"/><polygon points="869.5,405.3 873.3,405.3 872.1,375.2" fill="#80b0da" opacity="0.17"/><polygon points="901.9,410.1 905.8,410.1 903.1,398.2" fill="#6a9ad2" opacity="0.23"/><polygon points="650.1,444.0 654.1,444.0 652.9,408.9" fill="#80b0da" opacity="0.28"/><polygon points="737.8,464.1 741.6,464.1 738.3,402.8" fill="#80b0da" opacity="0.28"/><polygon points="746.9,466.7 751.5,466.7 747.9,396.8" fill="#98c4e4" opacity="0.21"/><polygon points="788.2,457.7 792.5,457.7 789.1,418.4" fill="#5f90cc" opacity="0.30"/><polygon points="843.1,400.9 845.7,400.9 843.3,368.1" fill="#6a9ad2" opacity="0.16"/><polygon points="889.4,405.6 894.3,405.6 893.3,386.4" fill="#80b0da" opacity="0.26"/><polygon points="614.9,437.1 619.3,437.1 618.1,424.3" fill="#80b0da" opacity="0.24"/><polygon points="684.2,447.5 689.1,447.5 687.8,431.2" fill="#98c4e4" opacity="0.16"/><polygon points="878.2,404.5 882.3,404.5 880.7,376.0" fill="#6a9ad2" opacity="0.22"/><polygon points="898.7,410.2 901.3,410.2 900.7,389.9" fill="#6a9ad2" opacity="0.12"/><polygon points="906.8,407.4 910.6,407.4 907.9,401.6" fill="#98c4e4" opacity="0.24"/><polygon points="643.4,453.7 645.6,453.7 644.6,402.1" fill="#80b0da" opacity="0.28"/><polygon points="754.0,469.5 755.8,469.5 756.2,436.8" fill="#6a9ad2" opacity="0.13"/><polygon points="733.1,464.9 737.5,464.9 734.6,447.4" fill="#80b0da" opacity="0.15"/><polygon points="808.1,430.1 810.5,430.1 809.1,390.6" fill="#6a9ad2" opacity="0.20"/><polygon points="770.7,472.3 775.7,472.3 773.5,399.2" fill="#80b0da" opacity="0.22"/><polygon points="622.8,441.9 627.1,441.9 624.2,416.9" fill="#98c4e4" opacity="0.23"/><polygon points="682.9,442.9 685.3,442.9 683.7,392.7" fill="#5f90cc" opacity="0.10"/><polygon points="595.6,418.8 597.8,418.8 597.8,416.2" fill="#6a9ad2" opacity="0.29"/><polygon points="716.8,467.7 719.1,467.7 718.6,414.3" fill="#6a9ad2" opacity="0.29"/><polygon points="904.2,408.9 908.0,408.9 904.8,403.6" fill="#6a9ad2" opacity="0.21"/><polygon points="643.8,453.3 646.9,453.3 646.9,428.1" fill="#5f90cc" opacity="0.21"/><polygon points="693.0,457.5 696.5,457.5 695.3,439.0" fill="#5f90cc" opacity="0.26"/><polygon points="715.3,467.5 719.6,467.5 716.3,406.9" fill="#5f90cc" opacity="0.22"/><polygon points="909.7,405.7 913.9,405.7 911.0,400.2" fill="#5f90cc" opacity="0.27"/><polygon points="815.5,420.1 819.8,420.1 816.4,386.1" fill="#98c4e4" opacity="0.23"/><polygon points="757.3,471.7 761.4,471.7 758.7,452.2" fill="#80b0da" opacity="0.15"/><polygon points="853.1,399.0 855.8,399.0 855.2,383.1" fill="#98c4e4" opacity="0.21"/><polygon points="770.9,473.2 774.1,473.2 772.8,455.5" fill="#98c4e4" opacity="0.20"/><polygon points="906.9,407.6 909.6,407.6 908.0,397.9" fill="#80b0da" opacity="0.22"/><polygon points="648.5,444.8 652.5,444.8 650.3,410.9" fill="#80b0da" opacity="0.21"/><polygon points="713.8,462.4 715.5,462.4 715.3,419.5" fill="#6a9ad2" opacity="0.17"/><polygon points="718.9,468.4 721.3,468.4 718.9,450.8" fill="#6a9ad2" opacity="0.23"/><polygon points="850.7,399.2 854.3,399.2 853.0,371.9" fill="#5f90cc" opacity="0.27"/><polygon points="881.2,404.3 883.1,404.3 882.2,394.3" fill="#5f90cc" opacity="0.28"/><polygon points="787.7,458.3 791.5,458.3 790.5,434.8" fill="#80b0da" opacity="0.20"/><polygon points="901.8,410.7 903.7,410.7 903.5,394.3" fill="#80b0da" opacity="0.15"/><polygon points="824.3,413.2 829.3,413.2 826.2,399.6" fill="#98c4e4" opacity="0.24"/><polygon points="908.2,406.6 912.0,406.6 909.1,401.1" fill="#98c4e4" opacity="0.27"/><polygon points="637.3,448.8 639.3,448.8 638.2,428.0" fill="#5f90cc" opacity="0.21"/><polygon points="714.3,466.6 717.4,466.6 717.0,418.1" fill="#6a9ad2" opacity="0.18"/><polygon points="868.9,405.5 873.0,405.5 870.6,376.0" fill="#6a9ad2" opacity="0.12"/><polygon points="620.3,439.9 623.1,439.9 621.3,410.2" fill="#80b0da" opacity="0.17"/><polygon points="860.8,406.6 862.5,406.6 861.5,396.3" fill="#98c4e4" opacity="0.13"/><polygon points="807.5,430.5 810.3,430.5 810.1,413.2" fill="#5f90cc" opacity="0.19"/><polygon points="691.0,453.3 694.4,453.3 692.2,420.3" fill="#80b0da" opacity="0.15"/><polygon points="741.4,464.7 743.0,464.7 742.2,436.9" fill="#98c4e4" opacity="0.17"/><polygon points="597.2,419.1 599.5,419.1 598.2,416.4" fill="#5f90cc" opacity="0.16"/><polygon points="856.0,398.5 859.5,398.5 857.9,376.6" fill="#6a9ad2" opacity="0.15"/><polygon points="883.1,404.1 885.9,404.1 883.8,389.4" fill="#6a9ad2" opacity="0.17"/><polygon points="815.2,420.1 820.2,420.1 818.0,403.4" fill="#6a9ad2" opacity="0.11"/><polygon points="818.1,417.7 821.9,417.7 820.5,406.6" fill="#80b0da" opacity="0.21"/><polygon points="609.8,438.8 612.3,438.8 612.1,433.0" fill="#98c4e4" opacity="0.19"/><polygon points="825.3,413.1 828.5,413.1 826.9,395.2" fill="#80b0da" opacity="0.20"/><polygon points="829.0,411.3 832.2,411.3 831.2,397.7" fill="#5f90cc" opacity="0.21"/><polygon points="682.5,442.8 685.7,442.8 685.2,404.1" fill="#5f90cc" opacity="0.13"/><polygon points="838.5,402.9 841.7,402.9 839.7,380.0" fill="#98c4e4" opacity="0.22"/><polygon points="789.1,457.8 791.4,457.8 788.8,430.5" fill="#6a9ad2" opacity="0.23"/><polygon points="708.6,453.3 713.0,453.3 710.1,405.2" fill="#80b0da" opacity="0.30"/><polygon points="605.8,438.0 608.6,438.0 606.6,432.2" fill="#80b0da" opacity="0.22"/><polygon points="734.9,464.6 739.3,464.6 737.8,403.5" fill="#6a9ad2" opacity="0.20"/><polygon points="683.5,446.1 688.2,446.1 686.2,395.5" fill="#6a9ad2" opacity="0.19"/><polygon points="604.2,432.4 607.4,432.4 605.4,422.3" fill="#80b0da" opacity="0.29"/><polygon points="736.2,464.4 739.9,464.4 738.0,392.2" fill="#5f90cc" opacity="0.19"/><polygon points="753.9,469.5 756.1,469.5 755.8,411.0" fill="#80b0da" opacity="0.12"/><polygon points="848.9,399.4 853.6,399.4 851.5,374.2" fill="#6a9ad2" opacity="0.28"/><polygon points="676.6,434.8 679.0,434.8 677.0,397.2" fill="#80b0da" opacity="0.12"/><polygon points="830.3,409.5 834.7,409.5 831.1,388.6" fill="#6a9ad2" opacity="0.22"/><polygon points="863.2,408.4 867.3,408.4 866.2,383.8" fill="#98c4e4" opacity="0.15"/><polygon points="775.2,469.2 776.8,469.2 775.3,393.4" fill="#6a9ad2" opacity="0.28"/><polygon points="615.7,437.1 617.7,437.1 615.8,413.7" fill="#98c4e4" opacity="0.20"/><polygon points="711.3,453.3 712.9,453.3 710.7,434.9" fill="#5f90cc" opacity="0.27"/><polygon points="911.1,405.5 913.2,405.5 913.6,399.8" fill="#80b0da" opacity="0.12"/><polygon points="604.4,433.7 607.6,433.7 604.6,428.7" fill="#5f90cc" opacity="0.16"/><polygon points="864.9,408.1 866.9,408.1 867.1,382.0" fill="#80b0da" opacity="0.13"/><polygon points="688.6,451.0 691.6,451.0 690.0,424.0" fill="#80b0da" opacity="0.16"/><polygon points="791.4,456.1 793.4,456.1 791.2,428.4" fill="#98c4e4" opacity="0.24"/><polygon points="893.7,407.7 897.5,407.7 894.7,394.8" fill="#5f90cc" opacity="0.24"/><polygon points="607.8,438.6 611.8,438.6 608.6,419.8" fill="#80b0da" opacity="0.24"/><polygon points="636.3,448.4 639.3,448.4 637.5,429.4" fill="#5f90cc" opacity="0.18"/><polygon points="699.2,461.9 703.7,461.9 701.3,398.5" fill="#80b0da" opacity="0.30"/><polygon points="894.0,408.0 898.4,408.0 894.9,389.7" fill="#6a9ad2" opacity="0.19"/><polygon points="836.6,403.4 841.1,403.4 838.5,381.6" fill="#5f90cc" opacity="0.28"/><polygon points="857.0,400.7 860.8,400.7 859.9,381.5" fill="#6a9ad2" opacity="0.26"/><polygon points="611.2,439.0 612.9,439.0 613.1,433.3" fill="#80b0da" opacity="0.27"/><polygon points="731.8,465.1 736.7,465.1 734.9,445.2" fill="#80b0da" opacity="0.20"/><polygon points="779.4,465.4 782.0,465.4 781.0,420.4" fill="#5f90cc" opacity="0.26"/><polygon points="649.5,444.8 651.4,444.8 650.0,408.0" fill="#98c4e4" opacity="0.14"/><polygon points="785.5,459.7 790.2,459.7 787.6,425.8" fill="#6a9ad2" opacity="0.17"/><polygon points="834.0,406.1 837.8,406.1 837.3,383.0" fill="#80b0da" opacity="0.23"/><polygon points="909.9,405.8 913.1,405.8 911.3,402.7" fill="#6a9ad2" opacity="0.24"/><polygon points="741.1,465.0 745.6,465.0 744.0,438.8" fill="#98c4e4" opacity="0.13"/><polygon points="901.6,410.0 906.6,410.0 903.0,394.6" fill="#5f90cc" opacity="0.13"/><polygon points="862.8,409.1 864.7,409.1 863.1,401.0" fill="#6a9ad2" opacity="0.11"/><polygon points="717.3,467.7 719.2,467.7 717.3,423.8" fill="#5f90cc" opacity="0.11"/><polygon points="725.6,467.3 727.7,467.3 725.6,410.3" fill="#98c4e4" opacity="0.16"/><polygon points="674.9,433.8 676.6,433.8 674.8,413.2" fill="#6a9ad2" opacity="0.10"/><polygon points="793.6,453.3 797.1,453.3 796.6,427.3" fill="#80b0da" opacity="0.27"/><polygon points="634.8,446.6 636.5,446.6 636.3,424.1" fill="#98c4e4" opacity="0.25"/><polygon points="822.8,413.9 827.6,413.9 824.0,387.8" fill="#98c4e4" opacity="0.16"/><polygon points="879.0,404.4 883.4,404.4 880.9,395.5" fill="#5f90cc" opacity="0.16"/><polygon points="840.7,401.9 843.5,401.9 841.4,384.4" fill="#98c4e4" opacity="0.12"/><polygon points="914.5,403.5 918.9,403.5 917.6,399.9" fill="#5f90cc" opacity="0.25"/><polygon points="778.1,466.2 781.5,466.2 778.7,410.2" fill="#6a9ad2" opacity="0.16"/><polygon points="893.4,407.4 896.8,407.4 896.3,386.8" fill="#5f90cc" opacity="0.15"/><polygon points="830.2,409.7 834.4,409.7 831.9,373.0" fill="#98c4e4" opacity="0.16"/><polygon points="730.4,465.6 733.4,465.6 730.7,412.5" fill="#80b0da" opacity="0.18"/><polygon points="880.6,404.3 884.0,404.3 881.5,391.8" fill="#98c4e4" opacity="0.23"/><polygon points="639.0,450.3 641.1,450.3 640.0,399.9" fill="#5f90cc" opacity="0.27"/><polygon points="838.7,402.7 842.0,402.7 839.3,379.5" fill="#6a9ad2" opacity="0.19"/><polygon points="870.5,405.3 873.0,405.3 870.7,380.2" fill="#80b0da" opacity="0.13"/><polygon points="840.9,401.9 843.4,401.9 841.6,370.1" fill="#5f90cc" opacity="0.27"/><polygon points="687.3,450.5 690.5,450.5 688.2,414.7" fill="#5f90cc" opacity="0.14"/><polygon points="912.5,404.3 916.1,404.3 913.0,400.8" fill="#98c4e4" opacity="0.20"/><polygon points="830.1,409.6 834.7,409.6 831.5,389.2" fill="#6a9ad2" opacity="0.13"/><polygon points="772.0,472.0 774.9,472.0 772.9,442.0" fill="#6a9ad2" opacity="0.23"/><polygon points="837.2,403.1 841.8,403.1 838.8,390.2" fill="#5f90cc" opacity="0.25"/><polygon points="873.0,405.0 877.3,405.0 876.0,375.4" fill="#6a9ad2" opacity="0.14"/><polygon points="618.5,439.1 622.3,439.1 621.6,400.9" fill="#80b0da" opacity="0.18"/><polygon points="689.5,451.2 691.2,451.2 691.7,430.5" fill="#5f90cc" opacity="0.16"/><polygon points="597.4,419.3 601.4,419.3 600.5,416.2" fill="#6a9ad2" opacity="0.23"/><polygon points="908.7,406.4 912.4,406.4 911.0,398.8" fill="#98c4e4" opacity="0.15"/><polygon points="780.1,464.4 783.8,464.4 780.7,407.2" fill="#80b0da" opacity="0.18"/><polygon points="913.2,404.0 916.4,404.0 914.4,399.7" fill="#80b0da" opacity="0.22"/><polygon points="675.4,433.9 677.9,433.9 676.6,410.7" fill="#5f90cc" opacity="0.17"/><polygon points="704.8,457.0 706.9,457.0 705.7,382.1" fill="#6a9ad2" opacity="0.21"/><polygon points="692.8,458.5 697.7,458.5 695.4,418.8" fill="#98c4e4" opacity="0.24"/><polygon points="601.6,421.7 605.1,421.7 602.4,416.8" fill="#5f90cc" opacity="0.15"/><polygon points="896.6,409.0 899.5,409.0 898.3,386.8" fill="#5f90cc" opacity="0.26"/><polygon points="678.5,437.5 682.6,437.5 680.8,413.9" fill="#5f90cc" opacity="0.10"/><polygon points="678.9,438.1 683.3,438.1 679.9,387.4" fill="#98c4e4" opacity="0.26"/><polygon points="808.3,429.8 810.9,429.8 809.8,395.5" fill="#6a9ad2" opacity="0.14"/><polygon points="858.0,401.9 861.0,401.9 860.1,376.8" fill="#5f90cc" opacity="0.13"/><polygon points="738.4,464.0 741.6,464.0 740.4,424.3" fill="#6a9ad2" opacity="0.12"/><polygon points="634.3,446.2 636.1,446.2 634.2,422.2" fill="#80b0da" opacity="0.24"/><polygon points="597.1,419.3 601.7,419.3 600.4,416.8" fill="#98c4e4" opacity="0.26"/><polygon points="880.3,404.4 883.5,404.4 881.3,387.7" fill="#98c4e4" opacity="0.29"/><polygon points="866.6,406.6 871.1,406.6 867.8,393.9" fill="#5f90cc" opacity="0.19"/><polygon points="876.9,404.6 881.0,404.6 878.3,386.5" fill="#98c4e4" opacity="0.25"/><polygon points="682.4,442.0 684.9,442.0 682.1,418.5" fill="#98c4e4" opacity="0.17"/><polygon points="666.4,437.6 668.3,437.6 667.0,395.8" fill="#5f90cc" opacity="0.13"/><polygon points="677.7,436.5 681.4,436.5 678.9,391.6" fill="#5f90cc" opacity="0.29"/><polygon points="846.7,399.9 848.9,399.9 848.3,375.4" fill="#98c4e4" opacity="0.11"/><polygon points="888.3,404.7 892.3,404.7 889.2,387.7" fill="#6a9ad2" opacity="0.18"/><polygon points="716.6,467.9 721.0,467.9 720.0,431.1" fill="#80b0da" opacity="0.22"/><polygon points="703.2,457.8 707.4,457.8 705.1,433.0" fill="#80b0da" opacity="0.12"/><polygon points="823.9,413.9 826.6,413.9 824.2,398.8" fill="#98c4e4" opacity="0.16"/><polygon points="914.2,403.8 916.2,403.8 914.2,397.6" fill="#80b0da" opacity="0.30"/><polygon points="839.1,402.3 843.7,402.3 841.3,377.3" fill="#5f90cc" opacity="0.29"/><polygon points="842.3,401.0 846.1,401.0 842.7,389.5" fill="#98c4e4" opacity="0.13"/><polygon points="737.8,464.0 742.1,464.0 739.7,423.6" fill="#6a9ad2" opacity="0.25"/><polygon points="672.5,433.6 677.4,433.6 674.0,391.4" fill="#5f90cc" opacity="0.26"/><polygon points="695.5,462.4 699.0,462.4 697.0,428.3" fill="#80b0da" opacity="0.22"/><polygon points="650.7,443.4 655.6,443.4 652.9,419.1" fill="#6a9ad2" opacity="0.25"/><polygon points="618.3,438.6 620.9,438.6 618.8,408.2" fill="#6a9ad2" opacity="0.22"/><polygon points="624.9,442.3 626.5,442.3 626.9,431.7" fill="#6a9ad2" opacity="0.25"/><polygon points="897.4,409.5 900.3,409.5 899.6,393.6" fill="#6a9ad2" opacity="0.13"/><polygon points="685.9,448.5 688.5,448.5 686.2,398.7" fill="#5f90cc" opacity="0.14"/><polygon points="700.7,461.1 704.8,461.1 703.4,444.8" fill="#5f90cc" opacity="0.13"/><polygon points="734.8,464.5 739.8,464.5 738.1,388.5" fill="#6a9ad2" opacity="0.17"/><polygon points="883.4,404.0 886.0,404.0 884.2,391.3" fill="#80b0da" opacity="0.22"/><polygon points="829.3,410.4 833.8,410.4 830.5,383.7" fill="#80b0da" opacity="0.12"/><polygon points="850.2,399.3 854.0,399.3 853.1,384.3" fill="#6a9ad2" opacity="0.17"/><polygon points="795.4,450.9 797.6,450.9 797.2,416.2" fill="#5f90cc" opacity="0.16"/><polygon points="689.1,451.6 693.5,451.6 691.8,423.3" fill="#6a9ad2" opacity="0.21"/><polygon points="597.7,419.3 601.1,419.3 600.1,415.7" fill="#80b0da" opacity="0.21"/><polygon points="717.9,468.5 722.9,468.5 720.5,446.0" fill="#6a9ad2" opacity="0.27"/><polygon points="757.3,471.5 760.7,471.5 759.0,409.9" fill="#98c4e4" opacity="0.29"/><polygon points="817.2,418.2 821.8,418.2 820.6,404.8" fill="#5f90cc" opacity="0.13"/><polygon points="721.6,468.8 723.4,468.8 722.5,408.6" fill="#6a9ad2" opacity="0.15"/><polygon points="890.0,405.0 891.7,405.0 892.2,388.2" fill="#6a9ad2" opacity="0.26"/><polygon points="720.1,469.0 724.0,469.0 723.1,442.2" fill="#80b0da" opacity="0.19"/><polygon points="890.9,405.5 892.6,405.5 892.9,396.0" fill="#5f90cc" opacity="0.25"/><polygon points="717.9,468.1 720.5,468.1 719.6,398.1" fill="#80b0da" opacity="0.16"/><polygon points="880.5,404.3 883.5,404.3 883.1,383.5" fill="#98c4e4" opacity="0.12"/><polygon points="766.5,478.0 771.0,478.0 767.9,435.9" fill="#98c4e4" opacity="0.18"/><polygon points="723.4,467.6 728.0,467.6 727.2,397.4" fill="#98c4e4" opacity="0.23"/><polygon points="688.1,451.0 691.7,451.0 689.9,392.4" fill="#5f90cc" opacity="0.26"/><polygon points="863.4,408.3 867.3,408.3 864.5,396.0" fill="#98c4e4" opacity="0.14"/><polygon points="902.4,410.0 905.7,410.0 904.5,396.7" fill="#6a9ad2" opacity="0.16"/><polygon points="717.1,468.1 721.4,468.1 720.7,426.3" fill="#5f90cc" opacity="0.16"/><polygon points="825.4,412.8 829.7,412.8 828.4,398.4" fill="#98c4e4" opacity="0.27"/><polygon points="897.1,409.8 901.8,409.8 900.4,394.7" fill="#5f90cc" opacity="0.21"/><polygon points="904.0,409.0 907.8,409.0 906.5,395.9" fill="#98c4e4" opacity="0.26"/><polygon points="644.6,453.1 646.4,453.1 644.3,393.6" fill="#80b0da" opacity="0.21"/><polygon points="674.1,433.7 677.2,433.7 674.7,420.5" fill="#6a9ad2" opacity="0.23"/><polygon points="791.6,454.8 796.3,454.8 794.0,437.5" fill="#5f90cc" opacity="0.27"/><polygon points="640.2,452.5 645.2,452.5 642.0,403.9" fill="#80b0da" opacity="0.24"/><polygon points="648.4,445.4 651.2,445.4 651.1,412.8" fill="#98c4e4" opacity="0.27"/><polygon points="871.5,405.2 874.3,405.2 874.1,375.9" fill="#6a9ad2" opacity="0.11"/><polygon points="722.9,468.0 726.4,468.0 723.5,422.8" fill="#5f90cc" opacity="0.20"/><polygon points="764.5,477.5 768.0,477.5 767.3,441.8" fill="#98c4e4" opacity="0.17"/><polygon points="819.5,416.5 822.9,416.5 820.6,375.9" fill="#80b0da" opacity="0.21"/><polygon points="644.5,451.5 648.3,451.5 645.0,391.7" fill="#98c4e4" opacity="0.23"/><polygon points="839.6,402.7 841.3,402.7 840.5,374.6" fill="#5f90cc" opacity="0.13"/><polygon points="825.9,412.9 828.7,412.9 828.7,388.1" fill="#98c4e4" opacity="0.29"/><polygon points="625.9,443.1 629.7,443.1 627.5,396.4" fill="#98c4e4" opacity="0.29"/><polygon points="711.0,453.0 713.0,453.0 710.7,413.3" fill="#80b0da" opacity="0.19"/><polygon points="725.4,467.1 728.9,467.1 728.0,437.6" fill="#80b0da" opacity="0.27"/><polygon points="692.0,453.8 693.9,453.8 694.1,384.2" fill="#5f90cc" opacity="0.27"/><polygon points="909.8,406.2 912.0,406.2 909.9,401.9" fill="#98c4e4" opacity="0.20"/><polygon points="752.3,468.8 755.0,468.8 754.6,395.0" fill="#6a9ad2" opacity="0.16"/><polygon points="657.1,441.0 659.1,441.0 658.1,385.1" fill="#5f90cc" opacity="0.22"/><polygon points="655.1,441.7 658.2,441.7 657.0,386.6" fill="#6a9ad2" opacity="0.13"/><polygon points="760.7,474.6 765.3,474.6 763.3,455.0" fill="#80b0da" opacity="0.21"/><polygon points="703.4,458.5 706.2,458.5 705.6,404.6" fill="#80b0da" opacity="0.10"/><polygon points="886.5,403.6 890.3,403.6 887.2,388.2" fill="#6a9ad2" opacity="0.11"/><polygon points="722.1,468.1 726.8,468.1 725.5,389.4" fill="#98c4e4" opacity="0.12"/><polygon points="849.2,399.5 851.6,399.5 849.7,374.6" fill="#80b0da" opacity="0.27"/><polygon points="853.8,398.8 857.5,398.8 855.2,384.1" fill="#98c4e4" opacity="0.20"/><polygon points="847.3,399.7 850.7,399.7 849.2,375.0" fill="#6a9ad2" opacity="0.28"/><polygon points="687.0,450.0 689.0,450.0 689.1,419.1" fill="#6a9ad2" opacity="0.13"/><polygon points="873.2,404.9 877.8,404.9 876.0,388.1" fill="#98c4e4" opacity="0.23"/><polygon points="898.0,410.0 901.6,410.0 899.6,394.9" fill="#6a9ad2" opacity="0.13"/><polygon points="789.7,457.4 791.8,457.4 790.0,428.0" fill="#5f90cc" opacity="0.16"/><polygon points="663.5,438.7 665.9,438.7 665.9,416.3" fill="#5f90cc" opacity="0.11"/><polygon points="870.1,405.2 874.4,405.2 872.6,377.6" fill="#98c4e4" opacity="0.15"/><polygon points="908.5,406.9 910.6,406.9 910.3,400.2" fill="#6a9ad2" opacity="0.27"/><polygon points="888.3,404.9 893.0,404.9 890.3,383.3" fill="#80b0da" opacity="0.23"/><polygon points="862.1,408.9 866.3,408.9 863.3,375.6" fill="#6a9ad2" opacity="0.22"/><polygon points="630.2,445.0 634.6,445.0 631.1,416.8" fill="#80b0da" opacity="0.13"/><polygon points="809.2,428.4 812.8,428.4 810.5,410.9" fill="#80b0da" opacity="0.11"/><polygon points="860.7,409.1 864.9,409.1 862.2,395.2" fill="#5f90cc" opacity="0.17"/><polygon points="888.0,404.7 892.9,404.7 889.0,392.8" fill="#98c4e4" opacity="0.22"/><polygon points="769.8,473.8 774.3,473.8 770.8,416.1" fill="#5f90cc" opacity="0.13"/><polygon points="691.2,454.8 695.5,454.8 694.7,384.8" fill="#6a9ad2" opacity="0.30"/><polygon points="830.1,410.7 832.5,410.7 832.6,394.2" fill="#98c4e4" opacity="0.25"/><polygon points="886.3,403.7 888.0,403.7 886.6,390.4" fill="#98c4e4" opacity="0.12"/><polygon points="903.5,409.3 907.2,409.3 906.8,395.6" fill="#5f90cc" opacity="0.29"/><polygon points="746.7,466.5 750.0,466.5 747.6,420.7" fill="#80b0da" opacity="0.26"/><polygon points="844.3,400.5 846.3,400.5 846.1,371.2" fill="#5f90cc" opacity="0.19"/><polygon points="643.7,453.7 645.4,453.7 644.5,406.5" fill="#5f90cc" opacity="0.16"/><polygon points="821.3,415.3 823.9,415.3 822.1,379.7" fill="#98c4e4" opacity="0.29"/><polygon points="823.5,413.9 827.1,413.9 826.4,389.9" fill="#6a9ad2" opacity="0.14"/><polygon points="733.7,465.0 736.1,465.0 735.7,412.7" fill="#80b0da" opacity="0.14"/><polygon points="807.6,429.4 812.6,429.4 811.0,381.3" fill="#98c4e4" opacity="0.13"/><polygon points="626.8,443.6 631.5,443.6 630.3,402.9" fill="#6a9ad2" opacity="0.27"/><polygon points="876.7,404.6 881.3,404.6 879.0,382.6" fill="#5f90cc" opacity="0.29"/><polygon points="867.6,406.1 871.9,406.1 869.9,375.1" fill="#80b0da" opacity="0.26"/><polygon points="635.8,447.9 638.7,447.9 638.0,414.2" fill="#5f90cc" opacity="0.25"/><polygon points="632.4,445.4 634.4,445.4 633.5,396.3" fill="#6a9ad2" opacity="0.25"/><polygon points="640.8,452.4 644.5,452.4 642.9,423.4" fill="#6a9ad2" opacity="0.18"/><polygon points="699.8,461.5 704.4,461.5 700.9,406.4" fill="#6a9ad2" opacity="0.13"/><polygon points="824.7,413.7 826.7,413.7 825.8,391.2" fill="#6a9ad2" opacity="0.20"/><polygon points="682.0,441.4 684.6,441.4 681.9,393.2" fill="#80b0da" opacity="0.27"/><polygon points="659.1,439.7 663.2,439.7 660.0,425.3" fill="#80b0da" opacity="0.24"/><polygon points="742.7,465.5 747.0,465.5 745.4,447.6" fill="#98c4e4" opacity="0.23"/><polygon points="847.8,399.7 850.9,399.7 850.4,389.7" fill="#5f90cc" opacity="0.27"/><polygon points="663.4,438.4 668.2,438.4 664.8,405.5" fill="#80b0da" opacity="0.20"/><polygon points="883.8,403.9 887.4,403.9 886.8,394.7" fill="#98c4e4" opacity="0.11"/><polygon points="770.5,473.4 774.3,473.4 771.3,400.7" fill="#5f90cc" opacity="0.30"/><polygon points="637.0,449.2 640.3,449.2 638.0,407.5" fill="#98c4e4" opacity="0.28"/><polygon points="703.3,338.0 706.1,338.0 703.9,352.8" fill="#e8f4f6" opacity="0.08"/><polygon points="828.4,351.9 831.2,351.9 830.0,378.0" fill="#d0e8f2" opacity="0.08"/><polygon points="634.6,356.0 636.4,356.0 635.4,368.8" fill="#d0e8f2" opacity="0.07"/><polygon points="769.6,374.3 773.8,374.3 771.4,396.9" fill="#d0e8f2" opacity="0.09"/><polygon points="866.0,357.3 868.1,357.3 868.0,381.8" fill="#d0e8f2" opacity="0.17"/><polygon points="800.9,346.0 802.9,346.0 801.5,369.0" fill="#f2f2e2" opacity="0.18"/><polygon points="693.9,335.4 695.9,335.4 694.0,353.2" fill="#f2f2e2" opacity="0.11"/><polygon points="759.0,357.9 761.7,357.9 760.1,368.5" fill="#f2f2e2" opacity="0.08"/><polygon points="722.9,387.2 727.8,387.2 725.2,411.5" fill="#e8f4f6" opacity="0.10"/><polygon points="684.6,332.1 689.4,332.1 687.3,360.4" fill="#f2f2e2" opacity="0.16"/><polygon points="737.3,342.7 740.0,342.7 739.3,366.1" fill="#e8f4f6" opacity="0.14"/><polygon points="792.7,353.6 797.4,353.6 796.0,378.9" fill="#e8f4f6" opacity="0.12"/><polygon points="700.1,362.0 704.4,362.0 702.3,389.7" fill="#d0e8f2" opacity="0.06"/><polygon points="778.6,393.7 780.8,393.7 779.3,420.8" fill="#e8f4f6" opacity="0.15"/><polygon points="599.5,413.2 601.3,413.2 600.1,441.3" fill="#d0e8f2" opacity="0.11"/><polygon points="876.6,362.8 880.9,362.8 878.9,372.3" fill="#e8f4f6" opacity="0.18"/><polygon points="904.4,385.0 907.3,385.0 905.3,412.1" fill="#e8f4f6" opacity="0.14"/><polygon points="843.9,347.5 848.0,347.5 846.8,366.2" fill="#e8f4f6" opacity="0.09"/><polygon points="755.7,344.6 758.2,344.6 756.7,351.6" fill="#f2f2e2" opacity="0.16"/><polygon points="680.0,375.1 682.7,375.1 681.7,404.8" fill="#e8f4f6" opacity="0.16"/><polygon points="694.0,348.1 695.8,348.1 694.8,372.2" fill="#e8f4f6" opacity="0.10"/><polygon points="811.1,352.0 814.4,352.0 812.3,360.0" fill="#f2f2e2" opacity="0.08"/><polygon points="891.6,367.9 894.2,367.9 893.4,397.0" fill="#e8f4f6" opacity="0.15"/><polygon points="639.4,375.1 643.3,375.1 641.1,398.8" fill="#f2f2e2" opacity="0.14"/><polygon points="634.7,388.0 639.2,388.0 636.4,411.2" fill="#d0e8f2" opacity="0.17"/><polygon points="910.3,396.3 914.2,396.3 911.7,409.9" fill="#d0e8f2" opacity="0.05"/><polygon points="826.0,344.8 829.3,344.8 826.8,356.9" fill="#f2f2e2" opacity="0.10"/><polygon points="900.7,372.6 902.6,372.6 900.9,389.3" fill="#f2f2e2" opacity="0.12"/><polygon points="678.4,356.6 681.9,356.6 679.3,381.6" fill="#f2f2e2" opacity="0.07"/><polygon points="703.0,365.7 705.4,365.7 703.6,383.4" fill="#e8f4f6" opacity="0.10"/><polygon points="768.9,387.4 772.2,387.4 770.7,396.1" fill="#d0e8f2" opacity="0.18"/><polygon points="895.7,373.5 898.0,373.5 897.3,384.2" fill="#d0e8f2" opacity="0.17"/><polygon points="816.5,373.9 820.6,373.9 818.3,400.7" fill="#d0e8f2" opacity="0.14"/><polygon points="731.1,340.5 733.4,340.5 732.0,348.6" fill="#e8f4f6" opacity="0.11"/><polygon points="802.5,376.0 805.5,376.0 804.9,383.4" fill="#f2f2e2" opacity="0.10"/><polygon points="681.9,353.2 686.4,353.2 685.0,363.3" fill="#d0e8f2" opacity="0.15"/><polygon points="615.0,390.9 619.3,390.9 616.6,400.9" fill="#f2f2e2" opacity="0.15"/><polygon points="780.6,353.9 785.4,353.9 783.1,371.1" fill="#d0e8f2" opacity="0.08"/><polygon points="735.1,369.3 736.8,369.3 736.7,381.8" fill="#e8f4f6" opacity="0.12"/><polygon points="781.8,392.0 783.5,392.0 782.0,405.7" fill="#e8f4f6" opacity="0.14"/><polygon points="664.3,358.8 668.2,358.8 666.3,386.4" fill="#d0e8f2" opacity="0.07"/><polygon points="754.0,342.2 758.1,342.2 755.2,354.0" fill="#f2f2e2" opacity="0.12"/><polygon points="640.6,381.9 643.9,381.9 642.3,408.6" fill="#e8f4f6" opacity="0.14"/><polygon points="791.1,333.3 795.2,333.3 793.0,341.6" fill="#d0e8f2" opacity="0.11"/><polygon points="698.1,380.6 700.5,380.6 698.4,395.5" fill="#e8f4f6" opacity="0.08"/><polygon points="784.3,332.5 786.5,332.5 785.0,359.2" fill="#d0e8f2" opacity="0.16"/><polygon points="784.6,375.4 787.6,375.4 786.2,392.4" fill="#f2f2e2" opacity="0.08"/><polygon points="596.9,414.9 599.8,414.9 598.0,444.2" fill="#f2f2e2" opacity="0.09"/><polygon points="759.1,350.5 760.9,350.5 759.7,359.6" fill="#f2f2e2" opacity="0.12"/><polygon points="727.0,394.1 731.2,394.1 729.3,421.4" fill="#d0e8f2" opacity="0.13"/><polygon points="629.0,367.0 633.6,367.0 630.8,391.4" fill="#e8f4f6" opacity="0.08"/><polygon points="817.1,375.3 821.1,375.3 819.9,384.7" fill="#f2f2e2" opacity="0.12"/><polygon points="653.6,379.0 656.0,379.0 655.8,387.6" fill="#e8f4f6" opacity="0.09"/><polygon points="908.6,397.1 912.5,397.1 911.5,407.4" fill="#e8f4f6" opacity="0.07"/><polygon points="877.2,363.6 881.7,363.6 879.3,392.1" fill="#e8f4f6" opacity="0.09"/><polygon points="692.0,349.1 696.5,349.1 693.6,368.4" fill="#d0e8f2" opacity="0.11"/><polygon points="667.1,378.7 669.3,378.7 669.1,402.0" fill="#f2f2e2" opacity="0.07"/><polygon points="872.4,375.3 875.0,375.3 874.1,397.3" fill="#e8f4f6" opacity="0.12"/><polygon points="681.0,337.7 684.5,337.7 683.6,345.7" fill="#d0e8f2" opacity="0.08"/><polygon points="829.8,347.0 834.1,347.0 832.4,365.4" fill="#f2f2e2" opacity="0.13"/><polygon points="735.1,382.6 739.7,382.6 738.2,407.9" fill="#f2f2e2" opacity="0.17"/><polygon points="731.8,392.8 733.9,392.8 733.5,410.4" fill="#e8f4f6" opacity="0.14"/><polygon points="612.2,414.5 614.8,414.5 612.5,434.8" fill="#d0e8f2" opacity="0.09"/><polygon points="767.3,361.3 771.5,361.3 768.5,379.3" fill="#e8f4f6" opacity="0.08"/><polygon points="782.5,348.7 785.8,348.7 784.3,362.7" fill="#d0e8f2" opacity="0.09"/><polygon points="805.0,371.3 807.3,371.3 806.1,397.7" fill="#e8f4f6" opacity="0.06"/><polygon points="833.1,369.2 837.0,369.2 834.4,383.6" fill="#f2f2e2" opacity="0.18"/><polygon points="611.4,418.2 615.3,418.2 614.3,427.5" fill="#d0e8f2" opacity="0.17"/><polygon points="654.7,359.0 656.4,359.0 654.6,367.9" fill="#e8f4f6" opacity="0.06"/><polygon points="868.7,364.9 870.9,364.9 869.4,379.4" fill="#f2f2e2" opacity="0.06"/><polygon points="631.8,395.3 635.0,395.3 633.5,420.4" fill="#e8f4f6" opacity="0.10"/><polygon points="634.4,398.8 637.6,398.8 635.3,404.8" fill="#d0e8f2" opacity="0.15"/><polygon points="866.2,355.8 870.8,355.8 867.8,372.3" fill="#e8f4f6" opacity="0.14"/><polygon points="785.1,351.1 789.0,351.1 786.7,365.6" fill="#f2f2e2" opacity="0.11"/><polygon points="810.1,368.4 812.0,368.4 811.3,386.4" fill="#e8f4f6" opacity="0.07"/><polygon points="862.1,360.1 865.5,360.1 862.9,367.3" fill="#e8f4f6" opacity="0.13"/><polygon points="748.6,359.8 751.9,359.8 750.4,372.5" fill="#e8f4f6" opacity="0.10"/><polygon points="731.2,362.4 735.8,362.4 733.2,384.8" fill="#e8f4f6" opacity="0.10"/><polygon points="612.8,404.2 615.9,404.2 614.4,410.8" fill="#e8f4f6" opacity="0.12"/><polygon points="917.8,397.6 921.1,397.6 918.8,410.3" fill="#e8f4f6" opacity="0.05"/><polygon points="882.1,371.4 884.9,371.4 884.3,386.4" fill="#d0e8f2" opacity="0.07"/><polygon points="914.1,396.4 917.0,396.4 915.5,420.9" fill="#f2f2e2" opacity="0.05"/><polygon points="804.3,377.4 807.9,377.4 806.2,393.0" fill="#e8f4f6" opacity="0.12"/><polygon points="643.0,376.8 645.7,376.8 644.1,400.3" fill="#f2f2e2" opacity="0.12"/><polygon points="654.7,342.5 657.4,342.5 656.5,362.0" fill="#e8f4f6" opacity="0.18"/><polygon points="684.9,326.2 689.6,326.2 688.1,349.3" fill="#f2f2e2" opacity="0.08"/><polygon points="595.4,415.6 597.9,415.6 595.6,425.3" fill="#f2f2e2" opacity="0.17"/><polygon points="867.2,362.7 870.1,362.7 868.6,385.9" fill="#f2f2e2" opacity="0.14"/><polygon points="907.1,393.0 909.0,393.0 908.0,400.0" fill="#f2f2e2" opacity="0.08"/><polygon points="683.4,338.0 687.9,338.0 685.5,363.1" fill="#d0e8f2" opacity="0.12"/><polygon points="747.1,365.8 751.1,365.8 748.2,382.7" fill="#d0e8f2" opacity="0.05"/><polygon points="846.7,366.6 851.3,366.6 849.8,376.1" fill="#d0e8f2" opacity="0.10"/><polygon points="760.7,347.6 763.8,347.6 762.6,365.0" fill="#e8f4f6" opacity="0.12"/><polygon points="797.2,337.3 800.1,337.3 798.0,366.4" fill="#d0e8f2" opacity="0.06"/><polygon points="640.6,347.1 645.3,347.1 643.8,356.3" fill="#e8f4f6" opacity="0.14"/><polygon points="830.2,341.4 832.8,341.4 831.8,347.7" fill="#f2f2e2" opacity="0.12"/><polygon points="595.4,415.0 600.3,415.0 597.7,428.8" fill="#e8f4f6" opacity="0.14"/><polygon points="757.7,376.8 760.6,376.8 759.5,399.5" fill="#f2f2e2" opacity="0.05"/><polygon points="653.7,371.6 657.2,371.6 655.8,381.0" fill="#f2f2e2" opacity="0.13"/><polygon points="811.0,373.0 812.7,373.0 812.8,398.7" fill="#d0e8f2" opacity="0.14"/><polygon points="813.0,352.1 815.2,352.1 813.2,359.6" fill="#f2f2e2" opacity="0.10"/><polygon points="641.1,372.8 644.1,372.8 643.0,379.5" fill="#f2f2e2" opacity="0.14"/><polygon points="911.8,394.7 914.2,394.7 913.5,416.3" fill="#e8f4f6" opacity="0.13"/><polygon points="728.2,394.4 732.9,394.4 730.2,417.6" fill="#e8f4f6" opacity="0.14"/><polygon points="610.4,414.6 615.3,414.6 613.7,427.6" fill="#f2f2e2" opacity="0.14"/><polygon points="745.0,346.2 747.5,346.2 746.4,358.7" fill="#e8f4f6" opacity="0.17"/><polygon points="661.4,386.4 663.4,386.4 661.4,398.8" fill="#f2f2e2" opacity="0.06"/><polygon points="796.4,349.3 798.3,349.3 797.1,362.0" fill="#d0e8f2" opacity="0.15"/><polygon points="639.1,362.9 641.7,362.9 640.4,391.6" fill="#d0e8f2" opacity="0.10"/><polygon points="625.7,382.2 627.9,382.2 627.1,408.3" fill="#e8f4f6" opacity="0.14"/><polygon points="653.6,383.3 657.0,383.3 655.7,408.5" fill="#e8f4f6" opacity="0.16"/><polygon points="916.2,395.1 921.1,395.1 919.1,409.7" fill="#d0e8f2" opacity="0.10"/><polygon points="669.5,334.5 671.9,334.5 670.3,357.0" fill="#e8f4f6" opacity="0.09"/><polygon points="869.5,348.1 872.2,348.1 870.2,377.4" fill="#e8f4f6" opacity="0.12"/><polygon points="812.6,346.4 814.3,346.4 812.8,353.9" fill="#f2f2e2" opacity="0.18"/><polygon points="628.3,368.6 632.9,368.6 630.4,374.6" fill="#e8f4f6" opacity="0.13"/><polygon points="609.6,408.2 614.2,408.2 611.9,423.8" fill="#e8f4f6" opacity="0.06"/><polygon points="671.1,347.5 676.1,347.5 674.5,365.4" fill="#f2f2e2" opacity="0.08"/><polygon points="887.6,383.1 890.9,383.1 889.2,395.2" fill="#d0e8f2" opacity="0.06"/><polygon points="834.8,355.1 839.5,355.1 837.3,371.2" fill="#f2f2e2" opacity="0.18"/><polygon points="850.2,366.7 852.2,366.7 851.1,392.0" fill="#d0e8f2" opacity="0.15"/><polygon points="810.6,350.0 812.8,350.0 810.7,368.9" fill="#e8f4f6" opacity="0.16"/><polygon points="702.3,325.4 703.9,325.4 703.7,341.7" fill="#d0e8f2" opacity="0.11"/><polygon points="755.5,364.6 757.4,364.6 757.1,379.4" fill="#d0e8f2" opacity="0.10"/><polygon points="806.7,344.2 810.1,344.2 808.3,362.2" fill="#d0e8f2" opacity="0.08"/><polygon points="721.3,332.1 723.3,332.1 722.3,357.5" fill="#f2f2e2" opacity="0.16"/><polygon points="862.1,357.1 864.0,357.1 862.7,365.6" fill="#d0e8f2" opacity="0.07"/><polygon points="635.7,385.9 637.5,385.9 636.0,409.5" fill="#d0e8f2" opacity="0.13"/><polygon points="918.8,396.6 920.6,396.6 919.0,418.2" fill="#f2f2e2" opacity="0.15"/><polygon points="862.5,368.0 867.1,368.0 864.4,393.5" fill="#d0e8f2" opacity="0.14"/><polygon points="844.0,366.5 849.0,366.5 846.5,373.3" fill="#e8f4f6" opacity="0.16"/><polygon points="898.9,385.8 902.6,385.8 900.3,408.2" fill="#d0e8f2" opacity="0.15"/><polygon points="744.4,388.9 747.6,388.9 745.7,415.8" fill="#f2f2e2" opacity="0.10"/><polygon points="916.8,397.8 920.6,397.8 918.1,422.3" fill="#f2f2e2" opacity="0.05"/><polygon points="838.4,347.0 843.2,347.0 840.9,364.9" fill="#f2f2e2" opacity="0.12"/><polygon points="690.3,334.0 692.7,334.0 690.8,348.7" fill="#e8f4f6" opacity="0.10"/><polygon points="858.5,350.2 862.5,350.2 860.5,362.5" fill="#f2f2e2" opacity="0.16"/><polygon points="686.1,348.9 689.5,348.9 687.3,361.6" fill="#d0e8f2" opacity="0.06"/><polygon points="829.7,340.1 834.4,340.1 831.9,351.0" fill="#d0e8f2" opacity="0.13"/><polygon points="758.1,384.1 761.1,384.1 759.2,391.7" fill="#e8f4f6" opacity="0.16"/><polygon points="897.2,374.3 900.7,374.3 899.8,393.1" fill="#e8f4f6" opacity="0.06"/><polygon points="761.4,389.5 763.0,389.5 761.7,417.2" fill="#d0e8f2" opacity="0.08"/><polygon points="614.4,384.0 618.0,384.0 615.3,399.4" fill="#d0e8f2" opacity="0.05"/><polygon points="915.5,397.4 917.5,397.4 916.8,405.1" fill="#f2f2e2" opacity="0.15"/><polygon points="802.1,353.9 804.3,353.9 802.3,381.4" fill="#d0e8f2" opacity="0.15"/><polygon points="762.9,380.1 766.8,380.1 764.2,403.5" fill="#e8f4f6" opacity="0.06"/><polygon points="749.8,327.1 753.7,327.1 751.6,352.1" fill="#f2f2e2" opacity="0.13"/><polygon points="668.7,347.7 673.1,347.7 670.9,368.8" fill="#e8f4f6" opacity="0.10"/><polygon points="731.4,380.3 734.9,380.3 733.2,388.4" fill="#e8f4f6" opacity="0.09"/><polygon points="842.2,347.2 844.0,347.2 843.0,365.1" fill="#e8f4f6" opacity="0.12"/><polygon points="771.5,360.7 775.5,360.7 772.9,370.7" fill="#d0e8f2" opacity="0.11"/><polygon points="821.5,376.2 823.2,376.2 823.0,383.9" fill="#e8f4f6" opacity="0.09"/><polygon points="773.7,330.1 776.6,330.1 774.9,350.2" fill="#e8f4f6" opacity="0.06"/><polygon points="602.3,414.6 605.1,414.6 603.0,429.4" fill="#f2f2e2" opacity="0.09"/><polygon points="714.6,352.0 717.7,352.0 716.6,369.8" fill="#d0e8f2" opacity="0.10"/><polygon points="899.3,378.3 902.2,378.3 901.6,401.9" fill="#d0e8f2" opacity="0.15"/><polygon points="753.0,384.9 755.8,384.9 754.5,409.9" fill="#f2f2e2" opacity="0.11"/><polygon points="646.5,378.7 649.5,378.7 647.5,392.7" fill="#f2f2e2" opacity="0.14"/><polygon points="776.2,364.3 779.5,364.3 777.6,370.3" fill="#f2f2e2" opacity="0.13"/><polygon points="888.7,370.6 893.6,370.6 890.8,389.2" fill="#e8f4f6" opacity="0.16"/><polygon points="773.2,332.3 775.0,332.3 775.0,348.9" fill="#d0e8f2" opacity="0.06"/><polygon points="878.8,376.4 882.2,376.4 879.6,387.5" fill="#e8f4f6" opacity="0.16"/><polygon points="816.1,352.1 819.4,352.1 818.3,361.4" fill="#e8f4f6" opacity="0.12"/><polygon points="890.6,375.4 893.2,375.4 891.3,399.5" fill="#e8f4f6" opacity="0.07"/><polygon points="701.8,319.4 706.5,319.4 703.7,337.9" fill="#e8f4f6" opacity="0.16"/><polygon points="800.9,385.2 803.8,385.2 801.5,395.2" fill="#d0e8f2" opacity="0.17"/><polygon points="737.4,346.7 740.9,346.7 738.9,364.6" fill="#f2f2e2" opacity="0.07"/><polygon points="904.0,390.3 906.4,390.3 905.4,405.1" fill="#e8f4f6" opacity="0.06"/><polygon points="740.4,347.9 743.2,347.9 741.3,370.3" fill="#d0e8f2" opacity="0.06"/><polygon points="747.8,335.2 751.7,335.2 750.6,344.0" fill="#d0e8f2" opacity="0.17"/><polygon points="818.0,374.8 819.7,374.8 819.4,391.9" fill="#f2f2e2" opacity="0.17"/><polygon points="856.5,359.1 859.7,359.1 857.3,370.7" fill="#d0e8f2" opacity="0.06"/><polygon points="792.1,357.2 794.8,357.2 793.3,382.6" fill="#f2f2e2" opacity="0.12"/><polygon points="861.3,376.2 865.1,376.2 863.7,395.5" fill="#d0e8f2" opacity="0.12"/><polygon points="803.0,339.7 804.9,339.7 803.0,354.4" fill="#f2f2e2" opacity="0.16"/><polygon points="917.5,397.5 920.0,397.5 918.1,415.5" fill="#d0e8f2" opacity="0.10"/><polygon points="684.2,348.9 688.1,348.9 685.9,366.2" fill="#f2f2e2" opacity="0.07"/><polygon points="819.4,339.7 821.1,339.7 820.2,368.4" fill="#d0e8f2" opacity="0.15"/><polygon points="697.8,372.5 700.9,372.5 700.1,400.4" fill="#e8f4f6" opacity="0.17"/><polygon points="820.9,344.2 824.4,344.2 823.2,365.2" fill="#e8f4f6" opacity="0.11"/><polygon points="693.8,320.7 698.7,320.7 696.9,330.5" fill="#d0e8f2" opacity="0.08"/><polygon points="782.7,379.1 784.4,379.1 782.6,407.0" fill="#f2f2e2" opacity="0.15"/><polygon points="838.9,353.9 840.5,353.9 839.6,368.5" fill="#f2f2e2" opacity="0.10"/><polygon points="621.5,389.6 623.7,389.6 623.5,398.3" fill="#e8f4f6" opacity="0.07"/><polygon points="762.4,328.0 764.5,328.0 762.9,349.2" fill="#d0e8f2" opacity="0.16"/><polygon points="882.3,366.1 883.9,366.1 882.2,372.2" fill="#d0e8f2" opacity="0.05"/><polygon points="916.8,397.1 921.1,397.1 919.0,416.4" fill="#d0e8f2" opacity="0.09"/><polygon points="720.8,378.2 724.1,378.2 722.3,393.9" fill="#f2f2e2" opacity="0.07"/><polygon points="890.9,373.4 894.0,373.4 892.6,384.4" fill="#e8f4f6" opacity="0.10"/><polygon points="682.1,364.8 686.3,364.8 684.1,378.8" fill="#f2f2e2" opacity="0.10"/><polygon points="801.9,343.2 804.1,343.2 802.7,360.7" fill="#d0e8f2" opacity="0.17"/><polygon points="745.4,378.7 747.8,378.7 746.4,402.8" fill="#d0e8f2" opacity="0.10"/><polygon points="744.8,372.5 748.4,372.5 746.0,378.6" fill="#e8f4f6" opacity="0.17"/><polygon points="846.4,362.2 850.5,362.2 848.6,382.9" fill="#d0e8f2" opacity="0.09"/><polygon points="751.6,362.0 753.2,362.0 753.2,378.2" fill="#d0e8f2" opacity="0.13"/><polygon points="751.2,344.1 752.9,344.1 751.4,368.0" fill="#f2f2e2" opacity="0.17"/><polygon points="680.2,379.2 684.0,379.2 681.9,394.7" fill="#e8f4f6" opacity="0.08"/><polygon points="716.1,343.1 718.5,343.1 717.7,372.9" fill="#d0e8f2" opacity="0.06"/><polygon points="877.3,358.3 878.9,358.3 877.8,367.5" fill="#e8f4f6" opacity="0.09"/><polygon points="761.3,372.9 763.2,372.9 763.1,381.9" fill="#f2f2e2" opacity="0.08"/><polygon points="858.2,360.0 860.7,360.0 858.9,367.8" fill="#e8f4f6" opacity="0.09"/><polygon points="633.1,372.6 636.1,372.6 634.6,397.4" fill="#e8f4f6" opacity="0.14"/><polygon points="895.1,376.0 899.7,376.0 896.8,382.1" fill="#e8f4f6" opacity="0.11"/><polygon points="611.8,401.9 615.0,401.9 613.2,414.5" fill="#e8f4f6" opacity="0.13"/><polygon points="668.1,376.4 672.8,376.4 670.3,399.3" fill="#d0e8f2" opacity="0.13"/><polygon points="913.6,395.2 915.3,395.2 913.9,407.4" fill="#f2f2e2" opacity="0.10"/><polygon points="799.8,370.7 802.7,370.7 801.9,391.2" fill="#e8f4f6" opacity="0.08"/><polygon points="750.6,344.2 752.3,344.2 750.9,371.8" fill="#e8f4f6" opacity="0.05"/><polygon points="695.9,319.4 698.5,319.4 696.8,333.9" fill="#d0e8f2" opacity="0.16"/><polygon points="599.2,413.5 601.8,413.5 600.9,435.2" fill="#d0e8f2" opacity="0.11"/><polygon points="642.9,378.4 646.9,378.4 645.5,407.6" fill="#f2f2e2" opacity="0.16"/><polygon points="664.7,345.3 668.2,345.3 666.8,368.7" fill="#e8f4f6" opacity="0.06"/><polygon points="625.5,374.6 630.5,374.6 628.2,382.8" fill="#e8f4f6" opacity="0.12"/><polygon points="648.9,379.0 650.9,379.0 649.0,405.9" fill="#f2f2e2" opacity="0.13"/><polygon points="739.5,334.0 743.7,334.0 741.7,350.2" fill="#e8f4f6" opacity="0.13"/><polygon points="699.5,320.4 704.3,320.4 701.9,331.2" fill="#d0e8f2" opacity="0.17"/><polygon points="670.0,370.8 671.7,370.8 671.3,387.8" fill="#f2f2e2" opacity="0.07"/><polygon points="651.4,363.1 653.9,363.1 651.7,381.6" fill="#f2f2e2" opacity="0.17"/><polygon points="919.8,398.2 921.7,398.2 921.0,426.4" fill="#f2f2e2" opacity="0.17"/><polygon points="608.9,409.1 612.3,409.1 610.4,420.5" fill="#e8f4f6" opacity="0.17"/><polygon points="754.8,343.0 757.6,343.0 755.9,356.4" fill="#d0e8f2" opacity="0.11"/><polygon points="759.1,369.0 761.4,369.0 760.8,382.6" fill="#d0e8f2" opacity="0.12"/><polygon points="614.1,404.2 617.2,404.2 615.5,423.1" fill="#e8f4f6" opacity="0.08"/><polygon points="627.8,391.3 631.7,391.3 629.4,419.3" fill="#f2f2e2" opacity="0.10"/><polygon points="684.2,330.2 687.8,330.2 686.1,337.2" fill="#e8f4f6" opacity="0.08"/><polygon points="879.2,361.4 881.9,361.4 881.0,379.6" fill="#e8f4f6" opacity="0.10"/><polygon points="643.7,356.5 647.9,356.5 646.2,381.7" fill="#e8f4f6" opacity="0.13"/><polygon points="882.8,376.4 887.5,376.4 885.3,395.9" fill="#d0e8f2" opacity="0.05"/><polygon points="838.4,359.1 841.9,359.1 840.7,382.4" fill="#d0e8f2" opacity="0.08"/><polygon points="848.9,362.1 853.7,362.1 851.8,373.7" fill="#f2f2e2" opacity="0.07"/><polygon points="678.7,345.8 682.0,345.8 681.2,367.5" fill="#f2f2e2" opacity="0.15"/><polygon points="792.7,371.6 796.6,371.6 795.4,395.4" fill="#e8f4f6" opacity="0.08"/><polygon points="731.9,359.5 735.4,359.5 734.4,387.1" fill="#d0e8f2" opacity="0.15"/><polygon points="826.1,357.0 829.0,357.0 828.5,371.2" fill="#e8f4f6" opacity="0.15"/><polygon points="839.3,370.8 841.0,370.8 839.4,392.0" fill="#d0e8f2" opacity="0.13"/><polygon points="904.0,388.7 907.5,388.7 905.7,402.9" fill="#e8f4f6" opacity="0.11"/><polygon points="720.0,384.4 724.4,384.4 722.6,397.0" fill="#f2f2e2" opacity="0.13"/><polygon points="763.3,356.6 766.4,356.6 764.2,364.2" fill="#f2f2e2" opacity="0.07"/><polygon points="916.5,395.7 919.1,395.7 917.8,416.4" fill="#e8f4f6" opacity="0.07"/><polygon points="822.3,345.0 827.0,345.0 824.2,364.3" fill="#e8f4f6" opacity="0.15"/><polygon points="916.5,395.0 918.8,395.0 917.2,409.0" fill="#f2f2e2" opacity="0.09"/><polygon points="765.2,335.2 769.2,335.2 766.8,347.4" fill="#f2f2e2" opacity="0.14"/><polygon points="884.1,379.3 886.4,379.3 885.3,396.5" fill="#e8f4f6" opacity="0.12"/><polygon points="783.5,378.3 786.9,378.3 786.0,399.8" fill="#d0e8f2" opacity="0.06"/><polygon points="898.6,377.8 902.3,377.8 900.1,398.8" fill="#e8f4f6" opacity="0.10"/><polygon points="788.9,356.6 792.2,356.6 789.7,373.2" fill="#e8f4f6" opacity="0.16"/><polygon points="681.0,380.5 684.7,380.5 682.6,409.1" fill="#f2f2e2" opacity="0.06"/><polygon points="871.6,349.0 873.7,349.0 872.4,362.9" fill="#f2f2e2" opacity="0.17"/><polygon points="774.6,363.7 776.8,363.7 775.2,385.7" fill="#f2f2e2" opacity="0.18"/><polygon points="647.5,353.6 649.5,353.6 648.4,382.0" fill="#d0e8f2" opacity="0.15"/><polygon points="725.0,392.2 727.4,392.2 725.9,409.6" fill="#f2f2e2" opacity="0.16"/><polygon points="790.9,355.4 793.1,355.4 792.9,371.3" fill="#e8f4f6" opacity="0.10"/><polygon points="806.3,340.7 810.8,340.7 808.9,368.1" fill="#f2f2e2" opacity="0.14"/><polygon points="876.9,369.9 881.0,369.9 879.9,396.7" fill="#e8f4f6" opacity="0.09"/><polygon points="854.1,351.0 858.8,351.0 855.8,367.1" fill="#e8f4f6" opacity="0.15"/><polygon points="783.7,390.3 787.4,390.3 786.0,405.9" fill="#e8f4f6" opacity="0.14"/><polygon points="630.6,381.1 635.5,381.1 633.7,410.5" fill="#e8f4f6" opacity="0.16"/><polygon points="905.4,390.8 909.7,390.8 906.7,416.0" fill="#d0e8f2" opacity="0.17"/><polygon points="766.0,372.7 768.6,372.7 767.2,388.6" fill="#e8f4f6" opacity="0.18"/><polygon points="690.1,364.3 691.7,364.3 691.6,391.5" fill="#e8f4f6" opacity="0.11"/><polygon points="604.6,417.4 608.4,417.4 605.9,442.3" fill="#f2f2e2" opacity="0.09"/><polygon points="894.8,372.7 898.0,372.7 897.3,397.6" fill="#d0e8f2" opacity="0.06"/><polygon points="847.2,348.6 852.0,348.6 849.8,375.3" fill="#d0e8f2" opacity="0.11"/><polygon points="842.9,346.0 846.0,346.0 844.9,364.2" fill="#d0e8f2" opacity="0.08"/><polygon points="633.9,356.0 638.3,356.0 635.7,371.9" fill="#d0e8f2" opacity="0.09"/><polygon points="737.8,352.7 741.0,352.7 740.3,375.3" fill="#e8f4f6" opacity="0.17"/><polygon points="621.4,397.3 623.8,397.3 622.3,413.4" fill="#e8f4f6" opacity="0.06"/><polygon points="703.5,382.1 707.3,382.1 705.7,396.5" fill="#e8f4f6" opacity="0.13"/><polygon points="898.6,369.4 900.4,369.4 899.3,377.4" fill="#e8f4f6" opacity="0.12"/><polygon points="622.3,364.8 624.5,364.8 623.5,379.4" fill="#d0e8f2" opacity="0.09"/><polygon points="629.4,361.7 633.6,361.7 632.0,371.4" fill="#f2f2e2" opacity="0.09"/><polygon points="679.7,337.8 683.1,337.8 680.5,354.3" fill="#e8f4f6" opacity="0.07"/><polygon points="620.8,395.1 625.6,395.1 622.4,402.8" fill="#e8f4f6" opacity="0.09"/><polygon points="844.5,355.9 849.4,355.9 846.6,382.1" fill="#d0e8f2" opacity="0.08"/><polygon points="885.2,378.2 887.8,378.2 885.9,391.2" fill="#f2f2e2" opacity="0.10"/><polygon points="750.3,334.4 755.3,334.4 751.8,348.8" fill="#d0e8f2" opacity="0.06"/><polygon points="838.2,351.5 842.8,351.5 840.5,369.2" fill="#e8f4f6" opacity="0.17"/><polygon points="635.2,389.7 638.7,389.7 636.9,399.5" fill="#e8f4f6" opacity="0.14"/><polygon points="895.5,367.9 900.4,367.9 897.7,382.4" fill="#e8f4f6" opacity="0.10"/><polygon points="880.8,379.7 882.6,379.7 881.7,397.0" fill="#f2f2e2" opacity="0.10"/><polygon points="656.6,385.3 659.0,385.3 657.0,410.0" fill="#d0e8f2" opacity="0.08"/><polygon points="763.1,345.1 765.2,345.1 763.7,360.8" fill="#d0e8f2" opacity="0.13"/><polygon points="782.8,374.4 787.8,374.4 784.7,386.0" fill="#d0e8f2" opacity="0.16"/><polygon points="666.4,339.7 670.5,339.7 669.3,357.1" fill="#f2f2e2" opacity="0.06"/><polygon points="803.5,343.4 806.4,343.4 804.0,358.6" fill="#e8f4f6" opacity="0.09"/><polygon points="911.6,394.9 914.7,394.9 913.1,411.4" fill="#e8f4f6" opacity="0.12"/><polygon points="828.4,358.1 832.6,358.1 830.1,372.0" fill="#e8f4f6" opacity="0.08"/><polygon points="874.3,372.1 878.6,372.1 875.9,395.9" fill="#f2f2e2" opacity="0.12"/><polygon points="779.1,391.1 780.9,391.1 780.2,411.6" fill="#f2f2e2" opacity="0.05"/><polygon points="600.4,414.8 604.0,414.8 601.7,434.5" fill="#d0e8f2" opacity="0.12"/><polygon points="625.1,383.9 630.0,383.9 627.1,393.9" fill="#d0e8f2" opacity="0.12"/><polygon points="869.2,350.1 871.3,350.1 869.5,379.5" fill="#d0e8f2" opacity="0.13"/><polygon points="845.5,357.6 849.3,357.6 846.5,374.1" fill="#f2f2e2" opacity="0.05"/><polygon points="716.5,361.5 719.6,361.5 719.0,367.5" fill="#d0e8f2" opacity="0.16"/><polygon points="898.6,371.1 903.2,371.1 901.7,381.6" fill="#e8f4f6" opacity="0.17"/><polygon points="825.7,366.8 829.4,366.8 827.2,395.4" fill="#e8f4f6" opacity="0.11"/><polygon points="708.3,340.8 712.2,340.8 710.7,357.1" fill="#f2f2e2" opacity="0.10"/><polygon points="814.5,371.6 816.7,371.6 815.4,382.6" fill="#e8f4f6" opacity="0.18"/><polygon points="798.9,363.9 801.5,363.9 800.4,380.3" fill="#d0e8f2" opacity="0.09"/><polygon points="900.7,379.8 904.5,379.8 902.6,388.8" fill="#d0e8f2" opacity="0.06"/></g>
<polyline points="666.5,479.5 666.5,320.8 801.5,251.7 801.5,410.8 666.5,479.5" fill="none" stroke="#ff0000" stroke-width="1.2"/>
<text x="484.31" y="306.00" fill="#fafabe" textLength="10.19" lengthAdjust="spacingAndGlyphs">0</text><text x="468.34" y="332.58" fill="#fafabe" textLength="26.16" lengthAdjust="spacingAndGlyphs">-20</text><text x="468.34" y="359.16" fill="#fafabe" textLength="26.16" lengthAdjust="spacingAndGlyphs">-40</text><text x="468.34" y="385.74" fill="#fafabe" textLength="26.16" lengthAdjust="spacingAndGlyphs">-60</text><text x="468.34" y="412.32" fill="#fafabe" textLength="26.16" lengthAdjust="spacingAndGlyphs">-80</text><text x="458.16" y="438.90" fill="#fafabe" textLength="36.34" lengthAdjust="spacingAndGlyphs">-100</text><text x="458.16" y="465.48" fill="#fafabe" textLength="36.34" lengthAdjust="spacingAndGlyphs">-120</text><text x="467.45" y="472.00" fill="#fafabe" textLength="71.91" lengthAdjust="spacingAndGlyphs">12:02:40</text><text x="556.65" y="487.05" fill="#fafabe" textLength="71.91" lengthAdjust="spacingAndGlyphs">12:03:00</text><text x="645.85" y="502.10" fill="#fafabe" textLength="71.91" lengthAdjust="spacingAndGlyphs">12:03:20</text><text x="735.05" y="517.15" fill="#fafabe" textLength="71.91" lengthAdjust="spacingAndGlyphs">12:03:40</text><text x="794.00" y="515.20" fill="#fafabe" textLength="40.75" lengthAdjust="spacingAndGlyphs">1560</text><text x="816.47" y="503.66" fill="#fafabe" textLength="40.75" lengthAdjust="spacingAndGlyphs">1565</text><text x="838.94" y="492.12" fill="#fafabe" textLength="40.75" lengthAdjust="spacingAndGlyphs">1570</text><text x="861.41" y="480.58" fill="#fafabe" textLength="40.75" lengthAdjust="spacingAndGlyphs">1575</text><text x="883.88" y="469.04" fill="#fafabe" textLength="40.75" lengthAdjust="spacingAndGlyphs">1580</text><text x="906.35" y="457.50" fill="#fafabe" textLength="40.75" lengthAdjust="spacingAndGlyphs">1585</text><text x="928.82" y="445.96" fill="#fafabe" textLength="40.75" lengthAdjust="spacingAndGlyphs">1590</text><text x="951.29" y="434.42" fill="#fafabe" textLength="40.75" lengthAdjust="spacingAndGlyphs">1595</text><text x="0" y="0" fill="#fafabe" textLength="86.47" lengthAdjust="spacingAndGlyphs" transform="translate(435.6 425.235) rotate(-90) skewX(0)">PSD (dBm)</text><text x="0" y="0" fill="#fafabe" textLength="88.52" lengthAdjust="spacingAndGlyphs" transform="translate(552.5 503.8) rotate(10.1) skewX(-6)">Time (UTC)</text><text x="0" y="0" fill="#fafabe" textLength="134.52" lengthAdjust="spacingAndGlyphs" transform="translate(872.5 515.0) rotate(-27.6) skewX(0)">Frequency (MHz)</text>
</svg></body></html>
